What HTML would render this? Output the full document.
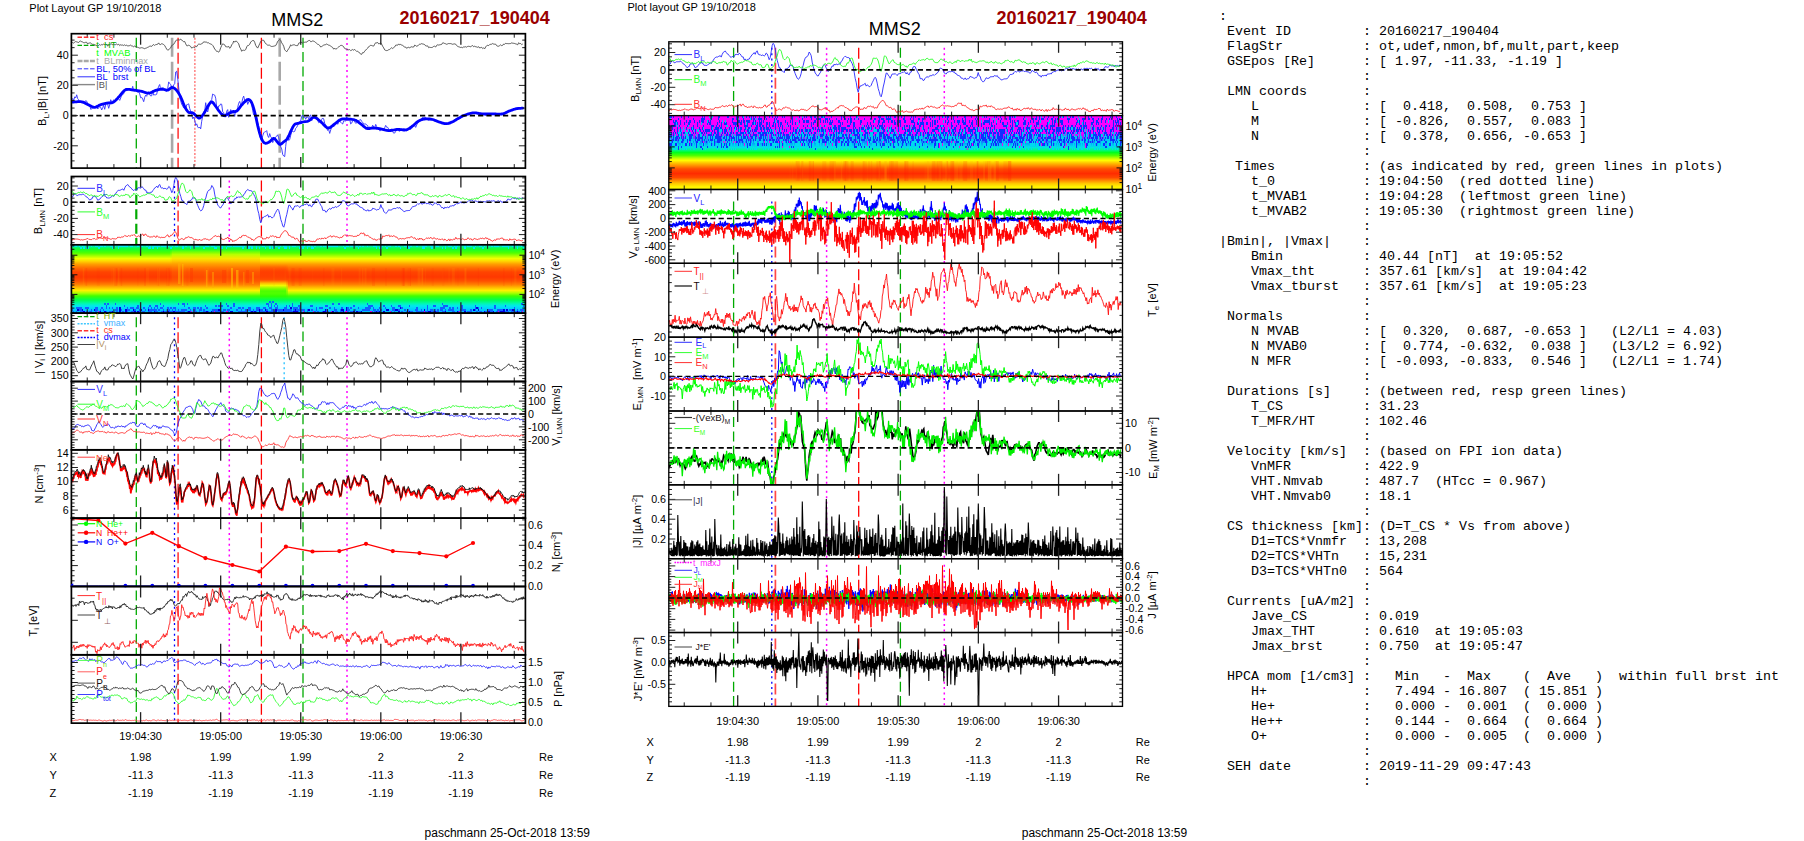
<!DOCTYPE html><html><head><meta charset="utf-8"><title>MMS2 20160217_190404</title><style>html,body{margin:0;padding:0;background:#fff}body{width:1804px;height:841px;overflow:hidden;font-family:"Liberation Sans",sans-serif}svg{display:block;position:absolute;left:0;top:0}text{font-kerning:none}</style></head><body><svg width="1804" height="841" viewBox="0 0 1804 841" font-family='"Liberation Sans", sans-serif'><defs><clipPath id="cl0"><rect x="71.40" y="33.70" width="454.00" height="134.40"/></clipPath><clipPath id="cl1"><rect x="71.40" y="176.50" width="454.00" height="68.33"/></clipPath><clipPath id="cl2"><rect x="71.40" y="244.83" width="454.00" height="68.33"/></clipPath><clipPath id="cl3"><rect x="71.40" y="313.16" width="454.00" height="68.33"/></clipPath><clipPath id="cl4"><rect x="71.40" y="381.49" width="454.00" height="68.33"/></clipPath><clipPath id="cl5"><rect x="71.40" y="449.82" width="454.00" height="68.33"/></clipPath><clipPath id="cl6"><rect x="71.40" y="518.15" width="454.00" height="68.33"/></clipPath><clipPath id="cl7"><rect x="71.40" y="586.48" width="454.00" height="68.33"/></clipPath><clipPath id="cl8"><rect x="71.40" y="654.81" width="454.00" height="68.33"/></clipPath></defs><line x1="136.30" y1="37.70" x2="136.30" y2="168.10" stroke="#00aa00" stroke-width="1.3" stroke-dasharray="10 4.4"/><line x1="303.00" y1="37.70" x2="303.00" y2="168.10" stroke="#00aa00" stroke-width="1.3" stroke-dasharray="10 4.4"/><line x1="172.10" y1="37.70" x2="172.10" y2="168.10" stroke="#a8a8a8" stroke-width="2.6" stroke-dasharray="19 5"/><line x1="279.70" y1="37.70" x2="279.70" y2="168.10" stroke="#a8a8a8" stroke-width="2.6" stroke-dasharray="19 5"/><line x1="178.10" y1="37.70" x2="178.10" y2="168.10" stroke="#ff3030" stroke-width="1.5" stroke-dasharray="11 4"/><line x1="261.40" y1="37.70" x2="261.40" y2="168.10" stroke="#ff0000" stroke-width="1.3" stroke-dasharray="11 4"/><line x1="194.90" y1="37.70" x2="194.90" y2="168.10" stroke="#ff5050" stroke-width="1.1" stroke-dasharray="2 1.6"/><line x1="347.00" y1="37.70" x2="347.00" y2="168.10" stroke="#ff00ff" stroke-width="1.5" stroke-dasharray="2 3.4"/><g clip-path="url(#cl0)"><path d="M71.7 42l1 .7 1 .4 1-.9 1-.7 1 .4 1 .3 1 .3 1-1.2 1-.4 1 1 1 .1 1 .7 1 0 1-.4 1 0 1 1.8 1-.9 1-.2 1 0 1 .9 1 .5 1 0 1 .4 1 .4 1 .4 1 .4 1-.4 1-1.2 1 1 1-1 1 .4 1-.7 1 .5 1-.4 1 .4 1 1.6 1-1.5 1 .2 1-1.1 1 .3 1 .6 1-.3 1 .3 1-.1 1-.6 1 .8 1-.6 1 1.4 1-.9 1 .5 1-.2 1 .5 1-.7 1 .8 1-.4 1 .7 1-.1 1-.2 1-.5 1 .9 1 .1 1 .7 1-.8 1 .6 1 .4 1 .3 1 .4 1 .4 1-.2 1-.2 1 .2 1 .4 1 .4 1-.5 1-.3 1-.6 1-.4 1-.7 1-.1 1 .3 1-1.2 1-.7 1 1 1-1 1 0 1-.3 1-1.3 1 1.6 1 0 1-.8 1 .3 1 .6 1 .9 1 1.9 1 1.7 1 1.1 1-.4 1-1.3 1-.7 1-2.3 1-.5 1-.7 1-1.6 1-2 1-.6 1-.1 1-.3 1 .4 1-1.1 1 .9 1 1.2 1 .6 1-.2 1 2.3 1 1.9 1 0 1-.5 1 .5 1 .8 1 1.6 1-.6 1-.4 1 .5 1-1.2 1 .3 1-1.8 1-.8 1 .1 1 .1 1-.6 1-.5 1-1.4 1 .2 1 .1 1 .1 1 .7 1-.1 1 .9 1 .3 1 .4 1 1 1 1.6 1 2 1 1.1 1 1.4 1-.1 1 .8 1-1.5 1-2.9 1-2.3 1-1.7 1 .5 1 .5 1 1.9 1 .1 1 .1 1-.5 1 1.9 1-1 1-2.5 1-1.1 1-2.7 1 1.2 1-1.2 1 .3 1 1.3 1 1.2 1 3.4 1 1.6 1 2.5 1-1 1-.1 1 .2 1-.8 1-2.7 1-1.5 1 0 1-1.1 1-2.2 1-1 1-.6 1 0 1 1.8 1 3.1 1 1.6 1 1.1 1-2.2 1-2.1 1-2.4 1-.6 1-.6 1 .1 1 1.9 1 1.5 1 .6 1 .9 1 0 1 0 1 .9 1 .4 1-.1 1-.2 1-.3 1-.3 1-1.8 1-2.5 1-.8 1-1.1 1 1 1 2.4 1 1.5 1 1.9 1 3.6 1 1 1 1 1-1.6 1-1.5 1-1.6 1-2.3 1 .9 1-.7 1-.2 1 .1 1 .6 1 .1 1 0 1-2.4 1-.2 1-1.2 1 .8 1 .4 1-.9 1 .2 1-.2 1 .1 1-1.2 1-.4 1-.2 1 1.3 1-.2 1-.6 1 .3 1 .5 1 .9 1 .8 1 .9 1 .3 1 .9 1 1.5 1-.5 1-.7 1-.7 1-.3 1-.2 1-.6 1 .6 1 .6 1 .2 1 .7 1 .7 1 .7 1 1.7 1-1.1 1 1.1 1-.5 1-1 1-.9 1-.5 1-.9 1 0 1 .4 1 1.1 1 1.6 1 .4 1 .3 1 .4 1 .2 1-.2 1 1 1-.5 1-.6 1 .7 1-.8 1 1.1 1 1 1-.2 1 .7 1 1 1 1.2 1 .1 1-1.8 1 .2 1-1.5 1-1.1 1-1.1 1-.8 1-1.6 1-.5 1-.8 1 .2 1 .4 1 .2 1-1.9 1-1.5 1 .2 1-.4 1 1.4 1-.4 1-.6 1 1.4 1 2 1 1.6 1 2 1 .5 1 .2 1-.2 1-.7 1-.3 1-.9 1-.8 1 .8 1-.9 1-.7 1-1.7 1-.1 1 .1 1-1.3 1 1 1-.5 1 .7 1 .3 1 .7 1 1.2 1-.3 1 1.4 1-.9 1-.2 1 .7 1-1.1 1-.1 1 .3 1-.1 1-1.9 1 .5 1 .7 1-.4 1-1.1 1-.6 1 0 1-.6 1 .4 1 .2 1 .4 1 1.3 1 .1 1-.1 1 1.8 1-.5 1 .3 1 0 1-.3 1-.8 1-.2 1 .8 1-1.7 1-.5 1 .3 1-.3 1-.2 1-.2 1-1.6 1 .2 1 .5 1 .3 1 .5 1-.4 1-.4 1 .1 1 0 1 .3 1 .4 1-.3 1-.1 1 .3 1 1.4 1 .8 1 .4 1 .3 1 .4 1-.2 1 .4 1-.8 1 .1 1-.3 1 .5 1-.8 1-.1 1 .2 1 .4 1-1.1 1-.2 1 1.1 1-.7 1 1 1-.1 1 .4 1-.6 1 1.3 1-.4 1-.3 1 1.3 1-.8 1 1 1-1.9 1-1.2 1-.4 1 .3 1-1.1 1-.2 1-.1 1-.7 1 .6 1 .1 1 0 1 1.5 1 .5 1 0 1-.6 1-.8 1 .9 1-.4 1-1.3 1 .3 1-1 1 .3 1 0 1 .1 1-.1 1-.1 1-.6 1 .3 1 .1 1 .2 1 .4 1 .3 1 .6 1-2.1 1 1 1-.2 1 1.1 1-.6" fill="none" stroke="#4a4a4a" stroke-width="0.9" /><path d="M71.7 100l1-1.5 1 2.1 1-3.8 1 1.1 1-3.1 1 3.9 1 1.1 1 3 1-1.2 1 .9 1-.5 1-.9 1 1.1 1-1.6 1 .6 1 2.5 1 .8 1-.2 1 5 1-.3 1-1.3 1 .4 1-1.2 1-.8 1-.8 1 3.7 1-1.3 1-.8 1 .4 1 2.7 1-2.3 1-2.4 1 4 1-4.6 1-1.3 1 1 1 3.9 1-3.3 1-5.3 1 2.1 1-1 1-.8 1 .7 1-.4 1-.5 1-2.1 1 1.4 1 1.3 1-2.4 1-3 1-.3 1-.9 1-3.6 1-1.5 1 2 1-.6 1-.9 1 .6 1 0 1 .2 1-3.7 1 4.6 1 .3 1-1.9 1 2.4 1 .5 1-.2 1 1.9 1 3.9 1-.5 1 1.8 1 2.6 1-4.4 1-2.1 1 1.1 1-4.2 1-.2 1 2.8 1 1.3 1-.2 1-5.3 1 4.6 1-.4 1 .1 1-.5 1-5 1-3 1-1.8 1 5.2 1-1.9 1 0 1 .1 1 1.9 1 1.2 1 .4 1-3 1-6.5 1 1.7 1 .8 1 3.5 1-.4 1-2.6 1-1.1 1-11.8 1-.8 1 7.1 1 9.3 1 10.2 1 3 1 3.5 1 1.6 1 2.1 1 .4 1 .8 1-4.5 1-.3 1-.6 1 4.7 1 2.9 1 3.3 1 4 1-1.7 1 3 1 5.3 1-1.5 1 3.1 1 1.2 1-1.1 1 1.9 1-7.6 1-5.1 1-4.6 1-.3 1-8.6 1 7 1 2.3 1-4.3 1-5.3 1-1.5 1-1.4 1-5.5 1 .7 1 .4 1 3.1 1 9 1 2.5 1-3.8 1-.2 1-1.8 1 .4 1 7.5 1 .8 1 4.4 1-.2 1-5.6 1-1.6 1 7.7 1-3.9 1-3.8 1 3.9 1-.6 1-.4 1 3.9 1-6.3 1 1.1 1-3.8 1-4.2 1-1.8 1 3.4 1-1.2 1-5.3 1-2.2 1 4.6 1 1.9 1-3.8 1 5.6 1-2.4 1-3 1 1 1 4.3 1 6.3 1 4.5 1 .7 1 1.6 1 .1 1 5.4 1 3.6 1 8.9 1 3.9 1 .9 1-4.3 1-3 1-1.1 1-.2 1-1 1 5.1 1 1.8 1-3.9 1 3.2 1 1.1 1 4.7 1-2.2 1-1 1-2.3 1-1 1-1.3 1 3 1 4.3 1 4.6 1 2.2 1 5.6 1 1.5 1 .6 1-10.3 1-8.6 1-2 1 4.8 1-.9 1-4.2 1-3.8 1-.2 1 .4 1-.4 1-3.1 1-1 1-2 1-1.4 1-2.4 1-.5 1-4.7 1-1.3 1 2.8 1-1.1 1 2.6 1-2.4 1 .2 1 1.6 1-2.5 1-1.4 1 6 1-2.9 1-2 1-.8 1 1.1 1 1 1 3.3 1 2.2 1-.8 1-.2 1-2.3 1-1.4 1 1 1 4.3 1 1.9 1 3 1 2.3 1-1 1 3.9 1-3.4 1-2.9 1-2 1 1.8 1-1.6 1-2.8 1 .3 1 1.5 1-1.9 1-1.7 1 1.6 1 1 1 .7 1-3.2 1 .1 1 .2 1-4.4 1 3.3 1 0 1-.9 1 4.9 1-.9 1-2.5 1-.2 1 1.3 1 1.6 1-.4 1-1.8 1-.6 1-.4 1-.5 1 1.9 1 .8 1 1.9 1-.2 1-.1 1 1.2 1 .5 1 3.1 1-1.9 1 .7 1 0 1-2.3 1 2.1 1 .6 1-3.5 1 2.2 1 2.2 1-1.3 1 3.3 1-.2 1-2.1 1 1.3 1-.4 1-1.7 1-2.3 1 1.9 1 0 1 1.9 1 1 1-.7 1-.5 1 2.6 1 1.6 1-.2 1-1.6 1-1.8 1-.6 1 2 1 .2 1-.7 1-1.5 1 .5 1-.7 1 .3 1 1 1 .8 1-.6 1-1.2 1-.5 1 .9 1-1 1-2.7 1 .8 1-1.1 1 1.9 1-2.5 1-1.6 1-1.4 1-.5 1-1.2 1-1.6 1-1.5 1 .3 1 0 1-.1 1 2.1 1 .4 1 .6 1-.7 1 .1 1-.2 1 0 1 .8 1 .6 1 .3 1 .3 1-.6 1 .1 1 .8 1 .2 1 0 1 .7 1-.1 1 0 1 .8 1-.1 1 .7 1-.1 1-.1 1-.1 1-1.9 1-.4 1-1.2 1-.6 1-.4 1 .2 1-.6 1 .2 1-1 1-.7 1-.6 1-.1 1-.7 1-.8 1-.5 1-1 1 .5 1 0 1-.2 1-.2 1-.7 1-.3 1 .3 1-.5 1-.2 1 1 1 .8 1 0 1 .2 1 0 1 .6 1-.5 1-.1 1 .1 1 .5 1-.4 1-.1 1-.4 1-.3 1-.3 1 .1 1 .5 1-.4 1-.1 1 0 1 .3 1 .4 1-.6 1 .3 1-.4 1 .4 1-.5 1-.6 1-.4 1-.3 1-.7 1-.2 1-.3 1-.4 1-.2 1 0 1-.7 1-.3 1-.3 1-1 1 .2 1-.3 1-.3 1 0 1 .2 1 .2 1 .2" fill="none" stroke="#3030ff" stroke-width="0.9" /><path d="M71.7 102.1l1 0 1-.1 1-.1 1 0 1-.1 1-.1 1-.1 1 0 1 .1 1 .1 1 .3 1 .4 1 .4 1 .5 1 .5 1 .5 1 .5 1 .5 1 .5 1 .6 1 .4 1 .3 1 .1 1-.2 1-.4 1-.5 1-.6 1-.5 1-.4 1-.3 1-.3 1-.3 1-.2 1-.2 1-.2 1-.2 1-.1 1 0 1 0 1-.1 1-.3 1-.5 1-.8 1-.9 1-1.1 1-1.1 1-1.2 1-1 1-1.2 1-1.2 1-1.3 1-1.1 1-.9 1-.5 1-.3 1-.1 1 0 1 .1 1 .2 1 .2 1 .2 1 .1 1 .1 1 .2 1 .1 1 .2 1 .2 1 .1 1 .2 1 .2 1 .3 1 .3 1 .3 1 .4 1 .3 1 .2 1 0 1-.2 1-.3 1-.4 1-.5 1-.5 1-.5 1-.4 1-.3 1-.3 1-.2 1-.2 1-.1 1-.1 1 .1 1 .2 1 .2 1 .3 1 .1 1 0 1-.4 1-.8 1-.8 1-.6 1 .1 1 .3 1 .6 1 .9 1 1.1 1 1.3 1 1.5 1 1.8 1 1.9 1 2.3 1 2.5 1 2.6 1 2.3 1 1.9 1 1.6 1 1.3 1 .8 1 .3 1 0 1 0 1 .2 1 .7 1 1 1 1 1 1 1 .8 1 .7 1 0 1-.7 1-1 1-1.2 1-1.4 1-1.5 1-1.9 1-1.9 1-1.9 1-1.6 1-1.4 1-1.2 1-.5 1 .5 1 1.2 1 1.5 1 1.3 1 1.4 1 1.5 1 1.5 1 1.2 1 1.2 1 1.1 1 .8 1 .6 1 0 1-.3 1-.6 1-.6 1-.5 1-.6 1-.6 1-.5 1-.3 1-.1 1 .1 1 0 1-.5 1-.9 1-1.2 1-1.4 1-1.4 1-1.3 1-1 1-1.1 1-1 1-.9 1-.8 1-.5 1-.1 1 .5 1 1 1 1.8 1 2.5 1 3.1 1 3.6 1 4.1 1 4.8 1 4.7 1 4 1 3.7 1 3.2 1 2.7 1 1.8 1 1.3 1 .7 1 .3 1-.1 1-.4 1-.5 1-.6 1-.9 1-1.1 1-.9 1-.4 1 .4 1 1.1 1 1.3 1 1.1 1 1.3 1 .8 1-.2 1-.6 1-.9 1-.9 1-.7 1-.7 1-.9 1-1.3 1-2 1-2.5 1-2.4 1-2 1-2 1-1.7 1-1.2 1-.6 1-.2 1-.2 1-.2 1-.3 1-.3 1-.3 1-.3 1-.2 1-.1 1 0 1-.2 1-.2 1-.5 1-.7 1-.9 1-.8 1-.7 1-.4 1 .1 1 .4 1 .6 1 .8 1 .8 1 .9 1 .8 1 .9 1 1 1 1.1 1 1 1 1 1 .8 1 .5 1 0 1-.3 1-.6 1-.8 1-.8 1-.8 1-.7 1-.8 1-.8 1-.9 1-.8 1-.7 1-.5 1-.4 1-.2 1-.1 1 0 1 .1 1 .1 1 0 1 .1 1 .1 1 0 1 .1 1 .2 1 .2 1 .3 1 .3 1 .6 1 .6 1 .8 1 .8 1 .8 1 .8 1 .8 1 .9 1 .8 1 .7 1 .5 1 .1 1 .1 1-.1 1-.2 1-.1 1-.2 1 0 1 .1 1 .1 1 .1 1 .1 1 .2 1 .1 1 .2 1 .2 1 .2 1 .3 1 .3 1 .2 1 .2 1 .2 1 .1 1 0 1-.1 1-.1 1-.2 1-.2 1-.2 1-.2 1-.1 1-.1 1 0 1 .1 1 .1 1 .1 1 .2 1 .1 1 0 1-.1 1-.3 1-.4 1-.5 1-.6 1-.8 1-.7 1-.8 1-.7 1-.9 1-.9 1-.9 1-.8 1-.6 1-.5 1-.5 1-.3 1-.3 1-.2 1-.2 1-.1 1 0 1 0 1 0 1 .1 1 .1 1 .2 1 .2 1 .3 1 .4 1 .4 1 .4 1 .5 1 .3 1 .4 1 .3 1 .3 1 .3 1 .3 1 .2 1 .1 1 0 1-.2 1-.2 1-.4 1-.3 1-.5 1-.4 1-.5 1-.6 1-.6 1-.7 1-.5 1-.6 1-.5 1-.6 1-.5 1-.5 1-.5 1-.4 1-.4 1-.3 1-.4 1-.3 1-.3 1-.2 1-.2 1-.2 1-.1 1 0 1 .1 1 .1 1 .2 1 .2 1 .2 1 .1 1 .1 1 .1 1 0 1 .1 1 0 1 0 1-.1 1 0 1 0 1 0 1 0 1 0 1 0 1 0 1 .1 1 .1 1 0 1 0 1 0 1 0 1-.1 1-.1 1-.2 1-.4 1-.5 1-.5 1-.5 1-.5 1-.5 1-.3 1-.4 1-.3 1-.4 1-.2 1-.3 1-.2 1-.2 1-.1 1-.1 1 0 1-.1 1 0" fill="none" stroke="#0000ff" stroke-width="2.8" stroke-linejoin="round" stroke-linecap="round"/></g><line x1="71.40" y1="115.60" x2="525.40" y2="115.60" stroke="#000" stroke-width="1.7" stroke-dasharray="5.2 3.1"/><line x1="87.22" y1="33.70" x2="87.22" y2="37.70" stroke="#222" stroke-width="1.0" /><line x1="87.22" y1="168.10" x2="87.22" y2="164.10" stroke="#222" stroke-width="1.0" /><line x1="113.91" y1="33.70" x2="113.91" y2="37.70" stroke="#222" stroke-width="1.0" /><line x1="113.91" y1="168.10" x2="113.91" y2="164.10" stroke="#222" stroke-width="1.0" /><line x1="140.60" y1="33.70" x2="140.60" y2="44.70" stroke="#222" stroke-width="1.3" /><line x1="140.60" y1="168.10" x2="140.60" y2="157.10" stroke="#222" stroke-width="1.3" /><line x1="167.29" y1="33.70" x2="167.29" y2="37.70" stroke="#222" stroke-width="1.0" /><line x1="167.29" y1="168.10" x2="167.29" y2="164.10" stroke="#222" stroke-width="1.0" /><line x1="193.98" y1="33.70" x2="193.98" y2="37.70" stroke="#222" stroke-width="1.0" /><line x1="193.98" y1="168.10" x2="193.98" y2="164.10" stroke="#222" stroke-width="1.0" /><line x1="220.67" y1="33.70" x2="220.67" y2="44.70" stroke="#222" stroke-width="1.3" /><line x1="220.67" y1="168.10" x2="220.67" y2="157.10" stroke="#222" stroke-width="1.3" /><line x1="247.36" y1="33.70" x2="247.36" y2="37.70" stroke="#222" stroke-width="1.0" /><line x1="247.36" y1="168.10" x2="247.36" y2="164.10" stroke="#222" stroke-width="1.0" /><line x1="274.05" y1="33.70" x2="274.05" y2="37.70" stroke="#222" stroke-width="1.0" /><line x1="274.05" y1="168.10" x2="274.05" y2="164.10" stroke="#222" stroke-width="1.0" /><line x1="300.74" y1="33.70" x2="300.74" y2="44.70" stroke="#222" stroke-width="1.3" /><line x1="300.74" y1="168.10" x2="300.74" y2="157.10" stroke="#222" stroke-width="1.3" /><line x1="327.43" y1="33.70" x2="327.43" y2="37.70" stroke="#222" stroke-width="1.0" /><line x1="327.43" y1="168.10" x2="327.43" y2="164.10" stroke="#222" stroke-width="1.0" /><line x1="354.12" y1="33.70" x2="354.12" y2="37.70" stroke="#222" stroke-width="1.0" /><line x1="354.12" y1="168.10" x2="354.12" y2="164.10" stroke="#222" stroke-width="1.0" /><line x1="380.81" y1="33.70" x2="380.81" y2="44.70" stroke="#222" stroke-width="1.3" /><line x1="380.81" y1="168.10" x2="380.81" y2="157.10" stroke="#222" stroke-width="1.3" /><line x1="407.50" y1="33.70" x2="407.50" y2="37.70" stroke="#222" stroke-width="1.0" /><line x1="407.50" y1="168.10" x2="407.50" y2="164.10" stroke="#222" stroke-width="1.0" /><line x1="434.19" y1="33.70" x2="434.19" y2="37.70" stroke="#222" stroke-width="1.0" /><line x1="434.19" y1="168.10" x2="434.19" y2="164.10" stroke="#222" stroke-width="1.0" /><line x1="460.88" y1="33.70" x2="460.88" y2="44.70" stroke="#222" stroke-width="1.3" /><line x1="460.88" y1="168.10" x2="460.88" y2="157.10" stroke="#222" stroke-width="1.3" /><line x1="487.57" y1="33.70" x2="487.57" y2="37.70" stroke="#222" stroke-width="1.0" /><line x1="487.57" y1="168.10" x2="487.57" y2="164.10" stroke="#222" stroke-width="1.0" /><line x1="514.26" y1="33.70" x2="514.26" y2="37.70" stroke="#222" stroke-width="1.0" /><line x1="514.26" y1="168.10" x2="514.26" y2="164.10" stroke="#222" stroke-width="1.0" /><line x1="71.40" y1="160.90" x2="74.60" y2="160.90" stroke="#222" stroke-width="1" /><line x1="525.40" y1="160.90" x2="522.20" y2="160.90" stroke="#222" stroke-width="1" /><line x1="71.40" y1="153.35" x2="74.60" y2="153.35" stroke="#222" stroke-width="1" /><line x1="525.40" y1="153.35" x2="522.20" y2="153.35" stroke="#222" stroke-width="1" /><line x1="71.40" y1="145.80" x2="77.90" y2="145.80" stroke="#222" stroke-width="1" /><line x1="525.40" y1="145.80" x2="518.90" y2="145.80" stroke="#222" stroke-width="1" /><line x1="71.40" y1="138.25" x2="74.60" y2="138.25" stroke="#222" stroke-width="1" /><line x1="525.40" y1="138.25" x2="522.20" y2="138.25" stroke="#222" stroke-width="1" /><line x1="71.40" y1="130.70" x2="74.60" y2="130.70" stroke="#222" stroke-width="1" /><line x1="525.40" y1="130.70" x2="522.20" y2="130.70" stroke="#222" stroke-width="1" /><line x1="71.40" y1="123.15" x2="74.60" y2="123.15" stroke="#222" stroke-width="1" /><line x1="525.40" y1="123.15" x2="522.20" y2="123.15" stroke="#222" stroke-width="1" /><line x1="71.40" y1="115.60" x2="77.90" y2="115.60" stroke="#222" stroke-width="1" /><line x1="525.40" y1="115.60" x2="518.90" y2="115.60" stroke="#222" stroke-width="1" /><line x1="71.40" y1="108.05" x2="74.60" y2="108.05" stroke="#222" stroke-width="1" /><line x1="525.40" y1="108.05" x2="522.20" y2="108.05" stroke="#222" stroke-width="1" /><line x1="71.40" y1="100.50" x2="74.60" y2="100.50" stroke="#222" stroke-width="1" /><line x1="525.40" y1="100.50" x2="522.20" y2="100.50" stroke="#222" stroke-width="1" /><line x1="71.40" y1="92.95" x2="74.60" y2="92.95" stroke="#222" stroke-width="1" /><line x1="525.40" y1="92.95" x2="522.20" y2="92.95" stroke="#222" stroke-width="1" /><line x1="71.40" y1="85.40" x2="77.90" y2="85.40" stroke="#222" stroke-width="1" /><line x1="525.40" y1="85.40" x2="518.90" y2="85.40" stroke="#222" stroke-width="1" /><line x1="71.40" y1="77.85" x2="74.60" y2="77.85" stroke="#222" stroke-width="1" /><line x1="525.40" y1="77.85" x2="522.20" y2="77.85" stroke="#222" stroke-width="1" /><line x1="71.40" y1="70.30" x2="74.60" y2="70.30" stroke="#222" stroke-width="1" /><line x1="525.40" y1="70.30" x2="522.20" y2="70.30" stroke="#222" stroke-width="1" /><line x1="71.40" y1="62.75" x2="74.60" y2="62.75" stroke="#222" stroke-width="1" /><line x1="525.40" y1="62.75" x2="522.20" y2="62.75" stroke="#222" stroke-width="1" /><line x1="71.40" y1="55.20" x2="77.90" y2="55.20" stroke="#222" stroke-width="1" /><line x1="525.40" y1="55.20" x2="518.90" y2="55.20" stroke="#222" stroke-width="1" /><line x1="71.40" y1="47.65" x2="74.60" y2="47.65" stroke="#222" stroke-width="1" /><line x1="525.40" y1="47.65" x2="522.20" y2="47.65" stroke="#222" stroke-width="1" /><line x1="71.40" y1="40.10" x2="74.60" y2="40.10" stroke="#222" stroke-width="1" /><line x1="525.40" y1="40.10" x2="522.20" y2="40.10" stroke="#222" stroke-width="1" /><text x="68.60" y="58.90" font-size="10.7" text-anchor="end" fill="#000" >40</text><text x="68.60" y="89.10" font-size="10.7" text-anchor="end" fill="#000" >20</text><text x="68.60" y="119.30" font-size="10.7" text-anchor="end" fill="#000" >0</text><text x="68.60" y="149.50" font-size="10.7" text-anchor="end" fill="#000" >-20</text><rect x="71.40" y="33.70" width="454.00" height="134.40" fill="none" stroke="#000" stroke-width="1.7"/><line x1="77.50" y1="37.30" x2="95.00" y2="37.30" stroke="#ff3030" stroke-width="1.5" stroke-dasharray="4.5 1.8"/><text x="96.30" y="40.30" font-size="9.3" text-anchor="start" fill="#ff2020" >t&#160;&#160;cs</text><line x1="77.50" y1="45.30" x2="95.00" y2="45.30" stroke="#00aa00" stroke-width="1.3" stroke-dasharray="4.5 1.8"/><text x="96.30" y="48.30" font-size="9.3" text-anchor="start" fill="#00aa00" >t&#160;&#160;HT</text><text x="96.30" y="56.30" font-size="9.3" text-anchor="start" fill="#00ff00" >t&#160;&#160;MVAB</text><line x1="77.50" y1="61.00" x2="95.00" y2="61.00" stroke="#a8a8a8" stroke-width="2.6" stroke-dasharray="5 1.2"/><text x="96.30" y="64.00" font-size="9.3" text-anchor="start" fill="#a8a8a8" >t&#160;&#160;BLminmax</text><line x1="77.50" y1="68.80" x2="95.00" y2="68.80" stroke="#3030ff" stroke-width="1.0" stroke-dasharray="4.5 1.8"/><text x="96.30" y="71.80" font-size="9.3" text-anchor="start" fill="#0000ff" >BL, 50% of BL</text><line x1="77.50" y1="76.80" x2="95.00" y2="76.80" stroke="#3030ff" stroke-width="1.0"/><text x="96.30" y="79.80" font-size="9.3" text-anchor="start" fill="#0000ff" >BL&#160;&#160;brst</text><line x1="72.00" y1="84.60" x2="95.00" y2="84.60" stroke="#888" stroke-width="1.4"/><text x="96.30" y="87.60" font-size="9.3" text-anchor="start" fill="#555" >|B|</text><text transform="translate(46.20,101.00) rotate(-90)" font-size="11" text-anchor="middle" fill="#000">B<tspan font-size="8" dy="2.5">L</tspan><tspan dy="-2.5" font-size="1">&#8203;</tspan>,|B| [nT]</text><line x1="136.30" y1="180.50" x2="136.30" y2="244.83" stroke="#00aa00" stroke-width="2.2" stroke-dasharray="10 4.4"/><line x1="303.00" y1="180.50" x2="303.00" y2="244.83" stroke="#00aa00" stroke-width="1.3" stroke-dasharray="10 4.4"/><line x1="178.10" y1="180.50" x2="178.10" y2="244.83" stroke="#ff4848" stroke-width="1.7" stroke-dasharray="11 4"/><line x1="261.40" y1="180.50" x2="261.40" y2="244.83" stroke="#ff0000" stroke-width="1.3" stroke-dasharray="11 4"/><line x1="174.50" y1="180.50" x2="174.50" y2="244.83" stroke="#0000ff" stroke-width="1.3" stroke-dasharray="2 3.4"/><line x1="229.30" y1="180.50" x2="229.30" y2="244.83" stroke="#ff00ff" stroke-width="1.5" stroke-dasharray="2 3.4"/><line x1="347.00" y1="180.50" x2="347.00" y2="244.83" stroke="#ff00ff" stroke-width="1.5" stroke-dasharray="2 3.4"/><g clip-path="url(#cl1)"><path d="M71.8 197.1l1-.4 1-2.3 1-.8 1 .7 1 1.3 1-.2 1-.7 1 0 1-.1 1 .1 1-.6 1 .3 1 1 1 1.2 1 .3 1 1.2 1 .8 1 1.3 1-1 1-.2 1-2.4 1 .1 1-.5 1 .6 1 1.7 1 1.8 1-.7 1-.4 1-1.3 1-1.2 1-.3 1-1.5 1 1.4 1 .1 1 1.6 1-.1 1 .2 1-.1 1-1.1 1-.2 1-1.2 1 .9 1-2.2 1-.6 1-1.9 1-.9 1-.6 1 .2 1-.5 1-.5 1-.5 1 1.4 1-2.5 1-1.9 1-.6 1-.8 1 1.4 1 1.3 1 .4 1 1.3 1 1.1 1 .6 1-1.1 1 .7 1-.3 1-2 1-.2 1 .1 1 .4 1-1.6 1 .8 1 1.4 1 1.4 1-.1 1 2.8 1-.9 1 1.5 1-.9 1-.3 1-.1 1-1.6 1-1.3 1-1.5 1-.5 1-1.2 1 1.6 1-2.5 1-.7 1 3 1 .6 1-.3 1 1.1 1-.6 1 .3 1 .7 1-.8 1-2.1 1 .9 1 2.5 1 2.9 1-2.1 1-5.2 1-6 1-2 1 1.4 1 3.9 1 6.3 1 4.4 1 3.1 1 3.9 1-.1 1 2.6 1 .2 1 .6 1 1 1-3.3 1-.2 1 0 1-1.2 1-.4 1-2.2 1 1.1 1-.8 1 1.7 1 3.7 1 2.5 1 2.3 1 2.1 1 .9 1-.6 1-1.8 1-3.1 1-5 1-2.4 1-4 1-2.7 1-1.1 1-.3 1-1.4 1-3 1 1.3 1 2.1 1 6 1 4.2 1 3 1 3 1 1.1 1 1.5 1 .2 1-1.8 1-1.2 1-2 1-2.2 1-2.6 1-.8 1 .9 1 2.2 1 1 1 2.4 1-1.1 1-.9 1-1.4 1-1.9 1 .4 1-2.1 1 .9 1-1.1 1 .8 1-.5 1-.1 1-.3 1-2.2 1-.7 1-2.4 1-.8 1-.9 1 .7 1 .5 1-.1 1 .4 1 1.8 1 1.8 1 1.8 1 2.6 1 5.3 1 5.8 1 3.6 1 5.9 1 3.3 1-3.6 1-2.2 1 .2 1-1 1-.2 1-.7 1-.8 1 2.7 1-1.1 1 .4 1 1.3 1-.3 1-1 1-2.5 1-1.8 1-2 1-1.2 1 1.5 1 3.9 1 5 1 3 1 3.5 1 1.2 1-3.5 1-5.6 1-3.7 1-4.8 1-4.4 1 0 1 1.9 1 1 1 2 1-2.2 1-1.9 1 0 1 .1 1-.6 1 1.1 1 .9 1-1.6 1-.2 1-.2 1-.2 1-1 1 .3 1-.9 1 .7 1 1.7 1-1.5 1 1.7 1 .5 1-2.4 1-.1 1-2.5 1-2.5 1-.2 1 .1 1 2.3 1 1.8 1 2 1 1.4 1 3.7 1 0 1-.1 1 1.9 1-.5 1-1.7 1-1 1-.5 1 .8 1-1.3 1-.6 1 .6 1-1.1 1-.3 1 .9 1-1.1 1-.3 1-1.2 1-.6 1-2.8 1-.8 1 .1 1 .4 1 1.2 1 2.7 1 .6 1 .3 1-1.4 1-.3 1-.6 1 .3 1-.3 1-.5 1 1.1 1-.5 1 1.7 1 .1 1 1.5 1 .2 1 .4 1 .4 1 1.8 1-.1 1 .9 1 .2 1-1.3 1 1.6 1-.7 1 0 1-.5 1-1.9 1 .6 1 .3 1 .5 1 .7 1-.8 1 .1 1-1.2 1-3.7 1 3.2 1 .4 1 3.5 1 .6 1 1.2 1-.9 1-1.4 1-1.7 1 .7 1-.2 1-.1 1-1.3 1 0 1-.2 1 .3 1-1.1 1 .1 1 .5 1-.7 1 1.6 1 .5 1 .7 1 1.3 1-.1 1-.6 1-.3 1 0 1-.1 1-.1 1-1.2 1-1.5 1-1.3 1 .2 1-.5 1-.1 1-1.5 1-1 1 .9 1-.9 1-.8 1 1.5 1-.4 1-.6 1 .1 1-.6 1 1.2 1-.5 1 .3 1 .4 1-.4 1 1.3 1 .2 1-.8 1-1.9 1 1 1 .2 1 1.2 1-.8 1 .7 1 1.7 1 1.3 1-.4 1 1.6 1-1.8 1 .5 1-.1 1-.6 1 .9 1-1.7 1-.2 1 0 1-.5 1 .5 1-1.6 1 0 1-1 1 .6 1-1 1 0 1-1.3 1 1.4 1-.8 1 .8 1-.3 1-.3 1 0 1-.8 1-1.1 1 .2 1-.1 1-.9 1 1.1 1 .6 1-.5 1 0 1 .4 1 .5 1-.9 1 1 1-.8 1 .8 1 .1 1-1 1 1.1 1-.3 1-1.3 1 .5 1-.2 1-.2 1 .7 1-.7 1 .5 1-.6 1 .6 1 1.3 1-.7 1-1.2 1 .4 1 .6 1-.8 1 1.7 1-.5 1 0 1 0 1-.5 1-.6 1-1.8 1 .2 1 .5 1-.2 1-.9 1-1.2 1 .8 1 .3 1-.8 1 1.6 1-1.5 1 .6 1-.6 1 1.2 1-1.3 1 .2" fill="none" stroke="#2828ff" stroke-width="0.9" /><path d="M71.8 191.8l1-.1 1 2.9 1-1.2 1 .1 1 .2 1-.9 1-.5 1 .4 1-.9 1 .9 1-.3 1-.5 1 .9 1 .9 1-.3 1 1.4 1 .1 1 .9 1-1.1 1 .5 1 .6 1 .3 1-.9 1 1.7 1-1.2 1 1.1 1-1 1-.4 1-.9 1 .3 1 1.3 1-2.2 1 1.1 1 0 1-.8 1 1.3 1 .5 1-.8 1-.2 1 .9 1-.6 1 .9 1-1.2 1-1 1 1 1-.4 1 1.6 1 .2 1-.7 1-.5 1 .8 1-1.1 1 .7 1-1.5 1 .6 1 .2 1 .1 1 2.7 1-.5 1-1.9 1 .2 1-2.4 1 1.3 1-.3 1-.5 1 1 1 1.5 1 .8 1-.5 1-.7 1-.1 1-.7 1 .4 1-.7 1-.2 1-1.4 1 .6 1 .1 1 .2 1 .7 1 .4 1-.1 1 2.1 1 .6 1-.6 1 .7 1-1.2 1-.6 1 .5 1 1.2 1-.3 1 .3 1 2.3 1 .3 1-.5 1-.2 1-2.3 1-.5 1 1 1 2.9 1 .5 1-.4 1-.9 1-.5 1-1.5 1-3.6 1-2.7 1-2.3 1-3.8 1-2.1 1 .1 1 1.3 1 3.5 1 3.3 1 1.1 1-.1 1-.9 1-1.8 1 .7 1 1.2 1 3.9 1 2.2 1-.2 1 2.1 1 .3 1 .1 1-.4 1 0 1 .3 1-1.5 1 1.7 1-.4 1-.2 1 .9 1 .5 1-.6 1 0 1-.6 1-.6 1 .5 1-1.7 1 .8 1-.6 1-.5 1 .2 1 .1 1 .5 1 .6 1 .9 1-.3 1 .1 1 1.2 1-1.5 1-1.1 1-.8 1-1.5 1 1.3 1-1 1-.1 1-.6 1 1.1 1-.6 1-.7 1-1.7 1-2.3 1-.8 1 2 1-.3 1 1.6 1 1.3 1 1.5 1 1.4 1 .3 1 .9 1-.8 1 .7 1-1.4 1-2.3 1 .5 1-1.7 1-2.3 1-.9 1 0 1 3 1 3.9 1 2.5 1 2 1-1.3 1 1.5 1 .8 1 .2 1-.3 1-1.4 1-.9 1 .5 1 1.4 1-1.6 1-1 1-1.2 1 .4 1-1.5 1-1.2 1-2.3 1-3.5 1 .1 1 .3 1-.5 1 .6 1 2.3 1 3.3 1 5.3 1 .9 1-3.9 1-4.2 1-5.9 1-.5 1 1.1 1 2.3 1 2.5 1 1.8 1-1.1 1-1.6 1-.8 1-.4 1 2.4 1 .2 1 1.1 1 .5 1 .6 1-.9 1 1 1 .2 1-.4 1-.5 1 1 1 1.1 1-.6 1 1.4 1-1.3 1-1.3 1-.1 1-.1 1-.4 1-.8 1 0 1 1.3 1-1.6 1-.9 1-.8 1-1.2 1 .9 1-.6 1-.1 1-.5 1 .7 1 0 1-1.3 1-.6 1 .9 1 .7 1-.5 1 .2 1-.7 1 1.3 1 1.6 1 .6 1 .1 1 .1 1-.4 1-1.2 1-1.2 1-.8 1 1.1 1 .1 1 .4 1 1.4 1-.6 1 .7 1 .9 1-.7 1-.6 1 1.1 1 .9 1-1 1-.1 1-1.4 1 1.3 1-2.3 1 .2 1 0 1 1.4 1-.9 1-.2 1-.1 1 1 1-.6 1-.1 1-.1 1 .3 1-1.8 1 1.4 1-1.6 1 3 1-.8 1 .7 1 .2 1 .4 1-.4 1-.5 1-.5 1-.2 1 .2 1-.3 1 0 1-.2 1 1.2 1 .6 1-.8 1 1.4 1-.7 1 0 1-1.3 1 1.2 1 .4 1 .4 1-1.5 1 .5 1 .8 1 .2 1-.5 1 .5 1 .6 1-.5 1-.8 1 .1 1-2.1 1 .7 1-.9 1 .1 1 .8 1 .9 1-.4 1 0 1 1.2 1-.5 1-2 1 .5 1-.3 1-.3 1-.6 1 1.4 1 .1 1 1.3 1-.8 1 .5 1-.2 1 1.3 1 .3 1 .4 1-.3 1-.9 1 1.1 1-1.2 1 .2 1 .3 1 1.4 1-1.6 1-.3 1 .7 1 .5 1-.5 1-.3 1-1.1 1 0 1 .9 1-.8 1-.6 1 .3 1 1.3 1 .6 1-.5 1-.4 1 1.9 1-1.1 1 .7 1 .5 1 0 1 .1 1 1.4 1-.5 1-.9 1 .6 1 1.4 1-.7 1-.5 1 1.3 1-.2 1-.3 1 .3 1-.7 1 .2 1 .1 1-.9 1 .9 1-1.6 1 1.6 1-1.5 1-.3 1-1.4 1 .7 1-1.3 1 .4 1-.6 1-.9 1 1.2 1-1.1 1-.6 1 .1 1 .7 1 .2 1 .9 1-.5 1 .8 1-.2 1-.1 1 1 1-1 1-.6 1 1.3 1-.7 1 .7 1 0 1 .1 1-.2 1 1 1-1.5 1 1.4 1-.6 1 .4 1-.2 1 1 1 0 1-.4 1 .5 1 .4 1-.2 1 1.7 1-1 1-.5 1 .9 1-.4" fill="none" stroke="#28ff28" stroke-width="0.9" /><path d="M71.8 240.8l1-2 1 .8 1-.3 1-.4 1 .2 1 0 1 .3 1 .3 1 .4 1-.5 1 .5 1-.4 1-.2 1-.2 1-.5 1-.4 1 1 1 0 1 .2 1 0 1-1 1 .2 1-.3 1 1.1 1-.7 1 0 1-.7 1-.4 1 .3 1 .2 1 .2 1-1.3 1 1.1 1-.7 1 .3 1 .3 1 .1 1 .6 1 .4 1-.3 1-.6 1 .5 1-.1 1 .2 1-.5 1-1.4 1 .3 1-.1 1 .4 1-.9 1 .3 1-.6 1-1.1 1 .6 1 .4 1 0 1-1.1 1 1.1 1-.6 1-1 1 .8 1-1 1 .3 1 1.6 1 .6 1-.9 1-.5 1 .9 1-.9 1-.9 1-.9 1 2.1 1-1.7 1-.2 1 1.6 1 .7 1-.3 1 1.3 1-.6 1 .1 1 0 1-.9 1 .3 1 1.3 1-1.9 1 .8 1 .8 1-.1 1 .7 1-.8 1 .5 1-.2 1 0 1-.7 1-1.4 1-.5 1 2.1 1-.1 1-1.7 1 .3 1-1.5 1-1.1 1-1.5 1 .9 1 2.6 1 3.2 1 1.9 1 0 1-.9 1-.5 1 .5 1 .7 1-.7 1-1.6 1 .4 1-.7 1-.5 1 .9 1 .2 1-.1 1 .8 1 .7 1 1 1-1.1 1 .9 1 .1 1 0 1-.7 1 1.2 1-.4 1-.3 1-1.2 1 .5 1-.4 1 .8 1-.2 1 .8 1-.2 1-.8 1-.4 1-1.3 1-1 1-.3 1-.6 1 1.2 1-.3 1-.2 1 .6 1 .4 1 2.1 1-.1 1 .4 1-.5 1-.7 1 0 1-1.4 1 2.2 1-.9 1 1.8 1-.5 1 2.2 1-1.2 1 .4 1-.8 1-.3 1-.9 1-.8 1-1 1 .7 1-2 1-.2 1-.5 1 .5 1-.3 1 .8 1 1.1 1-.2 1 1.1 1-.1 1 1.8 1-.6 1 1.3 1-1.1 1-1.3 1-.4 1-.8 1-.4 1 0 1 .6 1-.1 1 2.1 1-.4 1 0 1 .1 1-1.8 1 .7 1 .4 1-1.5 1-.9 1 .7 1-.8 1 .6 1 .7 1-.9 1 1.8 1-.6 1 .3 1 0 1-2.4 1-1.4 1-1.4 1-.9 1-.8 1 .1 1 .7 1 1.7 1 2.3 1 .1 1 .5 1 1.4 1-.5 1 .3 1 1.8 1-.1 1-.9 1 1.2 1 2 1 .8 1-1.7 1 .7 1 .2 1-.2 1-1.2 1 1.8 1-.3 1-.2 1-.8 1 .6 1 .4 1 0 1 .3 1-.5 1 .6 1-.7 1-1.8 1-.3 1 .2 1-.9 1 1 1-1.2 1 .4 1 .2 1-1.1 1 1.3 1-1.1 1-.6 1-.3 1-1 1-.1 1 1.5 1-1.1 1-.2 1 .4 1 .6 1-.4 1 .6 1 .4 1 .4 1-.8 1 .5 1-1.6 1-.4 1-1 1 .7 1 .6 1-.4 1 .3 1-.4 1 .3 1 .1 1 .1 1 .7 1-.4 1 0 1 0 1-1.3 1 .6 1-1.3 1-1.3 1 .2 1 .4 1-.7 1 2.8 1-.9 1 1 1-.7 1 1.4 1 .8 1 .1 1 1.2 1 .3 1 .6 1-.6 1 1.4 1-.3 1-.3 1-1 1 .7 1-.9 1 .5 1-3.2 1 .8 1-.4 1-.6 1-.1 1 .3 1-1 1 2 1-.8 1 0 1 .7 1-1.3 1 1.2 1 .4 1 0 1 1.6 1 .8 1-.8 1-.1 1 .5 1-.5 1 .3 1 .1 1-.7 1-.4 1 0 1-.2 1 .3 1-1.3 1 .3 1 .6 1 .9 1-.8 1 1.7 1 .4 1-1.2 1 1.3 1-1.8 1 1.2 1-.8 1 1.6 1-.1 1-.4 1-1 1-.6 1 .6 1-.7 1 .7 1-1.3 1 1.4 1 .4 1-1.5 1 .8 1 .6 1 .2 1-.6 1 1.2 1-.6 1 .7 1-1 1 .4 1 1.2 1-1.4 1 .9 1 .9 1-.5 1-1.4 1 2 1-1.7 1 .7 1 0 1-.9 1 .5 1-2.2 1 1.6 1 0 1-.3 1 .2 1 .6 1 0 1-.9 1 .9 1 .4 1-.5 1 .2 1-1.7 1 .5 1 1.3 1-1.1 1 1.4 1 .2 1-1.4 1-.2 1 .6 1 .2 1 .3 1-.7 1 0 1-.8 1 .6 1-.7 1 .9 1-.1 1-1.4 1 1.4 1-.6 1 1.6 1-.8 1 1.6 1 .1 1 .6 1-1.1 1-.4 1 .6 1-1.7 1 .5 1-.3 1 .2 1-.9 1-.1 1 .1 1 2.1 1-.9 1 .7 1-.3 1 0 1 1 1-2.1 1 1.2 1-.2 1-.1 1-.4 1 0 1 .3 1 1.4 1-1 1 .1 1 .2 1 .5 1 .2 1-.5" fill="none" stroke="#ff2828" stroke-width="0.9" /></g><line x1="71.40" y1="202.20" x2="525.40" y2="202.20" stroke="#000" stroke-width="1.4" stroke-dasharray="5.2 3.1"/><line x1="87.22" y1="176.50" x2="87.22" y2="180.50" stroke="#222" stroke-width="1.0" /><line x1="87.22" y1="244.83" x2="87.22" y2="240.83" stroke="#222" stroke-width="1.0" /><line x1="113.91" y1="176.50" x2="113.91" y2="180.50" stroke="#222" stroke-width="1.0" /><line x1="113.91" y1="244.83" x2="113.91" y2="240.83" stroke="#222" stroke-width="1.0" /><line x1="140.60" y1="176.50" x2="140.60" y2="187.50" stroke="#222" stroke-width="1.3" /><line x1="140.60" y1="244.83" x2="140.60" y2="233.83" stroke="#222" stroke-width="1.3" /><line x1="167.29" y1="176.50" x2="167.29" y2="180.50" stroke="#222" stroke-width="1.0" /><line x1="167.29" y1="244.83" x2="167.29" y2="240.83" stroke="#222" stroke-width="1.0" /><line x1="193.98" y1="176.50" x2="193.98" y2="180.50" stroke="#222" stroke-width="1.0" /><line x1="193.98" y1="244.83" x2="193.98" y2="240.83" stroke="#222" stroke-width="1.0" /><line x1="220.67" y1="176.50" x2="220.67" y2="187.50" stroke="#222" stroke-width="1.3" /><line x1="220.67" y1="244.83" x2="220.67" y2="233.83" stroke="#222" stroke-width="1.3" /><line x1="247.36" y1="176.50" x2="247.36" y2="180.50" stroke="#222" stroke-width="1.0" /><line x1="247.36" y1="244.83" x2="247.36" y2="240.83" stroke="#222" stroke-width="1.0" /><line x1="274.05" y1="176.50" x2="274.05" y2="180.50" stroke="#222" stroke-width="1.0" /><line x1="274.05" y1="244.83" x2="274.05" y2="240.83" stroke="#222" stroke-width="1.0" /><line x1="300.74" y1="176.50" x2="300.74" y2="187.50" stroke="#222" stroke-width="1.3" /><line x1="300.74" y1="244.83" x2="300.74" y2="233.83" stroke="#222" stroke-width="1.3" /><line x1="327.43" y1="176.50" x2="327.43" y2="180.50" stroke="#222" stroke-width="1.0" /><line x1="327.43" y1="244.83" x2="327.43" y2="240.83" stroke="#222" stroke-width="1.0" /><line x1="354.12" y1="176.50" x2="354.12" y2="180.50" stroke="#222" stroke-width="1.0" /><line x1="354.12" y1="244.83" x2="354.12" y2="240.83" stroke="#222" stroke-width="1.0" /><line x1="380.81" y1="176.50" x2="380.81" y2="187.50" stroke="#222" stroke-width="1.3" /><line x1="380.81" y1="244.83" x2="380.81" y2="233.83" stroke="#222" stroke-width="1.3" /><line x1="407.50" y1="176.50" x2="407.50" y2="180.50" stroke="#222" stroke-width="1.0" /><line x1="407.50" y1="244.83" x2="407.50" y2="240.83" stroke="#222" stroke-width="1.0" /><line x1="434.19" y1="176.50" x2="434.19" y2="180.50" stroke="#222" stroke-width="1.0" /><line x1="434.19" y1="244.83" x2="434.19" y2="240.83" stroke="#222" stroke-width="1.0" /><line x1="460.88" y1="176.50" x2="460.88" y2="187.50" stroke="#222" stroke-width="1.3" /><line x1="460.88" y1="244.83" x2="460.88" y2="233.83" stroke="#222" stroke-width="1.3" /><line x1="487.57" y1="176.50" x2="487.57" y2="180.50" stroke="#222" stroke-width="1.0" /><line x1="487.57" y1="244.83" x2="487.57" y2="240.83" stroke="#222" stroke-width="1.0" /><line x1="514.26" y1="176.50" x2="514.26" y2="180.50" stroke="#222" stroke-width="1.0" /><line x1="514.26" y1="244.83" x2="514.26" y2="240.83" stroke="#222" stroke-width="1.0" /><line x1="71.40" y1="242.70" x2="74.60" y2="242.70" stroke="#222" stroke-width="1" /><line x1="525.40" y1="242.70" x2="522.20" y2="242.70" stroke="#222" stroke-width="1" /><line x1="71.40" y1="238.65" x2="74.60" y2="238.65" stroke="#222" stroke-width="1" /><line x1="525.40" y1="238.65" x2="522.20" y2="238.65" stroke="#222" stroke-width="1" /><line x1="71.40" y1="234.60" x2="77.90" y2="234.60" stroke="#222" stroke-width="1" /><line x1="525.40" y1="234.60" x2="518.90" y2="234.60" stroke="#222" stroke-width="1" /><line x1="71.40" y1="230.55" x2="74.60" y2="230.55" stroke="#222" stroke-width="1" /><line x1="525.40" y1="230.55" x2="522.20" y2="230.55" stroke="#222" stroke-width="1" /><line x1="71.40" y1="226.50" x2="74.60" y2="226.50" stroke="#222" stroke-width="1" /><line x1="525.40" y1="226.50" x2="522.20" y2="226.50" stroke="#222" stroke-width="1" /><line x1="71.40" y1="222.45" x2="74.60" y2="222.45" stroke="#222" stroke-width="1" /><line x1="525.40" y1="222.45" x2="522.20" y2="222.45" stroke="#222" stroke-width="1" /><line x1="71.40" y1="218.40" x2="77.90" y2="218.40" stroke="#222" stroke-width="1" /><line x1="525.40" y1="218.40" x2="518.90" y2="218.40" stroke="#222" stroke-width="1" /><line x1="71.40" y1="214.35" x2="74.60" y2="214.35" stroke="#222" stroke-width="1" /><line x1="525.40" y1="214.35" x2="522.20" y2="214.35" stroke="#222" stroke-width="1" /><line x1="71.40" y1="210.30" x2="74.60" y2="210.30" stroke="#222" stroke-width="1" /><line x1="525.40" y1="210.30" x2="522.20" y2="210.30" stroke="#222" stroke-width="1" /><line x1="71.40" y1="206.25" x2="74.60" y2="206.25" stroke="#222" stroke-width="1" /><line x1="525.40" y1="206.25" x2="522.20" y2="206.25" stroke="#222" stroke-width="1" /><line x1="71.40" y1="202.20" x2="77.90" y2="202.20" stroke="#222" stroke-width="1" /><line x1="525.40" y1="202.20" x2="518.90" y2="202.20" stroke="#222" stroke-width="1" /><line x1="71.40" y1="198.15" x2="74.60" y2="198.15" stroke="#222" stroke-width="1" /><line x1="525.40" y1="198.15" x2="522.20" y2="198.15" stroke="#222" stroke-width="1" /><line x1="71.40" y1="194.10" x2="74.60" y2="194.10" stroke="#222" stroke-width="1" /><line x1="525.40" y1="194.10" x2="522.20" y2="194.10" stroke="#222" stroke-width="1" /><line x1="71.40" y1="190.05" x2="74.60" y2="190.05" stroke="#222" stroke-width="1" /><line x1="525.40" y1="190.05" x2="522.20" y2="190.05" stroke="#222" stroke-width="1" /><line x1="71.40" y1="186.00" x2="77.90" y2="186.00" stroke="#222" stroke-width="1" /><line x1="525.40" y1="186.00" x2="518.90" y2="186.00" stroke="#222" stroke-width="1" /><line x1="71.40" y1="181.95" x2="74.60" y2="181.95" stroke="#222" stroke-width="1" /><line x1="525.40" y1="181.95" x2="522.20" y2="181.95" stroke="#222" stroke-width="1" /><line x1="71.40" y1="177.90" x2="74.60" y2="177.90" stroke="#222" stroke-width="1" /><line x1="525.40" y1="177.90" x2="522.20" y2="177.90" stroke="#222" stroke-width="1" /><text x="68.60" y="189.70" font-size="10.7" text-anchor="end" fill="#000" >20</text><text x="68.60" y="205.90" font-size="10.7" text-anchor="end" fill="#000" >0</text><text x="68.60" y="222.10" font-size="10.7" text-anchor="end" fill="#000" >-20</text><text x="68.60" y="238.30" font-size="10.7" text-anchor="end" fill="#000" >-40</text><rect x="71.40" y="176.50" width="454.00" height="68.33" fill="none" stroke="#000" stroke-width="1.7"/><line x1="77.50" y1="188.30" x2="95.00" y2="188.30" stroke="#3030ff" stroke-width="1.0"/><text x="96.3" y="191.9" font-size="10" fill="#3030ff">B<tspan font-size="7.5" dy="3">L</tspan></text><line x1="77.50" y1="211.90" x2="95.00" y2="211.90" stroke="#30ff30" stroke-width="1.0"/><text x="96.3" y="215.5" font-size="10" fill="#30ff30">B<tspan font-size="7.5" dy="3">M</tspan></text><line x1="77.50" y1="234.60" x2="95.00" y2="234.60" stroke="#ff3030" stroke-width="1.0"/><text x="96.3" y="238.2" font-size="10" fill="#ff3030">B<tspan font-size="7.5" dy="3">N</tspan></text><text transform="translate(42.00,211.00) rotate(-90)" font-size="11" text-anchor="middle" fill="#000">B<tspan font-size="8" dy="2.5">LMN</tspan><tspan dy="-2.5" font-size="1">&#8203;</tspan> [nT]</text><defs><linearGradient id="gion" gradientUnits="userSpaceOnUse" x1="0" y1="244.83" x2="0" y2="313.16"><stop offset="0.000" stop-color="#00e0e8"/><stop offset="0.024" stop-color="#00f0a0"/><stop offset="0.061" stop-color="#10ff30"/><stop offset="0.120" stop-color="#50ff00"/><stop offset="0.163" stop-color="#a8ff00"/><stop offset="0.200" stop-color="#f0ff00"/><stop offset="0.237" stop-color="#ffd800"/><stop offset="0.281" stop-color="#ffa000"/><stop offset="0.339" stop-color="#ff6c00"/><stop offset="0.398" stop-color="#ff4400"/><stop offset="0.471" stop-color="#ff3800"/><stop offset="0.529" stop-color="#ff5000"/><stop offset="0.581" stop-color="#ff8000"/><stop offset="0.624" stop-color="#ffb800"/><stop offset="0.668" stop-color="#fff000"/><stop offset="0.705" stop-color="#b0ff00"/><stop offset="0.749" stop-color="#40ff00"/><stop offset="0.807" stop-color="#00ff50"/><stop offset="0.859" stop-color="#00f8b0"/><stop offset="0.895" stop-color="#00e8f0"/><stop offset="0.954" stop-color="#00c8ff"/><stop offset="1.000" stop-color="#00b0ff"/></linearGradient><linearGradient id="gionA" gradientUnits="userSpaceOnUse" x1="0" y1="244.83" x2="0" y2="313.16"><stop offset="0.061" stop-color="#ffff00" stop-opacity="0"/><stop offset="0.142" stop-color="#f8ff00" stop-opacity="0.48"/><stop offset="0.193" stop-color="#ffd000" stop-opacity="0.48"/><stop offset="0.266" stop-color="#ffa000" stop-opacity="0.4"/><stop offset="0.368" stop-color="#ff8000" stop-opacity="0.3"/><stop offset="0.515" stop-color="#ff7800" stop-opacity="0.24"/><stop offset="0.617" stop-color="#ff8000" stop-opacity="0"/></linearGradient><linearGradient id="gionB" gradientUnits="userSpaceOnUse" x1="0" y1="244.83" x2="0" y2="313.16"><stop offset="0.281" stop-color="#ff3000" stop-opacity="0"/><stop offset="0.368" stop-color="#ff3000" stop-opacity="0.4"/><stop offset="0.507" stop-color="#ff5000" stop-opacity="0.5"/><stop offset="0.559" stop-color="#ffc000" stop-opacity="0.9"/><stop offset="0.595" stop-color="#f0ff00" stop-opacity="0.95"/><stop offset="0.632" stop-color="#90ff00" stop-opacity="0.95"/><stop offset="0.676" stop-color="#30ff00" stop-opacity="0.85"/><stop offset="0.756" stop-color="#20ff00" stop-opacity="0.5"/><stop offset="0.822" stop-color="#00ff60" stop-opacity="0.0"/></linearGradient></defs><rect x="71.4" y="244.83" width="454.00" height="68.33" fill="url(#gion)"/><rect x="172" y="244.83" width="88" height="68.33" fill="url(#gionA)"/><rect x="170.5" y="244.83" width="1.5" height="68.33" fill="url(#gionA)" opacity="0.5"/><rect x="260" y="244.83" width="26.5" height="68.33" fill="url(#gionB)"/><rect x="286.5" y="244.83" width="1.5" height="68.33" fill="url(#gionB)" opacity="0.5"/><rect x="178" y="262" width="2.5" height="22" fill="#ffb000" opacity="0.55"/><rect x="182" y="264" width="1.5" height="22" fill="#ffd000" opacity="0.4"/><rect x="206" y="270" width="1.5" height="17" fill="#ffc000" opacity="0.5"/><rect x="212" y="272" width="2.0" height="16" fill="#ffb000" opacity="0.45"/><rect x="231" y="268" width="2.0" height="20" fill="#ffd000" opacity="0.55"/><rect x="236" y="270" width="2.5" height="19" fill="#ffc800" opacity="0.55"/><rect x="243" y="272" width="1.5" height="14" fill="#ffb000" opacity="0.35"/><rect x="252" y="272" width="2.0" height="12" fill="#ffc000" opacity="0.4"/><rect x="190" y="268" width="3" height="14" fill="#ff3000" opacity="0.35"/><rect x="222" y="270" width="4" height="13" fill="#ff3000" opacity="0.3"/><rect x="246" y="270" width="3" height="13" fill="#ff3000" opacity="0.3"/><rect x="431.8" y="268" width="2" height="18" fill="#ff2000" opacity="0.08"/><rect x="442.4" y="268" width="1" height="18" fill="#ffa000" opacity="0.10"/><rect x="323.0" y="268" width="1.5" height="18" fill="#ff2000" opacity="0.11"/><rect x="369.6" y="268" width="1" height="18" fill="#ffa000" opacity="0.05"/><rect x="503.1" y="268" width="1.5" height="18" fill="#ff2000" opacity="0.11"/><rect x="448.3" y="268" width="1.5" height="18" fill="#ffa000" opacity="0.09"/><rect x="110.7" y="268" width="2" height="18" fill="#ffa000" opacity="0.07"/><rect x="157.9" y="268" width="1" height="18" fill="#ff2000" opacity="0.13"/><rect x="477.8" y="268" width="1" height="18" fill="#ff2000" opacity="0.14"/><rect x="514.3" y="268" width="1.5" height="18" fill="#ffa000" opacity="0.14"/><rect x="114.2" y="268" width="3" height="18" fill="#ff2000" opacity="0.15"/><rect x="425.1" y="268" width="1" height="18" fill="#ffa000" opacity="0.10"/><rect x="421.8" y="268" width="1" height="18" fill="#ffa000" opacity="0.15"/><rect x="96.8" y="268" width="3" height="18" fill="#ff2000" opacity="0.07"/><rect x="284.4" y="268" width="1.5" height="18" fill="#ffa000" opacity="0.05"/><rect x="515.6" y="268" width="1" height="18" fill="#ffa000" opacity="0.12"/><rect x="407.8" y="268" width="3" height="18" fill="#ff2000" opacity="0.08"/><rect x="298.7" y="268" width="3" height="18" fill="#ff2000" opacity="0.12"/><rect x="442.4" y="268" width="1" height="18" fill="#ff2000" opacity="0.08"/><rect x="112.8" y="268" width="3" height="18" fill="#ffa000" opacity="0.15"/><rect x="410.0" y="268" width="1" height="18" fill="#ff2000" opacity="0.14"/><rect x="137.4" y="268" width="1" height="18" fill="#ff2000" opacity="0.08"/><rect x="372.0" y="268" width="3" height="18" fill="#ff2000" opacity="0.15"/><rect x="510.9" y="268" width="1" height="18" fill="#ff2000" opacity="0.08"/><rect x="166.1" y="268" width="1" height="18" fill="#ff2000" opacity="0.07"/><rect x="82.7" y="268" width="1.5" height="18" fill="#ffa000" opacity="0.16"/><rect x="331.4" y="268" width="3" height="18" fill="#ffa000" opacity="0.11"/><rect x="341.2" y="268" width="1" height="18" fill="#ffa000" opacity="0.12"/><rect x="204.5" y="268" width="2" height="18" fill="#ffa000" opacity="0.10"/><rect x="156.7" y="268" width="3" height="18" fill="#ff2000" opacity="0.05"/><rect x="402.9" y="268" width="1" height="18" fill="#ff2000" opacity="0.12"/><rect x="120.7" y="268" width="1.5" height="18" fill="#ff2000" opacity="0.14"/><rect x="146.0" y="268" width="3" height="18" fill="#ffa000" opacity="0.10"/><rect x="291.6" y="268" width="3" height="18" fill="#ff2000" opacity="0.15"/><rect x="364.5" y="268" width="2" height="18" fill="#ffa000" opacity="0.15"/><rect x="464.7" y="268" width="2" height="18" fill="#ffa000" opacity="0.15"/><rect x="421.3" y="268" width="2" height="18" fill="#ffa000" opacity="0.16"/><rect x="417.6" y="268" width="3" height="18" fill="#ffa000" opacity="0.16"/><rect x="186.4" y="268" width="2" height="18" fill="#ff2000" opacity="0.08"/><rect x="117.9" y="268" width="1.5" height="18" fill="#ffa000" opacity="0.15"/><rect x="385.3" y="268" width="1.5" height="18" fill="#ff2000" opacity="0.11"/><rect x="457.5" y="268" width="1" height="18" fill="#ff2000" opacity="0.08"/><rect x="144.0" y="268" width="2" height="18" fill="#ff2000" opacity="0.12"/><rect x="401.7" y="268" width="3" height="18" fill="#ff2000" opacity="0.15"/><rect x="206.9" y="268" width="2" height="18" fill="#ffa000" opacity="0.12"/><rect x="403.7" y="268" width="1" height="18" fill="#ff2000" opacity="0.10"/><rect x="451.8" y="268" width="3" height="18" fill="#ffa000" opacity="0.14"/><rect x="311.8" y="268" width="1" height="18" fill="#ffa000" opacity="0.05"/><rect x="85.6" y="268" width="1.5" height="18" fill="#ff2000" opacity="0.15"/><rect x="358.6" y="268" width="2" height="18" fill="#ffa000" opacity="0.12"/><rect x="443.5" y="268" width="1" height="18" fill="#ff2000" opacity="0.05"/><rect x="521.9" y="268" width="3" height="18" fill="#ff2000" opacity="0.07"/><rect x="288.6" y="268" width="2" height="18" fill="#ffa000" opacity="0.10"/><rect x="157.0" y="268" width="3" height="18" fill="#ffa000" opacity="0.13"/><rect x="464.3" y="268" width="1.5" height="18" fill="#ffa000" opacity="0.13"/><rect x="166.9" y="268" width="2" height="18" fill="#ffa000" opacity="0.09"/><rect x="362.0" y="268" width="1.5" height="18" fill="#ffa000" opacity="0.14"/><rect x="167.5" y="268" width="2" height="18" fill="#ff2000" opacity="0.15"/><rect x="226.9" y="268" width="1.5" height="18" fill="#ffa000" opacity="0.11"/><rect x="273.0" y="268" width="2" height="18" fill="#ffa000" opacity="0.08"/><path d="M71.4 246.1h1.5M74.4 246.1h1.5M75.9 246.1h1.5M78.9 246.1h1.5M80.4 248.2h1.5M81.9 246.1h1.5M83.4 246.1h1.5M83.4 248.2h1.5M86.4 248.2h1.5M87.9 248.2h1.5M90.9 246.1h1.5M95.4 246.1h1.5M96.9 246.1h1.5M98.4 248.2h1.5M99.9 246.1h1.5M101.4 246.1h1.5M104.4 246.1h1.5M110.4 246.1h1.5M111.9 246.1h1.5M111.9 248.2h1.5M114.9 246.1h1.5M117.9 246.1h1.5M117.9 248.2h1.5M119.4 246.1h1.5M120.9 246.1h1.5M122.4 246.1h1.5M123.9 246.1h1.5M125.4 246.1h1.5M126.9 246.1h1.5M129.9 246.1h1.5M131.4 246.1h1.5M137.4 246.1h1.5M140.4 246.1h1.5M141.9 246.1h1.5M146.4 246.1h1.5M147.9 248.2h1.5M149.4 246.1h1.5M149.4 248.2h1.5M152.4 246.1h1.5M152.4 248.2h1.5M153.9 246.1h1.5M155.4 246.1h1.5M156.9 246.1h1.5M156.9 248.2h1.5M158.4 246.1h1.5M161.4 246.1h1.5M162.9 246.1h1.5M164.4 246.1h1.5M165.9 246.1h1.5M167.4 246.1h1.5M170.4 248.2h1.5M171.9 246.1h1.5M174.9 246.1h1.5M176.4 246.1h1.5M182.4 246.1h1.5M182.4 248.2h1.5M185.4 246.1h1.5M189.9 246.1h1.5M189.9 248.2h1.5M192.9 246.1h1.5M192.9 248.2h1.5M194.4 246.1h1.5M195.9 246.1h1.5M197.4 246.1h1.5M203.4 248.2h1.5M204.9 246.1h1.5M206.4 246.1h1.5M207.9 246.1h1.5M210.9 246.1h1.5M212.4 246.1h1.5M213.9 246.1h1.5M213.9 248.2h1.5M215.4 248.2h1.5M221.4 246.1h1.5M221.4 248.2h1.5M225.9 248.2h1.5M227.4 246.1h1.5M228.9 246.1h1.5M230.4 246.1h1.5M233.4 246.1h1.5M234.9 246.1h1.5M236.4 246.1h1.5M237.9 246.1h1.5M239.4 246.1h1.5M240.9 246.1h1.5M242.4 246.1h1.5M242.4 248.2h1.5M243.9 246.1h1.5M246.9 246.1h1.5M246.9 248.2h1.5M248.4 246.1h1.5M248.4 248.2h1.5M249.9 246.1h1.5M251.4 246.1h1.5M251.4 248.2h1.5M255.9 246.1h1.5M255.9 248.2h1.5M258.9 248.2h1.5M261.9 246.1h1.5M263.4 246.1h1.5M264.9 248.2h1.5M269.4 246.1h1.5M269.4 248.2h1.5M272.4 246.1h1.5M272.4 248.2h1.5M275.4 246.1h1.5M278.4 248.2h1.5M279.9 246.1h1.5M282.9 246.1h1.5M284.4 246.1h1.5M284.4 248.2h1.5M285.9 246.1h1.5M285.9 248.2h1.5M288.9 246.1h1.5M288.9 248.2h1.5M291.9 246.1h1.5M293.4 246.1h1.5M294.9 246.1h1.5M299.4 248.2h1.5M300.9 246.1h1.5M302.4 246.1h1.5M302.4 248.2h1.5M303.9 246.1h1.5M306.9 246.1h1.5M306.9 248.2h1.5M308.4 246.1h1.5M311.4 246.1h1.5M311.4 248.2h1.5M312.9 248.2h1.5M314.4 246.1h1.5M320.4 246.1h1.5M323.4 246.1h1.5M324.9 246.1h1.5M327.9 246.1h1.5M329.4 246.1h1.5M330.9 246.1h1.5M332.4 246.1h1.5M333.9 246.1h1.5M335.4 246.1h1.5M336.9 246.1h1.5M342.9 246.1h1.5M344.4 248.2h1.5M345.9 246.1h1.5M347.4 246.1h1.5M350.4 246.1h1.5M351.9 246.1h1.5M353.4 246.1h1.5M356.4 246.1h1.5M357.9 248.2h1.5M359.4 246.1h1.5M362.4 246.1h1.5M366.9 246.1h1.5M372.9 246.1h1.5M374.4 246.1h1.5M375.9 246.1h1.5M375.9 248.2h1.5M378.9 248.2h1.5M380.4 246.1h1.5M380.4 248.2h1.5M381.9 246.1h1.5M384.9 246.1h1.5M386.4 248.2h1.5M387.9 246.1h1.5M389.4 246.1h1.5M395.4 246.1h1.5M398.4 246.1h1.5M399.9 248.2h1.5M404.4 246.1h1.5M405.9 246.1h1.5M407.4 246.1h1.5M407.4 248.2h1.5M408.9 248.2h1.5M410.4 246.1h1.5M416.4 246.1h1.5M422.4 246.1h1.5M422.4 248.2h1.5M423.9 246.1h1.5M423.9 248.2h1.5M425.4 246.1h1.5M429.9 246.1h1.5M431.4 246.1h1.5M431.4 248.2h1.5M435.9 246.1h1.5M437.4 246.1h1.5M441.9 248.2h1.5M444.9 246.1h1.5M444.9 248.2h1.5M447.9 246.1h1.5M449.4 246.1h1.5M450.9 246.1h1.5M452.4 248.2h1.5M453.9 246.1h1.5M455.4 246.1h1.5M455.4 248.2h1.5M456.9 246.1h1.5M459.9 246.1h1.5M464.4 246.1h1.5M464.4 248.2h1.5M467.4 246.1h1.5M468.9 246.1h1.5M470.4 246.1h1.5M473.4 248.2h1.5M474.9 246.1h1.5M479.4 246.1h1.5M480.9 246.1h1.5M482.4 248.2h1.5M483.9 246.1h1.5M491.4 246.1h1.5M494.4 246.1h1.5M495.9 246.1h1.5M497.4 246.1h1.5M501.9 246.1h1.5M503.4 246.1h1.5M504.9 246.1h1.5M506.4 246.1h1.5M507.9 246.1h1.5M507.9 248.2h1.5M512.4 246.1h1.5M513.9 246.1h1.5M513.9 248.2h1.5M516.9 246.1h1.5M516.9 248.2h1.5M521.4 246.1h1.5M522.9 246.1h1.5M522.9 248.2h1.5" stroke="#00e8f0" stroke-width="2.2" fill="none" shape-rendering="crispEdges"/><path d="M71.4 310.0h1.5M72.9 312.0h1.5M75.9 312.0h1.5M75.9 308.0h1.5M77.4 308.0h1.5M78.9 310.0h1.5M78.9 308.0h1.5M80.4 312.0h1.5M80.4 310.0h1.5M80.4 308.0h1.5M81.9 312.0h1.5M84.9 308.0h1.5M86.4 312.0h1.5M86.4 308.0h1.5M87.9 308.0h1.5M89.4 312.0h1.5M90.9 312.0h1.5M90.9 310.0h1.5M95.4 312.0h1.5M95.4 310.0h1.5M95.4 308.0h1.5M96.9 310.0h1.5M96.9 308.0h1.5M98.4 312.0h1.5M99.9 310.0h1.5M101.4 308.0h1.5M102.9 310.0h1.5M104.4 304.0h1.5M105.9 312.0h1.5M105.9 308.0h1.5M105.9 306.0h1.5M107.4 304.0h1.5M108.9 312.0h1.5M108.9 308.0h1.5M110.4 312.0h1.5M111.9 308.0h1.5M114.9 310.0h1.5M114.9 304.0h1.5M116.4 312.0h1.5M116.4 310.0h1.5M116.4 308.0h1.5M120.9 310.0h1.5M122.4 312.0h1.5M123.9 306.0h1.5M126.9 312.0h1.5M126.9 310.0h1.5M126.9 308.0h1.5M128.4 310.0h1.5M129.9 308.0h1.5M131.4 312.0h1.5M131.4 308.0h1.5M132.9 312.0h1.5M132.9 308.0h1.5M134.4 310.0h1.5M135.9 308.0h1.5M137.4 308.0h1.5M137.4 306.0h1.5M138.9 312.0h1.5M138.9 310.0h1.5M141.9 312.0h1.5M143.4 312.0h1.5M143.4 308.0h1.5M144.9 310.0h1.5M147.9 312.0h1.5M147.9 308.0h1.5M149.4 312.0h1.5M149.4 310.0h1.5M149.4 306.0h1.5M150.9 312.0h1.5M150.9 310.0h1.5M150.9 308.0h1.5M152.4 310.0h1.5M153.9 310.0h1.5M153.9 308.0h1.5M155.4 312.0h1.5M155.4 310.0h1.5M155.4 306.0h1.5M156.9 312.0h1.5M156.9 308.0h1.5M156.9 306.0h1.5M158.4 310.0h1.5M159.9 308.0h1.5M159.9 304.0h1.5M161.4 312.0h1.5M161.4 308.0h1.5M162.9 310.0h1.5M162.9 306.0h1.5M164.4 312.0h1.5M165.9 312.0h1.5M167.4 310.0h1.5M167.4 308.0h1.5M168.9 312.0h1.5M168.9 310.0h1.5M170.4 312.0h1.5M170.4 308.0h1.5M171.9 312.0h1.5M171.9 310.0h1.5M173.4 308.0h1.5M174.9 312.0h1.5M174.9 310.0h1.5M174.9 308.0h1.5M176.4 312.0h1.5M177.9 312.0h1.5M177.9 310.0h1.5M177.9 304.0h1.5M179.4 312.0h1.5M180.9 312.0h1.5M180.9 310.0h1.5M182.4 312.0h1.5M182.4 310.0h1.5M182.4 304.0h1.5M183.9 312.0h1.5M183.9 310.0h1.5M183.9 306.0h1.5M183.9 304.0h1.5M185.4 310.0h1.5M186.9 312.0h1.5M186.9 304.0h1.5M188.4 308.0h1.5M189.9 312.0h1.5M189.9 310.0h1.5M192.9 312.0h1.5M192.9 310.0h1.5M192.9 308.0h1.5M194.4 312.0h1.5M194.4 310.0h1.5M194.4 308.0h1.5M195.9 312.0h1.5M197.4 308.0h1.5M198.9 312.0h1.5M198.9 310.0h1.5M200.4 310.0h1.5M200.4 308.0h1.5M203.4 312.0h1.5M203.4 310.0h1.5M204.9 312.0h1.5M204.9 306.0h1.5M206.4 308.0h1.5M207.9 312.0h1.5M212.4 312.0h1.5M212.4 310.0h1.5M213.9 310.0h1.5M215.4 312.0h1.5M215.4 310.0h1.5M215.4 306.0h1.5M216.9 312.0h1.5M216.9 310.0h1.5M218.4 312.0h1.5M218.4 306.0h1.5M219.9 312.0h1.5M221.4 312.0h1.5M221.4 306.0h1.5M222.9 312.0h1.5M222.9 310.0h1.5M224.4 310.0h1.5M225.9 304.0h1.5M227.4 312.0h1.5M227.4 310.0h1.5M227.4 306.0h1.5M228.9 310.0h1.5M230.4 308.0h1.5M233.4 306.0h1.5M233.4 304.0h1.5M236.4 310.0h1.5M237.9 312.0h1.5M237.9 308.0h1.5M239.4 312.0h1.5M239.4 308.0h1.5M240.9 312.0h1.5M240.9 310.0h1.5M242.4 312.0h1.5M242.4 308.0h1.5M243.9 312.0h1.5M245.4 312.0h1.5M245.4 310.0h1.5M246.9 312.0h1.5M246.9 310.0h1.5M248.4 310.0h1.5M248.4 308.0h1.5M249.9 312.0h1.5M249.9 310.0h1.5M249.9 308.0h1.5M252.9 312.0h1.5M252.9 310.0h1.5M255.9 312.0h1.5M255.9 310.0h1.5M255.9 308.0h1.5M257.4 310.0h1.5M257.4 308.0h1.5M258.9 308.0h1.5M260.4 312.0h1.5M260.4 310.0h1.5M261.9 312.0h1.5M261.9 310.0h1.5M263.4 312.0h1.5M263.4 308.0h1.5M264.9 312.0h1.5M264.9 308.0h1.5M266.4 310.0h1.5M266.4 304.0h1.5M267.9 312.0h1.5M267.9 306.0h1.5M267.9 304.0h1.5M269.4 312.0h1.5M269.4 308.0h1.5M269.4 302.0h1.5M270.9 312.0h1.5M270.9 310.0h1.5M270.9 308.0h1.5M270.9 306.0h1.5M270.9 304.0h1.5M272.4 312.0h1.5M272.4 310.0h1.5M272.4 302.0h1.5M273.9 312.0h1.5M273.9 306.0h1.5M275.4 308.0h1.5M275.4 304.0h1.5M276.9 310.0h1.5M276.9 308.0h1.5M276.9 306.0h1.5M278.4 312.0h1.5M278.4 310.0h1.5M279.9 312.0h1.5M279.9 310.0h1.5M281.4 312.0h1.5M281.4 310.0h1.5M282.9 312.0h1.5M284.4 312.0h1.5M284.4 310.0h1.5M284.4 308.0h1.5M285.9 312.0h1.5M285.9 310.0h1.5M285.9 308.0h1.5M285.9 306.0h1.5M287.4 312.0h1.5M287.4 310.0h1.5M288.9 312.0h1.5M288.9 310.0h1.5M288.9 306.0h1.5M290.4 312.0h1.5M290.4 310.0h1.5M291.9 312.0h1.5M291.9 306.0h1.5M291.9 304.0h1.5M293.4 310.0h1.5M293.4 308.0h1.5M294.9 308.0h1.5M296.4 310.0h1.5M296.4 308.0h1.5M297.9 312.0h1.5M297.9 310.0h1.5M297.9 306.0h1.5M299.4 310.0h1.5M299.4 308.0h1.5M299.4 306.0h1.5M300.9 312.0h1.5M300.9 310.0h1.5M302.4 310.0h1.5M303.9 312.0h1.5M303.9 310.0h1.5M306.9 312.0h1.5M306.9 310.0h1.5M309.9 306.0h1.5M311.4 310.0h1.5M311.4 306.0h1.5M312.9 312.0h1.5M314.4 312.0h1.5M315.9 310.0h1.5M315.9 308.0h1.5M317.4 312.0h1.5M318.9 308.0h1.5M320.4 308.0h1.5M321.9 312.0h1.5M321.9 308.0h1.5M324.9 306.0h1.5M326.4 312.0h1.5M326.4 310.0h1.5M326.4 306.0h1.5M327.9 312.0h1.5M329.4 308.0h1.5M330.9 312.0h1.5M332.4 304.0h1.5M333.9 310.0h1.5M333.9 308.0h1.5M335.4 312.0h1.5M335.4 310.0h1.5M336.9 312.0h1.5M338.4 304.0h1.5M339.9 312.0h1.5M339.9 310.0h1.5M341.4 312.0h1.5M341.4 308.0h1.5M347.4 312.0h1.5M347.4 310.0h1.5M347.4 308.0h1.5M348.9 310.0h1.5M350.4 312.0h1.5M350.4 308.0h1.5M351.9 312.0h1.5M353.4 306.0h1.5M354.9 310.0h1.5M357.9 312.0h1.5M357.9 308.0h1.5M359.4 312.0h1.5M362.4 310.0h1.5M363.9 310.0h1.5M365.4 310.0h1.5M365.4 308.0h1.5M366.9 310.0h1.5M366.9 308.0h1.5M366.9 304.0h1.5M368.4 310.0h1.5M368.4 308.0h1.5M368.4 306.0h1.5M369.9 312.0h1.5M369.9 308.0h1.5M369.9 306.0h1.5M371.4 312.0h1.5M371.4 306.0h1.5M372.9 310.0h1.5M372.9 308.0h1.5M374.4 312.0h1.5M374.4 310.0h1.5M377.4 312.0h1.5M377.4 310.0h1.5M378.9 308.0h1.5M380.4 310.0h1.5M383.4 306.0h1.5M384.9 308.0h1.5M390.9 312.0h1.5M390.9 306.0h1.5M392.4 310.0h1.5M392.4 308.0h1.5M393.9 312.0h1.5M393.9 310.0h1.5M393.9 308.0h1.5M398.4 310.0h1.5M398.4 306.0h1.5M399.9 306.0h1.5M401.4 312.0h1.5M401.4 308.0h1.5M404.4 310.0h1.5M405.9 312.0h1.5M407.4 312.0h1.5M407.4 310.0h1.5M408.9 306.0h1.5M410.4 312.0h1.5M411.9 312.0h1.5M414.9 310.0h1.5M416.4 312.0h1.5M416.4 310.0h1.5M416.4 308.0h1.5M417.9 312.0h1.5M419.4 312.0h1.5M420.9 312.0h1.5M420.9 310.0h1.5M422.4 312.0h1.5M425.4 312.0h1.5M426.9 312.0h1.5M426.9 310.0h1.5M426.9 308.0h1.5M426.9 306.0h1.5M429.9 310.0h1.5M431.4 312.0h1.5M431.4 310.0h1.5M432.9 312.0h1.5M432.9 306.0h1.5M434.4 310.0h1.5M434.4 306.0h1.5M435.9 312.0h1.5M437.4 312.0h1.5M437.4 310.0h1.5M440.4 310.0h1.5M440.4 308.0h1.5M441.9 312.0h1.5M441.9 310.0h1.5M441.9 308.0h1.5M441.9 304.0h1.5M443.4 312.0h1.5M443.4 308.0h1.5M443.4 306.0h1.5M444.9 310.0h1.5M444.9 306.0h1.5M446.4 306.0h1.5M447.9 310.0h1.5M449.4 310.0h1.5M449.4 308.0h1.5M450.9 310.0h1.5M452.4 312.0h1.5M452.4 310.0h1.5M452.4 308.0h1.5M453.9 312.0h1.5M456.9 308.0h1.5M458.4 312.0h1.5M459.9 310.0h1.5M461.4 310.0h1.5M461.4 308.0h1.5M461.4 306.0h1.5M462.9 310.0h1.5M464.4 310.0h1.5M467.4 312.0h1.5M468.9 312.0h1.5M470.4 312.0h1.5M470.4 310.0h1.5M474.9 310.0h1.5M474.9 308.0h1.5M474.9 306.0h1.5M476.4 312.0h1.5M477.9 308.0h1.5M479.4 312.0h1.5M480.9 312.0h1.5M480.9 308.0h1.5M485.4 312.0h1.5M486.9 310.0h1.5M488.4 310.0h1.5M489.9 312.0h1.5M489.9 310.0h1.5M491.4 312.0h1.5M491.4 310.0h1.5M494.4 308.0h1.5M494.4 306.0h1.5M495.9 312.0h1.5M497.4 312.0h1.5M497.4 310.0h1.5M498.9 312.0h1.5M498.9 310.0h1.5M500.4 310.0h1.5M501.9 310.0h1.5M504.9 312.0h1.5M504.9 306.0h1.5M506.4 312.0h1.5M507.9 312.0h1.5M509.4 310.0h1.5M510.9 312.0h1.5M510.9 310.0h1.5M512.4 312.0h1.5M513.9 312.0h1.5M513.9 310.0h1.5M513.9 308.0h1.5M515.4 312.0h1.5M516.9 310.0h1.5M518.4 312.0h1.5M519.9 310.0h1.5M521.4 312.0h1.5M521.4 310.0h1.5M521.4 304.0h1.5M522.9 310.0h1.5M522.9 306.0h1.5" stroke="#1060ff" stroke-width="2.0" fill="none" shape-rendering="crispEdges"/><path d="M77.4 310.0h1.5M81.9 310.0h1.5M83.4 312.0h1.5M93.9 310.0h1.5M99.9 312.0h1.5M104.4 312.0h1.5M111.9 312.0h1.5M119.4 312.0h1.5M119.4 310.0h1.5M119.4 308.0h1.5M125.4 312.0h1.5M125.4 310.0h1.5M132.9 310.0h1.5M134.4 312.0h1.5M137.4 312.0h1.5M140.4 310.0h1.5M147.9 310.0h1.5M153.9 312.0h1.5M162.9 312.0h1.5M167.4 312.0h1.5M173.4 312.0h1.5M188.4 312.0h1.5M206.4 312.0h1.5M210.9 312.0h1.5M218.4 310.0h1.5M225.9 312.0h1.5M230.4 312.0h1.5M231.9 312.0h1.5M251.4 312.0h1.5M254.4 312.0h1.5M258.9 312.0h1.5M258.9 310.0h1.5M264.9 310.0h1.5M266.4 312.0h1.5M275.4 312.0h1.5M275.4 310.0h1.5M282.9 310.0h1.5M290.4 308.0h1.5M293.4 312.0h1.5M294.9 312.0h1.5M294.9 310.0h1.5M296.4 312.0h1.5M308.4 310.0h1.5M323.4 312.0h1.5M324.9 312.0h1.5M324.9 310.0h1.5M332.4 312.0h1.5M341.4 310.0h1.5M342.9 312.0h1.5M342.9 310.0h1.5M345.9 312.0h1.5M345.9 310.0h1.5M345.9 308.0h1.5M353.4 312.0h1.5M356.4 312.0h1.5M360.9 312.0h1.5M375.9 312.0h1.5M378.9 312.0h1.5M383.4 312.0h1.5M386.4 310.0h1.5M387.9 310.0h1.5M395.4 310.0h1.5M396.9 310.0h1.5M398.4 312.0h1.5M399.9 308.0h1.5M408.9 312.0h1.5M423.9 312.0h1.5M423.9 310.0h1.5M428.4 312.0h1.5M429.9 312.0h1.5M434.4 312.0h1.5M444.9 312.0h1.5M456.9 312.0h1.5M464.4 312.0h1.5M473.4 310.0h1.5M476.4 308.0h1.5M477.9 310.0h1.5M483.9 312.0h1.5M488.4 312.0h1.5M492.9 312.0h1.5M500.4 312.0h1.5M501.9 312.0h1.5M503.4 312.0h1.5M503.4 310.0h1.5M506.4 310.0h1.5M512.4 310.0h1.5M516.9 312.0h1.5" stroke="#0000e0" stroke-width="2.0" fill="none" shape-rendering="crispEdges"/><path d="M459.1 312.2h1.3M330.9 312.2h1.3M213.8 312.2h1.3M226.2 312.2h1.3M191.0 312.2h1.3M389.6 312.2h1.3M313.1 312.2h1.3M302.7 312.2h1.3M498.0 312.2h1.3M345.3 312.2h1.3M370.4 312.2h1.3M97.9 312.2h1.3M521.8 312.2h1.3M424.1 312.2h1.3" stroke="#e000e0" stroke-width="1.6" fill="none" shape-rendering="crispEdges"/><line x1="87.22" y1="244.83" x2="87.22" y2="248.83" stroke="#222" stroke-width="1.0" /><line x1="87.22" y1="313.16" x2="87.22" y2="309.16" stroke="#222" stroke-width="1.0" /><line x1="113.91" y1="244.83" x2="113.91" y2="248.83" stroke="#222" stroke-width="1.0" /><line x1="113.91" y1="313.16" x2="113.91" y2="309.16" stroke="#222" stroke-width="1.0" /><line x1="140.60" y1="244.83" x2="140.60" y2="255.83" stroke="#222" stroke-width="1.3" /><line x1="140.60" y1="313.16" x2="140.60" y2="302.16" stroke="#222" stroke-width="1.3" /><line x1="167.29" y1="244.83" x2="167.29" y2="248.83" stroke="#222" stroke-width="1.0" /><line x1="167.29" y1="313.16" x2="167.29" y2="309.16" stroke="#222" stroke-width="1.0" /><line x1="193.98" y1="244.83" x2="193.98" y2="248.83" stroke="#222" stroke-width="1.0" /><line x1="193.98" y1="313.16" x2="193.98" y2="309.16" stroke="#222" stroke-width="1.0" /><line x1="220.67" y1="244.83" x2="220.67" y2="255.83" stroke="#222" stroke-width="1.3" /><line x1="220.67" y1="313.16" x2="220.67" y2="302.16" stroke="#222" stroke-width="1.3" /><line x1="247.36" y1="244.83" x2="247.36" y2="248.83" stroke="#222" stroke-width="1.0" /><line x1="247.36" y1="313.16" x2="247.36" y2="309.16" stroke="#222" stroke-width="1.0" /><line x1="274.05" y1="244.83" x2="274.05" y2="248.83" stroke="#222" stroke-width="1.0" /><line x1="274.05" y1="313.16" x2="274.05" y2="309.16" stroke="#222" stroke-width="1.0" /><line x1="300.74" y1="244.83" x2="300.74" y2="255.83" stroke="#222" stroke-width="1.3" /><line x1="300.74" y1="313.16" x2="300.74" y2="302.16" stroke="#222" stroke-width="1.3" /><line x1="327.43" y1="244.83" x2="327.43" y2="248.83" stroke="#222" stroke-width="1.0" /><line x1="327.43" y1="313.16" x2="327.43" y2="309.16" stroke="#222" stroke-width="1.0" /><line x1="354.12" y1="244.83" x2="354.12" y2="248.83" stroke="#222" stroke-width="1.0" /><line x1="354.12" y1="313.16" x2="354.12" y2="309.16" stroke="#222" stroke-width="1.0" /><line x1="380.81" y1="244.83" x2="380.81" y2="255.83" stroke="#222" stroke-width="1.3" /><line x1="380.81" y1="313.16" x2="380.81" y2="302.16" stroke="#222" stroke-width="1.3" /><line x1="407.50" y1="244.83" x2="407.50" y2="248.83" stroke="#222" stroke-width="1.0" /><line x1="407.50" y1="313.16" x2="407.50" y2="309.16" stroke="#222" stroke-width="1.0" /><line x1="434.19" y1="244.83" x2="434.19" y2="248.83" stroke="#222" stroke-width="1.0" /><line x1="434.19" y1="313.16" x2="434.19" y2="309.16" stroke="#222" stroke-width="1.0" /><line x1="460.88" y1="244.83" x2="460.88" y2="255.83" stroke="#222" stroke-width="1.3" /><line x1="460.88" y1="313.16" x2="460.88" y2="302.16" stroke="#222" stroke-width="1.3" /><line x1="487.57" y1="244.83" x2="487.57" y2="248.83" stroke="#222" stroke-width="1.0" /><line x1="487.57" y1="313.16" x2="487.57" y2="309.16" stroke="#222" stroke-width="1.0" /><line x1="514.26" y1="244.83" x2="514.26" y2="248.83" stroke="#222" stroke-width="1.0" /><line x1="514.26" y1="313.16" x2="514.26" y2="309.16" stroke="#222" stroke-width="1.0" /><line x1="71.40" y1="308.10" x2="74.40" y2="308.10" stroke="#111" stroke-width="1" /><line x1="525.40" y1="308.10" x2="522.40" y2="308.10" stroke="#111" stroke-width="1" /><line x1="71.40" y1="304.65" x2="74.40" y2="304.65" stroke="#111" stroke-width="1" /><line x1="525.40" y1="304.65" x2="522.40" y2="304.65" stroke="#111" stroke-width="1" /><line x1="71.40" y1="302.20" x2="74.40" y2="302.20" stroke="#111" stroke-width="1" /><line x1="525.40" y1="302.20" x2="522.40" y2="302.20" stroke="#111" stroke-width="1" /><line x1="71.40" y1="300.30" x2="74.40" y2="300.30" stroke="#111" stroke-width="1" /><line x1="525.40" y1="300.30" x2="522.40" y2="300.30" stroke="#111" stroke-width="1" /><line x1="71.40" y1="298.75" x2="74.40" y2="298.75" stroke="#111" stroke-width="1" /><line x1="525.40" y1="298.75" x2="522.40" y2="298.75" stroke="#111" stroke-width="1" /><line x1="71.40" y1="297.44" x2="74.40" y2="297.44" stroke="#111" stroke-width="1" /><line x1="525.40" y1="297.44" x2="522.40" y2="297.44" stroke="#111" stroke-width="1" /><line x1="71.40" y1="296.30" x2="74.40" y2="296.30" stroke="#111" stroke-width="1" /><line x1="525.40" y1="296.30" x2="522.40" y2="296.30" stroke="#111" stroke-width="1" /><line x1="71.40" y1="295.30" x2="74.40" y2="295.30" stroke="#111" stroke-width="1" /><line x1="525.40" y1="295.30" x2="522.40" y2="295.30" stroke="#111" stroke-width="1" /><line x1="71.40" y1="294.40" x2="77.40" y2="294.40" stroke="#111" stroke-width="1" /><line x1="525.40" y1="294.40" x2="519.40" y2="294.40" stroke="#111" stroke-width="1" /><line x1="71.40" y1="288.50" x2="74.40" y2="288.50" stroke="#111" stroke-width="1" /><line x1="525.40" y1="288.50" x2="522.40" y2="288.50" stroke="#111" stroke-width="1" /><line x1="71.40" y1="285.05" x2="74.40" y2="285.05" stroke="#111" stroke-width="1" /><line x1="525.40" y1="285.05" x2="522.40" y2="285.05" stroke="#111" stroke-width="1" /><line x1="71.40" y1="282.60" x2="74.40" y2="282.60" stroke="#111" stroke-width="1" /><line x1="525.40" y1="282.60" x2="522.40" y2="282.60" stroke="#111" stroke-width="1" /><line x1="71.40" y1="280.70" x2="74.40" y2="280.70" stroke="#111" stroke-width="1" /><line x1="525.40" y1="280.70" x2="522.40" y2="280.70" stroke="#111" stroke-width="1" /><line x1="71.40" y1="279.15" x2="74.40" y2="279.15" stroke="#111" stroke-width="1" /><line x1="525.40" y1="279.15" x2="522.40" y2="279.15" stroke="#111" stroke-width="1" /><line x1="71.40" y1="277.84" x2="74.40" y2="277.84" stroke="#111" stroke-width="1" /><line x1="525.40" y1="277.84" x2="522.40" y2="277.84" stroke="#111" stroke-width="1" /><line x1="71.40" y1="276.70" x2="74.40" y2="276.70" stroke="#111" stroke-width="1" /><line x1="525.40" y1="276.70" x2="522.40" y2="276.70" stroke="#111" stroke-width="1" /><line x1="71.40" y1="275.70" x2="74.40" y2="275.70" stroke="#111" stroke-width="1" /><line x1="525.40" y1="275.70" x2="522.40" y2="275.70" stroke="#111" stroke-width="1" /><line x1="71.40" y1="274.80" x2="77.40" y2="274.80" stroke="#111" stroke-width="1" /><line x1="525.40" y1="274.80" x2="519.40" y2="274.80" stroke="#111" stroke-width="1" /><line x1="71.40" y1="268.90" x2="74.40" y2="268.90" stroke="#111" stroke-width="1" /><line x1="525.40" y1="268.90" x2="522.40" y2="268.90" stroke="#111" stroke-width="1" /><line x1="71.40" y1="265.45" x2="74.40" y2="265.45" stroke="#111" stroke-width="1" /><line x1="525.40" y1="265.45" x2="522.40" y2="265.45" stroke="#111" stroke-width="1" /><line x1="71.40" y1="263.00" x2="74.40" y2="263.00" stroke="#111" stroke-width="1" /><line x1="525.40" y1="263.00" x2="522.40" y2="263.00" stroke="#111" stroke-width="1" /><line x1="71.40" y1="261.10" x2="74.40" y2="261.10" stroke="#111" stroke-width="1" /><line x1="525.40" y1="261.10" x2="522.40" y2="261.10" stroke="#111" stroke-width="1" /><line x1="71.40" y1="259.55" x2="74.40" y2="259.55" stroke="#111" stroke-width="1" /><line x1="525.40" y1="259.55" x2="522.40" y2="259.55" stroke="#111" stroke-width="1" /><line x1="71.40" y1="258.24" x2="74.40" y2="258.24" stroke="#111" stroke-width="1" /><line x1="525.40" y1="258.24" x2="522.40" y2="258.24" stroke="#111" stroke-width="1" /><line x1="71.40" y1="257.10" x2="74.40" y2="257.10" stroke="#111" stroke-width="1" /><line x1="525.40" y1="257.10" x2="522.40" y2="257.10" stroke="#111" stroke-width="1" /><line x1="71.40" y1="256.10" x2="74.40" y2="256.10" stroke="#111" stroke-width="1" /><line x1="525.40" y1="256.10" x2="522.40" y2="256.10" stroke="#111" stroke-width="1" /><line x1="71.40" y1="255.20" x2="77.40" y2="255.20" stroke="#111" stroke-width="1" /><line x1="525.40" y1="255.20" x2="519.40" y2="255.20" stroke="#111" stroke-width="1" /><line x1="71.40" y1="249.30" x2="74.40" y2="249.30" stroke="#111" stroke-width="1" /><line x1="525.40" y1="249.30" x2="522.40" y2="249.30" stroke="#111" stroke-width="1" /><line x1="71.40" y1="245.85" x2="74.40" y2="245.85" stroke="#111" stroke-width="1" /><line x1="525.40" y1="245.85" x2="522.40" y2="245.85" stroke="#111" stroke-width="1" /><text x="528.40" y="259.10" font-size="10.7">10<tspan font-size="8.3" dy="-4.3">4</tspan></text><text x="528.40" y="278.70" font-size="10.7">10<tspan font-size="8.3" dy="-4.3">3</tspan></text><text x="528.40" y="298.30" font-size="10.7">10<tspan font-size="8.3" dy="-4.3">2</tspan></text><rect x="71.40" y="244.83" width="454.00" height="68.33" fill="none" stroke="#000" stroke-width="1.7"/><text transform="translate(558.50,279.00) rotate(-90)" font-size="11" text-anchor="middle" fill="#000">Energy (eV)</text><line x1="136.30" y1="317.16" x2="136.30" y2="381.49" stroke="#00aa00" stroke-width="1.3" stroke-dasharray="10 4.4"/><line x1="303.00" y1="317.16" x2="303.00" y2="381.49" stroke="#00aa00" stroke-width="1.3" stroke-dasharray="10 4.4"/><line x1="178.10" y1="317.16" x2="178.10" y2="381.49" stroke="#ff4848" stroke-width="1.7" stroke-dasharray="11 4"/><line x1="261.40" y1="317.16" x2="261.40" y2="381.49" stroke="#ff0000" stroke-width="1.3" stroke-dasharray="11 4"/><line x1="174.50" y1="317.16" x2="174.50" y2="381.49" stroke="#0000ff" stroke-width="1.3" stroke-dasharray="2 3.4"/><line x1="229.30" y1="317.16" x2="229.30" y2="381.49" stroke="#ff00ff" stroke-width="1.5" stroke-dasharray="2 3.4"/><line x1="347.00" y1="317.16" x2="347.00" y2="381.49" stroke="#ff00ff" stroke-width="1.5" stroke-dasharray="2 3.4"/><line x1="284.20" y1="317.16" x2="284.20" y2="381.49" stroke="#40c8ff" stroke-width="1.5" stroke-dasharray="2 3.0"/><g clip-path="url(#cl3)"><path d="M71.8 362.1l1 .2 1-.1 1 2.9 1 2.5 1 2.8 1 1.4 1 1.2 1-.9 1-.5 1-1.6 1-.9 1-1.3 1-.1 1-1.8 1 3.5 1 .1 1 .4 1-.2 1-2.7 1-2.1 1-1.7 1-2.4 1 4.3 1 3.3 1 3 1 .4 1 1.2 1 1.6 1-2.4 1-1.8 1-1 1-.2 1-2.3 1 3.1 1-.1 1 .1 1-2.4 1-.7 1-.3 1-1.6 1-.1 1 .7 1 .4 1 .7 1-1.2 1-1.5 1 .3 1-.8 1 1.2 1 4.2 1-1 1 1.1 1-2.5 1-1.8 1-.6 1-.4 1 5.7 1 4.6 1 1.8 1 2 1 1.2 1-3 1-4.1 1-3.2 1-1.8 1 0 1-.8 1 1.9 1 1.3 1 .4 1 2.1 1-1.8 1-.6 1-3.2 1-2.4 1-1.7 1-3.4 1-1.5 1 4.6 1 3.3 1 3.1 1 .9 1-.5 1-1.2 1-1.7 1-3.5 1-1.1 1-.4 1 2.1 1 2.4 1 .3 1 .9 1 .1 1-2.2 1-2.9 1-2.7 1-5.7 1-3.6 1-4.9 1-1.2 1-2 1-2 1 .4 1 2.9 1 4.9 1 6.8 1 6.4 1 7.7 1-.9 1-3.6 1-3.6 1-2.6 1-.2 1 3.4 1 3.5 1 1 1-1 1-1.1 1-2.5 1 .1 1 3.1 1 1.3 1 .8 1-2.9 1-2.8 1-2.3 1-1.9 1-.7 1-.1 1 3 1 .7 1 .7 1-.8 1-.1 1 2.1 1 2.5 1 1.9 1-.9 1-1.4 1-3.7 1-3 1 0 1 1.5 1-.3 1-.7 1 1.2 1-2 1-1.4 1-1.9 1 .4 1 3.7 1 2 1 3.8 1 2.7 1 1.1 1 1.5 1 .5 1-.9 1 1.3 1-1 1 2 1 .4 1 .3 1-.3 1 .3 1-.6 1 1.5 1-.1 1 .2 1-.2 1-1.4 1-1.8 1-1.2 1-2.6 1-1.1 1-1.4 1 1.2 1-1.1 1 2.1 1-.8 1 1.3 1 1.1 1-.1 1-.7 1-2.7 1-7.7 1-10.2 1-13.3 1-7.7 1 1.2 1 4.1 1-.2 1 2.4 1 1.4 1 .8 1 2.1 1 .3 1 .5 1 1.8 1-1.3 1-.7 1-.5 1 3.5 1 1.9 1 2.6 1 .3 1-3.4 1-4.4 1-4.2 1-4.1 1-7 1-2.3 1 3.5 1 5.9 1 10.3 1 9.3 1 8.6 1 4.3 1-.1 1-3.7 1-2.7 1-3.6 1-.2 1 3.1 1 1.4 1-.3 1 1.8 1 0 1 2.4 1 2.4 1-.3 1 1.4 1 .2 1 1.1 1 .6 1 .5 1 .5 1-.2 1 1.6 1 1.1 1 1.5 1-1.5 1 1.8 1-2 1-1.9 1 .8 1-1.8 1-1.9 1-.5 1-.9 1-2 1 1.4 1 0 1 3.6 1 1 1-.9 1-.7 1-1.7 1-.9 1-1.5 1 1.3 1 2.5 1 1.5 1 1.4 1 1.6 1-.5 1 2.6 1-1.4 1 .7 1-.5 1 .3 1-1.6 1-1.3 1-.8 1-5 1 .7 1 3.8 1 1.4 1 1.1 1-.7 1-1.4 1-2 1 .3 1-1.2 1 .7 1 1.5 1 .5 1-.8 1 .6 1-.7 1 .6 1-1.7 1-.6 1-1 1 .1 1 2.7 1 1.5 1 1.6 1 0 1-.1 1-1.3 1-.4 1-5.2 1-2 1 1.2 1 2.2 1 .8 1-.8 1-.3 1-1 1 .9 1 3.6 1-.1 1 2.3 1 .8 1-.3 1 .1 1 .9 1-.7 1-.8 1 1.2 1 1.1 1 .2 1 .5 1 1 1 0 1 .5 1-.1 1-1.5 1-1.5 1 1.3 1-.6 1-.2 1 .5 1 1.9 1 1.1 1 .6 1-.1 1-.9 1-.5 1-1.3 1-.1 1-.2 1 .8 1-1.4 1 2.2 1-.3 1-.8 1-.1 1 .4 1-.2 1-.1 1-1.9 1 .7 1 .5 1 .3 1-.2 1-.3 1 .3 1-.6 1 1.2 1-.8 1-.7 1-1 1-.1 1 0 1-.2 1 1.1 1 .6 1-.4 1-1 1 1.6 1-.4 1 .5 1 1.5 1-2.1 1 .3 1 .7 1 1.1 1-.5 1-.8 1 1.8 1 .5 1 .7 1-.6 1 .6 1-1.3 1 .3 1-.5 1-1.8 1-.7 1 .6 1-1.4 1-.3 1 .6 1 .3 1 .2 1-.9 1 .5 1-.9 1-.3 1 2.2 1-1.8 1-.5 1 1.5 1 .1 1 1.9 1-1.5 1 .8 1 1 1-.9 1-1.5 1 .9 1-.8 1-1.5 1 .3 1-.9 1-1.6 1 .2 1 .8 1-.2 1 .2 1 1.3 1 1.4 1 .4 1 0 1-.3 1 2.4 1-.6 1 .2 1-1.2 1-1 1-.2 1-1.2 1-.6 1-.9 1-1.3 1 1.8 1 .3 1-.6 1 .7 1 2.4 1-.5 1-.3 1-.2 1 2.2 1 .1 1-1.2 1 .9 1-1.4 1-.5 1 0" fill="none" stroke="#383838" stroke-width="0.95" /></g><line x1="87.22" y1="313.16" x2="87.22" y2="317.16" stroke="#222" stroke-width="1.0" /><line x1="87.22" y1="381.49" x2="87.22" y2="377.49" stroke="#222" stroke-width="1.0" /><line x1="113.91" y1="313.16" x2="113.91" y2="317.16" stroke="#222" stroke-width="1.0" /><line x1="113.91" y1="381.49" x2="113.91" y2="377.49" stroke="#222" stroke-width="1.0" /><line x1="140.60" y1="313.16" x2="140.60" y2="324.16" stroke="#222" stroke-width="1.3" /><line x1="140.60" y1="381.49" x2="140.60" y2="370.49" stroke="#222" stroke-width="1.3" /><line x1="167.29" y1="313.16" x2="167.29" y2="317.16" stroke="#222" stroke-width="1.0" /><line x1="167.29" y1="381.49" x2="167.29" y2="377.49" stroke="#222" stroke-width="1.0" /><line x1="193.98" y1="313.16" x2="193.98" y2="317.16" stroke="#222" stroke-width="1.0" /><line x1="193.98" y1="381.49" x2="193.98" y2="377.49" stroke="#222" stroke-width="1.0" /><line x1="220.67" y1="313.16" x2="220.67" y2="324.16" stroke="#222" stroke-width="1.3" /><line x1="220.67" y1="381.49" x2="220.67" y2="370.49" stroke="#222" stroke-width="1.3" /><line x1="247.36" y1="313.16" x2="247.36" y2="317.16" stroke="#222" stroke-width="1.0" /><line x1="247.36" y1="381.49" x2="247.36" y2="377.49" stroke="#222" stroke-width="1.0" /><line x1="274.05" y1="313.16" x2="274.05" y2="317.16" stroke="#222" stroke-width="1.0" /><line x1="274.05" y1="381.49" x2="274.05" y2="377.49" stroke="#222" stroke-width="1.0" /><line x1="300.74" y1="313.16" x2="300.74" y2="324.16" stroke="#222" stroke-width="1.3" /><line x1="300.74" y1="381.49" x2="300.74" y2="370.49" stroke="#222" stroke-width="1.3" /><line x1="327.43" y1="313.16" x2="327.43" y2="317.16" stroke="#222" stroke-width="1.0" /><line x1="327.43" y1="381.49" x2="327.43" y2="377.49" stroke="#222" stroke-width="1.0" /><line x1="354.12" y1="313.16" x2="354.12" y2="317.16" stroke="#222" stroke-width="1.0" /><line x1="354.12" y1="381.49" x2="354.12" y2="377.49" stroke="#222" stroke-width="1.0" /><line x1="380.81" y1="313.16" x2="380.81" y2="324.16" stroke="#222" stroke-width="1.3" /><line x1="380.81" y1="381.49" x2="380.81" y2="370.49" stroke="#222" stroke-width="1.3" /><line x1="407.50" y1="313.16" x2="407.50" y2="317.16" stroke="#222" stroke-width="1.0" /><line x1="407.50" y1="381.49" x2="407.50" y2="377.49" stroke="#222" stroke-width="1.0" /><line x1="434.19" y1="313.16" x2="434.19" y2="317.16" stroke="#222" stroke-width="1.0" /><line x1="434.19" y1="381.49" x2="434.19" y2="377.49" stroke="#222" stroke-width="1.0" /><line x1="460.88" y1="313.16" x2="460.88" y2="324.16" stroke="#222" stroke-width="1.3" /><line x1="460.88" y1="381.49" x2="460.88" y2="370.49" stroke="#222" stroke-width="1.3" /><line x1="487.57" y1="313.16" x2="487.57" y2="317.16" stroke="#222" stroke-width="1.0" /><line x1="487.57" y1="381.49" x2="487.57" y2="377.49" stroke="#222" stroke-width="1.0" /><line x1="514.26" y1="313.16" x2="514.26" y2="317.16" stroke="#222" stroke-width="1.0" /><line x1="514.26" y1="381.49" x2="514.26" y2="377.49" stroke="#222" stroke-width="1.0" /><line x1="71.40" y1="378.56" x2="74.60" y2="378.56" stroke="#222" stroke-width="1" /><line x1="525.40" y1="378.56" x2="522.20" y2="378.56" stroke="#222" stroke-width="1" /><line x1="71.40" y1="375.70" x2="77.90" y2="375.70" stroke="#222" stroke-width="1" /><line x1="525.40" y1="375.70" x2="518.90" y2="375.70" stroke="#222" stroke-width="1" /><line x1="71.40" y1="372.84" x2="74.60" y2="372.84" stroke="#222" stroke-width="1" /><line x1="525.40" y1="372.84" x2="522.20" y2="372.84" stroke="#222" stroke-width="1" /><line x1="71.40" y1="369.98" x2="74.60" y2="369.98" stroke="#222" stroke-width="1" /><line x1="525.40" y1="369.98" x2="522.20" y2="369.98" stroke="#222" stroke-width="1" /><line x1="71.40" y1="367.12" x2="74.60" y2="367.12" stroke="#222" stroke-width="1" /><line x1="525.40" y1="367.12" x2="522.20" y2="367.12" stroke="#222" stroke-width="1" /><line x1="71.40" y1="364.26" x2="74.60" y2="364.26" stroke="#222" stroke-width="1" /><line x1="525.40" y1="364.26" x2="522.20" y2="364.26" stroke="#222" stroke-width="1" /><line x1="71.40" y1="361.40" x2="77.90" y2="361.40" stroke="#222" stroke-width="1" /><line x1="525.40" y1="361.40" x2="518.90" y2="361.40" stroke="#222" stroke-width="1" /><line x1="71.40" y1="358.54" x2="74.60" y2="358.54" stroke="#222" stroke-width="1" /><line x1="525.40" y1="358.54" x2="522.20" y2="358.54" stroke="#222" stroke-width="1" /><line x1="71.40" y1="355.68" x2="74.60" y2="355.68" stroke="#222" stroke-width="1" /><line x1="525.40" y1="355.68" x2="522.20" y2="355.68" stroke="#222" stroke-width="1" /><line x1="71.40" y1="352.82" x2="74.60" y2="352.82" stroke="#222" stroke-width="1" /><line x1="525.40" y1="352.82" x2="522.20" y2="352.82" stroke="#222" stroke-width="1" /><line x1="71.40" y1="349.96" x2="74.60" y2="349.96" stroke="#222" stroke-width="1" /><line x1="525.40" y1="349.96" x2="522.20" y2="349.96" stroke="#222" stroke-width="1" /><line x1="71.40" y1="347.10" x2="77.90" y2="347.10" stroke="#222" stroke-width="1" /><line x1="525.40" y1="347.10" x2="518.90" y2="347.10" stroke="#222" stroke-width="1" /><line x1="71.40" y1="344.24" x2="74.60" y2="344.24" stroke="#222" stroke-width="1" /><line x1="525.40" y1="344.24" x2="522.20" y2="344.24" stroke="#222" stroke-width="1" /><line x1="71.40" y1="341.38" x2="74.60" y2="341.38" stroke="#222" stroke-width="1" /><line x1="525.40" y1="341.38" x2="522.20" y2="341.38" stroke="#222" stroke-width="1" /><line x1="71.40" y1="338.52" x2="74.60" y2="338.52" stroke="#222" stroke-width="1" /><line x1="525.40" y1="338.52" x2="522.20" y2="338.52" stroke="#222" stroke-width="1" /><line x1="71.40" y1="335.66" x2="74.60" y2="335.66" stroke="#222" stroke-width="1" /><line x1="525.40" y1="335.66" x2="522.20" y2="335.66" stroke="#222" stroke-width="1" /><line x1="71.40" y1="332.80" x2="77.90" y2="332.80" stroke="#222" stroke-width="1" /><line x1="525.40" y1="332.80" x2="518.90" y2="332.80" stroke="#222" stroke-width="1" /><line x1="71.40" y1="329.94" x2="74.60" y2="329.94" stroke="#222" stroke-width="1" /><line x1="525.40" y1="329.94" x2="522.20" y2="329.94" stroke="#222" stroke-width="1" /><line x1="71.40" y1="327.08" x2="74.60" y2="327.08" stroke="#222" stroke-width="1" /><line x1="525.40" y1="327.08" x2="522.20" y2="327.08" stroke="#222" stroke-width="1" /><line x1="71.40" y1="324.22" x2="74.60" y2="324.22" stroke="#222" stroke-width="1" /><line x1="525.40" y1="324.22" x2="522.20" y2="324.22" stroke="#222" stroke-width="1" /><line x1="71.40" y1="321.36" x2="74.60" y2="321.36" stroke="#222" stroke-width="1" /><line x1="525.40" y1="321.36" x2="522.20" y2="321.36" stroke="#222" stroke-width="1" /><line x1="71.40" y1="318.50" x2="77.90" y2="318.50" stroke="#222" stroke-width="1" /><line x1="525.40" y1="318.50" x2="518.90" y2="318.50" stroke="#222" stroke-width="1" /><line x1="71.40" y1="315.64" x2="74.60" y2="315.64" stroke="#222" stroke-width="1" /><line x1="525.40" y1="315.64" x2="522.20" y2="315.64" stroke="#222" stroke-width="1" /><text x="68.60" y="322.20" font-size="10.7" text-anchor="end" fill="#000" >350</text><text x="68.60" y="336.50" font-size="10.7" text-anchor="end" fill="#000" >300</text><text x="68.60" y="350.80" font-size="10.7" text-anchor="end" fill="#000" >250</text><text x="68.60" y="365.10" font-size="10.7" text-anchor="end" fill="#000" >200</text><text x="68.60" y="379.40" font-size="10.7" text-anchor="end" fill="#000" >150</text><rect x="71.40" y="313.16" width="454.00" height="68.33" fill="none" stroke="#000" stroke-width="1.7"/><line x1="77.50" y1="316.70" x2="95.00" y2="316.70" stroke="#00aa00" stroke-width="1.3" stroke-dasharray="4.5 1.8"/><text x="96.30" y="319.20" font-size="9" text-anchor="start" fill="#80b000" >t&#160;&#160;HT</text><line x1="77.50" y1="323.80" x2="95.00" y2="323.80" stroke="#40c8ff" stroke-width="1.5" stroke-dasharray="2 1.2"/><text x="96.30" y="326.30" font-size="9" text-anchor="start" fill="#40b0ff" >t&#160;&#160;vmax</text><line x1="77.50" y1="330.70" x2="95.00" y2="330.70" stroke="#ff3030" stroke-width="1.5" stroke-dasharray="4.5 1.8"/><text x="96.30" y="333.20" font-size="9" text-anchor="start" fill="#ff3010" >t&#160;&#160;cs</text><line x1="77.50" y1="337.50" x2="95.00" y2="337.50" stroke="#0000ff" stroke-width="1.3" stroke-dasharray="2 1.2"/><text x="96.30" y="340.00" font-size="9" text-anchor="start" fill="#0000ff" >t&#160;&#160;dvmax</text><line x1="77.50" y1="344.50" x2="95.00" y2="344.50" stroke="#444" stroke-width="1.0"/><text x="96.3" y="347.0" font-size="9" fill="#b09060">|V<tspan font-size="7" dy="2.5">i</tspan></text><text transform="translate(42.50,347.30) rotate(-90)" font-size="11" text-anchor="middle" fill="#000">| V<tspan font-size="8" dy="2.5">i</tspan><tspan dy="-2.5" font-size="1">&#8203;</tspan> | [km/s]</text><line x1="136.30" y1="385.49" x2="136.30" y2="449.82" stroke="#00aa00" stroke-width="1.3" stroke-dasharray="10 4.4"/><line x1="303.00" y1="385.49" x2="303.00" y2="449.82" stroke="#00aa00" stroke-width="1.3" stroke-dasharray="10 4.4"/><line x1="178.10" y1="385.49" x2="178.10" y2="449.82" stroke="#ff4848" stroke-width="1.7" stroke-dasharray="11 4"/><line x1="261.40" y1="385.49" x2="261.40" y2="449.82" stroke="#ff0000" stroke-width="1.3" stroke-dasharray="11 4"/><line x1="174.50" y1="385.49" x2="174.50" y2="449.82" stroke="#0000ff" stroke-width="1.3" stroke-dasharray="2 3.4"/><line x1="229.30" y1="385.49" x2="229.30" y2="449.82" stroke="#ff00ff" stroke-width="1.5" stroke-dasharray="2 3.4"/><line x1="347.00" y1="385.49" x2="347.00" y2="449.82" stroke="#ff00ff" stroke-width="1.5" stroke-dasharray="2 3.4"/><g clip-path="url(#cl4)"><path d="M71.8 428.6l1 .1 1-.4 1-.3 1-2.8 1-.4 1-.4 1 .5 1 .6 1-.1 1 1.4 1-.7 1 .9 1-1.4 1 .1 1-.4 1-.4 1 .2 1 1.1 1 1.3 1 3 1 .1 1 .5 1-2.1 1-1.8 1-2.5 1-1.4 1-1.8 1 1.7 1 1.1 1 1.8 1 1.3 1-1 1-1.6 1 1.1 1-1.2 1-.9 1 .5 1 1.9 1 1.5 1-.1 1-.4 1 1 1 0 1-1.8 1 .9 1-1.4 1 .4 1 .3 1-.1 1-.8 1 1.4 1-1 1 1.4 1-1.8 1 .2 1-.9 1-1.2 1-.2 1-.7 1 .4 1-1.2 1 .6 1-.1 1 3 1 .7 1 .2 1-.3 1-2.1 1-.9 1 0 1 .1 1 1.7 1-1.5 1 1.9 1 1.5 1 .1 1 .4 1 .8 1 .2 1-.9 1-1.7 1-.5 1 .7 1-.7 1 2.1 1-1.1 1 2.4 1-2 1 1.6 1-1.2 1-1.5 1 .8 1 .3 1 .2 1 0 1 .2 1 .4 1 .8 1 1.4 1 .3 1 1.1 1 1.7 1 2.3 1-1.4 1-3.6 1-6 1-2.8 1-2.6 1-1.9 1-.6 1-3.6 1-1.5 1-1.5 1-2 1-.3 1-.3 1-.7 1-.1 1 .1 1 1.5 1 1.9 1 3.9 1-.6 1-4.6 1-4 1-2.7 1-2.3 1 1.4 1 .5 1 2.8 1 2.2 1-.6 1 .9 1 1.8 1 .1 1 1 1 1.8 1 2.1 1 .1 1 2.1 1 1.2 1-2.1 1-2.5 1-2.4 1-1.7 1-1.7 1-1.9 1-.2 1-1.7 1 2.2 1 .8 1 .7 1 1 1 3.9 1 .6 1 .6 1-.3 1-2.9 1-.8 1-.4 1 .8 1-.2 1 1.5 1-.9 1 .9 1 .3 1 .6 1 2.6 1 0 1 .6 1 .9 1 .8 1-.4 1 1.2 1 .9 1-1 1 .5 1-.5 1-1.4 1-1.7 1-1.2 1-1.1 1-.9 1-2.4 1-1.7 1-6.7 1-7.8 1-3.5 1 .2 1 1.2 1 1.8 1 2.3 1 .7 1 1.6 1 0 1 .5 1-.9 1-.2 1-1.1 1-.8 1 .1 1-.3 1 .4 1 2.4 1 2.1 1 1.2 1-1.7 1-1.7 1-3.7 1-2.3 1-3.9 1-.9 1-2.2 1 6 1 4.3 1 4.9 1 .1 1 1.8 1-1.8 1-1.5 1-3 1 .8 1 2 1 1.7 1-.4 1-.1 1 2 1 1 1 1.6 1 .7 1 .2 1 .9 1 1.3 1-.5 1-.7 1 .6 1-1.2 1 .8 1 .9 1 .5 1 .6 1 1.1 1 1.7 1-1 1-.1 1 .2 1-3.7 1 .1 1-.3 1-2.6 1-.3 1 .7 1-.6 1 .8 1 2.3 1-2.1 1 1.8 1-2.1 1 .4 1-.1 1-.1 1 .5 1 1.6 1 .8 1 1.2 1 .9 1 .6 1 1.5 1-1 1-1 1-.6 1 .3 1-1.7 1-.1 1 .1 1 1 1-1.5 1 1.4 1-.8 1 1.8 1-1.7 1 2.4 1-1.1 1 1.6 1-1.4 1-1 1 .1 1-.4 1 .3 1 .4 1-1.1 1-.8 1-.4 1 .9 1-2 1 .7 1-1.4 1-.3 1 .6 1-1.7 1 1.9 1 .1 1-1.7 1 .2 1 1.6 1 1.1 1 1 1 2.2 1 1.6 1-1.2 1 .8 1-.4 1 .4 1-.3 1 .3 1 .2 1-.6 1 0 1-1 1 .3 1-1.5 1 1.4 1-.3 1 .7 1 .1 1 .4 1 .6 1 .1 1 .7 1-1 1 1.2 1 1.1 1-.6 1 2.9 1 .1 1-1.2 1 2.8 1 .1 1 .8 1 1.2 1-.9 1 .9 1 .6 1-.9 1 .3 1 .2 1 .1 1-1 1 .2 1-.7 1 .5 1-1.3 1 .3 1-.8 1-.7 1 .6 1-.4 1-.8 1 .6 1 .1 1-2.2 1 1.4 1-2 1 1.1 1 .4 1-.3 1 0 1-.2 1 .8 1-.8 1 2.4 1-2 1 1.5 1-.5 1 1 1-.1 1-.2 1 1.6 1-1 1-.1 1 .5 1 .7 1-.1 1-.6 1 .4 1 0 1-.1 1-.4 1 .6 1-1.1 1 1.7 1 .1 1-.6 1-.1 1-.9 1 1.2 1 .9 1-1.5 1 1.7 1-.7 1 1.8 1-.5 1 .6 1-.7 1 .2 1-.2 1 1.8 1-1 1 .4 1-.8 1 .9 1-.7 1 .6 1 .7 1-1.2 1-.4 1 .7 1-.1 1-.6 1-.7 1 1 1 .1 1-.2 1 .7 1-.6 1 0 1-1.1 1 .9 1 .2 1 0 1 1.2 1-.4 1 .8 1-.6 1 .7 1 .3 1-.5 1 0 1-.9 1-1.3 1 1.3 1-1 1-.6 1 1.7 1-.7 1 0 1-.5 1 1.9 1-.4 1-.3 1 1.3 1 .5" fill="none" stroke="#2828ff" stroke-width="0.9" /><path d="M71.8 408.7l1-.5 1-.8 1-.2 1-1 1-.8 1 1.6 1 .5 1 .9 1 .9 1 .3 1 .4 1-.6 1-.8 1-1.1 1-.8 1 .3 1 .3 1-1.2 1-.6 1 0 1-1.5 1 .6 1 .9 1 .8 1 .1 1 1.1 1 .5 1 .6 1-1.1 1 .9 1-1.5 1-1 1 .9 1-.4 1 .7 1-.5 1-1.7 1 .8 1-1.4 1 .6 1 .3 1 .9 1 1.1 1 .5 1 0 1 .2 1-.2 1-.9 1-.4 1-.2 1 .3 1-.8 1 1.1 1-2.5 1-.7 1 1 1 .9 1 .6 1 1.7 1 1.7 1-.1 1-1.2 1-1.7 1-2 1-3.9 1 .3 1 .5 1 .5 1 1.7 1 1.1 1 1.9 1-.6 1-1 1-.7 1-1 1 .2 1-1.7 1-.2 1 .6 1-.1 1 1.4 1 .2 1 1.4 1 .7 1 .2 1-.3 1-1.4 1 .3 1 .9 1 1.8 1 .7 1-.5 1-1.4 1 .3 1-1.4 1-.6 1-1.9 1-.4 1-3 1 .2 1-1 1-.1 1 .6 1 2.3 1 3.5 1 2.4 1 3 1 1.8 1 4.6 1 1.5 1 .1 1 .1 1-.1 1-.2 1-3.1 1-.4 1 1.9 1 .8 1 1.2 1-.1 1-2.4 1-1.4 1-3.9 1-3.6 1-4.2 1 1.2 1 .4 1 2.5 1-.6 1-.2 1-1.4 1-.9 1-2.9 1 2.1 1 1.2 1 1.9 1 .1 1-.6 1-1.1 1-1.2 1 .2 1-.5 1 1.7 1-.9 1 1.4 1-.4 1 1.2 1 .5 1-.1 1-.2 1-1.2 1-.5 1 2.1 1 1.7 1 1.7 1 .3 1 1.3 1-1.4 1-.8 1-.2 1-.2 1 .4 1 2 1-.3 1 .4 1 1.1 1 1.6 1-.4 1-.2 1-1 1-2.9 1-2.7 1-.3 1-.8 1-.9 1 .9 1 .2 1-.1 1 2.4 1 1 1 0 1 1.3 1-.5 1-1.2 1-.7 1-3.5 1-4.4 1-.5 1 .8 1 .1 1 1.7 1 .4 1 1.9 1-2 1 2.1 1 .1 1 .8 1 2 1-.1 1 2.6 1 .6 1 3.8 1 2.8 1 1.9 1 1.4 1 0 1-.1 1-2.3 1 1.1 1-3.1 1-2.4 1-5.8 1 .1 1 6.6 1 2.7 1 .3 1-.8 1-1.2 1-1.2 1 .7 1 .6 1 .3 1 .2 1-1.1 1-2.5 1-2.6 1 0 1 0 1-.4 1-1.6 1-.6 1-1.1 1 .2 1 .7 1 .6 1 .3 1-.4 1-.3 1 .3 1-.1 1 1.2 1-1.7 1 1.3 1 .7 1 1 1-.5 1 1 1-.4 1 .2 1 .4 1 1.6 1-.3 1-.5 1 1.5 1-2.3 1 0 1-.5 1-.6 1 1.5 1-.4 1-1.5 1 .9 1 1.1 1 .7 1-.8 1-.4 1 .3 1 1.1 1 0 1 .2 1-.9 1-.4 1-.7 1 1.3 1 0 1 .2 1-.2 1-.8 1 .8 1-.9 1-.5 1 0 1-.1 1-.9 1 1.4 1 .3 1-.2 1-.1 1 .8 1 .9 1-.9 1-.4 1-.1 1 .3 1-.8 1 .6 1 .1 1 .9 1-.7 1-.1 1-1.4 1 .3 1-1.7 1 .3 1-.3 1-.9 1 1.8 1-.3 1-.7 1 2.5 1 .6 1 1 1 .9 1-.1 1-2 1-.4 1 .2 1-.7 1-.5 1-.6 1-2.5 1 1.8 1-1.3 1 2.6 1-.3 1-.6 1 2 1-1.1 1-2.2 1 .5 1-1.2 1 .3 1-.3 1 1.3 1-1.4 1 1.3 1 1.4 1-1.2 1 .9 1 .4 1-.1 1 1.2 1 .2 1-.2 1 2.1 1 0 1-.3 1 0 1 0 1 1.3 1-.9 1 .2 1-.7 1 .2 1-.7 1 .2 1-.8 1 .4 1-.3 1-.6 1-.7 1-.3 1-.1 1-.3 1 .9 1-.7 1 .8 1 .3 1-1.6 1-1.2 1 .5 1 0 1-1.1 1 .5 1 .1 1-.7 1-.5 1-.3 1 1.2 1-1.4 1-.7 1 .1 1 .7 1-1 1 .7 1 .2 1 .1 1 .5 1-1.1 1 1.1 1-1 1 .4 1 1.2 1 .1 1-.3 1-.5 1 1.3 1-.5 1-.1 1 .2 1 .5 1-1.5 1 1.4 1-.2 1-.6 1 .9 1-.3 1-.9 1-.2 1 .8 1-1.3 1 .6 1-.1 1 .4 1 .1 1-.1 1 .7 1-.5 1-.3 1-.6 1 1.2 1 0 1 .6 1-1.4 1 .4 1-.1 1-.1 1-.1 1-1.3 1 1.3 1-.2 1 0 1 .5 1-1.7 1 0 1-.1 1 1.3 1-2.1 1 1.5 1-.8 1-.4 1 .7 1 .8 1 1.9 1-.8 1 .6 1-.2 1 1.4 1-.7 1 1.8 1-1.1 1 .3" fill="none" stroke="#28ff28" stroke-width="0.9" /><path d="M71.8 433.5l1-.8 1-.2 1-.4 1-1.3 1-.7 1 .1 1 1 1 .9 1 .1 1-.3 1 1.5 1-1.5 1 .2 1-.4 1 0 1 .3 1-1.1 1 1 1 .9 1-.2 1 .7 1 .1 1-1.2 1-.7 1-.1 1-.5 1 0 1 1.1 1-.5 1 .1 1-.3 1 1.1 1-.7 1 1.3 1 0 1-1.5 1 .5 1 .6 1-.1 1-.3 1 0 1 1 1-.6 1-.6 1 .6 1 .7 1 .4 1-.7 1-.2 1-.2 1 .1 1 .5 1 0 1-.6 1-1.5 1-.3 1-.6 1-.4 1-1.3 1 1.5 1 .5 1 1.3 1-.4 1 .4 1-.1 1 .4 1-.2 1 .1 1 .4 1-.1 1 .1 1-.3 1 .4 1 1.2 1-.8 1 .5 1 .1 1 .2 1-1.2 1 2.3 1-1.5 1-.2 1 .7 1-2 1 .9 1-.1 1-.4 1 1.6 1-.3 1 .5 1-.1 1 .4 1 .7 1-1.7 1 1.1 1-.3 1 .9 1 .2 1 1.3 1 1.3 1 1.8 1 .6 1 .6 1-.3 1-2.2 1 .2 1-1.3 1 1 1 .7 1 1.4 1 1.1 1-1.4 1 1.3 1-2 1-.7 1-1.1 1-.2 1-.4 1 .8 1-.5 1 1.3 1 .8 1-1.9 1 .1 1-.1 1 .5 1 .1 1-.3 1 .3 1 .2 1 .1 1 0 1-.2 1-.3 1-.3 1-.6 1 .8 1 .4 1 1.4 1 .2 1 1 1 .5 1-.4 1-1.1 1 .1 1-1.3 1 1 1 .6 1 .1 1-.1 1-.4 1-1 1-1.3 1-.4 1-.7 1-.3 1-.6 1-.5 1 .3 1 .4 1-1.2 1-.6 1 .7 1-.2 1 .4 1 .1 1 .9 1 .6 1 1.1 1-1.4 1 .1 1 .8 1 .3 1 1.1 1 .1 1-.9 1-.6 1 1.3 1-.5 1 .5 1-1.1 1-.4 1-.8 1 .5 1 .9 1 .8 1 2.9 1 1.7 1 2.9 1 .8 1 .4 1-.2 1-1 1-.7 1 .9 1-1 1-.7 1-.1 1 1 1-1 1 .4 1-1.7 1 2.3 1-.7 1 .8 1-.4 1 .4 1 1 1 1.1 1-.2 1-.2 1 .8 1-.8 1-4.1 1-1.9 1-1.2 1-2.2 1-1.9 1 .8 1 .4 1 .5 1 .7 1-1.1 1 .5 1 .3 1 .1 1-.8 1 .1 1-.6 1 .5 1 0 1-1.2 1 .5 1-.8 1 .6 1-.9 1 .8 1 .5 1-.1 1-1.3 1 1 1-.1 1 1.1 1-.3 1 .7 1-.7 1-.2 1-.5 1 1.4 1-.2 1 .2 1-.3 1 0 1 .5 1-1.5 1 .6 1 .3 1-.4 1 .7 1-1.1 1 .2 1-.1 1 0 1 1.2 1-1.5 1 .5 1 .2 1 .4 1 .1 1 .7 1 .3 1 .8 1-.2 1-.8 1-.3 1 .6 1-.1 1 0 1 .7 1-.6 1-1 1 .1 1 1.1 1-1.5 1 .8 1 .1 1-1.2 1-.2 1 .8 1-.1 1 .2 1-.3 1-1 1 1.1 1-1 1-.3 1-.1 1-.9 1 .4 1 1.1 1 .3 1-.3 1 .7 1 .1 1 .3 1 .4 1-.1 1 .3 1 .3 1 0 1-.3 1-.4 1 0 1-.5 1-.5 1-.6 1-.1 1 .1 1-.2 1-.6 1-.3 1-.1 1-.2 1 1.3 1-1.2 1 .8 1-.4 1 .3 1-.6 1 .1 1 .6 1 .3 1-.7 1 .4 1-.2 1 .1 1-.2 1-.2 1 1.3 1-1.2 1 .6 1-.4 1 .5 1-.4 1 .1 1 .4 1 .6 1-.8 1 1.2 1-.6 1 .2 1-.6 1 .8 1-.6 1 .2 1-1.1 1 1.7 1-.5 1-.8 1 0 1 .4 1-.4 1-.3 1 .7 1 .9 1-.3 1-.1 1-.4 1 1 1-1.3 1-.2 1-.3 1 .7 1-.8 1 .2 1 .3 1-1.4 1 .2 1 .5 1-.3 1-.3 1-.2 1-.5 1 .4 1 .2 1-.7 1 0 1-.1 1 .8 1 .9 1-.6 1 .4 1 1.1 1-.9 1 .4 1 .3 1 0 1 1.1 1-1.1 1 .7 1-.5 1 .7 1 0 1-1.9 1 .9 1-.3 1 .8 1 .2 1-.6 1-.1 1 .4 1-.7 1 .8 1 .2 1-.2 1-.5 1 .8 1-.6 1-.3 1 .3 1-.7 1 .7 1-.6 1-.6 1 .5 1 .8 1-.5 1-1.3 1 .3 1 .8 1 .2 1-.4 1 .5 1-.8 1 1 1-1.1 1 .9 1 .6 1-.6 1 .4 1-1.4 1 1.6 1-.5 1 .5 1-1.1 1 1.5 1-.8 1 .5 1-1.6 1 0 1 1 1-.4" fill="none" stroke="#ff3838" stroke-width="0.9" /></g><line x1="71.40" y1="414.00" x2="525.40" y2="414.00" stroke="#000" stroke-width="1.7" stroke-dasharray="5.2 3.1"/><line x1="87.22" y1="381.49" x2="87.22" y2="385.49" stroke="#222" stroke-width="1.0" /><line x1="87.22" y1="449.82" x2="87.22" y2="445.82" stroke="#222" stroke-width="1.0" /><line x1="113.91" y1="381.49" x2="113.91" y2="385.49" stroke="#222" stroke-width="1.0" /><line x1="113.91" y1="449.82" x2="113.91" y2="445.82" stroke="#222" stroke-width="1.0" /><line x1="140.60" y1="381.49" x2="140.60" y2="392.49" stroke="#222" stroke-width="1.3" /><line x1="140.60" y1="449.82" x2="140.60" y2="438.82" stroke="#222" stroke-width="1.3" /><line x1="167.29" y1="381.49" x2="167.29" y2="385.49" stroke="#222" stroke-width="1.0" /><line x1="167.29" y1="449.82" x2="167.29" y2="445.82" stroke="#222" stroke-width="1.0" /><line x1="193.98" y1="381.49" x2="193.98" y2="385.49" stroke="#222" stroke-width="1.0" /><line x1="193.98" y1="449.82" x2="193.98" y2="445.82" stroke="#222" stroke-width="1.0" /><line x1="220.67" y1="381.49" x2="220.67" y2="392.49" stroke="#222" stroke-width="1.3" /><line x1="220.67" y1="449.82" x2="220.67" y2="438.82" stroke="#222" stroke-width="1.3" /><line x1="247.36" y1="381.49" x2="247.36" y2="385.49" stroke="#222" stroke-width="1.0" /><line x1="247.36" y1="449.82" x2="247.36" y2="445.82" stroke="#222" stroke-width="1.0" /><line x1="274.05" y1="381.49" x2="274.05" y2="385.49" stroke="#222" stroke-width="1.0" /><line x1="274.05" y1="449.82" x2="274.05" y2="445.82" stroke="#222" stroke-width="1.0" /><line x1="300.74" y1="381.49" x2="300.74" y2="392.49" stroke="#222" stroke-width="1.3" /><line x1="300.74" y1="449.82" x2="300.74" y2="438.82" stroke="#222" stroke-width="1.3" /><line x1="327.43" y1="381.49" x2="327.43" y2="385.49" stroke="#222" stroke-width="1.0" /><line x1="327.43" y1="449.82" x2="327.43" y2="445.82" stroke="#222" stroke-width="1.0" /><line x1="354.12" y1="381.49" x2="354.12" y2="385.49" stroke="#222" stroke-width="1.0" /><line x1="354.12" y1="449.82" x2="354.12" y2="445.82" stroke="#222" stroke-width="1.0" /><line x1="380.81" y1="381.49" x2="380.81" y2="392.49" stroke="#222" stroke-width="1.3" /><line x1="380.81" y1="449.82" x2="380.81" y2="438.82" stroke="#222" stroke-width="1.3" /><line x1="407.50" y1="381.49" x2="407.50" y2="385.49" stroke="#222" stroke-width="1.0" /><line x1="407.50" y1="449.82" x2="407.50" y2="445.82" stroke="#222" stroke-width="1.0" /><line x1="434.19" y1="381.49" x2="434.19" y2="385.49" stroke="#222" stroke-width="1.0" /><line x1="434.19" y1="449.82" x2="434.19" y2="445.82" stroke="#222" stroke-width="1.0" /><line x1="460.88" y1="381.49" x2="460.88" y2="392.49" stroke="#222" stroke-width="1.3" /><line x1="460.88" y1="449.82" x2="460.88" y2="438.82" stroke="#222" stroke-width="1.3" /><line x1="487.57" y1="381.49" x2="487.57" y2="385.49" stroke="#222" stroke-width="1.0" /><line x1="487.57" y1="449.82" x2="487.57" y2="445.82" stroke="#222" stroke-width="1.0" /><line x1="514.26" y1="381.49" x2="514.26" y2="385.49" stroke="#222" stroke-width="1.0" /><line x1="514.26" y1="449.82" x2="514.26" y2="445.82" stroke="#222" stroke-width="1.0" /><line x1="71.40" y1="447.54" x2="74.60" y2="447.54" stroke="#222" stroke-width="1" /><line x1="525.40" y1="447.54" x2="522.20" y2="447.54" stroke="#222" stroke-width="1" /><line x1="71.40" y1="444.96" x2="74.60" y2="444.96" stroke="#222" stroke-width="1" /><line x1="525.40" y1="444.96" x2="522.20" y2="444.96" stroke="#222" stroke-width="1" /><line x1="71.40" y1="442.38" x2="74.60" y2="442.38" stroke="#222" stroke-width="1" /><line x1="525.40" y1="442.38" x2="522.20" y2="442.38" stroke="#222" stroke-width="1" /><line x1="71.40" y1="439.80" x2="77.90" y2="439.80" stroke="#222" stroke-width="1" /><line x1="525.40" y1="439.80" x2="518.90" y2="439.80" stroke="#222" stroke-width="1" /><line x1="71.40" y1="437.22" x2="74.60" y2="437.22" stroke="#222" stroke-width="1" /><line x1="525.40" y1="437.22" x2="522.20" y2="437.22" stroke="#222" stroke-width="1" /><line x1="71.40" y1="434.64" x2="74.60" y2="434.64" stroke="#222" stroke-width="1" /><line x1="525.40" y1="434.64" x2="522.20" y2="434.64" stroke="#222" stroke-width="1" /><line x1="71.40" y1="432.06" x2="74.60" y2="432.06" stroke="#222" stroke-width="1" /><line x1="525.40" y1="432.06" x2="522.20" y2="432.06" stroke="#222" stroke-width="1" /><line x1="71.40" y1="429.48" x2="74.60" y2="429.48" stroke="#222" stroke-width="1" /><line x1="525.40" y1="429.48" x2="522.20" y2="429.48" stroke="#222" stroke-width="1" /><line x1="71.40" y1="426.90" x2="77.90" y2="426.90" stroke="#222" stroke-width="1" /><line x1="525.40" y1="426.90" x2="518.90" y2="426.90" stroke="#222" stroke-width="1" /><line x1="71.40" y1="424.32" x2="74.60" y2="424.32" stroke="#222" stroke-width="1" /><line x1="525.40" y1="424.32" x2="522.20" y2="424.32" stroke="#222" stroke-width="1" /><line x1="71.40" y1="421.74" x2="74.60" y2="421.74" stroke="#222" stroke-width="1" /><line x1="525.40" y1="421.74" x2="522.20" y2="421.74" stroke="#222" stroke-width="1" /><line x1="71.40" y1="419.16" x2="74.60" y2="419.16" stroke="#222" stroke-width="1" /><line x1="525.40" y1="419.16" x2="522.20" y2="419.16" stroke="#222" stroke-width="1" /><line x1="71.40" y1="416.58" x2="74.60" y2="416.58" stroke="#222" stroke-width="1" /><line x1="525.40" y1="416.58" x2="522.20" y2="416.58" stroke="#222" stroke-width="1" /><line x1="71.40" y1="414.00" x2="77.90" y2="414.00" stroke="#222" stroke-width="1" /><line x1="525.40" y1="414.00" x2="518.90" y2="414.00" stroke="#222" stroke-width="1" /><line x1="71.40" y1="411.42" x2="74.60" y2="411.42" stroke="#222" stroke-width="1" /><line x1="525.40" y1="411.42" x2="522.20" y2="411.42" stroke="#222" stroke-width="1" /><line x1="71.40" y1="408.84" x2="74.60" y2="408.84" stroke="#222" stroke-width="1" /><line x1="525.40" y1="408.84" x2="522.20" y2="408.84" stroke="#222" stroke-width="1" /><line x1="71.40" y1="406.26" x2="74.60" y2="406.26" stroke="#222" stroke-width="1" /><line x1="525.40" y1="406.26" x2="522.20" y2="406.26" stroke="#222" stroke-width="1" /><line x1="71.40" y1="403.68" x2="74.60" y2="403.68" stroke="#222" stroke-width="1" /><line x1="525.40" y1="403.68" x2="522.20" y2="403.68" stroke="#222" stroke-width="1" /><line x1="71.40" y1="401.10" x2="77.90" y2="401.10" stroke="#222" stroke-width="1" /><line x1="525.40" y1="401.10" x2="518.90" y2="401.10" stroke="#222" stroke-width="1" /><line x1="71.40" y1="398.52" x2="74.60" y2="398.52" stroke="#222" stroke-width="1" /><line x1="525.40" y1="398.52" x2="522.20" y2="398.52" stroke="#222" stroke-width="1" /><line x1="71.40" y1="395.94" x2="74.60" y2="395.94" stroke="#222" stroke-width="1" /><line x1="525.40" y1="395.94" x2="522.20" y2="395.94" stroke="#222" stroke-width="1" /><line x1="71.40" y1="393.36" x2="74.60" y2="393.36" stroke="#222" stroke-width="1" /><line x1="525.40" y1="393.36" x2="522.20" y2="393.36" stroke="#222" stroke-width="1" /><line x1="71.40" y1="390.78" x2="74.60" y2="390.78" stroke="#222" stroke-width="1" /><line x1="525.40" y1="390.78" x2="522.20" y2="390.78" stroke="#222" stroke-width="1" /><line x1="71.40" y1="388.20" x2="77.90" y2="388.20" stroke="#222" stroke-width="1" /><line x1="525.40" y1="388.20" x2="518.90" y2="388.20" stroke="#222" stroke-width="1" /><line x1="71.40" y1="385.62" x2="74.60" y2="385.62" stroke="#222" stroke-width="1" /><line x1="525.40" y1="385.62" x2="522.20" y2="385.62" stroke="#222" stroke-width="1" /><line x1="71.40" y1="383.04" x2="74.60" y2="383.04" stroke="#222" stroke-width="1" /><line x1="525.40" y1="383.04" x2="522.20" y2="383.04" stroke="#222" stroke-width="1" /><text x="527.90" y="391.90" font-size="10.7" text-anchor="start" fill="#000" >200</text><text x="527.90" y="404.80" font-size="10.7" text-anchor="start" fill="#000" >100</text><text x="527.90" y="417.70" font-size="10.7" text-anchor="start" fill="#000" >0</text><text x="527.90" y="430.60" font-size="10.7" text-anchor="start" fill="#000" >-100</text><text x="527.90" y="443.50" font-size="10.7" text-anchor="start" fill="#000" >-200</text><rect x="71.40" y="381.49" width="454.00" height="68.33" fill="none" stroke="#000" stroke-width="1.7"/><line x1="77.50" y1="389.40" x2="95.00" y2="389.40" stroke="#3030ff" stroke-width="1.0"/><text x="96.3" y="393.2" font-size="10" fill="#3030ff">V<tspan font-size="7.5" dy="3">L</tspan></text><line x1="77.50" y1="404.20" x2="95.00" y2="404.20" stroke="#30ff30" stroke-width="1.0"/><text x="96.3" y="408.0" font-size="10" fill="#30ff30">V<tspan font-size="7.5" dy="3">M</tspan></text><line x1="77.50" y1="419.00" x2="95.00" y2="419.00" stroke="#ff3030" stroke-width="1.0"/><text x="96.3" y="422.8" font-size="10" fill="#ff3030">V<tspan font-size="7.5" dy="3">N</tspan></text><text transform="translate(559.50,415.50) rotate(-90)" font-size="11" text-anchor="middle" fill="#000">V<tspan font-size="8" dy="2.5">i LMN</tspan><tspan dy="-2.5" font-size="1">&#8203;</tspan> [km/s]</text><line x1="136.30" y1="453.82" x2="136.30" y2="518.15" stroke="#00aa00" stroke-width="1.3" stroke-dasharray="10 4.4"/><line x1="303.00" y1="453.82" x2="303.00" y2="518.15" stroke="#00aa00" stroke-width="1.3" stroke-dasharray="10 4.4"/><line x1="178.10" y1="453.82" x2="178.10" y2="518.15" stroke="#ff4848" stroke-width="1.7" stroke-dasharray="11 4"/><line x1="261.40" y1="453.82" x2="261.40" y2="518.15" stroke="#ff0000" stroke-width="1.3" stroke-dasharray="11 4"/><line x1="174.50" y1="453.82" x2="174.50" y2="518.15" stroke="#0000ff" stroke-width="1.3" stroke-dasharray="2 3.4"/><line x1="229.30" y1="453.82" x2="229.30" y2="518.15" stroke="#ff00ff" stroke-width="1.5" stroke-dasharray="2 3.4"/><line x1="347.00" y1="453.82" x2="347.00" y2="518.15" stroke="#ff00ff" stroke-width="1.5" stroke-dasharray="2 3.4"/><g clip-path="url(#cl5)"><path d="M71.8 482.4l.5-3 .5 .9 .5-2.6 .5-.4 .5-2.3 .5-.1 .5-1.3 .5 .2 .5-1.9 .5 2.1 .5-2.6 .5 5.4 .5-3.8 .5 3.5 .5-1.3 .5 1.1 .5-.1 .5 1.7 .5-4.6 .5 .5 .5-2.8 .5 .6 .5-.5 .5 2.9 .5-2.6 .5 2.7 .5-1.2 .5 7.7 .5-3 .5 1.6 .5-.8 .5 2.4 .5-5.8 .5 .8 .5-1.5 .5 1.3 .5-3.9 .5-.5 .5-1.5 .5 2.2 .5-1.6 .5 3.7 .5 .8 .5 2.2 .5-5.1 .5 4.4 .5-4.4 .5 3 .5-5.9 .5 2.5 .5-5.5 .5 1.5 .5-4.6 .5-.4 .5-2.9 .5 2.1 .5-.3 .5 3.7 .5-1.7 .5 3.8 .5 1 .5 4.6 .5 .7 .5 .1 .5-1 .5 .7 .5-3.5 .5-.8 .5-4.5 .5-.4 .5-3.3 .5 .8 .5-3 .5 2.4 .5-3.9 .5 3.5 .5 1.4 .5 1.1 .5 1.3 .5 .7 .5-2.2 .5 2.8 .5-1.3 .5 .3 .5-1.2 .5 .1 .5-4.2 .5 .7 .5-3.6 .5-1.6 .5-1 .5 1 .5 .6 .5 3.7 .5 .9 .5 4.4 .5 1.6 .5 5 .5-2.5 .5 2.6 .5-3.3 .5 1.8 .5-2.5 .5 1 .5-.9 .5 .9 .5 .1 .5 2.8 .5 .1 .5 3.6 .5-.9 .5 6.2 .5-.4 .5 3.9 .5 .2 .5 5.2 .5-3 .5 7.5 .5-3.6 .5-.4 .5-5.6 .5 2.2 .5-1.5 .5-.4 .5-3.6 .5-.1 .5-5 .5 1.3 .5-2.9 .5 3.4 .5 3.1 .5 1.2 .5-1.3 .5 .3 .5-3.6 .5 .2 .5-3.1 .5 .4 .5-2.8 .5 .5 .5-3.2 .5 .8 .5-.4 .5 .2 .5-.5 .5 4.4 .5-1.5 .5 2.8 .5 1.8 .5 .1 .5-4.9 .5-2.2 .5-.7 .5 4 .5 .4 .5 6.9 .5 1.6 .5 1.6 .5-2.8 .5 .1 .5-10.3 .5-4.1 .5-5.1 .5 2 .5-3.6 .5 1.4 .5-.6 .5 2.2 .5-1.6 .5 6.2 .5 .3 .5 6.6 .5-2.1 .5 3.1 .5-.1 .5 4.1 .5-.8 .5 .5 .5 .1 .5-1 .5-3.5 .5 .5 .5-1.8 .5-1.9 .5-5.9 .5 4 .5 1.6 .5 6.5 .5 .2 .5-1.5 .5-14.2 .5 1.5 .5 1.3 .5 10.3 .5 5.9 .5 3.1 .5-1 .5-2.2 .5-7.4 .5-.7 .5-4.6 .5 1.2 .5-3.8 .5 9.2 .5 .3 .5 5.9 .5 3.8 .5 9.6 .5 4.8 .5 5.5 .5-4 .5 1 .5-4.5 .5-2.7 .5-6 .5 .2 .5-1.9 .5 6.1 .5 3.8 .5 5.9 .5-2.4 .5 .7 .5-3.4 .5-1.2 .5-4.3 .5-.4 .5-1.4 .5-.7 .5-1 .5 0 .5-1.8 .5-.2 .5-2.6 .5 1.2 .5-1.3 .5 1.8 .5 0 .5 3.4 .5-.5 .5 2.3 .5-.2 .5 1.5 .5-.4 .5 .7 .5-2.3 .5 1 .5-1.5 .5 .9 .5-2.3 .5-1.3 .5-.2 .5 3.3 .5 1.6 .5 3.1 .5 .4 .5 .5 .5-2.6 .5-.6 .5-4.3 .5-1.1 .5-4.3 .5 1 .5 1 .5 4.8 .5 2.9 .5 5.8 .5 2.9 .5 3.5 .5-1 .5-1.2 .5-2.5 .5-2.6 .5-4.7 .5-2.3 .5-4.3 .5 .8 .5-.2 .5 5.7 .5 3.6 .5 6.7 .5 2.1 .5 .9 .5-2.4 .5-2.5 .5-4.5 .5-3.4 .5-4.3 .5-3.3 .5-6 .5-1.8 .5-3.6 .5 1.8 .5 .9 .5 4.5 .5 4.5 .5 6.3 .5 3.9 .5 3.3 .5 .7 .5 .7 .5-2.6 .5-.1 .5-3.2 .5 .3 .5-2.1 .5 2.4 .5-1.7 .5 .5 .5-1.3 .5-.9 .5-2 .5-1.8 .5-2.9 .5-1.7 .5-1.5 .5 3.7 .5 2.7 .5 6.6 .5 4.1 .5 5.4 .5 .5 .5 2.2 .5-3 .5 .5 .5 .7 .5 3.4 .5 1.8 .5 3.6 .5 .2 .5 1.6 .5-5.6 .5-1.3 .5-5.8 .5-3.6 .5-4.5 .5-1.2 .5-5.9 .5-1.7 .5-4.8 .5 1.3 .5-2.9 .5 1.1 .5-2.3 .5 2.9 .5-1.1 .5 4.2 .5-.2 .5 2.6 .5-.7 .5 2.8 .5 1.3 .5 2.6 .5 .1 .5 1.7 .5 1.6 .5 3.8 .5 1.6 .5 3.9 .5 .5 .5 1.8 .5-1 .5 1.5 .5-4.5 .5 1.1 .5-3.9 .5-3.7 .5-7.2 .5-6 .5-6.2 .5-.7 .5-2 .5 3.1 .5 .6 .5 3 .5-1.1 .5 4.7 .5 2.6 .5 4.9 .5 3 .5 6.4 .5 .8 .5 2.1 .5-.2 .5 1 .5-2.9 .5 .9 .5-3.1 .5-.3 .5-1.4 .5-.4 .5-1.7 .5-.1 .5-1.3 .5-1.1 .5-.4 .5-.8 .5-1.5 .5-.3 .5-2 .5-.1 .5-1.8 .5 2.2 .5 .5 .5 2.1 .5 1.6 .5 4.1 .5 1.3 .5 2.2 .5 1.1 .5 2 .5-.1 .5 1.5 .5 .1 .5 1.8 .5 0 .5 1.1 .5 0 .5 .2 .5 .1 .5 .4 .5-1.3 .5 .4 .5-2.9 .5-1.5 .5-4.5 .5-1 .5-3.1 .5-2.6 .5-4.8 .5-1.9 .5-2.4 .5-1.1 .5-2.9 .5-.1 .5-.5 .5 1.6 .5 1.9 .5 4.3 .5 3.5 .5 4.4 .5 1.5 .5 1.3 .5 1.1 .5 1.3 .5 0 .5 1.7 .5-2.7 .5-.4 .5-1.9 .5 1 .5-.3 .5 2.4 .5 .4 .5 2.1 .5 .4 .5 .9 .5-1.3 .5 2.4 .5-2.3 .5 1.5 .5-2.9 .5-.6 .5-1.7 .5-.7 .5-1.5 .5-.6 .5-1.2 .5-1.3 .5-2.9 .5 2.5 .5 .2 .5 4.6 .5 .5 .5 4 .5-.8 .5-1.7 .5-4.2 .5-3.2 .5-2.6 .5 .8 .5 1.6 .5 4.1 .5 1.5 .5 2.5 .5-.7 .5-.7 .5-3.8 .5-2.3 .5-3.9 .5-.4 .5-3.8 .5 1.3 .5-1.2 .5 1.4 .5-3.1 .5 2.1 .5-1 .5 .4 .5-1.8 .5 .8 .5-.6 .5 .8 .5 1.4 .5 1.7 .5 .7 .5 2.8 .5 .8 .5 1.6 .5 .2 .5 .6 .5-1.6 .5 1 .5-2.1 .5 .5 .5-.8 .5 1.3 .5-.4 .5 2.5 .5 .3 .5-.3 .5-2.1 .5-2.3 .5-3.4 .5-3 .5-2.8 .5-.7 .5-.4 .5 1.3 .5 .6 .5 2.5 .5 .1 .5 2.1 .5 1.1 .5 3.7 .5 1.8 .5 2.7 .5-.7 .5 .4 .5-1.9 .5-3.7 .5-5.1 .5-1.5 .5-3.3 .5 1.7 .5 .3 .5 1.9 .5 1.4 .5 .5 .5-1.9 .5-1.6 .5-3.1 .5-1.4 .5-1.7 .5 2.6 .5 2.9 .5 5.5 .5 .8 .5 1 .5-1.5 .5-1.1 .5-3 .5 .2 .5-2.7 .5-1.6 .5-2.1 .5 1.4 .5 0 .5 3.2 .5 .2 .5 2.2 .5-1 .5 1.1 .5-.6 .5 1.5 .5-.9 .5 .6 .5-2.9 .5 .7 .5-3.9 .5-1.2 .5-2.8 .5 1.6 .5 .2 .5 .4 .5 .1 .5 1.1 .5 0 .5 3.3 .5-1.8 .5 1 .5-.6 .5 1.3 .5 1.8 .5 4.1 .5 4.4 .5 3 .5-.2 .5 .7 .5-1.5 .5-.1 .5-1.8 .5 0 .5-.3 .5 3.1 .5-.1 .5 4.8 .5 1.1 .5 1.5 .5-1.5 .5-2.3 .5-2.4 .5 .4 .5 .2 .5 4.2 .5 .8 .5 1.6 .5-1.4 .5 0 .5-3.1 .5-.2 .5-3 .5-2.9 .5-4.3 .5-4 .5-4.2 .5-2.2 .5-1.1 .5 .9 .5-.3 .5 2.9 .5 1.2 .5 1.7 .5-1.1 .5 1.4 .5-1.2 .5 .4 .5-1.5 .5 .5 .5-2 .5 1.3 .5 .2 .5 .6 .5 1.2 .5 2.4 .5 1.2 .5 2.7 .5 1.3 .5 1.5 .5-1.3 .5 1 .5-4.6 .5 .8 .5-.9 .5 2.8 .5-.1 .5 4.4 .5 1.7 .5 2.9 .5-1.2 .5-.6 .5-3.7 .5-3.1 .5-2.1 .5 .5 .5 .2 .5 2.4 .5 2.3 .5 1.5 .5-2.1 .5-.2 .5-2.4 .5 .1 .5-.9 .5 1.1 .5 .1 .5 2 .5-.1 .5 2 .5-.6 .5 1.8 .5-2.1 .5 .3 .5-1.6 .5 .2 .5-.2 .5 1.5 .5 .6 .5 1.6 .5 .1 .5 .8 .5-2 .5-1.9 .5-2.7 .5 1.8 .5 .2 .5 2.6 .5 .9 .5 2.7 .5-.1 .5-.3 .5-1.6 .5-1.2 .5-1.9 .5-.2 .5-1.6 .5-.4 .5-1.8 .5 .8 .5-1.3 .5 .1 .5-1.6 .5 .1 .5-1 .5 2.4 .5-2 .5 1.4 .5-.4 .5 .8 .5-.5 .5 1 .5-.7 .5 1.5 .5-.4 .5 1.8 .5-.6 .5 1.9 .5 1 .5 3.4 .5-.4 .5 2.2 .5-.4 .5 .8 .5-1.2 .5 0 .5-1 .5-1.1 .5-1.9 .5 .7 .5-2.8 .5 2.5 .5 .6 .5 .9 .5 1 .5 2.8 .5-2 .5 .6 .5-1 .5 .2 .5-1.4 .5 .9 .5-1.7 .5 .9 .5-.6 .5 1.5 .5-1 .5 .3 .5-.7 .5 1.7 .5 0 .5 1.3 .5-1.3 .5 1.4 .5 .4 .5-.1 .5-1.3 .5-.9 .5-2 .5-.6 .5-2.7 .5 .9 .5-.8 .5 1.1 .5-2.4 .5 .4 .5-1.2 .5 .4 .5-.9 .5 .3 .5-.9 .5 1.1 .5-1.3 .5 1.3 .5-.2 .5 .5 .5-.4 .5 2.5 .5-.5 .5 .7 .5-.1 .5-.1 .5-.1 .5 1.7 .5-1.9 .5 .3 .5-.6 .5-.4 .5-.4 .5 .2 .5 .2 .5 .8 .5-1.1 .5 .2 .5-.8 .5 1 .5-.7 .5 .5 .5-1.8 .5 1.5 .5-.7 .5 1.1 .5-1.4 .5 .2 .5-1.6 .5 1.8 .5-.9 .5 .7 .5-.8 .5 .4 .5-.3 .5 .8 .5-.1 .5 1.2 .5 0 .5 1.6 .5-.9 .5 2.3 .5-.9 .5 .9 .5 .5 .5 1.5 .5-.9 .5 1.8 .5-.6 .5 2.3 .5-.9 .5 1 .5-.2 .5 1.4 .5-2.3 .5 1.3 .5-1.3 .5 .8 .5-2 .5-.1 .5-.6 .5 .2 .5-1.2 .5-.5 .5-1.1 .5 .1 .5-1.2 .5 .1 .5-1.1 .5 2.1 .5 .1 .5 .8 .5-.1 .5 1.4 .5 .7 .5 1.4 .5-.9 .5 1.2 .5 1.1 .5 1 .5-.5 .5 2.3 .5-1.5 .5 2.1 .5-.1 .5 .5 .5-.4 .5 .9 .5-.5 .5-.2 .5-.6 .5-.2 .5-1.6 .5 .5 .5-1.8 .5 1.4 .5-.8 .5 .2 .5-.3 .5 1.4 .5-.7 .5 1.7 .5-.8 .5 1.6 .5-2.3 .5 .4 .5-1.2 .5 .7 .5-2.2 .5 .4 .5-1.3 .5 .1 .5-1.2 .5-.5 .5-.7 .5 1 .5 0 .5-.1 .5-.8 .5 1.7 .5-.9" fill="none" stroke="#ff0000" stroke-width="1.7" /><path d="M71.8 480.8l.5-3.2 .5 .6 .5-3 .5-.1 .5-2.7 .5-.4 .5-.5 .5 .4 .5-.9 .5-1.2 .5-.7 .5 2.2 .5-.1 .5 3.1 .5-2.4 .5 .9 .5 1.2 .5 1.5 .5-3.2 .5-.2 .5-1 .5-1 .5-.6 .5 1.4 .5-.6 .5 1.6 .5 .1 .5 3.8 .5-2.1 .5 4.7 .5-1.6 .5 2.2 .5-4.2 .5 .3 .5-2.4 .5-1.5 .5-2.4 .5 .3 .5-3.9 .5 3.6 .5-.4 .5 2.7 .5 1 .5 1.3 .5-.5 .5 .9 .5-3.3 .5 .1 .5-3.9 .5-.8 .5-1.8 .5-.3 .5-3.6 .5 .8 .5-3.3 .5 2 .5-2.1 .5 2.6 .5 .7 .5 4.5 .5 .4 .5 4.5 .5 1.1 .5 1.2 .5-1.9 .5-.9 .5-3.1 .5-.9 .5-1.7 .5-1.6 .5-4.1 .5 .7 .5-4.4 .5 2.2 .5 .2 .5 .2 .5 .3 .5 1.7 .5 1.1 .5 2 .5-1.1 .5 1.7 .5-1.3 .5 .2 .5-1.1 .5-1 .5-1.2 .5-1.8 .5-1.6 .5-.4 .5-1.4 .5-.1 .5-.6 .5 3.1 .5 3.9 .5 4.7 .5 1.6 .5 1.9 .5-1.4 .5 .4 .5 .4 .5-.5 .5-2.2 .5 .7 .5-.9 .5 2.1 .5-.8 .5 2.5 .5 1.6 .5 1.8 .5 1.2 .5 2.6 .5 2 .5 2.4 .5 .6 .5 4 .5 .4 .5 1.4 .5-.1 .5 1.4 .5-2 .5-2.2 .5-2.7 .5 1.1 .5-3.8 .5-.5 .5-3.2 .5 .7 .5-2.3 .5 3.7 .5 1.5 .5 3.7 .5-3 .5-.2 .5-5.5 .5 2.2 .5-3 .5-.3 .5-3.6 .5 1 .5-1.4 .5 .4 .5-2.8 .5 3.2 .5 .3 .5 3 .5-.8 .5 3.6 .5-1.9 .5 2 .5-5.5 .5 0 .5-4.5 .5 3.5 .5 3.1 .5 5.9 .5 1.6 .5 3.2 .5-2.1 .5-4.7 .5-8.4 .5-3 .5-3.5 .5-1.1 .5-3.2 .5 2.4 .5 .3 .5 .5 .5-1.2 .5 5 .5 .5 .5 6.5 .5 .2 .5 2.3 .5 .1 .5 3 .5-.1 .5 2.4 .5-2.1 .5 1.1 .5-3.9 .5-.6 .5-5.2 .5-.6 .5-3 .5 3.2 .5 2.1 .5 6.2 .5 1.8 .5-2.9 .5-13.6 .5 1.3 .5 2.6 .5 8 .5 5.6 .5 4.8 .5-1.9 .5-3.1 .5-6.6 .5-1.9 .5-4 .5 3.1 .5-.4 .5 2.8 .5 1.9 .5 5.7 .5 4.9 .5 8 .5 5.9 .5 4.1 .5 .4 .5-3.3 .5-3.8 .5-3.9 .5-4.7 .5-.9 .5-1.2 .5 5.5 .5 3.3 .5 7.4 .5-2.2 .5 1.3 .5-2.4 .5-.7 .5-3.7 .5-1.1 .5-2.4 .5-.8 .5-1.3 .5-.4 .5-1.8 .5 .5 .5-.9 .5 0 .5-.5 .5 1.4 .5-1.1 .5 2.5 .5 .7 .5 2.3 .5-.6 .5 1.2 .5-.8 .5 1 .5-.6 .5 .8 .5-2.4 .5 .8 .5-2.4 .5-1.2 .5 .2 .5 3.7 .5 .9 .5 3.2 .5 1 .5 .3 .5-2.2 .5-2.2 .5-4.4 .5-.7 .5-1.9 .5 .8 .5 .8 .5 3.3 .5 4.3 .5 4.6 .5 2.5 .5 3.5 .5-.9 .5 .1 .5-3.4 .5-2.8 .5-4.6 .5-2.5 .5-3.3 .5-.2 .5 .7 .5 4 .5 4.2 .5 6.3 .5 2.2 .5 2.4 .5-2.4 .5-2.7 .5-5.5 .5-2.8 .5-3.8 .5-3.8 .5-4.9 .5-3.2 .5-3.6 .5 .4 .5 2.3 .5 4.4 .5 3.8 .5 6.1 .5 3.7 .5 3.9 .5 .6 .5 1 .5-1.2 .5-1.2 .5-2.4 .5-.1 .5-1.1 .5 .1 .5-.4 .5-.3 .5-1.2 .5-.6 .5-2.6 .5-.8 .5-3.5 .5-1.1 .5-1.5 .5 2.9 .5 1.9 .5 7.6 .5 4.1 .5 5.2 .5 1.2 .5 .9 .5-2.4 .5 1.3 .5-.3 .5 3.8 .5 2.1 .5 3.9 .5 .1 .5-.4 .5-2.7 .5-3.4 .5-5.5 .5-3.3 .5-4.9 .5-2.8 .5-3 .5-2.1 .5-3.7 .5-1.1 .5-1.9 .5 .3 .5-1.8 .5 1.7 .5 .8 .5 1.4 .5 1.1 .5 2.1 .5 1.6 .5 2.2 .5 .3 .5 2.3 .5 .2 .5 4 .5 0 .5 3.9 .5 2.4 .5 2.6 .5 .7 .5 1.4 .5 0 .5 .6 .5-1.9 .5-.9 .5-3.4 .5-4.4 .5-6.9 .5-6.5 .5-4.7 .5-1.3 .5-1.2 .5 1 .5 1.8 .5 2.3 .5 2.4 .5 3.1 .5 1.5 .5 4.6 .5 4.4 .5 4.9 .5 1.8 .5 1.2 .5-1.4 .5 2.1 .5-2 .5-1 .5-1 .5-.8 .5-1.7 .5 .5 .5-1.7 .5-.9 .5-1.2 .5 .5 .5-2.4 .5-.1 .5-1.8 .5-.3 .5-1.9 .5-.3 .5-1.2 .5 1.4 .5 .1 .5 2.8 .5 2.1 .5 3.4 .5 1 .5 2.7 .5 1.2 .5 2 .5 .2 .5 3.1 .5-.1 .5 .2 .5 0 .5 1.4 .5-.4 .5 .2 .5-.6 .5 1.3 .5-2.9 .5 0 .5-3.2 .5-.2 .5-3.5 .5-1.8 .5-4.5 .5-.6 .5-4 .5-2.7 .5-3.3 .5-1.4 .5-2 .5-.7 .5-.1 .5 2.6 .5 1.4 .5 4 .5 3.5 .5 4.1 .5 2.5 .5 2.9 .5-.8 .5 1.1 .5-.9 .5 .7 .5-1 .5-.3 .5-1.5 .5 .2 .5 0 .5 2.4 .5-.6 .5 1.7 .5 .6 .5 2.2 .5-.4 .5 .7 .5-.9 .5-.9 .5-2 .5 .5 .5-2 .5 1.5 .5-2.9 .5-1 .5-2.3 .5 .2 .5-2.1 .5 .7 .5-.5 .5 5.3 .5 3.2 .5 2.6 .5-.8 .5-2.3 .5-4.4 .5-3.1 .5-2.7 .5 1.2 .5 .6 .5 2.9 .5 3.2 .5 2.4 .5-.1 .5-.2 .5-3.7 .5-3.1 .5-4.6 .5-.5 .5-1.9 .5-.3 .5-.9 .5-.2 .5-1.1 .5 1.5 .5-1.6 .5 .1 .5-.5 .5 1.6 .5-1.8 .5 2 .5 .4 .5 1.2 .5 .8 .5 2.9 .5 1.7 .5 1.3 .5-.7 .5 .7 .5-1.1 .5-.3 .5-.8 .5 .4 .5-1.7 .5 1.2 .5 .6 .5 2.3 .5 .2 .5 .4 .5-3.4 .5-2.2 .5-3.9 .5-1.8 .5-2.7 .5-.6 .5-.8 .5 1.9 .5-.1 .5 2.3 .5 1 .5 2.2 .5 2.2 .5 2.4 .5 1.6 .5 2.2 .5 1.2 .5 0 .5-2.9 .5-2.4 .5-5.3 .5-2.2 .5-3 .5 .5 .5-.2 .5 2.9 .5 0 .5 1.3 .5-2.5 .5-.6 .5-3.2 .5-.9 .5-1.5 .5 2.8 .5 2.3 .5 4.9 .5 1.7 .5 .8 .5-1.7 .5-.4 .5-2.8 .5-1.1 .5-2.3 .5-.6 .5-1.6 .5 .7 .5-.4 .5 2.6 .5 .4 .5 1.7 .5 .3 .5 1.3 .5-.3 .5 .5 .5-.6 .5 .4 .5-1.8 .5-.5 .5-3.7 .5-2.1 .5-1.4 .5 .5 .5-.4 .5 1.1 .5-.4 .5 2.4 .5-1.8 .5 2.5 .5-.5 .5 2 .5-1.3 .5 1.7 .5 2.5 .5 4.2 .5 2.7 .5 3.6 .5 .3 .5 .4 .5-1.7 .5 .4 .5-1.6 .5-.4 .5-.1 .5 2.9 .5 1.7 .5 3 .5 .5 .5 2 .5-2.4 .5-1.3 .5-2.8 .5 .9 .5 0 .5 3.6 .5 3 .5 1 .5-2.1 .5-.1 .5-2.3 .5-.3 .5-3.1 .5-3.3 .5-5.3 .5-3.5 .5-4.2 .5-1.8 .5-1.9 .5 2.7 .5 0 .5 1.9 .5 .7 .5 1.4 .5 0 .5 .1 .5-.7 .5 .6 .5-2 .5 .6 .5-1.6 .5 1.2 .5-.6 .5 2.9 .5-.3 .5 2.7 .5 1.1 .5 3.2 .5 .8 .5 1.8 .5-.5 .5-1.2 .5-2.1 .5-.7 .5-.9 .5 1.6 .5 1.8 .5 3.6 .5 2.5 .5 2.3 .5-1 .5-1 .5-3.6 .5-1.6 .5-3.1 .5-.9 .5-.3 .5 4.4 .5 .3 .5 1.9 .5-2.8 .5-.2 .5-1.6 .5 0 .5-1.8 .5 1.6 .5 .2 .5 2.4 .5 .8 .5 1.3 .5-.9 .5 .1 .5-.2 .5 .1 .5-1.1 .5 .1 .5-.4 .5 1.5 .5 .4 .5 1.8 .5 .6 .5-.1 .5-2.6 .5-1.4 .5-1.9 .5 .1 .5 1.1 .5 2.4 .5 2 .5 1.7 .5-.2 .5-.4 .5-2.2 .5 .5 .5-2.9 .5 .5 .5-2.5 .5 .5 .5-1.7 .5 .1 .5-1.7 .5 0 .5-1 .5 .8 .5-.1 .5 .2 .5-1.2 .5 1.2 .5-.5 .5 .4 .5 .3 .5 1.6 .5-1.5 .5 1 .5-.1 .5 .7 .5 .5 .5 2.2 .5 .8 .5 2.2 .5 0 .5 2.2 .5-.8 .5 1.2 .5-.7 .5 1 .5-2.5 .5-.3 .5-2.3 .5-.3 .5-1.7 .5 2 .5 .2 .5 2.4 .5 0 .5 2 .5-1 .5 .2 .5-.9 .5 .5 .5-1.9 .5 .9 .5-1.2 .5 .9 .5-.9 .5 .8 .5-.2 .5 1.5 .5-.5 .5 1 .5-.1 .5 1.4 .5-.8 .5 1 .5-1 .5 .7 .5-1.8 .5-.2 .5-2.1 .5-.2 .5-2.1 .5-.1 .5-1.2 .5-.2 .5-.7 .5 .1 .5-.6 .5 .2 .5-1.8 .5 1 .5-.7 .5 0 .5-.7 .5 1.3 .5-.5 .5 1.1 .5-.1 .5 1.5 .5 .2 .5 1.3 .5-.7 .5 0 .5 0 .5 .3 .5-.6 .5 .6 .5-1.9 .5 1.8 .5-1 .5 .2 .5-.3 .5-.4 .5-.7 .5 .9 .5-.2 .5 .9 .5-.3 .5 1 .5-1.1 .5 .8 .5-1 .5 .1 .5-.5 .5 .5 .5-.4 .5 .2 .5-.3 .5 .5 .5-1.2 .5 1.4 .5-.7 .5 2 .5-.7 .5 .6 .5 .1 .5 1 .5 .2 .5 1.2 .5 .1 .5 .6 .5 .6 .5 1.4 .5 .2 .5 1 .5 .1 .5 1.7 .5-1.3 .5 2 .5-.7 .5 .4 .5-1.1 .5 1 .5-.8 .5 .1 .5-1.1 .5-.8 .5-1.1 .5 1.1 .5-3 .5 .3 .5-1.5 .5 0 .5-.3 .5-.6 .5 0 .5 .8 .5-.8 .5 .6 .5-.1 .5 1.8 .5-.3 .5 1 .5 .4 .5 1.2 .5 .5 .5 .9 .5 .4 .5 .8 .5-.7 .5 1.7 .5-.4 .5 .7 .5-.6 .5 1.7 .5-1 .5 0 .5-1.1 .5-.2 .5-.9 .5-.4 .5-1.2 .5 .3 .5-.4 .5 .9 .5-1.1 .5 1.1 .5-.3 .5 1.4 .5-.9 .5 .5 .5-.8 .5 .8 .5-1 .5-.3 .5-.9 .5-.9 .5-1.3 .5-.6 .5-.5 .5 0 .5-.1 .5 1 .5-1 .5 1.7 .5-1.1 .5 .6 .5-.4" fill="none" stroke="#101010" stroke-width="0.9" /></g><line x1="87.22" y1="449.82" x2="87.22" y2="453.82" stroke="#222" stroke-width="1.0" /><line x1="87.22" y1="518.15" x2="87.22" y2="514.15" stroke="#222" stroke-width="1.0" /><line x1="113.91" y1="449.82" x2="113.91" y2="453.82" stroke="#222" stroke-width="1.0" /><line x1="113.91" y1="518.15" x2="113.91" y2="514.15" stroke="#222" stroke-width="1.0" /><line x1="140.60" y1="449.82" x2="140.60" y2="460.82" stroke="#222" stroke-width="1.3" /><line x1="140.60" y1="518.15" x2="140.60" y2="507.15" stroke="#222" stroke-width="1.3" /><line x1="167.29" y1="449.82" x2="167.29" y2="453.82" stroke="#222" stroke-width="1.0" /><line x1="167.29" y1="518.15" x2="167.29" y2="514.15" stroke="#222" stroke-width="1.0" /><line x1="193.98" y1="449.82" x2="193.98" y2="453.82" stroke="#222" stroke-width="1.0" /><line x1="193.98" y1="518.15" x2="193.98" y2="514.15" stroke="#222" stroke-width="1.0" /><line x1="220.67" y1="449.82" x2="220.67" y2="460.82" stroke="#222" stroke-width="1.3" /><line x1="220.67" y1="518.15" x2="220.67" y2="507.15" stroke="#222" stroke-width="1.3" /><line x1="247.36" y1="449.82" x2="247.36" y2="453.82" stroke="#222" stroke-width="1.0" /><line x1="247.36" y1="518.15" x2="247.36" y2="514.15" stroke="#222" stroke-width="1.0" /><line x1="274.05" y1="449.82" x2="274.05" y2="453.82" stroke="#222" stroke-width="1.0" /><line x1="274.05" y1="518.15" x2="274.05" y2="514.15" stroke="#222" stroke-width="1.0" /><line x1="300.74" y1="449.82" x2="300.74" y2="460.82" stroke="#222" stroke-width="1.3" /><line x1="300.74" y1="518.15" x2="300.74" y2="507.15" stroke="#222" stroke-width="1.3" /><line x1="327.43" y1="449.82" x2="327.43" y2="453.82" stroke="#222" stroke-width="1.0" /><line x1="327.43" y1="518.15" x2="327.43" y2="514.15" stroke="#222" stroke-width="1.0" /><line x1="354.12" y1="449.82" x2="354.12" y2="453.82" stroke="#222" stroke-width="1.0" /><line x1="354.12" y1="518.15" x2="354.12" y2="514.15" stroke="#222" stroke-width="1.0" /><line x1="380.81" y1="449.82" x2="380.81" y2="460.82" stroke="#222" stroke-width="1.3" /><line x1="380.81" y1="518.15" x2="380.81" y2="507.15" stroke="#222" stroke-width="1.3" /><line x1="407.50" y1="449.82" x2="407.50" y2="453.82" stroke="#222" stroke-width="1.0" /><line x1="407.50" y1="518.15" x2="407.50" y2="514.15" stroke="#222" stroke-width="1.0" /><line x1="434.19" y1="449.82" x2="434.19" y2="453.82" stroke="#222" stroke-width="1.0" /><line x1="434.19" y1="518.15" x2="434.19" y2="514.15" stroke="#222" stroke-width="1.0" /><line x1="460.88" y1="449.82" x2="460.88" y2="460.82" stroke="#222" stroke-width="1.3" /><line x1="460.88" y1="518.15" x2="460.88" y2="507.15" stroke="#222" stroke-width="1.3" /><line x1="487.57" y1="449.82" x2="487.57" y2="453.82" stroke="#222" stroke-width="1.0" /><line x1="487.57" y1="518.15" x2="487.57" y2="514.15" stroke="#222" stroke-width="1.0" /><line x1="514.26" y1="449.82" x2="514.26" y2="453.82" stroke="#222" stroke-width="1.0" /><line x1="514.26" y1="518.15" x2="514.26" y2="514.15" stroke="#222" stroke-width="1.0" /><line x1="71.40" y1="517.20" x2="74.60" y2="517.20" stroke="#222" stroke-width="1" /><line x1="525.40" y1="517.20" x2="522.20" y2="517.20" stroke="#222" stroke-width="1" /><line x1="71.40" y1="513.65" x2="74.60" y2="513.65" stroke="#222" stroke-width="1" /><line x1="525.40" y1="513.65" x2="522.20" y2="513.65" stroke="#222" stroke-width="1" /><line x1="71.40" y1="510.10" x2="77.90" y2="510.10" stroke="#222" stroke-width="1" /><line x1="525.40" y1="510.10" x2="518.90" y2="510.10" stroke="#222" stroke-width="1" /><line x1="71.40" y1="506.55" x2="74.60" y2="506.55" stroke="#222" stroke-width="1" /><line x1="525.40" y1="506.55" x2="522.20" y2="506.55" stroke="#222" stroke-width="1" /><line x1="71.40" y1="503.00" x2="74.60" y2="503.00" stroke="#222" stroke-width="1" /><line x1="525.40" y1="503.00" x2="522.20" y2="503.00" stroke="#222" stroke-width="1" /><line x1="71.40" y1="499.45" x2="74.60" y2="499.45" stroke="#222" stroke-width="1" /><line x1="525.40" y1="499.45" x2="522.20" y2="499.45" stroke="#222" stroke-width="1" /><line x1="71.40" y1="495.90" x2="77.90" y2="495.90" stroke="#222" stroke-width="1" /><line x1="525.40" y1="495.90" x2="518.90" y2="495.90" stroke="#222" stroke-width="1" /><line x1="71.40" y1="492.35" x2="74.60" y2="492.35" stroke="#222" stroke-width="1" /><line x1="525.40" y1="492.35" x2="522.20" y2="492.35" stroke="#222" stroke-width="1" /><line x1="71.40" y1="488.80" x2="74.60" y2="488.80" stroke="#222" stroke-width="1" /><line x1="525.40" y1="488.80" x2="522.20" y2="488.80" stroke="#222" stroke-width="1" /><line x1="71.40" y1="485.25" x2="74.60" y2="485.25" stroke="#222" stroke-width="1" /><line x1="525.40" y1="485.25" x2="522.20" y2="485.25" stroke="#222" stroke-width="1" /><line x1="71.40" y1="481.70" x2="77.90" y2="481.70" stroke="#222" stroke-width="1" /><line x1="525.40" y1="481.70" x2="518.90" y2="481.70" stroke="#222" stroke-width="1" /><line x1="71.40" y1="478.15" x2="74.60" y2="478.15" stroke="#222" stroke-width="1" /><line x1="525.40" y1="478.15" x2="522.20" y2="478.15" stroke="#222" stroke-width="1" /><line x1="71.40" y1="474.60" x2="74.60" y2="474.60" stroke="#222" stroke-width="1" /><line x1="525.40" y1="474.60" x2="522.20" y2="474.60" stroke="#222" stroke-width="1" /><line x1="71.40" y1="471.05" x2="74.60" y2="471.05" stroke="#222" stroke-width="1" /><line x1="525.40" y1="471.05" x2="522.20" y2="471.05" stroke="#222" stroke-width="1" /><line x1="71.40" y1="467.50" x2="77.90" y2="467.50" stroke="#222" stroke-width="1" /><line x1="525.40" y1="467.50" x2="518.90" y2="467.50" stroke="#222" stroke-width="1" /><line x1="71.40" y1="463.95" x2="74.60" y2="463.95" stroke="#222" stroke-width="1" /><line x1="525.40" y1="463.95" x2="522.20" y2="463.95" stroke="#222" stroke-width="1" /><line x1="71.40" y1="460.40" x2="74.60" y2="460.40" stroke="#222" stroke-width="1" /><line x1="525.40" y1="460.40" x2="522.20" y2="460.40" stroke="#222" stroke-width="1" /><line x1="71.40" y1="456.85" x2="74.60" y2="456.85" stroke="#222" stroke-width="1" /><line x1="525.40" y1="456.85" x2="522.20" y2="456.85" stroke="#222" stroke-width="1" /><line x1="71.40" y1="453.30" x2="77.90" y2="453.30" stroke="#222" stroke-width="1" /><line x1="525.40" y1="453.30" x2="518.90" y2="453.30" stroke="#222" stroke-width="1" /><text x="68.60" y="457.00" font-size="10.7" text-anchor="end" fill="#000" >14</text><text x="68.60" y="471.20" font-size="10.7" text-anchor="end" fill="#000" >12</text><text x="68.60" y="485.40" font-size="10.7" text-anchor="end" fill="#000" >10</text><text x="68.60" y="499.60" font-size="10.7" text-anchor="end" fill="#000" >8</text><text x="68.60" y="513.80" font-size="10.7" text-anchor="end" fill="#000" >6</text><rect x="71.40" y="449.82" width="454.00" height="68.33" fill="none" stroke="#000" stroke-width="1.7"/><line x1="77.50" y1="457.20" x2="95.00" y2="457.20" stroke="#ff4040" stroke-width="1.0"/><text x="96.00" y="460.60" font-size="9.5" text-anchor="start" fill="#ff5030" >Ne</text><text transform="translate(42.50,484.00) rotate(-90)" font-size="11" text-anchor="middle" fill="#000">N [cm<tspan font-size="8" dy="-4">-3</tspan><tspan dy="4" font-size="1">&#8203;</tspan>]</text><line x1="136.30" y1="522.15" x2="136.30" y2="586.48" stroke="#00aa00" stroke-width="1.3" stroke-dasharray="10 4.4"/><line x1="303.00" y1="522.15" x2="303.00" y2="586.48" stroke="#00aa00" stroke-width="1.3" stroke-dasharray="10 4.4"/><line x1="178.10" y1="522.15" x2="178.10" y2="586.48" stroke="#ff4848" stroke-width="1.7" stroke-dasharray="11 4"/><line x1="261.40" y1="522.15" x2="261.40" y2="586.48" stroke="#ff0000" stroke-width="1.3" stroke-dasharray="11 4"/><line x1="174.50" y1="522.15" x2="174.50" y2="586.48" stroke="#0000ff" stroke-width="1.3" stroke-dasharray="2 3.4"/><line x1="229.30" y1="522.15" x2="229.30" y2="586.48" stroke="#ff00ff" stroke-width="1.5" stroke-dasharray="2 3.4"/><line x1="347.00" y1="522.15" x2="347.00" y2="586.48" stroke="#ff00ff" stroke-width="1.5" stroke-dasharray="2 3.4"/><g clip-path="url(#cl6)"><path d="M71.8 585.7l26.6 0 27 0 26.9 0 26.6 0 26.5 0 27 0 26.9 0 26.6 0 26.6 0 26.8 0 26.7 0 26.8 0 26.7 0 26.8 0 26.7 0" fill="none" stroke="#0000ff" stroke-width="0.7" /><path d="M71.8 518.5l26.6 2 27 23.1 26.9-10.8 26.6 13.4 26.5 11.9 27 6.9 26.9 6.5 26.6-24.8 26.6 4.8 26.8-.4 26.7-7.3 26.8 7.3 26.7 2 26.8 3.2 26.7-13.3" fill="none" stroke="#ff0000" stroke-width="1.3" /><circle cx="71.8" cy="518.5" r="2.1" fill="#ff0000"/><circle cx="98.4" cy="520.5" r="2.1" fill="#ff0000"/><circle cx="125.4" cy="543.6" r="2.1" fill="#ff0000"/><circle cx="152.3" cy="532.8" r="2.1" fill="#ff0000"/><circle cx="178.9" cy="546.2" r="2.1" fill="#ff0000"/><circle cx="205.4" cy="558.1" r="2.1" fill="#ff0000"/><circle cx="232.4" cy="565.0" r="2.1" fill="#ff0000"/><circle cx="259.3" cy="571.5" r="2.1" fill="#ff0000"/><circle cx="285.9" cy="546.7" r="2.1" fill="#ff0000"/><circle cx="312.5" cy="551.5" r="2.1" fill="#ff0000"/><circle cx="339.3" cy="551.1" r="2.1" fill="#ff0000"/><circle cx="366.0" cy="543.8" r="2.1" fill="#ff0000"/><circle cx="392.8" cy="551.1" r="2.1" fill="#ff0000"/><circle cx="419.5" cy="553.1" r="2.1" fill="#ff0000"/><circle cx="446.3" cy="556.3" r="2.1" fill="#ff0000"/><circle cx="473.0" cy="543.0" r="2.1" fill="#ff0000"/></g><line x1="87.22" y1="518.15" x2="87.22" y2="522.15" stroke="#222" stroke-width="1.0" /><line x1="87.22" y1="586.48" x2="87.22" y2="582.48" stroke="#222" stroke-width="1.0" /><line x1="113.91" y1="518.15" x2="113.91" y2="522.15" stroke="#222" stroke-width="1.0" /><line x1="113.91" y1="586.48" x2="113.91" y2="582.48" stroke="#222" stroke-width="1.0" /><line x1="140.60" y1="518.15" x2="140.60" y2="529.15" stroke="#222" stroke-width="1.3" /><line x1="140.60" y1="586.48" x2="140.60" y2="575.48" stroke="#222" stroke-width="1.3" /><line x1="167.29" y1="518.15" x2="167.29" y2="522.15" stroke="#222" stroke-width="1.0" /><line x1="167.29" y1="586.48" x2="167.29" y2="582.48" stroke="#222" stroke-width="1.0" /><line x1="193.98" y1="518.15" x2="193.98" y2="522.15" stroke="#222" stroke-width="1.0" /><line x1="193.98" y1="586.48" x2="193.98" y2="582.48" stroke="#222" stroke-width="1.0" /><line x1="220.67" y1="518.15" x2="220.67" y2="529.15" stroke="#222" stroke-width="1.3" /><line x1="220.67" y1="586.48" x2="220.67" y2="575.48" stroke="#222" stroke-width="1.3" /><line x1="247.36" y1="518.15" x2="247.36" y2="522.15" stroke="#222" stroke-width="1.0" /><line x1="247.36" y1="586.48" x2="247.36" y2="582.48" stroke="#222" stroke-width="1.0" /><line x1="274.05" y1="518.15" x2="274.05" y2="522.15" stroke="#222" stroke-width="1.0" /><line x1="274.05" y1="586.48" x2="274.05" y2="582.48" stroke="#222" stroke-width="1.0" /><line x1="300.74" y1="518.15" x2="300.74" y2="529.15" stroke="#222" stroke-width="1.3" /><line x1="300.74" y1="586.48" x2="300.74" y2="575.48" stroke="#222" stroke-width="1.3" /><line x1="327.43" y1="518.15" x2="327.43" y2="522.15" stroke="#222" stroke-width="1.0" /><line x1="327.43" y1="586.48" x2="327.43" y2="582.48" stroke="#222" stroke-width="1.0" /><line x1="354.12" y1="518.15" x2="354.12" y2="522.15" stroke="#222" stroke-width="1.0" /><line x1="354.12" y1="586.48" x2="354.12" y2="582.48" stroke="#222" stroke-width="1.0" /><line x1="380.81" y1="518.15" x2="380.81" y2="529.15" stroke="#222" stroke-width="1.3" /><line x1="380.81" y1="586.48" x2="380.81" y2="575.48" stroke="#222" stroke-width="1.3" /><line x1="407.50" y1="518.15" x2="407.50" y2="522.15" stroke="#222" stroke-width="1.0" /><line x1="407.50" y1="586.48" x2="407.50" y2="582.48" stroke="#222" stroke-width="1.0" /><line x1="434.19" y1="518.15" x2="434.19" y2="522.15" stroke="#222" stroke-width="1.0" /><line x1="434.19" y1="586.48" x2="434.19" y2="582.48" stroke="#222" stroke-width="1.0" /><line x1="460.88" y1="518.15" x2="460.88" y2="529.15" stroke="#222" stroke-width="1.3" /><line x1="460.88" y1="586.48" x2="460.88" y2="575.48" stroke="#222" stroke-width="1.3" /><line x1="487.57" y1="518.15" x2="487.57" y2="522.15" stroke="#222" stroke-width="1.0" /><line x1="487.57" y1="586.48" x2="487.57" y2="582.48" stroke="#222" stroke-width="1.0" /><line x1="514.26" y1="518.15" x2="514.26" y2="522.15" stroke="#222" stroke-width="1.0" /><line x1="514.26" y1="586.48" x2="514.26" y2="582.48" stroke="#222" stroke-width="1.0" /><line x1="71.40" y1="580.82" x2="74.60" y2="580.82" stroke="#222" stroke-width="1" /><line x1="525.40" y1="580.82" x2="522.20" y2="580.82" stroke="#222" stroke-width="1" /><line x1="71.40" y1="575.75" x2="74.60" y2="575.75" stroke="#222" stroke-width="1" /><line x1="525.40" y1="575.75" x2="522.20" y2="575.75" stroke="#222" stroke-width="1" /><line x1="71.40" y1="570.67" x2="74.60" y2="570.67" stroke="#222" stroke-width="1" /><line x1="525.40" y1="570.67" x2="522.20" y2="570.67" stroke="#222" stroke-width="1" /><line x1="71.40" y1="565.60" x2="77.90" y2="565.60" stroke="#222" stroke-width="1" /><line x1="525.40" y1="565.60" x2="518.90" y2="565.60" stroke="#222" stroke-width="1" /><line x1="71.40" y1="560.52" x2="74.60" y2="560.52" stroke="#222" stroke-width="1" /><line x1="525.40" y1="560.52" x2="522.20" y2="560.52" stroke="#222" stroke-width="1" /><line x1="71.40" y1="555.45" x2="74.60" y2="555.45" stroke="#222" stroke-width="1" /><line x1="525.40" y1="555.45" x2="522.20" y2="555.45" stroke="#222" stroke-width="1" /><line x1="71.40" y1="550.38" x2="74.60" y2="550.38" stroke="#222" stroke-width="1" /><line x1="525.40" y1="550.38" x2="522.20" y2="550.38" stroke="#222" stroke-width="1" /><line x1="71.40" y1="545.30" x2="77.90" y2="545.30" stroke="#222" stroke-width="1" /><line x1="525.40" y1="545.30" x2="518.90" y2="545.30" stroke="#222" stroke-width="1" /><line x1="71.40" y1="540.23" x2="74.60" y2="540.23" stroke="#222" stroke-width="1" /><line x1="525.40" y1="540.23" x2="522.20" y2="540.23" stroke="#222" stroke-width="1" /><line x1="71.40" y1="535.15" x2="74.60" y2="535.15" stroke="#222" stroke-width="1" /><line x1="525.40" y1="535.15" x2="522.20" y2="535.15" stroke="#222" stroke-width="1" /><line x1="71.40" y1="530.07" x2="74.60" y2="530.07" stroke="#222" stroke-width="1" /><line x1="525.40" y1="530.07" x2="522.20" y2="530.07" stroke="#222" stroke-width="1" /><line x1="71.40" y1="525.00" x2="77.90" y2="525.00" stroke="#222" stroke-width="1" /><line x1="525.40" y1="525.00" x2="518.90" y2="525.00" stroke="#222" stroke-width="1" /><line x1="71.40" y1="519.92" x2="74.60" y2="519.92" stroke="#222" stroke-width="1" /><line x1="525.40" y1="519.92" x2="522.20" y2="519.92" stroke="#222" stroke-width="1" /><text x="527.90" y="528.70" font-size="10.7" text-anchor="start" fill="#000" >0.6</text><text x="527.90" y="549.00" font-size="10.7" text-anchor="start" fill="#000" >0.4</text><text x="527.90" y="569.30" font-size="10.7" text-anchor="start" fill="#000" >0.2</text><text x="527.90" y="589.60" font-size="10.7" text-anchor="start" fill="#000" >0.0</text><rect x="71.40" y="518.15" width="454.00" height="68.33" fill="none" stroke="#000" stroke-width="1.7"/><circle cx="125.4" cy="585.6" r="1.9" fill="#0000ff"/><circle cx="152.3" cy="585.6" r="1.9" fill="#0000ff"/><circle cx="178.9" cy="585.6" r="1.9" fill="#0000ff"/><circle cx="205.4" cy="585.6" r="1.9" fill="#0000ff"/><circle cx="232.4" cy="585.6" r="1.9" fill="#0000ff"/><circle cx="259.3" cy="585.6" r="1.9" fill="#0000ff"/><circle cx="285.9" cy="585.6" r="1.9" fill="#0000ff"/><circle cx="312.5" cy="585.6" r="1.9" fill="#0000ff"/><circle cx="339.3" cy="585.6" r="1.9" fill="#0000ff"/><circle cx="366.0" cy="585.6" r="1.9" fill="#0000ff"/><circle cx="392.8" cy="585.6" r="1.9" fill="#0000ff"/><circle cx="446.3" cy="585.6" r="1.9" fill="#0000ff"/><circle cx="473.0" cy="585.6" r="1.9" fill="#0000ff"/><path d="M71.4 585.9a1.9 1.9 0 0 1 1.9 -1.6" stroke="#0000ff" stroke-width="1.6" fill="none"/><line x1="77.70" y1="523.70" x2="95.20" y2="523.70" stroke="#00ff00" stroke-width="1.2"/><circle cx="86.1" cy="523.7" r="2.2" fill="#00ff00"/><text x="96.10" y="526.90" font-size="8.6" text-anchor="start" fill="#00ff00" >N&#160;&#160;He+</text><line x1="77.70" y1="532.80" x2="95.20" y2="532.80" stroke="#ff0000" stroke-width="1.2"/><circle cx="86.1" cy="532.8" r="2.2" fill="#ff0000"/><text x="96.10" y="536.00" font-size="8.6" text-anchor="start" fill="#ff0000" >N&#160;&#160;He++</text><line x1="77.70" y1="541.90" x2="95.20" y2="541.90" stroke="#0000ff" stroke-width="1.2"/><circle cx="86.1" cy="541.9" r="2.2" fill="#0000ff"/><text x="96.10" y="545.10" font-size="8.6" text-anchor="start" fill="#0000ff" >N&#160;&#160;O+</text><text transform="translate(560.00,552.00) rotate(-90)" font-size="11" text-anchor="middle" fill="#000">N<tspan font-size="8" dy="2.5">i</tspan><tspan dy="-2.5" font-size="1">&#8203;</tspan> [cm<tspan font-size="8" dy="-4">-3</tspan><tspan dy="4" font-size="1">&#8203;</tspan>]</text><line x1="136.30" y1="590.48" x2="136.30" y2="654.81" stroke="#00aa00" stroke-width="1.3" stroke-dasharray="10 4.4"/><line x1="303.00" y1="590.48" x2="303.00" y2="654.81" stroke="#00aa00" stroke-width="1.3" stroke-dasharray="10 4.4"/><line x1="178.10" y1="590.48" x2="178.10" y2="654.81" stroke="#ff4848" stroke-width="1.7" stroke-dasharray="11 4"/><line x1="261.40" y1="590.48" x2="261.40" y2="654.81" stroke="#ff0000" stroke-width="1.3" stroke-dasharray="11 4"/><line x1="174.50" y1="590.48" x2="174.50" y2="654.81" stroke="#0000ff" stroke-width="1.3" stroke-dasharray="2 3.4"/><line x1="229.30" y1="590.48" x2="229.30" y2="654.81" stroke="#ff00ff" stroke-width="1.5" stroke-dasharray="2 3.4"/><line x1="347.00" y1="590.48" x2="347.00" y2="654.81" stroke="#ff00ff" stroke-width="1.5" stroke-dasharray="2 3.4"/><g clip-path="url(#cl7)"><path d="M71.8 605.6l.7-.4 .7 1.3 .7-1.3 .7 .2 .7-.8 .7 1.8 .7-1.8 .7 .2 .7-1 .7 1.8 .7-4.5 .7 1.8 .7-1.4 .7 .6 .7-1.1 .7 .8 .7 .1 .7 2.9 .7-2.5 .7 .5 .7-.7 .7 1.2 .7-.3 .7 .2 .7-.6 .7 .6 .7-1.9 .7 .9 .7-.9 .7 1 .7-1.3 .7 4 .7 .3 .7 3.8 .7-.2 .7 1.8 .7-1.4 .7 1.2 .7-.6 .7 .4 .7-.9 .7 1.8 .7-1.9 .7 0 .7-.8 .7 0 .7-.7 .7-.1 .7-1.3 .7 1.6 .7-.7 .7 .9 .7-2.6 .7 1.9 .7-1.3 .7 1.5 .7-1.2 .7 2.4 .7-2.4 .7 .7 .7-.2 .7 1.5 .7-.4 .7 .7 .7-1.2 .7 .5 .7-.9 .7 1 .7-2.5 .7 1.9 .7-2.3 .7 .1 .7-1.4 .7 .8 .7-1.4 .7 1.7 .7-.7 .7 2.4 .7-.8 .7 .9 .7 .4 .7 1.3 .7-.7 .7 1.4 .7-.2 .7 .3 .7-.3 .7 .7 .7-.7 .7 0 .7-.6 .7 .2 .7-1.9 .7 .8 .7 0 .7-.1 .7-.2 .7 .4 .7-.1 .7 .5 .7-.3 .7 .7 .7-1.2 .7 2.6 .7-.2 .7 .3 .7 1.2 .7 1 .7-.6 .7 1.7 .7-.2 .7 1.5 .7-.8 .7 .3 .7-.5 .7 .3 .7-1.7 .7 .9 .7-2.8 .7 1.2 .7-2.5 .7 .7 .7-1.6 .7 1.8 .7-1.9 .7 2.4 .7-2.5 .7 .8 .7-.6 .7 .2 .7-1.5 .7 .3 .7-1.6 .7-.4 .7-1.6 .7 .6 .7-2.4 .7 .2 .7-1.1 .7 .2 .7-1.8 .7 1.5 .7-1.3 .7 1.9 .7 .4 .7 3.1 .7 .3 .7 1.1 .7-.8 .7-.5 .7-1.3 .7 .5 .7-1.1 .7 .8 .7-1.9 .7-.9 .7-1.3 .7 .5 .7-3.8 .7 .9 .7-1.7 .7-.5 .7-1.3 .7 2.6 .7-2.4 .7-1.4 .7-1.3 .7 1.6 .7-.6 .7 .2 .7-1.2 .7 1.4 .7-.1 .7 1.6 .7-.1 .7 1.2 .7-.5 .7 2.5 .7-1.6 .7 1.7 .7 .5 .7 1.4 .7-.3 .7 .3 .7 0 .7 .4 .7-3.1 .7 1.7 .7-.6 .7-.6 .7-1.1 .7 1.9 .7-.7 .7 3.6 .7 .4 .7 5.3 .7-2.9 .7 2 .7-3.3 .7-1 .7-3.1 .7-.9 .7-3.1 .7-2.2 .7-1.2 .7 .8 .7-.6 .7 1.5 .7-.2 .7 1.8 .7 .3 .7 1.4 .7-.3 .7 1.8 .7 .9 .7 1.1 .7 .2 .7 .6 .7-.2 .7-.4 .7 0 .7 .4 .7-1.1 .7 .6 .7-.5 .7 2.4 .7-.4 .7 1.5 .7-.4 .7 .2 .7-1.9 .7-1.3 .7-1.9 .7 1.7 .7-2.1 .7 1.2 .7-.5 .7 .6 .7-.7 .7 .9 .7-1.1 .7 .6 .7-.3 .7-.3 .7-1.5 .7 1.8 .7-.9 .7-.1 .7 .8 .7-.5 .7 .5 .7 .8 .7-.2 .7 2.2 .7-1.6 .7 .6 .7-.3 .7 .7 .7-1.4 .7 .8 .7-2 .7 1.4 .7-2.6 .7 .1 .7-.5 .7 1 .7-.5 .7 .8 .7-1.5 .7 1.2 .7-1.5 .7 2.3 .7-2.6 .7 1.7 .7-2.4 .7 .5 .7-.3 .7-.1 .7-2 .7 2.3 .7-.6 .7 .9 .7-.6 .7 2.1 .7-1.3 .7 2.4 .7-.6 .7 .6 .7 .1 .7 0 .7-.7 .7 .8 .7-2.3 .7 1.1 .7-.5 .7 3 .7-.8 .7 2.6 .7-1.2 .7 .9 .7-.6 .7-.4 .7-3.8 .7-.1 .7-1.2 .7-.2 .7-.1 .7 1.5 .7 .3 .7 2.9 .7-.6 .7 2 .7-1 .7 1.6 .7-1.7 .7 1.9 .7-1 .7 .7 .7-.6 .7 1.1 .7-1.1 .7 .4 .7-1.7 .7 .5 .7-1.2 .7 1.4 .7-1.6 .7-.1 .7-.9 .7-.1 .7-1.7 .7 .6 .7-.9 .7 1.1 .7-1.1 .7 .7 .7-.5 .7 1 .7-.6 .7 1.7 .7-2.1 .7 2.2 .7-1.7 .7 1.1 .7-.2 .7-.1 .7-.4 .7 1.4 .7-1.6 .7 1.5 .7-1 .7-.2 .7-.5 .7 1.2 .7-1.3 .7 2.2 .7-1.7 .7 1 .7 .2 .7 .1 .7-.2 .7 1.2 .7-1 .7 .6 .7-2.2 .7 .7 .7-1.1 .7 2 .7-.8 .7 .9 .7-1 .7 .8 .7-.9 .7 .8 .7-1.4 .7 .4 .7-1 .7 1 .7-.7 .7 2.1 .7-1.9 .7 1.1 .7 .2 .7 1.1 .7 .8 .7 .9 .7-1.8 .7 2.7 .7-3.8 .7 1 .7-2.1 .7 .5 .7-2.5 .7 3.7 .7-2.3 .7 .2 .7-1.7 .7 2 .7-.6 .7 1.4 .7-2.1 .7 2.5 .7-1.3 .7 .3 .7-1.3 .7 1.3 .7-.2 .7 .8 .7-1.9 .7 1.3 .7-.4 .7 .3 .7-1.7 .7 2.1 .7-1.3 .7 1.3 .7-.5 .7 1.1 .7-.1 .7 1.5 .7-.9 .7 .4 .7-.5 .7 1.3 .7-.4 .7 .3 .7-.8 .7 1.3 .7-1 .7 1.5 .7-1.2 .7-.4 .7-1.3 .7 .2 .7-2.3 .7 1.3 .7-1.8 .7 .5 .7-1.9 .7 .6 .7-2.3 .7 3.2 .7-2 .7 .8 .7 0 .7 1 .7 .2 .7 .7 .7-1 .7 1.9 .7-.8 .7 1.2 .7-.1 .7 .3 .7-1.2 .7 1.9 .7-.7 .7 2.4 .7-2.2 .7 2.1 .7-1.4 .7 .7 .7-2.3 .7 2.8 .7-1.2 .7 1 .7-.5 .7 1.2 .7-1.3 .7 1.4 .7-1.5 .7 .7 .7-.9 .7-.1 .7-1.3 .7 1.8 .7-1.9 .7 .5 .7-.5 .7 1.3 .7-.4 .7 1.3 .7 .3 .7 .8 .7-.7 .7 1 .7-.6 .7 1.3 .7-1.3 .7 1.2 .7-.3 .7 1.2 .7-1.1 .7 1.5 .7-1.9 .7 1 .7-.2 .7 1.3 .7-.9 .7 2.3 .7-1.3 .7 1.4 .7-1.5 .7 1 .7-2.2 .7 2.1 .7-1.3 .7 2.1 .7-1.4 .7 1.5 .7-2.7 .7 1.5 .7-.7 .7 .4 .7-.8 .7 1.6 .7-.4 .7 1.9 .7-.5 .7 .8 .7-1.1 .7 2 .7-.9 .7 .9 .7-2.5 .7 1 .7-.8 .7 1.3 .7-2.1 .7 0 .7-.1 .7-.1 .7-.7 .7-.1 .7-.9 .7 1.7 .7-2.2 .7 .6 .7-1.1 .7 .9 .7-2.3 .7 2.8 .7-3.2 .7 .7 .7-.5 .7 1 .7-1.2 .7 1.5 .7-3 .7 2.6 .7-2.1 .7 1.2 .7-.6 .7 0 .7-1.6 .7 .4 .7-.6 .7 1.6 .7-1.4 .7 2.1 .7-.9 .7 1.8 .7-2.2 .7 1.2 .7-1.5 .7 1.8 .7-.3 .7 1.1 .7-2.2 .7 1.4 .7-2 .7 1.3 .7-.4 .7 1.3 .7-2.3 .7 1.1 .7-1.8 .7 1.9 .7-.9 .7 .8 .7-.5 .7 .8 .7-2.1 .7 1.2 .7 0 .7 .7 .7-1.5 .7 1.6 .7-.1 .7 1.3 .7-.1 .7 1 .7-2.3 .7 2 .7-.2 .7-.4 .7-.8 .7 1 .7-1.5 .7 1.3 .7-1.9 .7 1.4 .7-1.7 .7 1.4 .7-2.2 .7 1.3 .7-1.9 .7 1.8 .7-1.1 .7 1.3 .7-1.6 .7 1 .7-.1 .7 1.7 .7 .4 .7 1.3 .7-.9 .7 1.9 .7-.4 .7 1.5 .7-.8 .7 1.7 .7-1.1 .7 1 .7 0 .7 .2 .7-.7 .7 1 .7-.6 .7 1.3 .7-1.6 .7 .4 .7-.3 .7-.4 .7-2.1 .7 1.7 .7-.4 .7 .1 .7-1.8 .7 1.4 .7-1.8 .7 1.5 .7-2.1 .7 2.2 .7-2.7 .7 2.4" fill="none" stroke="#202020" stroke-width="0.9" /><path d="M71.8 648.2l.7-.3 .7-.9 .7-1.8 .7 5.2 .7-2.7 .7 1.2 .7-2.8 .7 1.4 .7-1.6 .7 2.1 .7-2.8 .7 1.6 .7-2.3 .7 2 .7-2.1 .7 1.9 .7-2.1 .7 1.6 .7 0 .7 1.3 .7-1.3 .7 2.6 .7-3.9 .7 2.1 .7-1.9 .7 1 .7-.8 .7 1.7 .7-.8 .7 1.4 .7-1.1 .7 1.4 .7-1.3 .7 6 .7-1.2 .7 2.7 .7-4.1 .7 1.2 .7-.6 .7 1 .7-4.4 .7 3.1 .7-3.2 .7 .4 .7-2.5 .7 .2 .7-2 .7 2.5 .7-1.1 .7 2.8 .7-1.6 .7 1.3 .7 .9 .7-.1 .7-1.5 .7-.1 .7-2.3 .7 .9 .7-2 .7 3.1 .7-.8 .7 3.9 .7-.6 .7 .4 .7-1.9 .7 3.4 .7-2.7 .7 1.9 .7-5.6 .7 .9 .7-2.6 .7 .7 .7-1.1 .7 3.1 .7 .3 .7 2.4 .7-.6 .7-.3 .7-.9 .7 .7 .7-1.4 .7 1.7 .7-5.8 .7 2.4 .7 0 .7 .6 .7-2.1 .7 1.5 .7-2.7 .7 .7 .7-.2 .7 1.8 .7-.1 .7 .7 .7-.1 .7 4.2 .7-3.2 .7 1.6 .7-1.9 .7 4.3 .7-5.1 .7 2.1 .7-2.9 .7 .3 .7-2.4 .7 3.4 .7-2.9 .7 1.8 .7-2.1 .7 3.6 .7-.7 .7 2.1 .7-1.2 .7 2.5 .7-1.5 .7 3.1 .7-3.1 .7 .8 .7-2.4 .7 1.1 .7-3.3 .7 .2 .7-1.1 .7 1.2 .7-1.3 .7-.2 .7-1.9 .7 .2 .7-2.4 .7 .3 .7-2.6 .7 3.6 .7-2.5 .7 2.1 .7-3.5 .7 1.7 .7-4.9 .7-.9 .7-4.3 .7-2 .7-7.2 .7-.5 .7-5 .7 3.8 .7 2.5 .7 4.5 .7-2.9 .7-3.9 .7-5.8 .7-1.7 .7 1.7 .7 5.9 .7 2.2 .7 3.5 .7-2.4 .7-2.8 .7-10.3 .7 2.7 .7-.3 .7 3.3 .7 1 .7 4.4 .7-.7 .7 1.5 .7-1.3 .7 3 .7-2.6 .7 2.1 .7-5.2 .7 2.2 .7-2.8 .7 1.7 .7-1.3 .7 4.7 .7-1.9 .7 2.4 .7-.7 .7-.6 .7-1.8 .7-.3 .7-1.6 .7 2.7 .7-2.3 .7 2.6 .7-2.5 .7 2.5 .7-2.2 .7 1.9 .7-7.2 .7 .9 .7-7 .7-4.4 .7-4.3 .7 4.1 .7 2.9 .7 5.9 .7-3.6 .7-.7 .7-4.8 .7-4.8 .7-3.4 .7 2.3 .7 3.3 .7 5.2 .7-1.1 .7 3.5 .7-2.7 .7 3.2 .7-3.1 .7-3.2 .7-8.6 .7 1.4 .7-.4 .7 3.3 .7 .2 .7 3.3 .7 .8 .7 5.9 .7 0 .7 5.4 .7-2 .7 3.6 .7-.3 .7 2.9 .7-.4 .7 2.2 .7-7.1 .7 1.4 .7-3.9 .7 .5 .7 .7 .7 1.9 .7-2.6 .7-.1 .7-1.4 .7-.5 .7 1.4 .7 8.7 .7 .4 .7 4.6 .7-.6 .7 1.4 .7-3.2 .7 3.1 .7-.7 .7 1.9 .7-2.7 .7 3.5 .7-.9 .7-1.4 .7-3.4 .7-1.7 .7-3.6 .7 1.7 .7-6.2 .7-1.4 .7-3.8 .7 4 .7-2.2 .7 6.4 .7 6.1 .7 6.6 .7 3.6 .7 3.8 .7-1.8 .7 1.9 .7-6 .7-1.1 .7-5.8 .7-2.1 .7-6.4 .7-2 .7-3.2 .7-.6 .7-3.7 .7 2.2 .7-2.8 .7 3.1 .7-5.2 .7 1.9 .7-2.2 .7 2 .7-.5 .7 2.4 .7-.6 .7 4.8 .7-.4 .7 4.9 .7 2.4 .7 4.7 .7-1.8 .7-1.2 .7-2.9 .7-.1 .7-.2 .7 3 .7 1 .7 4.1 .7-2.6 .7 1.5 .7-2.8 .7-1.8 .7 1.5 .7 3.5 .7 1.2 .7 7.9 .7 .7 .7 6.9 .7 1.7 .7 2.8 .7 .4 .7 2.6 .7-6.5 .7 .3 .7-4.9 .7 2.3 .7-5 .7 2.2 .7-1.1 .7 4.8 .7-1.8 .7 2.8 .7-1.5 .7 2.4 .7-3 .7-.1 .7-1.6 .7 1.9 .7-1.6 .7-1.4 .7-2.2 .7 1.8 .7-1.2 .7 3.2 .7-2.7 .7 2 .7 .8 .7 2.3 .7-2.2 .7 4.3 .7-1.6 .7 2.7 .7-.9 .7 3.2 .7-5.8 .7 3.1 .7-1 .7 2.2 .7-2.7 .7 2.4 .7-2.6 .7 1.7 .7-1.7 .7 3.6 .7-1.4 .7 3.1 .7-1.3 .7 1.9 .7-1.9 .7 .9 .7-1.6 .7 1.3 .7-2.3 .7 3.5 .7-3.8 .7-1 .7-.2 .7 .8 .7-2.1 .7 .7 .7-1.6 .7 .8 .7 1.3 .7 3.3 .7 1 .7 4.4 .7-5.1 .7 2.5 .7-3.6 .7 2.9 .7-2.3 .7 3.2 .7-4.4 .7 2.9 .7-3.9 .7 1.7 .7-1 .7 4.5 .7 0 .7 .8 .7 1 .7 2.9 .7-5.4 .7 3.2 .7-2.6 .7 2.8 .7-2.2 .7-.6 .7-1.9 .7-1 .7-3.2 .7 2.5 .7-3 .7 1 .7-2 .7 2.2 .7 .1 .7 3.1 .7-2.1 .7 2.9 .7-2 .7 5.3 .7-2.2 .7 5.5 .7-3.4 .7 1.2 .7-2.2 .7 2.1 .7-3.7 .7 2.9 .7-.9 .7 1.4 .7-4.3 .7 2.6 .7-3.5 .7 2.5 .7-3.3 .7 6 .7-3.2 .7 5.7 .7-4.3 .7 .1 .7-2 .7 1.6 .7-3.1 .7 4.3 .7-3.3 .7-2 .7-1.8 .7-.8 .7-1 .7 1.7 .7-2.8 .7 1.8 .7 1.3 .7 5.1 .7 .5 .7 3.2 .7-3.7 .7 3.9 .7-2.4 .7 4.5 .7-1.4 .7 1.4 .7-2.4 .7 4.4 .7-2.8 .7 1.5 .7-1.1 .7 .7 .7-2.4 .7 1.2 .7-2.5 .7 3.2 .7-5.3 .7 2.6 .7-2.6 .7 1.5 .7-1.9 .7 1.5 .7-1.3 .7 .2 .7 .1 .7 2.6 .7-4.5 .7 2.7 .7-2.4 .7 .9 .7-.8 .7 .7 .7-.5 .7 2.8 .7-4.5 .7 2.3 .7-2.8 .7 3.2 .7-2.7 .7 4.4 .7-6.7 .7 2.4 .7 .3 .7 2.9 .7-3.9 .7 2.4 .7-1.6 .7 2.7 .7-3.4 .7 1.5 .7-2.3 .7 3.9 .7-.9 .7 1.8 .7-1 .7 1.9 .7-1 .7 1.8 .7-1.6 .7 4.2 .7-6.4 .7 4.3 .7-4 .7 3.4 .7-4.7 .7 2.9 .7-.4 .7 .5 .7-1.9 .7 2.2 .7-4.8 .7 1.4 .7-2.8 .7 1.4 .7 .4 .7 2.5 .7-2 .7 4.1 .7-1.7 .7 2.9 .7-3.7 .7 1.9 .7-.8 .7 1.6 .7-3.5 .7 4 .7-3.7 .7 3.9 .7-3.5 .7 5.1 .7-5.2 .7 2.7 .7-.5 .7 .8 .7 1.1 .7 1.1 .7-1.9 .7 3.9 .7-1.4 .7 3.1 .7-2.1 .7 1.1 .7-2.2 .7 1.4 .7-1.1 .7 2.7 .7-2.7 .7 2.3 .7 .2 .7 4.1 .7-6.3 .7 2.5 .7-1.9 .7 1.5 .7-3.5 .7 3.7 .7-4.9 .7 3.2 .7-.7 .7 2.2 .7-2.5 .7 2.1 .7-2.1 .7 1.8 .7-1.7 .7 1.4 .7-1.9 .7 .6 .7 .2 .7 2.2 .7-2.4 .7 1.5 .7-1.5 .7 2.5 .7-3.2 .7 3.4 .7-2 .7 2.5 .7-4.3 .7 3 .7-1.9 .7 1.2 .7-1.4 .7 1.2 .7 .3 .7 .5 .7-2.5 .7 1.5 .7-.5 .7 1.8 .7-4 .7 2.1 .7-.8 .7 2.9 .7-1.3 .7-.1 .7-.5 .7 2.2 .7 .8 .7 2.3 .7-1.2 .7 .7 .7-2.4 .7 1.4 .7 1 .7 2.7 .7-3 .7 1 .7-2.2 .7-.4 .7-2 .7 2.5 .7-1.1 .7-.3 .7-.6 .7-.4 .7-1.5 .7 2.4 .7-2.8 .7 2 .7 1 .7 1.6 .7-3 .7 2.8 .7-.1 .7 .8 .7-.8 .7-.3 .7-.5 .7 3.3 .7-2.9 .7 .5 .7 .1 .7 1.8 .7-3.8 .7 4.2 .7-.5 .7 2.6" fill="none" stroke="#ff2020" stroke-width="0.9" /></g><line x1="87.22" y1="586.48" x2="87.22" y2="590.48" stroke="#222" stroke-width="1.0" /><line x1="87.22" y1="654.81" x2="87.22" y2="650.81" stroke="#222" stroke-width="1.0" /><line x1="113.91" y1="586.48" x2="113.91" y2="590.48" stroke="#222" stroke-width="1.0" /><line x1="113.91" y1="654.81" x2="113.91" y2="650.81" stroke="#222" stroke-width="1.0" /><line x1="140.60" y1="586.48" x2="140.60" y2="597.48" stroke="#222" stroke-width="1.3" /><line x1="140.60" y1="654.81" x2="140.60" y2="643.81" stroke="#222" stroke-width="1.3" /><line x1="167.29" y1="586.48" x2="167.29" y2="590.48" stroke="#222" stroke-width="1.0" /><line x1="167.29" y1="654.81" x2="167.29" y2="650.81" stroke="#222" stroke-width="1.0" /><line x1="193.98" y1="586.48" x2="193.98" y2="590.48" stroke="#222" stroke-width="1.0" /><line x1="193.98" y1="654.81" x2="193.98" y2="650.81" stroke="#222" stroke-width="1.0" /><line x1="220.67" y1="586.48" x2="220.67" y2="597.48" stroke="#222" stroke-width="1.3" /><line x1="220.67" y1="654.81" x2="220.67" y2="643.81" stroke="#222" stroke-width="1.3" /><line x1="247.36" y1="586.48" x2="247.36" y2="590.48" stroke="#222" stroke-width="1.0" /><line x1="247.36" y1="654.81" x2="247.36" y2="650.81" stroke="#222" stroke-width="1.0" /><line x1="274.05" y1="586.48" x2="274.05" y2="590.48" stroke="#222" stroke-width="1.0" /><line x1="274.05" y1="654.81" x2="274.05" y2="650.81" stroke="#222" stroke-width="1.0" /><line x1="300.74" y1="586.48" x2="300.74" y2="597.48" stroke="#222" stroke-width="1.3" /><line x1="300.74" y1="654.81" x2="300.74" y2="643.81" stroke="#222" stroke-width="1.3" /><line x1="327.43" y1="586.48" x2="327.43" y2="590.48" stroke="#222" stroke-width="1.0" /><line x1="327.43" y1="654.81" x2="327.43" y2="650.81" stroke="#222" stroke-width="1.0" /><line x1="354.12" y1="586.48" x2="354.12" y2="590.48" stroke="#222" stroke-width="1.0" /><line x1="354.12" y1="654.81" x2="354.12" y2="650.81" stroke="#222" stroke-width="1.0" /><line x1="380.81" y1="586.48" x2="380.81" y2="597.48" stroke="#222" stroke-width="1.3" /><line x1="380.81" y1="654.81" x2="380.81" y2="643.81" stroke="#222" stroke-width="1.3" /><line x1="407.50" y1="586.48" x2="407.50" y2="590.48" stroke="#222" stroke-width="1.0" /><line x1="407.50" y1="654.81" x2="407.50" y2="650.81" stroke="#222" stroke-width="1.0" /><line x1="434.19" y1="586.48" x2="434.19" y2="590.48" stroke="#222" stroke-width="1.0" /><line x1="434.19" y1="654.81" x2="434.19" y2="650.81" stroke="#222" stroke-width="1.0" /><line x1="460.88" y1="586.48" x2="460.88" y2="597.48" stroke="#222" stroke-width="1.3" /><line x1="460.88" y1="654.81" x2="460.88" y2="643.81" stroke="#222" stroke-width="1.3" /><line x1="487.57" y1="586.48" x2="487.57" y2="590.48" stroke="#222" stroke-width="1.0" /><line x1="487.57" y1="654.81" x2="487.57" y2="650.81" stroke="#222" stroke-width="1.0" /><line x1="514.26" y1="586.48" x2="514.26" y2="590.48" stroke="#222" stroke-width="1.0" /><line x1="514.26" y1="654.81" x2="514.26" y2="650.81" stroke="#222" stroke-width="1.0" /><line x1="71.40" y1="598.20" x2="74.60" y2="598.20" stroke="#222" stroke-width="1" /><line x1="525.40" y1="598.20" x2="522.20" y2="598.20" stroke="#222" stroke-width="1" /><line x1="71.40" y1="620.30" x2="77.90" y2="620.30" stroke="#222" stroke-width="1" /><line x1="525.40" y1="620.30" x2="518.90" y2="620.30" stroke="#222" stroke-width="1" /><line x1="71.40" y1="642.30" x2="77.90" y2="642.30" stroke="#222" stroke-width="1" /><line x1="525.40" y1="642.30" x2="518.90" y2="642.30" stroke="#222" stroke-width="1" /><rect x="71.40" y="586.48" width="454.00" height="68.33" fill="none" stroke="#000" stroke-width="1.7"/><line x1="77.50" y1="595.60" x2="95.00" y2="595.60" stroke="#ff3030" stroke-width="1.0"/><text x="96.0" y="599.6" font-size="10" fill="#ff2020">T<tspan font-size="8" dy="3">||</tspan></text><line x1="77.50" y1="615.00" x2="95.00" y2="615.00" stroke="#444" stroke-width="1.0"/><text x="96.0" y="619" font-size="10" fill="#401010">T<tspan font-size="8" dy="4.5" dx="1.5" fill="#906060">&#8869;</tspan></text><text transform="translate(36.50,621.00) rotate(-90)" font-size="11" text-anchor="middle" fill="#000">T<tspan font-size="8" dy="2.5">i</tspan><tspan dy="-2.5" font-size="1">&#8203;</tspan> [eV]</text><line x1="136.30" y1="658.81" x2="136.30" y2="723.14" stroke="#00aa00" stroke-width="1.3" stroke-dasharray="10 4.4"/><line x1="303.00" y1="658.81" x2="303.00" y2="723.14" stroke="#00aa00" stroke-width="1.3" stroke-dasharray="10 4.4"/><line x1="178.10" y1="658.81" x2="178.10" y2="723.14" stroke="#ff4848" stroke-width="1.7" stroke-dasharray="11 4"/><line x1="261.40" y1="658.81" x2="261.40" y2="723.14" stroke="#ff0000" stroke-width="1.3" stroke-dasharray="11 4"/><line x1="174.50" y1="658.81" x2="174.50" y2="723.14" stroke="#0000ff" stroke-width="1.3" stroke-dasharray="2 3.4"/><line x1="229.30" y1="658.81" x2="229.30" y2="723.14" stroke="#ff00ff" stroke-width="1.5" stroke-dasharray="2 3.4"/><line x1="347.00" y1="658.81" x2="347.00" y2="723.14" stroke="#ff00ff" stroke-width="1.5" stroke-dasharray="2 3.4"/><g clip-path="url(#cl8)"><path d="M71.8 699.6l1 .8 1 .7 1-2 1 .4 1-3.4 1 1.7 1 .6 1 .2 1 0 1 1 1-.8 1-1.2 1 1.1 1-1.2 1-1.1 1 .6 1 .3 1 .9 1-.1 1 .4 1 .5 1 0 1-1.6 1 1.2 1-3 1-.3 1-.3 1 1.1 1 .8 1 .3 1-.1 1 .8 1 0 1-.9 1 .4 1-.6 1-.5 1-.6 1 .6 1-1.5 1 .7 1 .2 1-.9 1 .5 1-.3 1-.1 1 1.2 1-.3 1 1.6 1 1.5 1 0 1-1.2 1 0 1 .7 1 0 1 2.6 1 .9 1-.1 1 1.5 1-1 1 .1 1-1 1-.3 1 .2 1-2.9 1 .1 1 .4 1 .4 1 0 1-.4 1 .8 1-.7 1 1.1 1 .1 1-.5 1 .3 1 .9 1-.8 1 1 1-2.4 1 .6 1-1.5 1 .1 1-1 1 .1 1 .9 1 .4 1 1.6 1-.6 1-.1 1-1 1-1.9 1-.7 1 .6 1-1.7 1-.3 1 0 1-.7 1-.6 1-.4 1 .9 1 1.8 1 3 1 2.9 1 .6 1 .8 1 1.5 1-.8 1-.9 1-1.3 1 .2 1-1.7 1 .9 1-2.1 1-1.2 1-2.2 1 .7 1-.1 1 .9 1 .5 1-.2 1 .5 1 .8 1-.1 1 .6 1-1.2 1 0 1 .2 1 .2 1 2.2 1 .4 1-.3 1 .7 1-.2 1-1.5 1-.8 1-.2 1 1 1 1.2 1 0 1-.9 1-1.8 1-3.8 1-2.8 1-2.6 1 1.4 1 2.2 1 3.7 1 1 1 1.4 1 1.3 1-.1 1-.3 1-.2 1-2.1 1-.6 1 2.5 1 1 1 1.7 1 2.1 1 .9 1 1.6 1-.6 1-.4 1-1.1 1-1.9 1-.1 1-1.3 1-1.8 1-1.7 1-2.6 1-.2 1 .2 1 1.4 1 2.2 1-.6 1 1.9 1 2.2 1 1.5 1-.7 1-.8 1-2.5 1-2.7 1 .2 1-1 1-.9 1 2.5 1 2.2 1 1.2 1 1.1 1 .9 1-.4 1-2.6 1-.2 1-1.9 1-1 1-.3 1-1.2 1 .1 1 .4 1-.5 1 3.2 1 1.5 1 1.9 1 1.1 1 1 1 1.8 1 1.1 1-1.1 1-.9 1-.9 1-2.4 1-.4 1-.8 1-1.4 1-1.5 1-.2 1 1.5 1 1.8 1 .9 1 1.8 1 1.6 1-.1 1 .2 1-1.3 1-.1 1 0 1 .4 1-1.7 1 0 1 .9 1-1 1 1.2 1-2.4 1 .6 1-.6 1-.1 1-.3 1 2.1 1-.5 1 .3 1 .3 1-.5 1-1.7 1-2.7 1 .9 1 .4 1-1.2 1 1.1 1-.4 1 1.6 1-.5 1 .3 1 .8 1 0 1 .6 1-1.5 1 .7 1-.8 1-1.3 1-.2 1 .2 1 .5 1-.8 1 .4 1 .9 1 1.5 1 1.1 1-1.4 1 1.6 1-1.5 1-1.5 1-1 1-.2 1-1.3 1-1.6 1 .6 1 1.2 1-.9 1 1.2 1-.3 1 .4 1-.8 1 0 1 0 1 .1 1 1 1 0 1 .6 1-.5 1-1.4 1 1.2 1-.3 1 .2 1 .2 1 1.9 1 .6 1 1.6 1 1.6 1-.2 1-.2 1 .5 1 .4 1 .8 1 0 1-.5 1-2.8 1 .1 1-1.3 1-2.6 1-1.2 1-1.3 1-.3 1 2.5 1-.9 1 .9 1 2.1 1-.1 1 .8 1-.1 1 .2 1 .6 1 0 1-.1 1-.6 1 1.2 1 .4 1-.5 1 .6 1 .6 1 .6 1-1 1-1.1 1 1.5 1-.2 1-.1 1-1.5 1 1.2 1 .5 1-.8 1 .1 1 .3 1 .3 1 .6 1-.3 1 0 1 1.6 1-2.1 1 .3 1 .6 1-.5 1 .5 1-.3 1-1.4 1-.6 1 .6 1-.5 1 1 1 .7 1-.8 1 1.9 1-.3 1 .8 1 .2 1 .1 1 0 1-.9 1 .5 1 .2 1-1.4 1 1.7 1 .1 1-1.5 1-.2 1-1.2 1 1.4 1 1.4 1-.3 1-1.7 1 .5 1 .6 1-.6 1-.7 1-.3 1-.9 1-.3 1-.4 1 1.4 1-1.7 1 .8 1-.9 1 .5 1-.3 1-.2 1 .2 1-1.3 1 .5 1 1 1-.8 1 2.1 1-1.6 1-.2 1 .1 1 .9 1 .2 1-.5 1-.8 1 .4 1 1.1 1-.7 1 1.7 1-1 1 1 1 .4 1 1 1 .1 1-.3 1 1.2 1-.2 1-.9 1 1.8 1-1.9 1 .2 1-.3 1 .4 1-1.5 1 .4 1-1.5 1 1.9 1-.5 1 .5 1 .7 1 .1 1 1.2 1 .3 1-1 1 .7 1 1 1-.1 1-.1 1-.7 1-.5 1 .8 1-.2 1-1.7 1 .3 1-.5 1 .5 1 0 1-1 1-.5 1 .4" fill="none" stroke="#30ff30" stroke-width="0.9" /><path d="M71.4 720.6l1 0 1 .1 1-.2 1-.4 1 .1 1 0 1-.3 1-.4 1 0 1 .3 1 0 1 0 1 .5 1-.1 1-.1 1 .2 1-.3 1 .2 1-.1 1 .1 1 .1 1-.2 1 .2 1-.1 1 .2 1 .2 1-.5 1-.1 1 .4 1 .2 1 .4 1-.1 1-.5 1 .3 1 .3 1-.3 1-.1 1-.4 1 .2 1 0 1-.2 1 .3 1 0 1 .3 1-.2 1-.7 1 .3 1 .2 1-.1 1 .1 1-.4 1 .3 1 0 1-.7 1 .5 1 .3 1 0 1-.1 1 .2 1 .1 1-.2 1 .1 1-.3 1 .2 1-.2 1 .7 1 .1 1 0 1-.3 1-.1 1 .2 1-.4 1 .3 1-.4 1-.4 1 .6 1 .2 1-.2 1 .3 1-.1 1-.6 1-.2 1 .1 1 .5 1 .3 1-.6 1-.2 1 .5 1-.2 1-.1 1 .3 1 0 1 .1 1 .1 1-.5 1 .2 1 .2 1-.5 1 .3 1 .1 1-.3 1 .2 1 0 1-.3 1 0 1 .5 1 0 1-.3 1-.2 1 .4 1-.1 1-.1 1-.1 1 .1 1 .1 1 .3 1-.1 1-.3 1-.3 1 0 1 .4 1 .4 1-.2 1-.3 1 0 1 .1 1 .1 1-.4 1 .4 1 .3 1-.1 1-.2 1 .1 1-.3 1-.1 1 .4 1-.2 1-.1 1-.3 1 .5 1-.4 1-.1 1 .1 1-.3 1-.5 1 .5 1 .7 1 .3 1 0 1-.6 1 0 1-.2 1 0 1-.1 1-.1 1 .1 1 .7 1 .2 1 0 1-.3 1-.1 1-.1 1 .3 1 .1 1 .1 1 .1 1-.4 1-.4 1 0 1-.4 1 .4 1 0 1-.2 1 .2 1-.3 1 .4 1 .1 1-.2 1 .3 1-.2 1-.2 1 0 1-.2 1 .5 1-.1 1 0 1 .8 1-.6 1 .3 1-.2 1 .2 1-.6 1-.3 1 .9 1-.5 1-.4 1 .3 1 .1 1-.3 1 .2 1-.2 1 0 1 .3 1 .4 1 .3 1-.6 1-.1 1 0 1-.1 1 .4 1 .1 1-.2 1 .1 1-.3 1 0 1 .3 1-.2 1 .4 1-.4 1-.2 1-.2 1 .5 1 .4 1 0 1 .1 1 .2 1-.5 1 .2 1-.6 1-.4 1 .3 1 0 1-.3 1-.1 1 .3 1 .2 1-.1 1-.2 1-.3 1 1.1 1 .3 1-.2 1-.4 1-.3 1 0 1 .1 1 .3 1 0 1-.1 1-.3 1 .2 1-.4 1-.3 1 .2 1 .1 1 .5 1-.1 1 .3 1-.6 1 .1 1 .2 1 .5 1-.4 1 .1 1 .4 1-.2 1-.4 1 .3 1 0 1-.2 1 .1 1 .1 1-.1 1 0 1-.1 1 0 1 .3 1-.4 1-.2 1 .2 1 .3 1-.4 1-.1 1-.2 1 .2 1 .2 1 0 1 .3 1-.5 1-.2 1 .4 1 .3 1-.4 1 .1 1-.1 1 .1 1 .1 1 .1 1-.1 1-.4 1 .4 1 0 1-.2 1 .2 1-.2 1 .2 1-.2 1 .1 1 0 1 .2 1-.3 1-.2 1-.2 1 .7 1-.3 1 .1 1-.1 1 .3 1-.1 1 0 1 .1 1-.1 1-1 1 0 1 .1 1 .1 1 .3 1 .6 1 0 1 0 1-.1 1-.3 1-.1 1 .8 1-.1 1-.2 1-.2 1 .1 1-.1 1-.1 1 0 1 0 1 .7 1-.3 1-.2 1 .1 1-.5 1 .2 1 0 1 0 1 .1 1-.2 1 0 1 .4 1-.1 1 .6 1-.3 1-.2 1-.2 1 .5 1-.3 1-.2 1-.7 1 .1 1 .2 1 .3 1-.2 1 0 1 .2 1 .1 1 0 1-.2 1 .4 1-.2 1-.2 1 .4 1-.4 1 .2 1 .3 1-.2 1-.3 1-.2 1 .3 1 .3 1 .2 1-.6 1 .1 1-.3 1 .4 1 0 1 0 1 .3 1 .1 1-.2 1 0 1-.6 1 .3 1 .7 1-.1 1-.4 1-.3 1 .3 1 .1 1-.4 1 .6 1-.6 1-.2 1 0 1 .2 1 0 1 0 1-.1 1 0 1 .6 1-.1 1 .2 1-.1 1 .1 1 .3 1-.6 1-.1 1-.5 1-.1 1 .2 1 .1 1 .5 1-.3 1 .1 1-.2 1-.1 1 .4 1 0 1 .4 1-.5 1 .2 1 .1 1-.6 1 .9 1-.2 1-.2 1 .1 1-.4 1 .4 1-.6 1-.1 1 0 1-.1 1 0 1 .4 1 .6 1 0 1-.3 1-.9 1 .3" fill="none" stroke="#ff4040" stroke-width="0.9" /><path d="M71.8 686.2l1 .8 1-1.4 1 .1 1-.4 1 .1 1-.2 1 .2 1 .2 1-.2 1-.4 1-.1 1 .1 1 1.4 1-.4 1 .9 1 1.6 1-1.9 1 .5 1 0 1 .8 1-1.8 1-.1 1 1.7 1 1.5 1-1.6 1 1.3 1 .4 1-.6 1-1.1 1-.2 1-.1 1-.3 1-.2 1 1.3 1 .9 1 .6 1-.1 1 .9 1-.7 1-.8 1-.2 1-1.4 1 1 1-1.3 1 .9 1-.1 1 1 1-.9 1 .5 1-.3 1-.6 1 1.6 1-.4 1 .1 1-.2 1-.8 1 .9 1 .4 1 .3 1-.6 1-.7 1 .9 1 1.3 1-.2 1 1.1 1-1.1 1 1.6 1 1.5 1-.2 1-.3 1-1.4 1-.2 1-.2 1-.3 1-.3 1 .1 1-.5 1-.6 1 .6 1-.5 1-.3 1 .6 1-.2 1-.1 1-.6 1-.6 1-1.1 1-.4 1-1.2 1-.1 1 .4 1 1.7 1-.7 1 3.3 1 1.6 1 .7 1 1.6 1-1.2 1-1.7 1-2.2 1-.1 1 1.4 1 1.4 1-2.3 1-3.9 1-3.7 1-.5 1-1.1 1 .6 1 .2 1 .8 1 1.8 1 2.3 1 .5 1 1.2 1 1.5 1-.5 1 .4 1 1.1 1 0 1 1.1 1-1.3 1 .7 1-1.1 1-.9 1-.6 1-.1 1-.3 1 .9 1 1.2 1 .5 1 1.4 1-1.2 1-1.2 1-2.8 1-.5 1 .4 1 1.4 1 2.1 1-3.8 1 .1 1 .3 1 3.3 1 3.4 1 1 1-2.3 1-2.4 1-1.4 1 .7 1-1.9 1 .2 1 1.4 1 .3 1 1.8 1 1.6 1 1.4 1-.9 1-3.5 1-1.5 1-2.7 1-.1 1-.2 1-2.4 1 1.5 1 1.4 1 2.3 1 .2 1 2.8 1 2.7 1 1.3 1 .5 1-.5 1-.8 1-.3 1-1.8 1-.4 1-1.2 1-2.2 1 0 1-1.3 1 .6 1 1.7 1 1.5 1 1.1 1-.4 1-.3 1-.7 1-1.9 1-1.4 1-1.9 1-1 1 .3 1 3 1-1.1 1 1.4 1 .5 1 1.4 1 .2 1-.1 1 .8 1-.5 1 .5 1-.9 1-.2 1-2 1-.6 1-1 1-3 1 1.3 1 1 1-1.1 1 2.4 1 2.8 1 3.7 1 2.7 1-1.8 1-.9 1-.8 1-1.6 1-1.7 1-.7 1 1.1 1-1.3 1 .2 1 .3 1-.4 1 .1 1-.8 1 .9 1-2.2 1 .5 1 .6 1-.7 1 .3 1 .2 1-1 1-.1 1 .2 1-1.3 1-.5 1 2.2 1-1.1 1 .4 1-.1 1 1.1 1 2.2 1 1.5 1-.1 1-.4 1 .5 1-.7 1-.6 1-1.2 1 .8 1-.6 1 .6 1-.4 1 2.2 1-.5 1 .1 1 .5 1 .3 1 .6 1 .8 1 0 1 .3 1-1 1-.4 1 .9 1-.6 1-2.2 1 2.1 1 .4 1 .7 1 1.5 1 .4 1-.3 1-.8 1-.5 1-1.6 1 2.2 1 .2 1 .9 1 .7 1-.3 1-.2 1 1.9 1 .2 1-1 1 0 1-1.1 1-.1 1 .1 1-1 1-.2 1-1.1 1-2.7 1-.7 1-.5 1 0 1-.6 1-.7 1-.5 1-1.1 1 .8 1 .9 1-.9 1 2 1 .7 1 1.4 1 1.5 1 1.2 1 .2 1-.5 1-1.6 1-.6 1 1.6 1-.5 1-.5 1-.6 1 .3 1-1.1 1 1.3 1-.3 1 0 1-1.3 1-.8 1-.2 1-.3 1-.1 1 .5 1-.6 1 .7 1 .5 1-.6 1 1 1 .1 1 0 1-.5 1 0 1 .3 1-.3 1-.1 1 .4 1-.6 1 .2 1-.1 1-.4 1 .9 1-.3 1 .3 1 .5 1 1.2 1 .1 1-.8 1 .4 1-.4 1 0 1 .1 1 .6 1-.5 1-1.7 1 .4 1-.6 1-.6 1-.2 1-.8 1 0 1-.6 1 .7 1 .5 1-2.3 1 1.8 1-.4 1-.7 1 .2 1 .6 1-.2 1 .5 1-.5 1-.3 1 1.1 1 0 1 1.5 1-.3 1 .9 1 .5 1 1 1-1.3 1 1.7 1-.9 1 1.5 1-1.3 1-1.1 1-.8 1 2.5 1-1.4 1-.1 1-.2 1-.2 1 .1 1 0 1 1 1-1.7 1 1.7 1 .1 1 .7 1-.5 1 1 1-.3 1-.5 1-.4 1-1.5 1 .7 1-1.8 1 .3 1-3 1 2.3 1-.8 1 .2 1-.2 1-.1 1 1.2 1 0 1 1.8 1 0 1 0 1 .2 1 .2 1 1 1-1.5 1-.7 1-.8 1 .2 1 0 1-.5 1-1.1 1-.8 1 1.3 1 .1 1-.2 1-.6 1-.5 1 .5 1 .6 1 .3 1 .8 1-.4 1-1.6 1 .7 1 .9 1 0" fill="none" stroke="#303030" stroke-width="0.9" /><path d="M71.8 662.1l1-1.2 1 .5 1-.4 1-1 1 1.2 1-.9 1-1.3 1-.9 1 .3 1 .1 1-1 1 .2 1 1.6 1 .8 1-.1 1 1.1 1 .1 1-2.5 1 1.5 1-1.3 1 .4 1 1.1 1-.9 1 2.2 1-1.2 1 1.2 1-1.6 1 .5 1 .9 1 .6 1-.3 1 1.4 1-1.3 1-.6 1-1.2 1-.9 1-.8 1 .2 1 2.1 1-.7 1 .3 1-.7 1-.3 1-1.8 1-.7 1 .8 1 .8 1 1.8 1 1 1 2.5 1 .8 1-2.8 1-.7 1 .6 1 1 1 2.2 1 1.3 1 1.4 1 .9 1-.4 1 .1 1-.7 1-.2 1-.8 1-1 1 0 1-.5 1 .3 1-.5 1-.1 1 .4 1 .5 1-.3 1 1.3 1 .5 1-.4 1-1.5 1-.4 1-.6 1 .5 1-1.2 1 1 1-1.1 1-1.7 1-.8 1 1.1 1-.4 1 .1 1 0 1 1.6 1-1 1-1.3 1 .3 1 .2 1-1 1 .3 1-1.2 1-.9 1-.2 1-1.1 1 1 1 3.8 1 .4 1 0 1-.9 1 .6 1-1.1 1-.2 1-.3 1 .1 1-.1 1-.7 1 .2 1 .1 1 1.4 1-.2 1 .1 1 .9 1 .3 1 .3 1 .6 1 .9 1 1 1-1.5 1-.7 1-.3 1-.8 1-.6 1 1.6 1 1.2 1-1.3 1 .8 1 .9 1-.7 1-.8 1-.2 1 0 1-.2 1 .1 1-1.2 1-1.6 1 .5 1-1.3 1 .2 1-.5 1 1.9 1-.4 1 1.1 1-.1 1 1.2 1 .7 1 .1 1 0 1-.2 1 2.3 1 .2 1 1.3 1-1.2 1-.4 1 1.4 1-2.2 1-.2 1-.6 1 .1 1 .2 1-.3 1 1.7 1 .7 1-.7 1-.4 1 0 1 .4 1-.1 1-.5 1 .3 1-.4 1 0 1-.8 1-.3 1 .4 1-1.5 1-.1 1-2 1 .4 1-1 1 1 1 .4 1 1.4 1 .2 1-.1 1 0 1-.6 1-.5 1-1.6 1-.2 1 1.8 1-1 1-.4 1 .3 1 .6 1 2.1 1 2.8 1 1.7 1-1.2 1 .6 1-1 1-1.1 1-.1 1 .8 1-.3 1 .9 1 1 1-.5 1-.6 1-.4 1-1.1 1-2.2 1 1.6 1 1.9 1 1.5 1 .9 1 .5 1-1.2 1-.8 1 .2 1-1.9 1 .8 1-2.1 1-.3 1-1 1 .3 1-.2 1-1.4 1 1.5 1-.1 1 .3 1 .2 1-.3 1-.6 1-.4 1 1 1-1 1-1.4 1 .7 1 1.9 1-2.9 1 .4 1 .9 1 .6 1 1.1 1 .2 1-.6 1 1 1 .5 1-.6 1 1.3 1-.3 1 .4 1-.8 1-.3 1-.3 1 .3 1 .9 1 .4 1-1.1 1 .6 1 .5 1 1.1 1-.9 1 .4 1-.3 1 .3 1 .3 1-.3 1 .7 1-.8 1 .1 1 .4 1-.4 1 .7 1-1.4 1 .9 1 .7 1-1.3 1 .1 1 1.2 1-.8 1 .4 1-.1 1 .8 1-.4 1-.8 1 .1 1-.3 1-.7 1 .8 1 1.2 1 .3 1-1.7 1-.9 1 .7 1-.4 1 .3 1-.1 1-.1 1-.5 1 .1 1-.5 1-.3 1-1 1-1.2 1 .5 1 .2 1 .3 1 1.2 1-.2 1-1.4 1 1.3 1 .7 1 .8 1 .7 1-.6 1 0 1 0 1 1.2 1-1.3 1-.5 1 1.3 1-.4 1 .3 1 .7 1 .1 1-1 1 .9 1-.5 1 .7 1 0 1-.5 1-.6 1 1.4 1-.6 1 .4 1-.1 1 1.1 1-1.2 1 0 1 .1 1 2.1 1-2.6 1 .2 1-.5 1 1.1 1-.6 1-1 1 1.9 1-.7 1-.6 1 .2 1 .3 1-.5 1 .2 1 1.3 1-.1 1-.8 1-.3 1-.3 1 1.9 1-.5 1-2.2 1 1.9 1 .2 1-.4 1-.2 1-2.7 1 1.3 1-.8 1 2.1 1-1.7 1 .3 1 .4 1-.3 1-.5 1 1.2 1-.1 1-.6 1-.2 1-.2 1 1.3 1-.5 1 .1 1-.3 1 0 1-1.3 1 .2 1 .9 1 .5 1-1 1-.3 1 1.5 1 .3 1-1.1 1-.3 1 .8 1-.4 1 .5 1-.7 1 .4 1 .4 1-.9 1 1.6 1-.4 1-.7 1 1 1 .8 1-.8 1 2 1-1.9 1 1.3 1-1.4 1-.7 1 .5 1-.1 1 .2 1 0 1-.9 1 .6 1-.2 1-.1 1 1.5 1-.3 1-.8 1 1.4 1 .1 1 .1 1-.7 1-.7 1 .4 1 .4 1-.2 1 .4 1-2.1 1 1.3 1 .9 1 .5 1-.7 1-.4 1-.6 1 .6 1-2.1 1 .9 1 .6 1-1" fill="none" stroke="#3030ff" stroke-width="0.9" /></g><line x1="87.22" y1="654.81" x2="87.22" y2="658.81" stroke="#222" stroke-width="1.0" /><line x1="87.22" y1="723.14" x2="87.22" y2="719.14" stroke="#222" stroke-width="1.0" /><line x1="113.91" y1="654.81" x2="113.91" y2="658.81" stroke="#222" stroke-width="1.0" /><line x1="113.91" y1="723.14" x2="113.91" y2="719.14" stroke="#222" stroke-width="1.0" /><line x1="140.60" y1="654.81" x2="140.60" y2="665.81" stroke="#222" stroke-width="1.3" /><line x1="140.60" y1="723.14" x2="140.60" y2="712.14" stroke="#222" stroke-width="1.3" /><line x1="167.29" y1="654.81" x2="167.29" y2="658.81" stroke="#222" stroke-width="1.0" /><line x1="167.29" y1="723.14" x2="167.29" y2="719.14" stroke="#222" stroke-width="1.0" /><line x1="193.98" y1="654.81" x2="193.98" y2="658.81" stroke="#222" stroke-width="1.0" /><line x1="193.98" y1="723.14" x2="193.98" y2="719.14" stroke="#222" stroke-width="1.0" /><line x1="220.67" y1="654.81" x2="220.67" y2="665.81" stroke="#222" stroke-width="1.3" /><line x1="220.67" y1="723.14" x2="220.67" y2="712.14" stroke="#222" stroke-width="1.3" /><line x1="247.36" y1="654.81" x2="247.36" y2="658.81" stroke="#222" stroke-width="1.0" /><line x1="247.36" y1="723.14" x2="247.36" y2="719.14" stroke="#222" stroke-width="1.0" /><line x1="274.05" y1="654.81" x2="274.05" y2="658.81" stroke="#222" stroke-width="1.0" /><line x1="274.05" y1="723.14" x2="274.05" y2="719.14" stroke="#222" stroke-width="1.0" /><line x1="300.74" y1="654.81" x2="300.74" y2="665.81" stroke="#222" stroke-width="1.3" /><line x1="300.74" y1="723.14" x2="300.74" y2="712.14" stroke="#222" stroke-width="1.3" /><line x1="327.43" y1="654.81" x2="327.43" y2="658.81" stroke="#222" stroke-width="1.0" /><line x1="327.43" y1="723.14" x2="327.43" y2="719.14" stroke="#222" stroke-width="1.0" /><line x1="354.12" y1="654.81" x2="354.12" y2="658.81" stroke="#222" stroke-width="1.0" /><line x1="354.12" y1="723.14" x2="354.12" y2="719.14" stroke="#222" stroke-width="1.0" /><line x1="380.81" y1="654.81" x2="380.81" y2="665.81" stroke="#222" stroke-width="1.3" /><line x1="380.81" y1="723.14" x2="380.81" y2="712.14" stroke="#222" stroke-width="1.3" /><line x1="407.50" y1="654.81" x2="407.50" y2="658.81" stroke="#222" stroke-width="1.0" /><line x1="407.50" y1="723.14" x2="407.50" y2="719.14" stroke="#222" stroke-width="1.0" /><line x1="434.19" y1="654.81" x2="434.19" y2="658.81" stroke="#222" stroke-width="1.0" /><line x1="434.19" y1="723.14" x2="434.19" y2="719.14" stroke="#222" stroke-width="1.0" /><line x1="460.88" y1="654.81" x2="460.88" y2="665.81" stroke="#222" stroke-width="1.3" /><line x1="460.88" y1="723.14" x2="460.88" y2="712.14" stroke="#222" stroke-width="1.3" /><line x1="487.57" y1="654.81" x2="487.57" y2="658.81" stroke="#222" stroke-width="1.0" /><line x1="487.57" y1="723.14" x2="487.57" y2="719.14" stroke="#222" stroke-width="1.0" /><line x1="514.26" y1="654.81" x2="514.26" y2="658.81" stroke="#222" stroke-width="1.0" /><line x1="514.26" y1="723.14" x2="514.26" y2="719.14" stroke="#222" stroke-width="1.0" /><line x1="71.40" y1="718.50" x2="74.60" y2="718.50" stroke="#222" stroke-width="1" /><line x1="525.40" y1="718.50" x2="522.20" y2="718.50" stroke="#222" stroke-width="1" /><line x1="71.40" y1="714.50" x2="74.60" y2="714.50" stroke="#222" stroke-width="1" /><line x1="525.40" y1="714.50" x2="522.20" y2="714.50" stroke="#222" stroke-width="1" /><line x1="71.40" y1="710.50" x2="74.60" y2="710.50" stroke="#222" stroke-width="1" /><line x1="525.40" y1="710.50" x2="522.20" y2="710.50" stroke="#222" stroke-width="1" /><line x1="71.40" y1="706.50" x2="74.60" y2="706.50" stroke="#222" stroke-width="1" /><line x1="525.40" y1="706.50" x2="522.20" y2="706.50" stroke="#222" stroke-width="1" /><line x1="71.40" y1="702.50" x2="77.90" y2="702.50" stroke="#222" stroke-width="1" /><line x1="525.40" y1="702.50" x2="518.90" y2="702.50" stroke="#222" stroke-width="1" /><line x1="71.40" y1="698.50" x2="74.60" y2="698.50" stroke="#222" stroke-width="1" /><line x1="525.40" y1="698.50" x2="522.20" y2="698.50" stroke="#222" stroke-width="1" /><line x1="71.40" y1="694.50" x2="74.60" y2="694.50" stroke="#222" stroke-width="1" /><line x1="525.40" y1="694.50" x2="522.20" y2="694.50" stroke="#222" stroke-width="1" /><line x1="71.40" y1="690.50" x2="74.60" y2="690.50" stroke="#222" stroke-width="1" /><line x1="525.40" y1="690.50" x2="522.20" y2="690.50" stroke="#222" stroke-width="1" /><line x1="71.40" y1="686.50" x2="74.60" y2="686.50" stroke="#222" stroke-width="1" /><line x1="525.40" y1="686.50" x2="522.20" y2="686.50" stroke="#222" stroke-width="1" /><line x1="71.40" y1="682.50" x2="77.90" y2="682.50" stroke="#222" stroke-width="1" /><line x1="525.40" y1="682.50" x2="518.90" y2="682.50" stroke="#222" stroke-width="1" /><line x1="71.40" y1="678.50" x2="74.60" y2="678.50" stroke="#222" stroke-width="1" /><line x1="525.40" y1="678.50" x2="522.20" y2="678.50" stroke="#222" stroke-width="1" /><line x1="71.40" y1="674.50" x2="74.60" y2="674.50" stroke="#222" stroke-width="1" /><line x1="525.40" y1="674.50" x2="522.20" y2="674.50" stroke="#222" stroke-width="1" /><line x1="71.40" y1="670.50" x2="74.60" y2="670.50" stroke="#222" stroke-width="1" /><line x1="525.40" y1="670.50" x2="522.20" y2="670.50" stroke="#222" stroke-width="1" /><line x1="71.40" y1="666.50" x2="74.60" y2="666.50" stroke="#222" stroke-width="1" /><line x1="525.40" y1="666.50" x2="522.20" y2="666.50" stroke="#222" stroke-width="1" /><line x1="71.40" y1="662.50" x2="77.90" y2="662.50" stroke="#222" stroke-width="1" /><line x1="525.40" y1="662.50" x2="518.90" y2="662.50" stroke="#222" stroke-width="1" /><line x1="71.40" y1="658.50" x2="74.60" y2="658.50" stroke="#222" stroke-width="1" /><line x1="525.40" y1="658.50" x2="522.20" y2="658.50" stroke="#222" stroke-width="1" /><text x="527.90" y="666.20" font-size="10.7" text-anchor="start" fill="#000" >1.5</text><text x="527.90" y="686.20" font-size="10.7" text-anchor="start" fill="#000" >1.0</text><text x="527.90" y="706.20" font-size="10.7" text-anchor="start" fill="#000" >0.5</text><text x="527.90" y="726.20" font-size="10.7" text-anchor="start" fill="#000" >0.0</text><rect x="71.40" y="654.81" width="454.00" height="68.33" fill="none" stroke="#000" stroke-width="1.7"/><line x1="77.50" y1="660.40" x2="95.00" y2="660.40" stroke="#50ff50" stroke-width="1.0"/><text x="96.3" y="664.0" font-size="10" fill="#70e020">P<tspan font-size="7" dy="3.2">n</tspan></text><line x1="77.50" y1="671.80" x2="95.00" y2="671.80" stroke="#ff6060" stroke-width="1.0"/><text x="96.3" y="675.4" font-size="10" fill="#ff2020">P<tspan font-size="7" dy="3.2">e</tspan></text><line x1="77.50" y1="683.10" x2="95.00" y2="683.10" stroke="#555" stroke-width="1.0"/><text x="96.3" y="686.7" font-size="10" fill="#201010">P<tspan font-size="7" dy="3.2">B</tspan></text><line x1="77.50" y1="694.50" x2="95.00" y2="694.50" stroke="#4040ff" stroke-width="1.0"/><text x="96.3" y="698.1" font-size="10" fill="#1010ff">P<tspan font-size="7" dy="3.2">tot</tspan></text><text transform="translate(561.50,689.00) rotate(-90)" font-size="11" text-anchor="middle" fill="#000">P [nPa]</text><text x="140.60" y="739.80" font-size="11" text-anchor="middle" fill="#000" >19:04:30</text><text x="220.67" y="739.80" font-size="11" text-anchor="middle" fill="#000" >19:05:00</text><text x="300.74" y="739.80" font-size="11" text-anchor="middle" fill="#000" >19:05:30</text><text x="380.81" y="739.80" font-size="11" text-anchor="middle" fill="#000" >19:06:00</text><text x="460.88" y="739.80" font-size="11" text-anchor="middle" fill="#000" >19:06:30</text><text x="49.50" y="760.80" font-size="11" text-anchor="start" fill="#000" >X</text><text x="140.60" y="760.80" font-size="11" text-anchor="middle" fill="#000" >1.98</text><text x="220.67" y="760.80" font-size="11" text-anchor="middle" fill="#000" >1.99</text><text x="300.74" y="760.80" font-size="11" text-anchor="middle" fill="#000" >1.99</text><text x="380.81" y="760.80" font-size="11" text-anchor="middle" fill="#000" >2</text><text x="460.88" y="760.80" font-size="11" text-anchor="middle" fill="#000" >2</text><text x="539.00" y="760.80" font-size="11" text-anchor="start" fill="#000" >Re</text><text x="49.50" y="778.90" font-size="11" text-anchor="start" fill="#000" >Y</text><text x="140.60" y="778.90" font-size="11" text-anchor="middle" fill="#000" >-11.3</text><text x="220.67" y="778.90" font-size="11" text-anchor="middle" fill="#000" >-11.3</text><text x="300.74" y="778.90" font-size="11" text-anchor="middle" fill="#000" >-11.3</text><text x="380.81" y="778.90" font-size="11" text-anchor="middle" fill="#000" >-11.3</text><text x="460.88" y="778.90" font-size="11" text-anchor="middle" fill="#000" >-11.3</text><text x="539.00" y="778.90" font-size="11" text-anchor="start" fill="#000" >Re</text><text x="49.50" y="796.90" font-size="11" text-anchor="start" fill="#000" >Z</text><text x="140.60" y="796.90" font-size="11" text-anchor="middle" fill="#000" >-1.19</text><text x="220.67" y="796.90" font-size="11" text-anchor="middle" fill="#000" >-1.19</text><text x="300.74" y="796.90" font-size="11" text-anchor="middle" fill="#000" >-1.19</text><text x="380.81" y="796.90" font-size="11" text-anchor="middle" fill="#000" >-1.19</text><text x="460.88" y="796.90" font-size="11" text-anchor="middle" fill="#000" >-1.19</text><text x="539.00" y="796.90" font-size="11" text-anchor="start" fill="#000" >Re</text><text x="29.30" y="11.60" font-size="11" text-anchor="start" fill="#000" >Plot Layout GP 19/10/2018</text><text x="271.20" y="26.30" font-size="18" text-anchor="start" fill="#000" >MMS2</text><text x="399.60" y="23.60" font-size="18" text-anchor="start" fill="#9a0000" font-weight="bold" >20160217_190404</text><text x="590.00" y="837.20" font-size="12" text-anchor="end" fill="#000" >paschmann 25-Oct-2018 13:59</text><defs><clipPath id="cm0"><rect x="668.80" y="41.80" width="453.70" height="73.84"/></clipPath><clipPath id="cm1"><rect x="668.80" y="115.64" width="453.70" height="73.84"/></clipPath><clipPath id="cm2"><rect x="668.80" y="189.48" width="453.70" height="73.84"/></clipPath><clipPath id="cm3"><rect x="668.80" y="263.32" width="453.70" height="73.84"/></clipPath><clipPath id="cm4"><rect x="668.80" y="337.16" width="453.70" height="73.84"/></clipPath><clipPath id="cm5"><rect x="668.80" y="411.00" width="453.70" height="73.84"/></clipPath><clipPath id="cm6"><rect x="668.80" y="484.84" width="453.70" height="73.84"/></clipPath><clipPath id="cm7"><rect x="668.80" y="558.68" width="453.70" height="73.84"/></clipPath><clipPath id="cm8"><rect x="668.80" y="632.52" width="453.70" height="73.84"/></clipPath></defs><line x1="733.60" y1="47.80" x2="733.60" y2="115.64" stroke="#00aa00" stroke-width="1.3" stroke-dasharray="10 4.4"/><line x1="900.40" y1="47.80" x2="900.40" y2="115.64" stroke="#00aa00" stroke-width="1.3" stroke-dasharray="10 4.4"/><line x1="775.40" y1="47.80" x2="775.40" y2="115.64" stroke="#ff4848" stroke-width="1.7" stroke-dasharray="11 4"/><line x1="858.70" y1="47.80" x2="858.70" y2="115.64" stroke="#ff0000" stroke-width="1.3" stroke-dasharray="11 4"/><line x1="771.80" y1="47.80" x2="771.80" y2="115.64" stroke="#0000ff" stroke-width="1.3" stroke-dasharray="2 3.4"/><line x1="826.60" y1="47.80" x2="826.60" y2="115.64" stroke="#ff00ff" stroke-width="1.5" stroke-dasharray="2 3.4"/><line x1="944.30" y1="47.80" x2="944.30" y2="115.64" stroke="#ff00ff" stroke-width="1.5" stroke-dasharray="2 3.4"/><g clip-path="url(#cm0)"><path d="M669.2 64.5l1-.5 1-2.4 1-1 1 .8 1 1.4 1-.2 1-.8 1 0 1-.1 1 .2 1-.7 1 .3 1 1.1 1 1.3 1 .3 1 1.3 1 .9 1 1.4 1-1.1 1-.2 1-2.6 1 .1 1-.5 1 .6 1 1.9 1 1.8 1-.7 1-.4 1-1.4 1-1.4 1-.3 1-1.6 1 1.6 1 0 1 1.8 1-.1 1 .2 1-.1 1-1.2 1-.2 1-1.3 1 1 1-2.4 1-.6 1-2.1 1-.9 1-.7 1 .2 1-.6 1-.4 1-.6 1 1.5 1-2.7 1-2 1-.6 1-.9 1 1.5 1 1.4 1 .4 1 1.4 1 1.2 1 .7 1-1.2 1 .7 1-.3 1-2.2 1-.1 1 0 1 .5 1-1.7 1 .8 1 1.5 1 1.5 1-.1 1 3 1-1 1 1.6 1-.9 1-.3 1-.2 1-1.7 1-1.4 1-1.5 1-.6 1-1.3 1 1.7 1-2.6 1-.9 1 3.3 1 .7 1-.3 1 1.2 1-.7 1 .3 1 .7 1-.8 1-2.2 1 .9 1 2.7 1 3.1 1-2.2 1-5.7 1-6.4 1-2.1 1 1.5 1 4.1 1 6.8 1 4.7 1 3.4 1 4.1 1-.1 1 2.9 1 .2 1 .6 1 1.1 1-3.6 1-.1 1-.1 1-1.3 1-.4 1-2.4 1 1.2 1-.8 1 1.8 1 3.9 1 2.8 1 2.4 1 2.2 1 1.1 1-.7 1-1.9 1-3.4 1-5.3 1-2.6 1-4.4 1-2.8 1-1.2 1-.4 1-1.5 1-3.1 1 1.4 1 2.3 1 6.4 1 4.5 1 3.2 1 3.2 1 1.2 1 1.6 1 .2 1-1.9 1-1.3 1-2.1 1-2.4 1-2.9 1-.8 1 1 1 2.4 1 1.1 1 2.5 1-1.1 1-1 1-1.6 1-2 1 .5 1-2.3 1 1 1-1.2 1 .8 1-.5 1-.1 1-.3 1-2.4 1-.7 1-2.6 1-.9 1-1 1 .8 1 .5 1 0 1 .4 1 1.9 1 2 1 1.8 1 2.9 1 5.7 1 6.2 1 3.9 1 6.3 1 3.6 1-3.9 1-2.4 1 .2 1-1.1 1-.1 1-.8 1-.8 1 2.8 1-1.2 1 .5 1 1.4 1-.4 1-1.1 1-2.6 1-1.9 1-2.2 1-1.3 1 1.6 1 4.2 1 5.4 1 3.2 1 3.8 1 1.3 1-3.8 1-6 1-4 1-5.2 1-4.7 1 .1 1 1.9 1 1.2 1 2 1-2.3 1-2 1 0 1 .1 1-.6 1 1.1 1 1 1-1.7 1-.2 1-.2 1-.3 1-1 1 .3 1-1 1 .8 1 1.7 1-1.5 1 1.8 1 .5 1-2.6 1-.1 1-2.6 1-2.7 1-.3 1 .2 1 2.5 1 1.9 1 2.1 1 1.5 1 4 1 0 1-.1 1 2 1-.5 1-1.9 1-1 1-.6 1 .9 1-1.3 1-.7 1 .6 1-1.1 1-.4 1 .9 1-1 1-.4 1-1.3 1-.7 1-3 1-.9 1 .2 1 .4 1 1.3 1 2.9 1 .6 1 .4 1-1.6 1-.3 1-.6 1 .3 1-.3 1-.5 1 1.2 1-.6 1 1.9 1 0 1 1.6 1 .3 1 .4 1 .5 1 1.9 1-.1 1 .9 1 .3 1-1.4 1 1.7 1-.8 1 0 1-.5 1-2 1 .6 1 .3 1 .6 1 .7 1-.8 1 .1 1-1.4 1-3.9 1 3.4 1 .5 1 3.7 1 .7 1 1.3 1-1 1-1.5 1-1.9 1 .7 1-.1 1-.1 1-1.4 1 0 1-.2 1 .3 1-1.2 1 .1 1 .5 1-.8 1 1.9 1 .5 1 .7 1 1.4 1-.2 1-.5 1-.4 1 0 1-.1 1-.1 1-1.3 1-1.6 1-1.4 1 .2 1-.5 1-.1 1-1.7 1-1 1 .9 1-.9 1-.9 1 1.7 1-.5 1-.7 1 .2 1-.7 1 1.3 1-.5 1 .3 1 .4 1-.4 1 1.4 1 .2 1-.8 1-2.1 1 1.1 1 .2 1 1.3 1-.8 1 .7 1 1.8 1 1.4 1-.4 1 1.7 1-1.9 1 .5 1-.2 1-.6 1 1.1 1-1.9 1-.2 1 0 1-.5 1 .5 1-1.7 1 0 1-1.1 1 .6 1-1.1 1 0 1-1.3 1 1.5 1-.9 1 .9 1-.4 1-.3 1 .1 1-.9 1-1.3 1 .3 1-.1 1-1 1 1.2 1 .7 1-.6 1 0 1 .4 1 .6 1-1 1 1.1 1-.9 1 .9 1 .1 1-1.1 1 1.2 1-.3 1-1.4 1 .5 1-.2 1-.3 1 .9 1-.8 1 .6 1-.7 1 .6 1 1.5 1-.8 1-1.3 1 .4 1 .6 1-.8 1 1.8 1-.5 1 0 1 0 1-.6 1-.6 1-1.9 1 .2 1 .5 1-.2 1-.9 1-1.3 1 .9 1 .2 1-.8 1 1.7 1-1.6 1 .7 1-.7 1 1.3 1-1.4 1 .2" fill="none" stroke="#2828ff" stroke-width="0.9" /><path d="M669.2 58.7l1 0 1 3 1-1.3 1 .1 1 .3 1-.9 1-.6 1 .4 1-.9 1 .9 1-.3 1-.5 1 .9 1 1 1-.3 1 1.5 1 .1 1 .9 1-1.1 1 .4 1 .8 1 .3 1-1.1 1 1.9 1-1.3 1 1.2 1-1.1 1-.4 1-1 1 .3 1 1.4 1-2.3 1 1.2 1 0 1-.9 1 1.4 1 .6 1-.9 1-.2 1 .9 1-.7 1 1 1-1.2 1-1.1 1 1 1-.4 1 1.7 1 .3 1-.7 1-.6 1 .8 1-1.2 1 .8 1-1.6 1 .6 1 .3 1 0 1 3 1-.6 1-2 1 .2 1-2.5 1 1.4 1-.4 1-.6 1 1.1 1 1.7 1 .8 1-.5 1-.8 1-.1 1-.7 1 .4 1-.8 1-.2 1-1.5 1 .7 1 .1 1 .1 1 .8 1 .5 1-.2 1 2.3 1 .7 1-.7 1 .8 1-1.3 1-.7 1 .5 1 1.4 1-.4 1 .3 1 2.6 1 .2 1-.4 1-.3 1-2.5 1-.5 1 1 1 3.2 1 .5 1-.4 1-.9 1-.7 1-1.6 1-3.8 1-2.9 1-2.4 1-4.2 1-2.2 1 .1 1 1.4 1 3.8 1 3.5 1 1.2 1-.1 1-1 1-1.9 1 .7 1 1.3 1 4.2 1 2.4 1-.2 1 2.2 1 .3 1 .2 1-.5 1 .1 1 .2 1-1.5 1 1.7 1-.4 1-.2 1 .9 1 .6 1-.6 1 0 1-.7 1-.6 1 .5 1-1.8 1 .8 1-.6 1-.5 1 .1 1 .2 1 .5 1 .7 1 .9 1-.3 1 .1 1 1.3 1-1.6 1-1.2 1-.9 1-1.5 1 1.3 1-1 1-.2 1-.6 1 1.2 1-.7 1-.7 1-1.9 1-2.4 1-.9 1 2.2 1-.3 1 1.7 1 1.4 1 1.6 1 1.5 1 .3 1 1 1-.8 1 .7 1-1.6 1-2.4 1 .5 1-1.8 1-2.5 1-1 1 .1 1 3.3 1 4.1 1 2.7 1 2.1 1-1.4 1 1.7 1 .8 1 .2 1-.3 1-1.6 1-.8 1 .4 1 1.5 1-1.6 1-1.1 1-1.3 1 .4 1-1.6 1-1.3 1-2.4 1-3.8 1 .1 1 .3 1-.5 1 .7 1 2.3 1 3.6 1 5.8 1 .9 1-4.2 1-4.5 1-6.3 1-.5 1 1.1 1 2.5 1 2.7 1 1.9 1-1.2 1-1.7 1-.9 1-.4 1 2.6 1 .2 1 1.2 1 .5 1 .6 1-.9 1 1 1 .3 1-.5 1-.5 1 1.1 1 1.2 1-.7 1 1.6 1-1.5 1-1.4 1-.1 1-.1 1-.4 1-.9 1 .1 1 1.3 1-1.7 1-1 1-.8 1-1.3 1 1 1-.7 1 0 1-.6 1 .7 1 0 1-1.4 1-.6 1 1 1 .7 1-.5 1 .2 1-.7 1 1.3 1 1.8 1 .6 1 .1 1 .1 1-.4 1-1.4 1-1.2 1-.9 1 1.2 1 .1 1 .5 1 1.4 1-.6 1 .7 1 1 1-.7 1-.7 1 1.2 1 1 1-1.1 1-.1 1-1.5 1 1.4 1-2.4 1 .1 1 .1 1 1.4 1-.9 1-.2 1-.1 1 1 1-.7 1 0 1-.1 1 .2 1-1.9 1 1.6 1-1.7 1 3.2 1-.9 1 .7 1 .2 1 .5 1-.4 1-.5 1-.6 1-.2 1 .2 1-.4 1 .1 1-.3 1 1.3 1 .7 1-.8 1 1.4 1-.7 1 0 1-1.4 1 1.3 1 .4 1 .4 1-1.6 1 .5 1 .9 1 .2 1-.5 1 .6 1 .6 1-.5 1-.9 1 .1 1-2.2 1 .7 1-1 1 .1 1 .9 1 1 1-.5 1 .1 1 1.2 1-.5 1-2.2 1 .6 1-.4 1-.3 1-.6 1 1.5 1 .1 1 1.4 1-.9 1 .6 1-.2 1 1.3 1 .4 1 .4 1-.3 1-1 1 1.2 1-1.3 1 .2 1 .3 1 1.6 1-1.8 1-.3 1 .7 1 .6 1-.6 1-.2 1-1.2 1 0 1 .9 1-.9 1-.5 1 .2 1 1.4 1 .6 1-.4 1-.5 1 2 1-1.1 1 .7 1 .5 1 .1 1 .1 1 1.5 1-.6 1-1 1 .7 1 1.5 1-.8 1-.4 1 1.3 1-.2 1-.3 1 .3 1-.7 1 .2 1 .1 1-1 1 1 1-1.8 1 1.7 1-1.5 1-.3 1-1.6 1 .8 1-1.4 1 .4 1-.7 1-.9 1 1.3 1-1.2 1-.6 1 .1 1 .7 1 .2 1 1 1-.5 1 .8 1-.2 1-.1 1 1 1-1 1-.6 1 1.4 1-.7 1 .6 1 .1 1 0 1-.2 1 1.1 1-1.6 1 1.5 1-.6 1 .4 1-.2 1 1 1 .1 1-.4 1 .5 1 .5 1-.3 1 1.8 1-1 1-.6 1 1 1-.4" fill="none" stroke="#28ff28" stroke-width="0.9" /><path d="M669.2 111.4l1-2.2 1 .9 1-.4 1-.4 1 .2 1 0 1 .3 1 .4 1 .4 1-.5 1 .5 1-.4 1-.2 1-.3 1-.5 1-.4 1 1 1 0 1 .3 1 0 1-1.1 1 .2 1-.4 1 1.3 1-.8 1 0 1-.8 1-.4 1 .3 1 .2 1 .3 1-1.4 1 1.1 1-.6 1 .2 1 .3 1 .1 1 .7 1 .4 1-.3 1-.6 1 .5 1-.1 1 .2 1-.5 1-1.5 1 .3 1-.1 1 .5 1-1.1 1 .4 1-.7 1-1.2 1 .7 1 .4 1 0 1-1.2 1 1.2 1-.6 1-1.1 1 .8 1-1 1 .3 1 1.7 1 .7 1-1 1-.5 1 .9 1-1 1-.9 1-.9 1 2.2 1-1.8 1-.3 1 1.7 1 .8 1-.3 1 1.4 1-.6 1 0 1 0 1-.9 1 .4 1 1.3 1-2.1 1 1 1 .8 1-.1 1 .7 1-.9 1 .6 1-.2 1 0 1-.7 1-1.6 1-.5 1 2.3 1-.2 1-1.8 1 .3 1-1.6 1-1.1 1-1.7 1 1 1 2.8 1 3.5 1 2 1 0 1-1 1-.5 1 .5 1 .8 1-.8 1-1.7 1 .5 1-.8 1-.6 1 1 1 .2 1-.1 1 .9 1 .7 1 1.1 1-1.2 1 1 1 .1 1 .1 1-.9 1 1.3 1-.4 1-.4 1-1.2 1 .5 1-.3 1 .8 1-.2 1 .8 1-.2 1-.9 1-.4 1-1.4 1-1 1-.4 1-.7 1 1.4 1-.3 1-.3 1 .6 1 .5 1 2.3 1-.2 1 .4 1-.5 1-.8 1 .1 1-1.5 1 2.4 1-1 1 1.9 1-.5 1 2.3 1-1.2 1 .4 1-.8 1-.4 1-1 1-.8 1-1.1 1 .7 1-2.1 1-.2 1-.5 1 .5 1-.3 1 .8 1 1.2 1-.2 1 1.2 1-.1 1 1.9 1-.6 1 1.3 1-1.2 1-1.3 1-.4 1-.9 1-.4 1 0 1 .6 1-.1 1 2.3 1-.5 1 0 1 .1 1-1.9 1 .8 1 .4 1-1.6 1-1 1 .7 1-.8 1 .6 1 .7 1-.9 1 2 1-.7 1 .3 1 0 1-2.6 1-1.4 1-1.6 1-.9 1-.9 1 .1 1 .8 1 1.8 1 2.5 1 0 1 .7 1 1.4 1-.5 1 .3 1 1.9 1-.1 1-.9 1 1.3 1 2.1 1 .9 1-1.9 1 .7 1 .3 1-.2 1-1.3 1 1.9 1-.3 1-.2 1-.9 1 .7 1 .4 1 0 1 .3 1-.5 1 .6 1-.8 1-1.8 1-.3 1 .1 1-.9 1 1.1 1-1.3 1 .4 1 .2 1-1.2 1 1.4 1-1.2 1-.6 1-.4 1-1 1-.1 1 1.6 1-1.2 1-.2 1 .5 1 .6 1-.5 1 .7 1 .5 1 .3 1-.8 1 .5 1-1.6 1-.6 1-1 1 .8 1 .6 1-.4 1 .3 1-.4 1 .3 1 .1 1 .1 1 .7 1-.4 1 .1 1-.1 1-1.4 1 .7 1-1.4 1-1.4 1 .2 1 .4 1-.7 1 2.9 1-.9 1 1.1 1-.8 1 1.5 1 .9 1 .1 1 1.3 1 .3 1 .7 1-.7 1 1.5 1-.3 1-.3 1-1.1 1 .8 1-1 1 .6 1-3.5 1 .8 1-.4 1-.7 1 0 1 .3 1-1.1 1 2.2 1-.8 1-.1 1 .8 1-1.4 1 1.2 1 .5 1 0 1 1.6 1 1 1-.9 1-.1 1 .5 1-.5 1 .3 1 .1 1-.7 1-.4 1 0 1-.2 1 .2 1-1.4 1 .4 1 .6 1 1 1-.9 1 1.9 1 .4 1-1.3 1 1.4 1-2 1 1.4 1-.9 1 1.7 1-.1 1-.5 1-1 1-.7 1 .7 1-.7 1 .7 1-1.4 1 1.5 1 .4 1-1.6 1 .9 1 .6 1 .2 1-.6 1 1.3 1-.6 1 .7 1-1 1 .4 1 1.3 1-1.6 1 1 1 .9 1-.5 1-1.5 1 2.2 1-1.9 1 .8 1 0 1-.9 1 .4 1-2.3 1 1.7 1 .1 1-.4 1 .2 1 .7 1-.1 1-.9 1 1 1 .4 1-.6 1 .3 1-1.8 1 .5 1 1.3 1-1.1 1 1.4 1 .3 1-1.5 1-.2 1 .6 1 .2 1 .4 1-.8 1 0 1-.9 1 .7 1-.8 1 1.1 1-.2 1-1.5 1 1.5 1-.6 1 1.7 1-.9 1 1.8 1 .1 1 .6 1-1.2 1-.4 1 .6 1-1.8 1 .5 1-.2 1 .1 1-1 1 0 1 .1 1 2.2 1-.9 1 .7 1-.3 1 0 1 1.1 1-2.3 1 1.3 1-.3 1 0 1-.5 1 .1 1 .2 1 1.6 1-1.1 1 .1 1 .2 1 .5 1 .3 1-.5" fill="none" stroke="#ff2828" stroke-width="0.9" /></g><line x1="668.80" y1="69.90" x2="1122.50" y2="69.90" stroke="#000" stroke-width="1.7" stroke-dasharray="5.2 3.1"/><line x1="684.22" y1="41.80" x2="684.22" y2="45.80" stroke="#222" stroke-width="1.0" /><line x1="684.22" y1="115.64" x2="684.22" y2="111.64" stroke="#222" stroke-width="1.0" /><line x1="710.96" y1="41.80" x2="710.96" y2="45.80" stroke="#222" stroke-width="1.0" /><line x1="710.96" y1="115.64" x2="710.96" y2="111.64" stroke="#222" stroke-width="1.0" /><line x1="737.70" y1="41.80" x2="737.70" y2="52.80" stroke="#222" stroke-width="1.3" /><line x1="737.70" y1="115.64" x2="737.70" y2="104.64" stroke="#222" stroke-width="1.3" /><line x1="764.44" y1="41.80" x2="764.44" y2="45.80" stroke="#222" stroke-width="1.0" /><line x1="764.44" y1="115.64" x2="764.44" y2="111.64" stroke="#222" stroke-width="1.0" /><line x1="791.18" y1="41.80" x2="791.18" y2="45.80" stroke="#222" stroke-width="1.0" /><line x1="791.18" y1="115.64" x2="791.18" y2="111.64" stroke="#222" stroke-width="1.0" /><line x1="817.92" y1="41.80" x2="817.92" y2="52.80" stroke="#222" stroke-width="1.3" /><line x1="817.92" y1="115.64" x2="817.92" y2="104.64" stroke="#222" stroke-width="1.3" /><line x1="844.66" y1="41.80" x2="844.66" y2="45.80" stroke="#222" stroke-width="1.0" /><line x1="844.66" y1="115.64" x2="844.66" y2="111.64" stroke="#222" stroke-width="1.0" /><line x1="871.40" y1="41.80" x2="871.40" y2="45.80" stroke="#222" stroke-width="1.0" /><line x1="871.40" y1="115.64" x2="871.40" y2="111.64" stroke="#222" stroke-width="1.0" /><line x1="898.14" y1="41.80" x2="898.14" y2="52.80" stroke="#222" stroke-width="1.3" /><line x1="898.14" y1="115.64" x2="898.14" y2="104.64" stroke="#222" stroke-width="1.3" /><line x1="924.88" y1="41.80" x2="924.88" y2="45.80" stroke="#222" stroke-width="1.0" /><line x1="924.88" y1="115.64" x2="924.88" y2="111.64" stroke="#222" stroke-width="1.0" /><line x1="951.62" y1="41.80" x2="951.62" y2="45.80" stroke="#222" stroke-width="1.0" /><line x1="951.62" y1="115.64" x2="951.62" y2="111.64" stroke="#222" stroke-width="1.0" /><line x1="978.36" y1="41.80" x2="978.36" y2="52.80" stroke="#222" stroke-width="1.3" /><line x1="978.36" y1="115.64" x2="978.36" y2="104.64" stroke="#222" stroke-width="1.3" /><line x1="1005.10" y1="41.80" x2="1005.10" y2="45.80" stroke="#222" stroke-width="1.0" /><line x1="1005.10" y1="115.64" x2="1005.10" y2="111.64" stroke="#222" stroke-width="1.0" /><line x1="1031.84" y1="41.80" x2="1031.84" y2="45.80" stroke="#222" stroke-width="1.0" /><line x1="1031.84" y1="115.64" x2="1031.84" y2="111.64" stroke="#222" stroke-width="1.0" /><line x1="1058.58" y1="41.80" x2="1058.58" y2="52.80" stroke="#222" stroke-width="1.3" /><line x1="1058.58" y1="115.64" x2="1058.58" y2="104.64" stroke="#222" stroke-width="1.3" /><line x1="1085.32" y1="41.80" x2="1085.32" y2="45.80" stroke="#222" stroke-width="1.0" /><line x1="1085.32" y1="115.64" x2="1085.32" y2="111.64" stroke="#222" stroke-width="1.0" /><line x1="1112.06" y1="41.80" x2="1112.06" y2="45.80" stroke="#222" stroke-width="1.0" /><line x1="1112.06" y1="115.64" x2="1112.06" y2="111.64" stroke="#222" stroke-width="1.0" /><line x1="668.80" y1="113.40" x2="672.00" y2="113.40" stroke="#222" stroke-width="1" /><line x1="1122.50" y1="113.40" x2="1119.30" y2="113.40" stroke="#222" stroke-width="1" /><line x1="668.80" y1="109.05" x2="672.00" y2="109.05" stroke="#222" stroke-width="1" /><line x1="1122.50" y1="109.05" x2="1119.30" y2="109.05" stroke="#222" stroke-width="1" /><line x1="668.80" y1="104.70" x2="675.30" y2="104.70" stroke="#222" stroke-width="1" /><line x1="1122.50" y1="104.70" x2="1116.00" y2="104.70" stroke="#222" stroke-width="1" /><line x1="668.80" y1="100.35" x2="672.00" y2="100.35" stroke="#222" stroke-width="1" /><line x1="1122.50" y1="100.35" x2="1119.30" y2="100.35" stroke="#222" stroke-width="1" /><line x1="668.80" y1="96.00" x2="672.00" y2="96.00" stroke="#222" stroke-width="1" /><line x1="1122.50" y1="96.00" x2="1119.30" y2="96.00" stroke="#222" stroke-width="1" /><line x1="668.80" y1="91.65" x2="672.00" y2="91.65" stroke="#222" stroke-width="1" /><line x1="1122.50" y1="91.65" x2="1119.30" y2="91.65" stroke="#222" stroke-width="1" /><line x1="668.80" y1="87.30" x2="675.30" y2="87.30" stroke="#222" stroke-width="1" /><line x1="1122.50" y1="87.30" x2="1116.00" y2="87.30" stroke="#222" stroke-width="1" /><line x1="668.80" y1="82.95" x2="672.00" y2="82.95" stroke="#222" stroke-width="1" /><line x1="1122.50" y1="82.95" x2="1119.30" y2="82.95" stroke="#222" stroke-width="1" /><line x1="668.80" y1="78.60" x2="672.00" y2="78.60" stroke="#222" stroke-width="1" /><line x1="1122.50" y1="78.60" x2="1119.30" y2="78.60" stroke="#222" stroke-width="1" /><line x1="668.80" y1="74.25" x2="672.00" y2="74.25" stroke="#222" stroke-width="1" /><line x1="1122.50" y1="74.25" x2="1119.30" y2="74.25" stroke="#222" stroke-width="1" /><line x1="668.80" y1="69.90" x2="675.30" y2="69.90" stroke="#222" stroke-width="1" /><line x1="1122.50" y1="69.90" x2="1116.00" y2="69.90" stroke="#222" stroke-width="1" /><line x1="668.80" y1="65.55" x2="672.00" y2="65.55" stroke="#222" stroke-width="1" /><line x1="1122.50" y1="65.55" x2="1119.30" y2="65.55" stroke="#222" stroke-width="1" /><line x1="668.80" y1="61.20" x2="672.00" y2="61.20" stroke="#222" stroke-width="1" /><line x1="1122.50" y1="61.20" x2="1119.30" y2="61.20" stroke="#222" stroke-width="1" /><line x1="668.80" y1="56.85" x2="672.00" y2="56.85" stroke="#222" stroke-width="1" /><line x1="1122.50" y1="56.85" x2="1119.30" y2="56.85" stroke="#222" stroke-width="1" /><line x1="668.80" y1="52.50" x2="675.30" y2="52.50" stroke="#222" stroke-width="1" /><line x1="1122.50" y1="52.50" x2="1116.00" y2="52.50" stroke="#222" stroke-width="1" /><line x1="668.80" y1="48.15" x2="672.00" y2="48.15" stroke="#222" stroke-width="1" /><line x1="1122.50" y1="48.15" x2="1119.30" y2="48.15" stroke="#222" stroke-width="1" /><line x1="668.80" y1="43.80" x2="672.00" y2="43.80" stroke="#222" stroke-width="1" /><line x1="1122.50" y1="43.80" x2="1119.30" y2="43.80" stroke="#222" stroke-width="1" /><text x="666.00" y="56.20" font-size="10.7" text-anchor="end" fill="#000" >20</text><text x="666.00" y="73.60" font-size="10.7" text-anchor="end" fill="#000" >0</text><text x="666.00" y="91.00" font-size="10.7" text-anchor="end" fill="#000" >-20</text><text x="666.00" y="108.40" font-size="10.7" text-anchor="end" fill="#000" >-40</text><rect x="668.80" y="41.80" width="453.70" height="73.84" fill="none" stroke="#000" stroke-width="1.35"/><line x1="674.50" y1="54.60" x2="692.00" y2="54.60" stroke="#3030ff" stroke-width="1.0"/><text x="693.5" y="58.2" font-size="10" fill="#3030ff">B<tspan font-size="7.5" dy="3">L</tspan></text><line x1="674.50" y1="79.70" x2="692.00" y2="79.70" stroke="#30ff30" stroke-width="1.0"/><text x="693.5" y="83.3" font-size="10" fill="#30ff30">B<tspan font-size="7.5" dy="3">M</tspan></text><line x1="674.50" y1="104.30" x2="692.00" y2="104.30" stroke="#ff3030" stroke-width="1.0"/><text x="693.5" y="107.9" font-size="10" fill="#ff3030">B<tspan font-size="7.5" dy="3">N</tspan></text><text transform="translate(638.80,78.80) rotate(-90)" font-size="11" text-anchor="middle" fill="#000">B<tspan font-size="8" dy="2.5">LMN</tspan><tspan dy="-2.5" font-size="1">&#8203;</tspan> [nT]</text><defs><linearGradient id="gele" gradientUnits="userSpaceOnUse" x1="0" y1="115.64" x2="0" y2="189.48"><stop offset="0.000" stop-color="#ff00ff"/><stop offset="0.235" stop-color="#f000ff"/><stop offset="0.303" stop-color="#8030ff"/><stop offset="0.343" stop-color="#2070ff"/><stop offset="0.384" stop-color="#00b0f8"/><stop offset="0.429" stop-color="#00e4e0"/><stop offset="0.465" stop-color="#00f888"/><stop offset="0.499" stop-color="#00ff20"/><stop offset="0.540" stop-color="#50ff00"/><stop offset="0.574" stop-color="#b8ff00"/><stop offset="0.605" stop-color="#ffff00"/><stop offset="0.641" stop-color="#ffc400"/><stop offset="0.682" stop-color="#ff8800"/><stop offset="0.723" stop-color="#ff4c00"/><stop offset="0.784" stop-color="#ff2c00"/><stop offset="0.838" stop-color="#ff4800"/><stop offset="0.878" stop-color="#ff8800"/><stop offset="0.919" stop-color="#ffc800"/><stop offset="0.960" stop-color="#fff000"/><stop offset="1.000" stop-color="#ffff00"/></linearGradient></defs><rect x="668.8" y="115.64" width="453.70" height="73.84" fill="url(#gele)"/><rect x="875.9" y="161" width="1.5" height="20" fill="#ff1000" opacity="0.07"/><rect x="840.9" y="161" width="1" height="20" fill="#ffb000" opacity="0.14"/><rect x="904.4" y="161" width="4" height="20" fill="#ff1000" opacity="0.16"/><rect x="895.1" y="161" width="3" height="20" fill="#ff1000" opacity="0.12"/><rect x="833.8" y="161" width="2" height="20" fill="#ffb000" opacity="0.15"/><rect x="832.8" y="161" width="3" height="20" fill="#ff1000" opacity="0.07"/><rect x="912.6" y="161" width="1" height="20" fill="#ff1000" opacity="0.11"/><rect x="959.3" y="161" width="3" height="20" fill="#ffb000" opacity="0.10"/><rect x="845.6" y="161" width="1" height="20" fill="#ffb000" opacity="0.07"/><rect x="1007.7" y="161" width="4" height="20" fill="#ff1000" opacity="0.11"/><rect x="987.6" y="161" width="4" height="20" fill="#ffb000" opacity="0.17"/><rect x="865.4" y="161" width="1.5" height="20" fill="#ff1000" opacity="0.07"/><rect x="963.2" y="161" width="4" height="20" fill="#ff1000" opacity="0.16"/><rect x="933.6" y="161" width="1" height="20" fill="#ff1000" opacity="0.05"/><rect x="891.6" y="161" width="3" height="20" fill="#ff1000" opacity="0.16"/><rect x="927.2" y="161" width="1.5" height="20" fill="#ffb000" opacity="0.12"/><rect x="870.7" y="161" width="1.5" height="20" fill="#ff1000" opacity="0.10"/><rect x="987.5" y="161" width="1" height="20" fill="#ff1000" opacity="0.08"/><rect x="843.0" y="161" width="3" height="20" fill="#ff1000" opacity="0.09"/><rect x="941.4" y="161" width="1" height="20" fill="#ff1000" opacity="0.14"/><rect x="946.6" y="161" width="1.5" height="20" fill="#ff1000" opacity="0.16"/><rect x="813.0" y="161" width="1" height="20" fill="#ff1000" opacity="0.09"/><rect x="1008.0" y="161" width="3" height="20" fill="#ff1000" opacity="0.16"/><rect x="983.1" y="161" width="2" height="20" fill="#ffb000" opacity="0.15"/><rect x="975.4" y="161" width="1" height="20" fill="#ffb000" opacity="0.07"/><rect x="801.3" y="161" width="2" height="20" fill="#ff1000" opacity="0.12"/><rect x="795.7" y="161" width="1.5" height="20" fill="#ffb000" opacity="0.10"/><rect x="970.0" y="161" width="3" height="20" fill="#ffb000" opacity="0.10"/><rect x="868.5" y="161" width="1" height="20" fill="#ff1000" opacity="0.16"/><rect x="992.7" y="161" width="3" height="20" fill="#ffb000" opacity="0.08"/><rect x="977.1" y="161" width="1.5" height="20" fill="#ff1000" opacity="0.14"/><rect x="808.8" y="161" width="2" height="20" fill="#ff1000" opacity="0.14"/><rect x="945.1" y="161" width="1.5" height="20" fill="#ffb000" opacity="0.09"/><rect x="954.1" y="161" width="1" height="20" fill="#ffb000" opacity="0.10"/><rect x="989.2" y="161" width="1" height="20" fill="#ff1000" opacity="0.09"/><rect x="939.1" y="161" width="2" height="20" fill="#ffb000" opacity="0.11"/><rect x="994.2" y="161" width="2" height="20" fill="#ffb000" opacity="0.16"/><rect x="877.1" y="161" width="4" height="20" fill="#ff1000" opacity="0.08"/><rect x="937.6" y="161" width="4" height="20" fill="#ff1000" opacity="0.13"/><rect x="884.0" y="161" width="3" height="20" fill="#ffb000" opacity="0.16"/><rect x="862.7" y="161" width="2" height="20" fill="#ff1000" opacity="0.09"/><rect x="976.4" y="161" width="1.5" height="20" fill="#ff1000" opacity="0.08"/><rect x="878.8" y="161" width="1.5" height="20" fill="#ffb000" opacity="0.15"/><rect x="862.7" y="161" width="3" height="20" fill="#ff1000" opacity="0.06"/><rect x="904.6" y="161" width="1" height="20" fill="#ff1000" opacity="0.09"/><rect x="936.3" y="161" width="1.5" height="20" fill="#ff1000" opacity="0.14"/><rect x="884.9" y="161" width="1.5" height="20" fill="#ffb000" opacity="0.14"/><rect x="951.3" y="161" width="3" height="20" fill="#ff1000" opacity="0.11"/><rect x="924.5" y="161" width="4" height="20" fill="#ffb000" opacity="0.07"/><rect x="789.6" y="161" width="1" height="20" fill="#ffb000" opacity="0.06"/><rect x="792.2" y="161" width="1" height="20" fill="#ffb000" opacity="0.09"/><rect x="1003.4" y="161" width="4" height="20" fill="#ff1000" opacity="0.09"/><rect x="955.2" y="161" width="3" height="20" fill="#ffb000" opacity="0.14"/><rect x="844.6" y="161" width="2" height="20" fill="#ff1000" opacity="0.16"/><rect x="987.9" y="161" width="3" height="20" fill="#ffb000" opacity="0.12"/><rect x="945.9" y="161" width="2" height="20" fill="#ffb000" opacity="0.07"/><rect x="889.2" y="161" width="3" height="20" fill="#ff1000" opacity="0.15"/><rect x="995.8" y="161" width="3" height="20" fill="#ff1000" opacity="0.16"/><rect x="985.1" y="161" width="3" height="20" fill="#ff1000" opacity="0.07"/><rect x="801.8" y="161" width="1.5" height="20" fill="#ffb000" opacity="0.11"/><rect x="810.8" y="161" width="3" height="20" fill="#ff1000" opacity="0.09"/><rect x="950.1" y="161" width="4" height="20" fill="#ff1000" opacity="0.11"/><rect x="927.5" y="161" width="4" height="20" fill="#ffb000" opacity="0.10"/><rect x="822.3" y="161" width="4" height="20" fill="#ff1000" opacity="0.10"/><rect x="795.7" y="161" width="4" height="20" fill="#ff1000" opacity="0.12"/><rect x="850.7" y="161" width="3" height="20" fill="#ff1000" opacity="0.13"/><rect x="879.0" y="161" width="1.5" height="20" fill="#ff1000" opacity="0.11"/><rect x="846.4" y="161" width="2" height="20" fill="#ff1000" opacity="0.12"/><rect x="829.6" y="161" width="4" height="20" fill="#ff1000" opacity="0.13"/><rect x="931.8" y="161" width="4" height="20" fill="#ff1000" opacity="0.14"/><path d="M668.8 116.8h3.0M672.8 116.8h1.0M680.8 116.8h1.0M687.8 116.8h1.0M701.8 116.8h1.0M703.8 116.8h1.0M710.8 116.8h1.0M717.8 116.8h2.0M726.8 116.8h2.0M735.8 116.8h1.0M737.8 116.8h1.0M741.8 116.8h1.0M745.8 116.8h1.0M748.8 116.8h1.0M750.8 116.8h1.0M752.8 116.8h1.0M754.8 116.8h1.0M758.8 116.8h1.0M764.8 116.8h1.0M768.8 116.8h1.0M771.8 116.8h1.0M774.8 116.8h1.0M776.8 116.8h1.0M781.8 116.8h1.0M783.8 116.8h1.0M791.8 116.8h1.0M798.8 116.8h1.0M803.8 116.8h1.0M805.8 116.8h1.0M809.8 116.8h2.0M813.8 116.8h2.0M820.8 116.8h2.0M823.8 116.8h1.0M830.8 116.8h1.0M840.8 116.8h1.0M842.8 116.8h2.0M849.8 116.8h1.0M855.8 116.8h1.0M870.8 116.8h1.0M877.8 116.8h3.0M885.8 116.8h1.0M887.8 116.8h1.0M889.8 116.8h1.0M893.8 116.8h2.0M897.8 116.8h1.0M900.8 116.8h1.0M903.8 116.8h1.0M910.8 116.8h1.0M912.8 116.8h1.0M914.8 116.8h1.0M923.8 116.8h1.0M925.8 116.8h1.0M928.8 116.8h1.0M931.8 116.8h1.0M933.8 116.8h1.0M938.8 116.8h1.0M941.8 116.8h1.0M944.8 116.8h1.0M946.8 116.8h2.0M952.8 116.8h1.0M956.8 116.8h1.0M963.8 116.8h2.0M970.8 116.8h1.0M975.8 116.8h1.0M977.8 116.8h1.0M983.8 116.8h1.0M985.8 116.8h1.0M993.8 116.8h1.0M995.8 116.8h1.0M999.8 116.8h1.0M1008.8 116.8h2.0M1011.8 116.8h1.0M1013.8 116.8h1.0M1023.8 116.8h1.0M1035.8 116.8h1.0M1038.8 116.8h1.0M1043.8 116.8h1.0M1047.8 116.8h1.0M1052.8 116.8h1.0M1057.8 116.8h1.0M1059.8 116.8h1.0M1062.8 116.8h1.0M1069.8 116.8h1.0M1071.8 116.8h2.0M1087.8 116.8h1.0M1090.8 116.8h1.0M1101.8 116.8h1.0M1109.8 116.8h1.0M1111.8 116.8h1.0M1115.8 116.8h1.0M1120.8 116.8h1.0M677.8 119.1h1.0M692.8 119.1h1.0M700.8 119.1h4.0M710.8 119.1h1.0M717.8 119.1h1.0M731.8 119.1h2.0M735.8 119.1h1.0M742.8 119.1h1.0M750.8 119.1h1.0M752.8 119.1h2.0M757.8 119.1h4.0M763.8 119.1h1.0M765.8 119.1h1.0M773.8 119.1h1.0M775.8 119.1h1.0M791.8 119.1h1.0M801.8 119.1h1.0M810.8 119.1h1.0M815.8 119.1h1.0M817.8 119.1h3.0M824.8 119.1h3.0M828.8 119.1h1.0M835.8 119.1h1.0M840.8 119.1h1.0M843.8 119.1h2.0M847.8 119.1h1.0M849.8 119.1h2.0M853.8 119.1h1.0M857.8 119.1h1.0M863.8 119.1h1.0M869.8 119.1h1.0M873.8 119.1h2.0M878.8 119.1h1.0M880.8 119.1h3.0M885.8 119.1h5.0M902.8 119.1h2.0M909.8 119.1h1.0M912.8 119.1h1.0M917.8 119.1h2.0M921.8 119.1h2.0M929.8 119.1h1.0M938.8 119.1h1.0M946.8 119.1h1.0M950.8 119.1h1.0M952.8 119.1h1.0M961.8 119.1h1.0M964.8 119.1h1.0M974.8 119.1h1.0M976.8 119.1h1.0M988.8 119.1h1.0M997.8 119.1h1.0M1000.8 119.1h1.0M1005.8 119.1h1.0M1008.8 119.1h2.0M1022.8 119.1h1.0M1031.8 119.1h2.0M1034.8 119.1h2.0M1038.8 119.1h1.0M1040.8 119.1h3.0M1046.8 119.1h1.0M1050.8 119.1h2.0M1054.8 119.1h1.0M1056.8 119.1h1.0M1066.8 119.1h3.0M1075.8 119.1h1.0M1081.8 119.1h3.0M1087.8 119.1h2.0M1091.8 119.1h2.0M1097.8 119.1h1.0M1100.8 119.1h2.0M1105.8 119.1h1.0M1108.8 119.1h1.0M1110.8 119.1h1.0M1116.8 119.1h1.0M1118.8 119.1h1.0M1121.8 119.1h1.0M672.8 121.4h1.0M674.8 121.4h2.0M679.8 121.4h1.0M685.8 121.4h1.0M688.8 121.4h2.0M693.8 121.4h1.0M698.8 121.4h1.0M700.8 121.4h3.0M707.8 121.4h1.0M709.8 121.4h1.0M718.8 121.4h1.0M731.8 121.4h1.0M736.8 121.4h3.0M740.8 121.4h1.0M742.8 121.4h2.0M745.8 121.4h4.0M752.8 121.4h1.0M754.8 121.4h1.0M758.8 121.4h1.0M760.8 121.4h1.0M762.8 121.4h1.0M773.8 121.4h1.0M776.8 121.4h2.0M784.8 121.4h1.0M789.8 121.4h1.0M791.8 121.4h1.0M798.8 121.4h1.0M802.8 121.4h2.0M805.8 121.4h3.0M813.8 121.4h2.0M819.8 121.4h1.0M822.8 121.4h1.0M824.8 121.4h1.0M826.8 121.4h1.0M829.8 121.4h1.0M831.8 121.4h1.0M837.8 121.4h2.0M846.8 121.4h1.0M849.8 121.4h2.0M859.8 121.4h2.0M872.8 121.4h1.0M877.8 121.4h2.0M882.8 121.4h2.0M887.8 121.4h1.0M890.8 121.4h2.0M893.8 121.4h1.0M896.8 121.4h1.0M898.8 121.4h2.0M903.8 121.4h2.0M910.8 121.4h3.0M921.8 121.4h1.0M931.8 121.4h1.0M933.8 121.4h2.0M936.8 121.4h1.0M944.8 121.4h1.0M947.8 121.4h1.0M953.8 121.4h1.0M956.8 121.4h3.0M961.8 121.4h2.0M964.8 121.4h1.0M968.8 121.4h1.0M971.8 121.4h1.0M975.8 121.4h1.0M977.8 121.4h1.0M983.8 121.4h6.0M992.8 121.4h1.0M999.8 121.4h1.0M1009.8 121.4h1.0M1011.8 121.4h1.0M1013.8 121.4h1.0M1016.8 121.4h2.0M1023.8 121.4h2.0M1029.8 121.4h1.0M1032.8 121.4h1.0M1037.8 121.4h1.0M1051.8 121.4h1.0M1053.8 121.4h2.0M1059.8 121.4h3.0M1067.8 121.4h1.0M1076.8 121.4h1.0M1078.8 121.4h1.0M1082.8 121.4h1.0M1092.8 121.4h1.0M1095.8 121.4h2.0M1100.8 121.4h1.0M1104.8 121.4h1.0M1112.8 121.4h1.0M1114.8 121.4h1.0M1116.8 121.4h2.0M673.8 123.7h2.0M676.8 123.7h1.0M679.8 123.7h1.0M683.8 123.7h1.0M687.8 123.7h2.0M696.8 123.7h1.0M706.8 123.7h1.0M708.8 123.7h2.0M716.8 123.7h1.0M720.8 123.7h1.0M723.8 123.7h3.0M732.8 123.7h5.0M739.8 123.7h2.0M743.8 123.7h1.0M746.8 123.7h1.0M751.8 123.7h2.0M754.8 123.7h1.0M756.8 123.7h1.0M758.8 123.7h3.0M765.8 123.7h2.0M768.8 123.7h1.0M772.8 123.7h1.0M774.8 123.7h1.0M777.8 123.7h1.0M779.8 123.7h2.0M786.8 123.7h1.0M791.8 123.7h1.0M794.8 123.7h1.0M810.8 123.7h1.0M812.8 123.7h1.0M816.8 123.7h1.0M828.8 123.7h3.0M839.8 123.7h1.0M841.8 123.7h1.0M849.8 123.7h1.0M852.8 123.7h2.0M859.8 123.7h1.0M866.8 123.7h1.0M869.8 123.7h1.0M877.8 123.7h1.0M881.8 123.7h1.0M893.8 123.7h2.0M896.8 123.7h1.0M899.8 123.7h1.0M913.8 123.7h1.0M916.8 123.7h2.0M919.8 123.7h4.0M925.8 123.7h2.0M929.8 123.7h1.0M931.8 123.7h1.0M933.8 123.7h2.0M946.8 123.7h1.0M950.8 123.7h1.0M957.8 123.7h1.0M962.8 123.7h3.0M970.8 123.7h2.0M975.8 123.7h1.0M980.8 123.7h1.0M982.8 123.7h2.0M988.8 123.7h1.0M990.8 123.7h1.0M995.8 123.7h1.0M1001.8 123.7h2.0M1006.8 123.7h1.0M1011.8 123.7h1.0M1014.8 123.7h1.0M1017.8 123.7h1.0M1022.8 123.7h3.0M1027.8 123.7h1.0M1035.8 123.7h3.0M1046.8 123.7h1.0M1051.8 123.7h1.0M1053.8 123.7h1.0M1057.8 123.7h1.0M1060.8 123.7h2.0M1075.8 123.7h1.0M1078.8 123.7h1.0M1082.8 123.7h1.0M1084.8 123.7h1.0M1090.8 123.7h2.0M1095.8 123.7h1.0M1097.8 123.7h1.0M1112.8 123.7h1.0M1115.8 123.7h1.0M1117.8 123.7h1.0M1119.8 123.7h1.0M668.8 126.0h1.0M670.8 126.0h5.0M678.8 126.0h1.0M686.8 126.0h1.0M692.8 126.0h1.0M696.8 126.0h1.0M702.8 126.0h1.0M710.8 126.0h3.0M715.8 126.0h1.0M718.8 126.0h1.0M720.8 126.0h1.0M729.8 126.0h1.0M734.8 126.0h1.0M736.8 126.0h2.0M743.8 126.0h4.0M750.8 126.0h1.0M755.8 126.0h2.0M758.8 126.0h2.0M761.8 126.0h2.0M765.8 126.0h1.0M768.8 126.0h1.0M771.8 126.0h2.0M774.8 126.0h1.0M777.8 126.0h1.0M779.8 126.0h1.0M781.8 126.0h1.0M787.8 126.0h1.0M789.8 126.0h1.0M802.8 126.0h1.0M806.8 126.0h1.0M810.8 126.0h1.0M816.8 126.0h1.0M823.8 126.0h1.0M833.8 126.0h2.0M837.8 126.0h3.0M846.8 126.0h3.0M852.8 126.0h2.0M863.8 126.0h1.0M865.8 126.0h1.0M867.8 126.0h1.0M870.8 126.0h1.0M872.8 126.0h1.0M876.8 126.0h1.0M878.8 126.0h4.0M883.8 126.0h1.0M897.8 126.0h1.0M899.8 126.0h1.0M903.8 126.0h1.0M905.8 126.0h2.0M908.8 126.0h1.0M912.8 126.0h2.0M918.8 126.0h2.0M922.8 126.0h1.0M929.8 126.0h1.0M931.8 126.0h1.0M936.8 126.0h2.0M939.8 126.0h1.0M942.8 126.0h1.0M950.8 126.0h2.0M955.8 126.0h1.0M959.8 126.0h1.0M965.8 126.0h2.0M969.8 126.0h1.0M971.8 126.0h1.0M977.8 126.0h1.0M980.8 126.0h1.0M990.8 126.0h2.0M993.8 126.0h1.0M1002.8 126.0h4.0M1009.8 126.0h1.0M1011.8 126.0h1.0M1014.8 126.0h3.0M1026.8 126.0h1.0M1033.8 126.0h1.0M1035.8 126.0h1.0M1040.8 126.0h2.0M1045.8 126.0h2.0M1049.8 126.0h5.0M1062.8 126.0h1.0M1064.8 126.0h1.0M1067.8 126.0h1.0M1070.8 126.0h2.0M1074.8 126.0h1.0M1079.8 126.0h2.0M1082.8 126.0h4.0M1092.8 126.0h1.0M1100.8 126.0h1.0M1104.8 126.0h2.0M1108.8 126.0h1.0M1112.8 126.0h1.0M1114.8 126.0h1.0M668.8 128.3h1.0M671.8 128.3h1.0M676.8 128.3h1.0M679.8 128.3h1.0M685.8 128.3h1.0M690.8 128.3h1.0M692.8 128.3h1.0M698.8 128.3h1.0M701.8 128.3h1.0M710.8 128.3h1.0M714.8 128.3h4.0M719.8 128.3h2.0M724.8 128.3h1.0M728.8 128.3h1.0M730.8 128.3h1.0M733.8 128.3h1.0M735.8 128.3h1.0M737.8 128.3h1.0M739.8 128.3h2.0M744.8 128.3h1.0M747.8 128.3h2.0M754.8 128.3h3.0M759.8 128.3h2.0M762.8 128.3h2.0M765.8 128.3h3.0M769.8 128.3h1.0M774.8 128.3h1.0M778.8 128.3h1.0M781.8 128.3h1.0M789.8 128.3h1.0M792.8 128.3h1.0M796.8 128.3h1.0M804.8 128.3h1.0M811.8 128.3h2.0M814.8 128.3h1.0M817.8 128.3h1.0M820.8 128.3h2.0M827.8 128.3h1.0M829.8 128.3h1.0M832.8 128.3h4.0M837.8 128.3h2.0M840.8 128.3h5.0M852.8 128.3h1.0M854.8 128.3h1.0M858.8 128.3h1.0M860.8 128.3h3.0M866.8 128.3h3.0M870.8 128.3h1.0M874.8 128.3h1.0M878.8 128.3h1.0M880.8 128.3h3.0M888.8 128.3h1.0M890.8 128.3h1.0M894.8 128.3h1.0M897.8 128.3h1.0M901.8 128.3h1.0M903.8 128.3h1.0M908.8 128.3h1.0M911.8 128.3h4.0M918.8 128.3h1.0M922.8 128.3h1.0M927.8 128.3h1.0M934.8 128.3h3.0M940.8 128.3h1.0M943.8 128.3h1.0M950.8 128.3h1.0M953.8 128.3h2.0M959.8 128.3h1.0M963.8 128.3h2.0M967.8 128.3h2.0M972.8 128.3h2.0M976.8 128.3h1.0M982.8 128.3h1.0M985.8 128.3h1.0M987.8 128.3h1.0M989.8 128.3h1.0M993.8 128.3h1.0M1005.8 128.3h1.0M1010.8 128.3h2.0M1017.8 128.3h3.0M1022.8 128.3h1.0M1025.8 128.3h4.0M1034.8 128.3h1.0M1040.8 128.3h1.0M1043.8 128.3h1.0M1046.8 128.3h1.0M1049.8 128.3h1.0M1051.8 128.3h1.0M1055.8 128.3h5.0M1061.8 128.3h2.0M1066.8 128.3h2.0M1069.8 128.3h1.0M1072.8 128.3h2.0M1076.8 128.3h1.0M1078.8 128.3h1.0M1080.8 128.3h1.0M1082.8 128.3h2.0M1085.8 128.3h1.0M1091.8 128.3h2.0M1096.8 128.3h2.0M1099.8 128.3h1.0M1102.8 128.3h1.0M1104.8 128.3h1.0M1111.8 128.3h2.0M1115.8 128.3h1.0M1120.8 128.3h1.0M673.8 130.7h1.0M676.8 130.7h1.0M679.8 130.7h1.0M688.8 130.7h1.0M691.8 130.7h1.0M694.8 130.7h1.0M699.8 130.7h1.0M702.8 130.7h1.0M704.8 130.7h5.0M711.8 130.7h1.0M713.8 130.7h1.0M716.8 130.7h2.0M721.8 130.7h1.0M723.8 130.7h3.0M730.8 130.7h1.0M737.8 130.7h1.0M739.8 130.7h1.0M743.8 130.7h1.0M746.8 130.7h2.0M749.8 130.7h1.0M751.8 130.7h1.0M753.8 130.7h3.0M760.8 130.7h1.0M763.8 130.7h1.0M766.8 130.7h1.0M768.8 130.7h1.0M770.8 130.7h1.0M778.8 130.7h1.0M783.8 130.7h1.0M785.8 130.7h1.0M792.8 130.7h1.0M794.8 130.7h2.0M798.8 130.7h1.0M800.8 130.7h2.0M804.8 130.7h3.0M808.8 130.7h2.0M816.8 130.7h1.0M818.8 130.7h1.0M820.8 130.7h3.0M824.8 130.7h1.0M828.8 130.7h1.0M830.8 130.7h1.0M833.8 130.7h1.0M835.8 130.7h1.0M838.8 130.7h1.0M840.8 130.7h3.0M845.8 130.7h2.0M848.8 130.7h3.0M852.8 130.7h2.0M855.8 130.7h2.0M858.8 130.7h1.0M863.8 130.7h2.0M876.8 130.7h2.0M882.8 130.7h2.0M886.8 130.7h1.0M890.8 130.7h3.0M897.8 130.7h1.0M904.8 130.7h1.0M906.8 130.7h3.0M910.8 130.7h1.0M914.8 130.7h1.0M916.8 130.7h3.0M923.8 130.7h1.0M931.8 130.7h3.0M937.8 130.7h1.0M942.8 130.7h2.0M947.8 130.7h2.0M951.8 130.7h2.0M954.8 130.7h1.0M958.8 130.7h1.0M961.8 130.7h1.0M964.8 130.7h1.0M967.8 130.7h5.0M974.8 130.7h1.0M976.8 130.7h1.0M985.8 130.7h1.0M989.8 130.7h1.0M991.8 130.7h1.0M995.8 130.7h1.0M998.8 130.7h6.0M1006.8 130.7h1.0M1009.8 130.7h1.0M1011.8 130.7h1.0M1016.8 130.7h1.0M1018.8 130.7h1.0M1020.8 130.7h1.0M1022.8 130.7h1.0M1026.8 130.7h1.0M1029.8 130.7h4.0M1035.8 130.7h1.0M1037.8 130.7h2.0M1041.8 130.7h1.0M1044.8 130.7h2.0M1048.8 130.7h1.0M1052.8 130.7h2.0M1055.8 130.7h5.0M1062.8 130.7h1.0M1064.8 130.7h1.0M1070.8 130.7h1.0M1072.8 130.7h2.0M1075.8 130.7h3.0M1079.8 130.7h2.0M1082.8 130.7h1.0M1087.8 130.7h1.0M1089.8 130.7h1.0M1092.8 130.7h1.0M1096.8 130.7h1.0M1098.8 130.7h1.0M1101.8 130.7h1.0M1104.8 130.7h1.0M1109.8 130.7h2.0M1112.8 130.7h1.0M668.8 133.0h1.0M670.8 133.0h1.0M672.8 133.0h1.0M674.8 133.0h1.0M676.8 133.0h1.0M680.8 133.0h1.0M682.8 133.0h2.0M687.8 133.0h1.0M692.8 133.0h1.0M694.8 133.0h1.0M700.8 133.0h2.0M703.8 133.0h1.0M705.8 133.0h1.0M710.8 133.0h1.0M713.8 133.0h2.0M716.8 133.0h2.0M721.8 133.0h1.0M723.8 133.0h2.0M726.8 133.0h1.0M729.8 133.0h2.0M732.8 133.0h1.0M735.8 133.0h2.0M739.8 133.0h4.0M744.8 133.0h1.0M747.8 133.0h2.0M752.8 133.0h1.0M757.8 133.0h3.0M761.8 133.0h5.0M767.8 133.0h1.0M769.8 133.0h3.0M776.8 133.0h2.0M779.8 133.0h2.0M782.8 133.0h1.0M789.8 133.0h1.0M791.8 133.0h1.0M794.8 133.0h2.0M797.8 133.0h1.0M802.8 133.0h1.0M807.8 133.0h1.0M810.8 133.0h1.0M813.8 133.0h2.0M822.8 133.0h1.0M832.8 133.0h1.0M835.8 133.0h1.0M837.8 133.0h2.0M840.8 133.0h1.0M850.8 133.0h1.0M852.8 133.0h2.0M856.8 133.0h2.0M864.8 133.0h3.0M868.8 133.0h1.0M872.8 133.0h1.0M878.8 133.0h5.0M889.8 133.0h1.0M893.8 133.0h1.0M903.8 133.0h2.0M908.8 133.0h2.0M915.8 133.0h2.0M919.8 133.0h1.0M922.8 133.0h1.0M924.8 133.0h1.0M926.8 133.0h2.0M930.8 133.0h1.0M934.8 133.0h1.0M940.8 133.0h3.0M944.8 133.0h2.0M948.8 133.0h1.0M950.8 133.0h1.0M952.8 133.0h2.0M957.8 133.0h2.0M960.8 133.0h1.0M964.8 133.0h2.0M969.8 133.0h1.0M971.8 133.0h1.0M973.8 133.0h2.0M978.8 133.0h1.0M980.8 133.0h1.0M982.8 133.0h5.0M988.8 133.0h3.0M992.8 133.0h3.0M996.8 133.0h2.0M999.8 133.0h5.0M1008.8 133.0h1.0M1010.8 133.0h1.0M1013.8 133.0h1.0M1015.8 133.0h1.0M1017.8 133.0h2.0M1020.8 133.0h1.0M1025.8 133.0h1.0M1027.8 133.0h3.0M1034.8 133.0h1.0M1036.8 133.0h1.0M1039.8 133.0h1.0M1045.8 133.0h1.0M1047.8 133.0h2.0M1051.8 133.0h2.0M1055.8 133.0h1.0M1057.8 133.0h1.0M1060.8 133.0h1.0M1062.8 133.0h2.0M1066.8 133.0h2.0M1069.8 133.0h1.0M1071.8 133.0h2.0M1076.8 133.0h1.0M1083.8 133.0h2.0M1088.8 133.0h2.0M1092.8 133.0h1.0M1094.8 133.0h1.0M1097.8 133.0h2.0M1103.8 133.0h3.0M1109.8 133.0h1.0M1115.8 133.0h1.0M1117.8 133.0h4.0M668.8 135.3h3.0M672.8 135.3h1.0M677.8 135.3h1.0M680.8 135.3h1.0M688.8 135.3h4.0M697.8 135.3h2.0M702.8 135.3h1.0M707.8 135.3h4.0M712.8 135.3h1.0M715.8 135.3h3.0M720.8 135.3h1.0M725.8 135.3h2.0M728.8 135.3h2.0M735.8 135.3h5.0M742.8 135.3h1.0M745.8 135.3h1.0M749.8 135.3h1.0M752.8 135.3h4.0M759.8 135.3h4.0M764.8 135.3h2.0M770.8 135.3h1.0M772.8 135.3h1.0M774.8 135.3h1.0M777.8 135.3h1.0M779.8 135.3h1.0M782.8 135.3h2.0M785.8 135.3h3.0M791.8 135.3h2.0M798.8 135.3h1.0M800.8 135.3h1.0M803.8 135.3h2.0M806.8 135.3h1.0M808.8 135.3h1.0M812.8 135.3h2.0M819.8 135.3h4.0M825.8 135.3h1.0M829.8 135.3h2.0M832.8 135.3h2.0M835.8 135.3h1.0M841.8 135.3h2.0M844.8 135.3h2.0M848.8 135.3h1.0M853.8 135.3h4.0M858.8 135.3h1.0M861.8 135.3h1.0M863.8 135.3h2.0M866.8 135.3h1.0M874.8 135.3h1.0M878.8 135.3h3.0M882.8 135.3h2.0M885.8 135.3h2.0M892.8 135.3h3.0M898.8 135.3h3.0M902.8 135.3h2.0M906.8 135.3h4.0M911.8 135.3h1.0M914.8 135.3h2.0M919.8 135.3h1.0M922.8 135.3h1.0M926.8 135.3h3.0M930.8 135.3h1.0M932.8 135.3h2.0M935.8 135.3h1.0M937.8 135.3h1.0M939.8 135.3h1.0M942.8 135.3h1.0M944.8 135.3h1.0M946.8 135.3h1.0M949.8 135.3h1.0M952.8 135.3h1.0M954.8 135.3h1.0M957.8 135.3h1.0M959.8 135.3h2.0M962.8 135.3h3.0M966.8 135.3h1.0M970.8 135.3h2.0M974.8 135.3h2.0M978.8 135.3h1.0M980.8 135.3h3.0M984.8 135.3h1.0M986.8 135.3h1.0M988.8 135.3h1.0M992.8 135.3h1.0M996.8 135.3h2.0M999.8 135.3h3.0M1005.8 135.3h1.0M1009.8 135.3h1.0M1012.8 135.3h2.0M1018.8 135.3h1.0M1020.8 135.3h1.0M1023.8 135.3h2.0M1026.8 135.3h1.0M1028.8 135.3h3.0M1033.8 135.3h1.0M1035.8 135.3h1.0M1037.8 135.3h3.0M1041.8 135.3h1.0M1049.8 135.3h1.0M1052.8 135.3h1.0M1056.8 135.3h1.0M1059.8 135.3h1.0M1066.8 135.3h1.0M1068.8 135.3h1.0M1070.8 135.3h1.0M1084.8 135.3h1.0M1088.8 135.3h2.0M1092.8 135.3h4.0M1097.8 135.3h3.0M1103.8 135.3h1.0M1105.8 135.3h2.0M1108.8 135.3h2.0M1111.8 135.3h1.0M1114.8 135.3h1.0M1116.8 135.3h2.0M1119.8 135.3h3.0M668.8 137.6h1.0M672.8 137.6h1.0M674.8 137.6h3.0M678.8 137.6h1.0M680.8 137.6h1.0M682.8 137.6h1.0M684.8 137.6h1.0M688.8 137.6h3.0M694.8 137.6h2.0M697.8 137.6h5.0M704.8 137.6h1.0M709.8 137.6h1.0M711.8 137.6h1.0M714.8 137.6h6.0M722.8 137.6h2.0M725.8 137.6h1.0M728.8 137.6h1.0M730.8 137.6h4.0M735.8 137.6h1.0M737.8 137.6h1.0M740.8 137.6h1.0M742.8 137.6h3.0M746.8 137.6h1.0M750.8 137.6h2.0M754.8 137.6h1.0M758.8 137.6h3.0M762.8 137.6h1.0M764.8 137.6h1.0M770.8 137.6h2.0M776.8 137.6h1.0M778.8 137.6h4.0M783.8 137.6h1.0M785.8 137.6h4.0M791.8 137.6h1.0M793.8 137.6h5.0M800.8 137.6h1.0M806.8 137.6h1.0M809.8 137.6h1.0M811.8 137.6h3.0M816.8 137.6h1.0M824.8 137.6h4.0M829.8 137.6h1.0M832.8 137.6h1.0M835.8 137.6h6.0M843.8 137.6h1.0M845.8 137.6h2.0M848.8 137.6h3.0M854.8 137.6h1.0M856.8 137.6h3.0M863.8 137.6h2.0M866.8 137.6h1.0M869.8 137.6h1.0M872.8 137.6h1.0M874.8 137.6h1.0M876.8 137.6h1.0M878.8 137.6h1.0M882.8 137.6h3.0M886.8 137.6h5.0M892.8 137.6h1.0M895.8 137.6h3.0M899.8 137.6h3.0M903.8 137.6h1.0M905.8 137.6h2.0M910.8 137.6h3.0M914.8 137.6h1.0M917.8 137.6h1.0M924.8 137.6h2.0M927.8 137.6h1.0M929.8 137.6h1.0M933.8 137.6h2.0M938.8 137.6h3.0M943.8 137.6h1.0M946.8 137.6h1.0M951.8 137.6h1.0M954.8 137.6h1.0M959.8 137.6h6.0M968.8 137.6h2.0M974.8 137.6h2.0M978.8 137.6h1.0M980.8 137.6h5.0M987.8 137.6h2.0M992.8 137.6h2.0M996.8 137.6h6.0M1003.8 137.6h1.0M1005.8 137.6h1.0M1008.8 137.6h2.0M1011.8 137.6h1.0M1014.8 137.6h3.0M1018.8 137.6h5.0M1026.8 137.6h1.0M1028.8 137.6h3.0M1036.8 137.6h1.0M1040.8 137.6h2.0M1043.8 137.6h2.0M1046.8 137.6h4.0M1052.8 137.6h1.0M1054.8 137.6h1.0M1059.8 137.6h1.0M1063.8 137.6h1.0M1066.8 137.6h1.0M1068.8 137.6h1.0M1070.8 137.6h4.0M1076.8 137.6h1.0M1083.8 137.6h1.0M1086.8 137.6h1.0M1088.8 137.6h1.0M1090.8 137.6h3.0M1094.8 137.6h3.0M1099.8 137.6h1.0M1101.8 137.6h1.0M1104.8 137.6h1.0M1106.8 137.6h2.0M1109.8 137.6h2.0M1115.8 137.6h2.0M1119.8 137.6h3.0M668.8 139.9h1.0M671.8 139.9h2.0M674.8 139.9h2.0M677.8 139.9h1.0M681.8 139.9h2.0M686.8 139.9h1.0M688.8 139.9h2.0M694.8 139.9h1.0M696.8 139.9h3.0M701.8 139.9h1.0M703.8 139.9h1.0M707.8 139.9h1.0M709.8 139.9h3.0M713.8 139.9h1.0M716.8 139.9h5.0M724.8 139.9h2.0M727.8 139.9h2.0M730.8 139.9h1.0M733.8 139.9h1.0M735.8 139.9h1.0M737.8 139.9h5.0M745.8 139.9h1.0M747.8 139.9h1.0M749.8 139.9h1.0M752.8 139.9h1.0M754.8 139.9h1.0M758.8 139.9h2.0M762.8 139.9h2.0M765.8 139.9h1.0M768.8 139.9h2.0M771.8 139.9h3.0M775.8 139.9h1.0M777.8 139.9h1.0M782.8 139.9h1.0M784.8 139.9h2.0M787.8 139.9h1.0M789.8 139.9h1.0M791.8 139.9h4.0M797.8 139.9h2.0M800.8 139.9h4.0M805.8 139.9h1.0M807.8 139.9h3.0M811.8 139.9h4.0M818.8 139.9h1.0M821.8 139.9h3.0M825.8 139.9h3.0M831.8 139.9h2.0M834.8 139.9h2.0M837.8 139.9h2.0M842.8 139.9h1.0M846.8 139.9h2.0M849.8 139.9h2.0M853.8 139.9h2.0M858.8 139.9h1.0M860.8 139.9h4.0M867.8 139.9h3.0M872.8 139.9h2.0M875.8 139.9h2.0M878.8 139.9h2.0M883.8 139.9h3.0M887.8 139.9h1.0M889.8 139.9h5.0M896.8 139.9h2.0M900.8 139.9h5.0M906.8 139.9h1.0M911.8 139.9h2.0M915.8 139.9h4.0M920.8 139.9h1.0M926.8 139.9h1.0M928.8 139.9h9.0M939.8 139.9h1.0M941.8 139.9h4.0M946.8 139.9h1.0M948.8 139.9h1.0M951.8 139.9h2.0M955.8 139.9h1.0M961.8 139.9h2.0M967.8 139.9h1.0M969.8 139.9h1.0M973.8 139.9h1.0M975.8 139.9h3.0M979.8 139.9h1.0M981.8 139.9h5.0M988.8 139.9h2.0M991.8 139.9h2.0M994.8 139.9h2.0M997.8 139.9h4.0M1002.8 139.9h2.0M1007.8 139.9h2.0M1010.8 139.9h2.0M1015.8 139.9h3.0M1019.8 139.9h1.0M1021.8 139.9h2.0M1025.8 139.9h1.0M1027.8 139.9h2.0M1030.8 139.9h2.0M1035.8 139.9h1.0M1037.8 139.9h2.0M1041.8 139.9h2.0M1045.8 139.9h2.0M1050.8 139.9h1.0M1052.8 139.9h3.0M1057.8 139.9h4.0M1062.8 139.9h2.0M1065.8 139.9h1.0M1067.8 139.9h1.0M1071.8 139.9h3.0M1075.8 139.9h4.0M1081.8 139.9h1.0M1083.8 139.9h2.0M1087.8 139.9h1.0M1091.8 139.9h1.0M1093.8 139.9h1.0M1095.8 139.9h1.0M1100.8 139.9h1.0M1103.8 139.9h1.0M1109.8 139.9h5.0M1115.8 139.9h1.0M1119.8 139.9h2.0M671.8 142.2h1.0M680.8 142.2h2.0M686.8 142.2h1.0M695.8 142.2h2.0M701.8 142.2h1.0M705.8 142.2h1.0M713.8 142.2h1.0M716.8 142.2h3.0M726.8 142.2h1.0M735.8 142.2h2.0M738.8 142.2h1.0M741.8 142.2h1.0M745.8 142.2h1.0M749.8 142.2h1.0M772.8 142.2h1.0M774.8 142.2h3.0M778.8 142.2h1.0M785.8 142.2h1.0M787.8 142.2h1.0M789.8 142.2h2.0M794.8 142.2h2.0M799.8 142.2h1.0M802.8 142.2h1.0M808.8 142.2h1.0M810.8 142.2h1.0M818.8 142.2h1.0M821.8 142.2h5.0M829.8 142.2h1.0M834.8 142.2h2.0M840.8 142.2h2.0M844.8 142.2h2.0M847.8 142.2h1.0M851.8 142.2h2.0M854.8 142.2h1.0M856.8 142.2h1.0M858.8 142.2h1.0M868.8 142.2h1.0M872.8 142.2h3.0M885.8 142.2h1.0M887.8 142.2h1.0M892.8 142.2h2.0M896.8 142.2h1.0M901.8 142.2h2.0M904.8 142.2h1.0M907.8 142.2h1.0M909.8 142.2h1.0M916.8 142.2h2.0M922.8 142.2h1.0M925.8 142.2h1.0M930.8 142.2h2.0M934.8 142.2h1.0M940.8 142.2h2.0M945.8 142.2h4.0M955.8 142.2h3.0M967.8 142.2h2.0M972.8 142.2h2.0M978.8 142.2h1.0M984.8 142.2h2.0M991.8 142.2h1.0M993.8 142.2h2.0M996.8 142.2h1.0M998.8 142.2h3.0M1005.8 142.2h1.0M1007.8 142.2h5.0M1013.8 142.2h1.0M1018.8 142.2h4.0M1028.8 142.2h3.0M1032.8 142.2h1.0M1034.8 142.2h1.0M1039.8 142.2h2.0M1045.8 142.2h1.0M1050.8 142.2h1.0M1058.8 142.2h1.0M1062.8 142.2h2.0M1066.8 142.2h2.0M1069.8 142.2h3.0M1075.8 142.2h1.0M1077.8 142.2h2.0M1083.8 142.2h1.0M1087.8 142.2h1.0M1089.8 142.2h1.0M1091.8 142.2h1.0M1096.8 142.2h3.0M1104.8 142.2h2.0M1112.8 142.2h1.0M1114.8 142.2h1.0M1116.8 142.2h1.0M1119.8 142.2h2.0M668.8 144.5h3.0M674.8 144.5h2.0M684.8 144.5h2.0M688.8 144.5h1.0M690.8 144.5h1.0M695.8 144.5h1.0M702.8 144.5h1.0M710.8 144.5h1.0M713.8 144.5h1.0M720.8 144.5h1.0M723.8 144.5h1.0M725.8 144.5h1.0M728.8 144.5h1.0M737.8 144.5h1.0M746.8 144.5h1.0M748.8 144.5h2.0M756.8 144.5h2.0M761.8 144.5h1.0M763.8 144.5h1.0M765.8 144.5h1.0M769.8 144.5h2.0M778.8 144.5h1.0M781.8 144.5h1.0M801.8 144.5h1.0M803.8 144.5h1.0M807.8 144.5h1.0M810.8 144.5h1.0M834.8 144.5h2.0M840.8 144.5h1.0M843.8 144.5h1.0M846.8 144.5h2.0M853.8 144.5h1.0M857.8 144.5h1.0M859.8 144.5h1.0M875.8 144.5h1.0M879.8 144.5h1.0M881.8 144.5h3.0M889.8 144.5h1.0M892.8 144.5h1.0M897.8 144.5h1.0M901.8 144.5h1.0M905.8 144.5h1.0M909.8 144.5h1.0M914.8 144.5h1.0M921.8 144.5h1.0M933.8 144.5h2.0M937.8 144.5h1.0M947.8 144.5h2.0M954.8 144.5h1.0M959.8 144.5h1.0M961.8 144.5h1.0M966.8 144.5h1.0M968.8 144.5h1.0M970.8 144.5h1.0M972.8 144.5h1.0M976.8 144.5h2.0M985.8 144.5h1.0M990.8 144.5h1.0M992.8 144.5h1.0M994.8 144.5h2.0M997.8 144.5h1.0M1012.8 144.5h1.0M1014.8 144.5h1.0M1016.8 144.5h1.0M1038.8 144.5h1.0M1041.8 144.5h3.0M1046.8 144.5h1.0M1050.8 144.5h1.0M1052.8 144.5h1.0M1059.8 144.5h2.0M1063.8 144.5h1.0M1075.8 144.5h1.0M1085.8 144.5h2.0M1095.8 144.5h1.0M1102.8 144.5h2.0M1108.8 144.5h2.0M1115.8 144.5h1.0M1119.8 144.5h1.0M669.8 146.8h1.0M677.8 146.8h1.0M680.8 146.8h1.0M695.8 146.8h1.0M699.8 146.8h2.0M706.8 146.8h1.0M716.8 146.8h1.0M720.8 146.8h1.0M722.8 146.8h1.0M725.8 146.8h2.0M746.8 146.8h1.0M774.8 146.8h1.0M776.8 146.8h1.0M778.8 146.8h1.0M790.8 146.8h1.0M792.8 146.8h1.0M808.8 146.8h1.0M810.8 146.8h1.0M826.8 146.8h1.0M835.8 146.8h1.0M853.8 146.8h3.0M860.8 146.8h1.0M863.8 146.8h1.0M868.8 146.8h1.0M880.8 146.8h1.0M887.8 146.8h1.0M892.8 146.8h2.0M900.8 146.8h1.0M918.8 146.8h1.0M926.8 146.8h1.0M933.8 146.8h1.0M937.8 146.8h1.0M945.8 146.8h1.0M952.8 146.8h1.0M964.8 146.8h2.0M967.8 146.8h1.0M969.8 146.8h1.0M977.8 146.8h1.0M983.8 146.8h1.0M989.8 146.8h1.0M1011.8 146.8h1.0M1014.8 146.8h1.0M1022.8 146.8h1.0M1048.8 146.8h1.0M1062.8 146.8h1.0M1067.8 146.8h1.0M1075.8 146.8h1.0M1085.8 146.8h1.0M1104.8 146.8h2.0M1118.8 146.8h1.0M677.8 149.1h1.0M701.8 149.1h1.0M814.8 149.1h1.0M871.8 149.1h1.0M1067.8 149.1h1.0" stroke="#1030ff" stroke-width="2.41" fill="none" shape-rendering="crispEdges"/><path d="M708.8 116.8h1.0M711.8 116.8h1.0M742.8 116.8h1.0M801.8 116.8h1.0M816.8 116.8h1.0M822.8 116.8h1.0M856.8 116.8h1.0M884.8 116.8h1.0M934.8 116.8h1.0M942.8 116.8h1.0M981.8 116.8h1.0M1014.8 116.8h1.0M1030.8 116.8h1.0M1040.8 116.8h1.0M1058.8 116.8h1.0M1061.8 116.8h1.0M1066.8 116.8h1.0M1077.8 116.8h1.0M669.8 119.1h1.0M709.8 119.1h1.0M737.8 119.1h1.0M749.8 119.1h1.0M755.8 119.1h1.0M795.8 119.1h1.0M855.8 119.1h1.0M890.8 119.1h1.0M932.8 119.1h1.0M991.8 119.1h1.0M993.8 119.1h1.0M1025.8 119.1h1.0M1078.8 119.1h1.0M706.8 121.4h1.0M721.8 121.4h1.0M724.8 121.4h1.0M774.8 121.4h1.0M873.8 121.4h1.0M917.8 121.4h1.0M942.8 121.4h1.0M980.8 121.4h1.0M995.8 121.4h1.0M1039.8 121.4h1.0M1048.8 121.4h1.0M1056.8 121.4h1.0M1077.8 121.4h1.0M1107.8 121.4h1.0M675.8 123.7h1.0M700.8 123.7h1.0M745.8 123.7h1.0M753.8 123.7h1.0M796.8 123.7h1.0M1015.8 123.7h2.0M1047.8 123.7h1.0M1081.8 123.7h1.0M676.8 126.0h1.0M687.8 126.0h1.0M725.8 126.0h2.0M785.8 126.0h1.0M798.8 126.0h1.0M808.8 126.0h1.0M819.8 126.0h1.0M824.8 126.0h1.0M831.8 126.0h1.0M861.8 126.0h1.0M890.8 126.0h1.0M910.8 126.0h1.0M940.8 126.0h2.0M1006.8 126.0h1.0M1023.8 126.0h1.0M1029.8 126.0h2.0M1037.8 126.0h1.0M1090.8 126.0h1.0M682.8 128.3h1.0M691.8 128.3h1.0M702.8 128.3h1.0M711.8 128.3h1.0M734.8 128.3h1.0M745.8 128.3h1.0M749.8 128.3h1.0M797.8 128.3h1.0M831.8 128.3h1.0M863.8 128.3h1.0M869.8 128.3h1.0M873.8 128.3h1.0M879.8 128.3h1.0M886.8 128.3h1.0M889.8 128.3h1.0M902.8 128.3h1.0M909.8 128.3h1.0M921.8 128.3h1.0M947.8 128.3h1.0M975.8 128.3h1.0M978.8 128.3h1.0M1012.8 128.3h1.0M1029.8 128.3h1.0M1042.8 128.3h1.0M1064.8 128.3h1.0M1068.8 128.3h1.0M1070.8 128.3h2.0M1074.8 128.3h1.0M1081.8 128.3h1.0M1089.8 128.3h1.0M1093.8 128.3h1.0M1101.8 128.3h1.0M1117.8 128.3h1.0M668.8 130.7h1.0M678.8 130.7h1.0M680.8 130.7h1.0M684.8 130.7h1.0M687.8 130.7h1.0M693.8 130.7h1.0M696.8 130.7h2.0M718.8 130.7h3.0M727.8 130.7h1.0M733.8 130.7h1.0M738.8 130.7h1.0M748.8 130.7h1.0M764.8 130.7h1.0M769.8 130.7h1.0M771.8 130.7h1.0M773.8 130.7h1.0M776.8 130.7h1.0M779.8 130.7h1.0M796.8 130.7h1.0M803.8 130.7h1.0M807.8 130.7h1.0M811.8 130.7h1.0M819.8 130.7h1.0M823.8 130.7h1.0M832.8 130.7h1.0M854.8 130.7h1.0M859.8 130.7h1.0M865.8 130.7h1.0M868.8 130.7h1.0M872.8 130.7h4.0M878.8 130.7h1.0M880.8 130.7h1.0M885.8 130.7h1.0M888.8 130.7h2.0M894.8 130.7h1.0M913.8 130.7h1.0M927.8 130.7h1.0M938.8 130.7h2.0M950.8 130.7h1.0M960.8 130.7h1.0M963.8 130.7h1.0M975.8 130.7h1.0M981.8 130.7h1.0M983.8 130.7h1.0M987.8 130.7h1.0M992.8 130.7h1.0M996.8 130.7h1.0M1005.8 130.7h1.0M1023.8 130.7h1.0M1027.8 130.7h1.0M1036.8 130.7h1.0M1039.8 130.7h2.0M1047.8 130.7h1.0M1083.8 130.7h1.0M1085.8 130.7h1.0M669.8 133.0h1.0M677.8 133.0h3.0M684.8 133.0h3.0M688.8 133.0h2.0M698.8 133.0h2.0M709.8 133.0h1.0M719.8 133.0h1.0M728.8 133.0h1.0M743.8 133.0h1.0M746.8 133.0h1.0M750.8 133.0h1.0M756.8 133.0h1.0M760.8 133.0h1.0M766.8 133.0h1.0M768.8 133.0h1.0M773.8 133.0h2.0M788.8 133.0h1.0M792.8 133.0h2.0M798.8 133.0h1.0M800.8 133.0h2.0M804.8 133.0h1.0M806.8 133.0h1.0M816.8 133.0h1.0M818.8 133.0h1.0M820.8 133.0h1.0M823.8 133.0h2.0M827.8 133.0h1.0M834.8 133.0h1.0M836.8 133.0h1.0M839.8 133.0h1.0M841.8 133.0h1.0M845.8 133.0h1.0M847.8 133.0h1.0M851.8 133.0h1.0M854.8 133.0h2.0M858.8 133.0h4.0M869.8 133.0h3.0M876.8 133.0h2.0M886.8 133.0h2.0M892.8 133.0h1.0M894.8 133.0h2.0M898.8 133.0h1.0M905.8 133.0h2.0M910.8 133.0h1.0M920.8 133.0h1.0M933.8 133.0h1.0M939.8 133.0h1.0M943.8 133.0h1.0M946.8 133.0h1.0M951.8 133.0h1.0M955.8 133.0h1.0M959.8 133.0h1.0M962.8 133.0h2.0M970.8 133.0h1.0M975.8 133.0h3.0M979.8 133.0h1.0M1006.8 133.0h1.0M1011.8 133.0h1.0M1021.8 133.0h2.0M1024.8 133.0h1.0M1030.8 133.0h1.0M1038.8 133.0h1.0M1054.8 133.0h1.0M1064.8 133.0h1.0M1068.8 133.0h1.0M1074.8 133.0h2.0M1079.8 133.0h1.0M1085.8 133.0h1.0M1087.8 133.0h1.0M1093.8 133.0h1.0M1102.8 133.0h1.0M1111.8 133.0h2.0M1114.8 133.0h1.0M674.8 135.3h1.0M678.8 135.3h1.0M683.8 135.3h1.0M685.8 135.3h2.0M695.8 135.3h1.0M699.8 135.3h2.0M705.8 135.3h1.0M713.8 135.3h1.0M722.8 135.3h1.0M731.8 135.3h1.0M733.8 135.3h1.0M741.8 135.3h1.0M748.8 135.3h1.0M758.8 135.3h1.0M767.8 135.3h1.0M771.8 135.3h1.0M776.8 135.3h1.0M778.8 135.3h1.0M780.8 135.3h1.0M790.8 135.3h1.0M794.8 135.3h2.0M797.8 135.3h1.0M799.8 135.3h1.0M801.8 135.3h2.0M805.8 135.3h1.0M807.8 135.3h1.0M809.8 135.3h1.0M811.8 135.3h1.0M815.8 135.3h1.0M817.8 135.3h1.0M823.8 135.3h1.0M827.8 135.3h1.0M831.8 135.3h1.0M834.8 135.3h1.0M836.8 135.3h1.0M838.8 135.3h3.0M843.8 135.3h1.0M846.8 135.3h1.0M849.8 135.3h2.0M859.8 135.3h2.0M865.8 135.3h1.0M867.8 135.3h1.0M869.8 135.3h3.0M875.8 135.3h3.0M881.8 135.3h1.0M889.8 135.3h3.0M896.8 135.3h1.0M901.8 135.3h1.0M905.8 135.3h1.0M916.8 135.3h1.0M920.8 135.3h1.0M924.8 135.3h2.0M929.8 135.3h1.0M931.8 135.3h1.0M934.8 135.3h1.0M936.8 135.3h1.0M940.8 135.3h2.0M945.8 135.3h1.0M948.8 135.3h1.0M951.8 135.3h1.0M956.8 135.3h1.0M965.8 135.3h1.0M967.8 135.3h2.0M972.8 135.3h1.0M976.8 135.3h2.0M983.8 135.3h1.0M985.8 135.3h1.0M989.8 135.3h2.0M995.8 135.3h1.0M1004.8 135.3h1.0M1006.8 135.3h1.0M1008.8 135.3h1.0M1014.8 135.3h3.0M1021.8 135.3h1.0M1027.8 135.3h1.0M1031.8 135.3h1.0M1034.8 135.3h1.0M1036.8 135.3h1.0M1040.8 135.3h1.0M1042.8 135.3h3.0M1046.8 135.3h1.0M1050.8 135.3h2.0M1055.8 135.3h1.0M1060.8 135.3h2.0M1063.8 135.3h1.0M1065.8 135.3h1.0M1067.8 135.3h1.0M1069.8 135.3h1.0M1073.8 135.3h1.0M1077.8 135.3h1.0M1079.8 135.3h1.0M1083.8 135.3h1.0M1085.8 135.3h2.0M1090.8 135.3h2.0M1100.8 135.3h2.0M1104.8 135.3h1.0M1113.8 135.3h1.0M1118.8 135.3h1.0M669.8 137.6h1.0M671.8 137.6h1.0M673.8 137.6h1.0M679.8 137.6h1.0M685.8 137.6h3.0M691.8 137.6h1.0M702.8 137.6h2.0M705.8 137.6h1.0M707.8 137.6h2.0M710.8 137.6h1.0M712.8 137.6h2.0M721.8 137.6h1.0M724.8 137.6h1.0M726.8 137.6h2.0M734.8 137.6h1.0M736.8 137.6h1.0M738.8 137.6h2.0M741.8 137.6h1.0M745.8 137.6h1.0M752.8 137.6h2.0M756.8 137.6h1.0M761.8 137.6h1.0M763.8 137.6h1.0M765.8 137.6h1.0M767.8 137.6h1.0M772.8 137.6h3.0M782.8 137.6h1.0M784.8 137.6h1.0M789.8 137.6h2.0M792.8 137.6h1.0M798.8 137.6h1.0M801.8 137.6h1.0M804.8 137.6h1.0M807.8 137.6h2.0M810.8 137.6h1.0M815.8 137.6h1.0M817.8 137.6h2.0M822.8 137.6h2.0M828.8 137.6h1.0M830.8 137.6h1.0M834.8 137.6h1.0M844.8 137.6h1.0M851.8 137.6h3.0M855.8 137.6h1.0M859.8 137.6h1.0M861.8 137.6h2.0M865.8 137.6h1.0M868.8 137.6h1.0M870.8 137.6h2.0M873.8 137.6h1.0M875.8 137.6h1.0M877.8 137.6h1.0M881.8 137.6h1.0M885.8 137.6h1.0M891.8 137.6h1.0M893.8 137.6h2.0M902.8 137.6h1.0M904.8 137.6h1.0M907.8 137.6h3.0M913.8 137.6h1.0M915.8 137.6h2.0M918.8 137.6h4.0M923.8 137.6h1.0M928.8 137.6h1.0M930.8 137.6h1.0M936.8 137.6h2.0M941.8 137.6h2.0M944.8 137.6h2.0M947.8 137.6h4.0M952.8 137.6h2.0M955.8 137.6h2.0M958.8 137.6h1.0M965.8 137.6h1.0M971.8 137.6h1.0M973.8 137.6h1.0M976.8 137.6h2.0M985.8 137.6h1.0M991.8 137.6h1.0M995.8 137.6h1.0M1006.8 137.6h2.0M1010.8 137.6h1.0M1017.8 137.6h1.0M1024.8 137.6h1.0M1027.8 137.6h1.0M1031.8 137.6h1.0M1033.8 137.6h3.0M1042.8 137.6h1.0M1055.8 137.6h1.0M1057.8 137.6h2.0M1060.8 137.6h3.0M1064.8 137.6h1.0M1067.8 137.6h1.0M1069.8 137.6h1.0M1074.8 137.6h2.0M1079.8 137.6h2.0M1085.8 137.6h1.0M1093.8 137.6h1.0M1097.8 137.6h1.0M1103.8 137.6h1.0M1105.8 137.6h1.0M1108.8 137.6h1.0M1111.8 137.6h1.0M1113.8 137.6h2.0M1117.8 137.6h1.0M669.8 139.9h1.0M673.8 139.9h1.0M678.8 139.9h3.0M683.8 139.9h3.0M687.8 139.9h1.0M690.8 139.9h4.0M695.8 139.9h1.0M699.8 139.9h1.0M702.8 139.9h1.0M704.8 139.9h1.0M706.8 139.9h1.0M708.8 139.9h1.0M712.8 139.9h1.0M714.8 139.9h2.0M721.8 139.9h3.0M726.8 139.9h1.0M729.8 139.9h1.0M731.8 139.9h2.0M734.8 139.9h1.0M736.8 139.9h1.0M742.8 139.9h3.0M746.8 139.9h1.0M751.8 139.9h1.0M753.8 139.9h1.0M755.8 139.9h3.0M760.8 139.9h2.0M764.8 139.9h1.0M767.8 139.9h1.0M774.8 139.9h1.0M779.8 139.9h3.0M788.8 139.9h1.0M790.8 139.9h1.0M796.8 139.9h1.0M806.8 139.9h1.0M810.8 139.9h1.0M815.8 139.9h3.0M819.8 139.9h2.0M824.8 139.9h1.0M828.8 139.9h3.0M833.8 139.9h1.0M839.8 139.9h3.0M843.8 139.9h3.0M848.8 139.9h1.0M851.8 139.9h1.0M856.8 139.9h2.0M859.8 139.9h1.0M864.8 139.9h1.0M866.8 139.9h1.0M870.8 139.9h2.0M874.8 139.9h1.0M877.8 139.9h1.0M880.8 139.9h3.0M886.8 139.9h1.0M888.8 139.9h1.0M894.8 139.9h2.0M899.8 139.9h1.0M905.8 139.9h1.0M907.8 139.9h3.0M913.8 139.9h2.0M919.8 139.9h1.0M922.8 139.9h4.0M927.8 139.9h1.0M937.8 139.9h2.0M940.8 139.9h1.0M947.8 139.9h1.0M949.8 139.9h1.0M953.8 139.9h2.0M956.8 139.9h5.0M963.8 139.9h2.0M966.8 139.9h1.0M968.8 139.9h1.0M970.8 139.9h3.0M974.8 139.9h1.0M980.8 139.9h1.0M986.8 139.9h2.0M990.8 139.9h1.0M993.8 139.9h1.0M1001.8 139.9h1.0M1004.8 139.9h2.0M1012.8 139.9h3.0M1018.8 139.9h1.0M1020.8 139.9h1.0M1023.8 139.9h2.0M1029.8 139.9h1.0M1032.8 139.9h3.0M1036.8 139.9h1.0M1040.8 139.9h1.0M1043.8 139.9h1.0M1047.8 139.9h3.0M1055.8 139.9h2.0M1061.8 139.9h1.0M1064.8 139.9h1.0M1066.8 139.9h1.0M1069.8 139.9h2.0M1079.8 139.9h1.0M1082.8 139.9h1.0M1085.8 139.9h2.0M1088.8 139.9h3.0M1092.8 139.9h1.0M1094.8 139.9h1.0M1097.8 139.9h1.0M1102.8 139.9h1.0M1104.8 139.9h5.0M1114.8 139.9h1.0M1116.8 139.9h3.0M1121.8 139.9h1.0" stroke="#00c8f0" stroke-width="2.41" fill="none" shape-rendering="crispEdges"/><path d="M668.8 142.2h2.0M672.8 142.2h4.0M678.8 142.2h2.0M683.8 142.2h3.0M687.8 142.2h1.0M690.8 142.2h2.0M693.8 142.2h1.0M697.8 142.2h2.0M707.8 142.2h1.0M709.8 142.2h1.0M711.8 142.2h2.0M721.8 142.2h1.0M723.8 142.2h1.0M725.8 142.2h1.0M727.8 142.2h1.0M729.8 142.2h1.0M731.8 142.2h1.0M733.8 142.2h1.0M743.8 142.2h1.0M746.8 142.2h1.0M748.8 142.2h1.0M751.8 142.2h1.0M753.8 142.2h3.0M758.8 142.2h4.0M764.8 142.2h2.0M767.8 142.2h1.0M769.8 142.2h2.0M773.8 142.2h1.0M779.8 142.2h1.0M782.8 142.2h2.0M786.8 142.2h1.0M791.8 142.2h2.0M797.8 142.2h2.0M800.8 142.2h2.0M803.8 142.2h2.0M812.8 142.2h1.0M814.8 142.2h3.0M819.8 142.2h2.0M826.8 142.2h1.0M828.8 142.2h1.0M830.8 142.2h2.0M839.8 142.2h1.0M843.8 142.2h1.0M849.8 142.2h1.0M857.8 142.2h1.0M859.8 142.2h2.0M867.8 142.2h1.0M869.8 142.2h2.0M876.8 142.2h1.0M881.8 142.2h1.0M886.8 142.2h1.0M889.8 142.2h2.0M895.8 142.2h1.0M897.8 142.2h2.0M900.8 142.2h1.0M903.8 142.2h1.0M905.8 142.2h2.0M908.8 142.2h1.0M911.8 142.2h5.0M918.8 142.2h2.0M927.8 142.2h1.0M929.8 142.2h1.0M935.8 142.2h5.0M952.8 142.2h1.0M958.8 142.2h4.0M964.8 142.2h3.0M969.8 142.2h3.0M974.8 142.2h2.0M979.8 142.2h1.0M987.8 142.2h4.0M992.8 142.2h1.0M995.8 142.2h1.0M1001.8 142.2h1.0M1003.8 142.2h1.0M1006.8 142.2h1.0M1012.8 142.2h1.0M1017.8 142.2h1.0M1022.8 142.2h2.0M1025.8 142.2h3.0M1031.8 142.2h1.0M1033.8 142.2h1.0M1035.8 142.2h1.0M1038.8 142.2h1.0M1041.8 142.2h2.0M1051.8 142.2h1.0M1053.8 142.2h3.0M1057.8 142.2h1.0M1059.8 142.2h1.0M1065.8 142.2h1.0M1068.8 142.2h1.0M1073.8 142.2h2.0M1076.8 142.2h1.0M1079.8 142.2h4.0M1085.8 142.2h1.0M1094.8 142.2h2.0M1100.8 142.2h4.0M1106.8 142.2h3.0M1110.8 142.2h1.0M1113.8 142.2h1.0M1115.8 142.2h1.0M1117.8 142.2h2.0M671.8 144.5h3.0M676.8 144.5h1.0M680.8 144.5h1.0M682.8 144.5h2.0M686.8 144.5h2.0M692.8 144.5h1.0M694.8 144.5h1.0M696.8 144.5h2.0M701.8 144.5h1.0M703.8 144.5h1.0M707.8 144.5h3.0M712.8 144.5h1.0M715.8 144.5h2.0M718.8 144.5h2.0M721.8 144.5h2.0M726.8 144.5h2.0M730.8 144.5h1.0M733.8 144.5h1.0M736.8 144.5h1.0M738.8 144.5h1.0M740.8 144.5h1.0M744.8 144.5h1.0M747.8 144.5h1.0M750.8 144.5h1.0M754.8 144.5h2.0M758.8 144.5h1.0M764.8 144.5h1.0M766.8 144.5h1.0M768.8 144.5h1.0M771.8 144.5h5.0M777.8 144.5h1.0M779.8 144.5h2.0M783.8 144.5h2.0M787.8 144.5h1.0M792.8 144.5h1.0M794.8 144.5h6.0M802.8 144.5h1.0M804.8 144.5h2.0M809.8 144.5h1.0M811.8 144.5h2.0M815.8 144.5h3.0M819.8 144.5h1.0M822.8 144.5h1.0M826.8 144.5h1.0M829.8 144.5h1.0M832.8 144.5h2.0M837.8 144.5h3.0M842.8 144.5h1.0M844.8 144.5h2.0M848.8 144.5h3.0M856.8 144.5h1.0M860.8 144.5h1.0M862.8 144.5h1.0M867.8 144.5h1.0M871.8 144.5h4.0M876.8 144.5h2.0M880.8 144.5h1.0M884.8 144.5h2.0M887.8 144.5h1.0M891.8 144.5h1.0M893.8 144.5h3.0M898.8 144.5h2.0M903.8 144.5h1.0M910.8 144.5h3.0M915.8 144.5h3.0M919.8 144.5h2.0M922.8 144.5h1.0M924.8 144.5h2.0M932.8 144.5h1.0M936.8 144.5h1.0M939.8 144.5h2.0M942.8 144.5h1.0M949.8 144.5h1.0M951.8 144.5h3.0M957.8 144.5h1.0M969.8 144.5h1.0M973.8 144.5h1.0M975.8 144.5h1.0M979.8 144.5h1.0M982.8 144.5h3.0M986.8 144.5h3.0M998.8 144.5h1.0M1002.8 144.5h3.0M1008.8 144.5h1.0M1011.8 144.5h1.0M1018.8 144.5h2.0M1023.8 144.5h1.0M1029.8 144.5h5.0M1035.8 144.5h2.0M1048.8 144.5h2.0M1051.8 144.5h1.0M1054.8 144.5h1.0M1056.8 144.5h1.0M1058.8 144.5h1.0M1061.8 144.5h2.0M1066.8 144.5h1.0M1072.8 144.5h1.0M1074.8 144.5h1.0M1080.8 144.5h1.0M1082.8 144.5h1.0M1087.8 144.5h3.0M1091.8 144.5h1.0M1093.8 144.5h1.0M1097.8 144.5h2.0M1100.8 144.5h2.0M1106.8 144.5h2.0M1110.8 144.5h1.0M1113.8 144.5h2.0M1116.8 144.5h2.0M1121.8 144.5h1.0M668.8 146.8h1.0M673.8 146.8h1.0M675.8 146.8h2.0M679.8 146.8h1.0M681.8 146.8h1.0M685.8 146.8h1.0M693.8 146.8h2.0M696.8 146.8h1.0M707.8 146.8h4.0M713.8 146.8h3.0M718.8 146.8h2.0M723.8 146.8h2.0M727.8 146.8h1.0M737.8 146.8h1.0M741.8 146.8h2.0M744.8 146.8h1.0M747.8 146.8h2.0M750.8 146.8h1.0M752.8 146.8h1.0M756.8 146.8h3.0M763.8 146.8h1.0M766.8 146.8h1.0M768.8 146.8h1.0M770.8 146.8h2.0M775.8 146.8h1.0M779.8 146.8h1.0M784.8 146.8h1.0M787.8 146.8h1.0M791.8 146.8h1.0M793.8 146.8h1.0M796.8 146.8h1.0M798.8 146.8h1.0M804.8 146.8h1.0M809.8 146.8h1.0M812.8 146.8h1.0M817.8 146.8h1.0M820.8 146.8h1.0M822.8 146.8h1.0M830.8 146.8h1.0M833.8 146.8h1.0M845.8 146.8h1.0M851.8 146.8h2.0M857.8 146.8h2.0M866.8 146.8h1.0M870.8 146.8h3.0M876.8 146.8h2.0M883.8 146.8h2.0M888.8 146.8h1.0M894.8 146.8h4.0M903.8 146.8h2.0M908.8 146.8h1.0M911.8 146.8h1.0M915.8 146.8h1.0M917.8 146.8h1.0M922.8 146.8h4.0M928.8 146.8h1.0M935.8 146.8h1.0M939.8 146.8h4.0M947.8 146.8h1.0M950.8 146.8h1.0M953.8 146.8h2.0M956.8 146.8h2.0M961.8 146.8h1.0M968.8 146.8h1.0M970.8 146.8h1.0M972.8 146.8h1.0M974.8 146.8h1.0M979.8 146.8h1.0M982.8 146.8h1.0M984.8 146.8h3.0M988.8 146.8h1.0M996.8 146.8h1.0M998.8 146.8h2.0M1003.8 146.8h1.0M1010.8 146.8h1.0M1012.8 146.8h1.0M1016.8 146.8h2.0M1027.8 146.8h2.0M1036.8 146.8h1.0M1042.8 146.8h1.0M1053.8 146.8h2.0M1058.8 146.8h2.0M1061.8 146.8h1.0M1069.8 146.8h1.0M1071.8 146.8h1.0M1077.8 146.8h2.0M1080.8 146.8h2.0M1086.8 146.8h1.0M1088.8 146.8h1.0M1097.8 146.8h2.0M1101.8 146.8h3.0M1106.8 146.8h3.0M1110.8 146.8h3.0M1116.8 146.8h1.0M1119.8 146.8h2.0M669.8 149.1h1.0M672.8 149.1h4.0M679.8 149.1h1.0M681.8 149.1h3.0M685.8 149.1h1.0M689.8 149.1h1.0M692.8 149.1h2.0M700.8 149.1h1.0M704.8 149.1h1.0M716.8 149.1h1.0M719.8 149.1h2.0M722.8 149.1h4.0M727.8 149.1h1.0M730.8 149.1h1.0M732.8 149.1h1.0M734.8 149.1h1.0M746.8 149.1h1.0M749.8 149.1h1.0M751.8 149.1h1.0M753.8 149.1h3.0M762.8 149.1h1.0M764.8 149.1h1.0M767.8 149.1h1.0M769.8 149.1h1.0M771.8 149.1h1.0M775.8 149.1h1.0M777.8 149.1h1.0M779.8 149.1h1.0M785.8 149.1h3.0M791.8 149.1h1.0M794.8 149.1h2.0M798.8 149.1h1.0M805.8 149.1h1.0M807.8 149.1h1.0M812.8 149.1h1.0M815.8 149.1h1.0M820.8 149.1h1.0M824.8 149.1h1.0M826.8 149.1h4.0M831.8 149.1h1.0M833.8 149.1h1.0M836.8 149.1h1.0M838.8 149.1h1.0M840.8 149.1h2.0M845.8 149.1h1.0M848.8 149.1h1.0M850.8 149.1h1.0M854.8 149.1h2.0M857.8 149.1h2.0M861.8 149.1h1.0M879.8 149.1h2.0M884.8 149.1h1.0M887.8 149.1h1.0M889.8 149.1h1.0M893.8 149.1h2.0M898.8 149.1h1.0M904.8 149.1h1.0M908.8 149.1h1.0M910.8 149.1h1.0M912.8 149.1h2.0M915.8 149.1h2.0M923.8 149.1h3.0M928.8 149.1h1.0M932.8 149.1h1.0M934.8 149.1h2.0M939.8 149.1h1.0M941.8 149.1h1.0M944.8 149.1h4.0M949.8 149.1h1.0M951.8 149.1h2.0M954.8 149.1h1.0M956.8 149.1h1.0M959.8 149.1h5.0M969.8 149.1h3.0M973.8 149.1h1.0M976.8 149.1h1.0M979.8 149.1h3.0M985.8 149.1h2.0M993.8 149.1h1.0M995.8 149.1h1.0M997.8 149.1h1.0M1004.8 149.1h1.0M1013.8 149.1h2.0M1016.8 149.1h2.0M1019.8 149.1h1.0M1024.8 149.1h1.0M1027.8 149.1h1.0M1030.8 149.1h1.0M1037.8 149.1h2.0M1048.8 149.1h1.0M1051.8 149.1h2.0M1055.8 149.1h1.0M1057.8 149.1h1.0M1060.8 149.1h2.0M1071.8 149.1h1.0M1073.8 149.1h1.0M1076.8 149.1h2.0M1080.8 149.1h2.0M1086.8 149.1h1.0M1088.8 149.1h1.0M1093.8 149.1h2.0M1096.8 149.1h1.0M1098.8 149.1h1.0M1103.8 149.1h1.0M1106.8 149.1h1.0M1111.8 149.1h1.0M1114.8 149.1h1.0M1116.8 149.1h1.0M1119.8 149.1h3.0" stroke="#00d8f0" stroke-width="2.41" fill="none" shape-rendering="crispEdges"/><path d="M688.8 142.2h1.0M702.8 142.2h1.0M722.8 142.2h1.0M724.8 142.2h1.0M732.8 142.2h1.0M734.8 142.2h1.0M763.8 142.2h1.0M768.8 142.2h1.0M777.8 142.2h1.0M781.8 142.2h1.0M788.8 142.2h1.0M811.8 142.2h1.0M837.8 142.2h2.0M855.8 142.2h1.0M866.8 142.2h1.0M882.8 142.2h1.0M891.8 142.2h1.0M926.8 142.2h1.0M950.8 142.2h1.0M953.8 142.2h1.0M962.8 142.2h1.0M1024.8 142.2h1.0M1036.8 142.2h1.0M1043.8 142.2h1.0M743.8 144.5h1.0M800.8 144.5h1.0M824.8 144.5h1.0M831.8 144.5h1.0M866.8 144.5h1.0M938.8 144.5h1.0M941.8 144.5h1.0M971.8 144.5h1.0M1001.8 144.5h1.0M1007.8 144.5h1.0M1020.8 144.5h1.0M1040.8 144.5h1.0M1065.8 144.5h1.0M1084.8 144.5h1.0M781.8 146.8h1.0M788.8 146.8h1.0M938.8 146.8h1.0M958.8 146.8h1.0M1018.8 146.8h1.0M1049.8 146.8h1.0M1063.8 146.8h1.0M1084.8 146.8h1.0M966.8 149.1h1.0" stroke="#f000f0" stroke-width="2.41" fill="none" shape-rendering="crispEdges"/><line x1="684.22" y1="115.64" x2="684.22" y2="119.64" stroke="#222" stroke-width="1.0" /><line x1="684.22" y1="189.48" x2="684.22" y2="185.48" stroke="#222" stroke-width="1.0" /><line x1="710.96" y1="115.64" x2="710.96" y2="119.64" stroke="#222" stroke-width="1.0" /><line x1="710.96" y1="189.48" x2="710.96" y2="185.48" stroke="#222" stroke-width="1.0" /><line x1="737.70" y1="115.64" x2="737.70" y2="126.64" stroke="#222" stroke-width="1.3" /><line x1="737.70" y1="189.48" x2="737.70" y2="178.48" stroke="#222" stroke-width="1.3" /><line x1="764.44" y1="115.64" x2="764.44" y2="119.64" stroke="#222" stroke-width="1.0" /><line x1="764.44" y1="189.48" x2="764.44" y2="185.48" stroke="#222" stroke-width="1.0" /><line x1="791.18" y1="115.64" x2="791.18" y2="119.64" stroke="#222" stroke-width="1.0" /><line x1="791.18" y1="189.48" x2="791.18" y2="185.48" stroke="#222" stroke-width="1.0" /><line x1="817.92" y1="115.64" x2="817.92" y2="126.64" stroke="#222" stroke-width="1.3" /><line x1="817.92" y1="189.48" x2="817.92" y2="178.48" stroke="#222" stroke-width="1.3" /><line x1="844.66" y1="115.64" x2="844.66" y2="119.64" stroke="#222" stroke-width="1.0" /><line x1="844.66" y1="189.48" x2="844.66" y2="185.48" stroke="#222" stroke-width="1.0" /><line x1="871.40" y1="115.64" x2="871.40" y2="119.64" stroke="#222" stroke-width="1.0" /><line x1="871.40" y1="189.48" x2="871.40" y2="185.48" stroke="#222" stroke-width="1.0" /><line x1="898.14" y1="115.64" x2="898.14" y2="126.64" stroke="#222" stroke-width="1.3" /><line x1="898.14" y1="189.48" x2="898.14" y2="178.48" stroke="#222" stroke-width="1.3" /><line x1="924.88" y1="115.64" x2="924.88" y2="119.64" stroke="#222" stroke-width="1.0" /><line x1="924.88" y1="189.48" x2="924.88" y2="185.48" stroke="#222" stroke-width="1.0" /><line x1="951.62" y1="115.64" x2="951.62" y2="119.64" stroke="#222" stroke-width="1.0" /><line x1="951.62" y1="189.48" x2="951.62" y2="185.48" stroke="#222" stroke-width="1.0" /><line x1="978.36" y1="115.64" x2="978.36" y2="126.64" stroke="#222" stroke-width="1.3" /><line x1="978.36" y1="189.48" x2="978.36" y2="178.48" stroke="#222" stroke-width="1.3" /><line x1="1005.10" y1="115.64" x2="1005.10" y2="119.64" stroke="#222" stroke-width="1.0" /><line x1="1005.10" y1="189.48" x2="1005.10" y2="185.48" stroke="#222" stroke-width="1.0" /><line x1="1031.84" y1="115.64" x2="1031.84" y2="119.64" stroke="#222" stroke-width="1.0" /><line x1="1031.84" y1="189.48" x2="1031.84" y2="185.48" stroke="#222" stroke-width="1.0" /><line x1="1058.58" y1="115.64" x2="1058.58" y2="126.64" stroke="#222" stroke-width="1.3" /><line x1="1058.58" y1="189.48" x2="1058.58" y2="178.48" stroke="#222" stroke-width="1.3" /><line x1="1085.32" y1="115.64" x2="1085.32" y2="119.64" stroke="#222" stroke-width="1.0" /><line x1="1085.32" y1="189.48" x2="1085.32" y2="185.48" stroke="#222" stroke-width="1.0" /><line x1="1112.06" y1="115.64" x2="1112.06" y2="119.64" stroke="#222" stroke-width="1.0" /><line x1="1112.06" y1="189.48" x2="1112.06" y2="185.48" stroke="#222" stroke-width="1.0" /><line x1="668.80" y1="182.58" x2="671.80" y2="182.58" stroke="#111" stroke-width="1" /><line x1="1122.50" y1="182.58" x2="1119.50" y2="182.58" stroke="#111" stroke-width="1" /><line x1="668.80" y1="178.88" x2="671.80" y2="178.88" stroke="#111" stroke-width="1" /><line x1="1122.50" y1="178.88" x2="1119.50" y2="178.88" stroke="#111" stroke-width="1" /><line x1="668.80" y1="176.26" x2="671.80" y2="176.26" stroke="#111" stroke-width="1" /><line x1="1122.50" y1="176.26" x2="1119.50" y2="176.26" stroke="#111" stroke-width="1" /><line x1="668.80" y1="174.22" x2="671.80" y2="174.22" stroke="#111" stroke-width="1" /><line x1="1122.50" y1="174.22" x2="1119.50" y2="174.22" stroke="#111" stroke-width="1" /><line x1="668.80" y1="172.56" x2="671.80" y2="172.56" stroke="#111" stroke-width="1" /><line x1="1122.50" y1="172.56" x2="1119.50" y2="172.56" stroke="#111" stroke-width="1" /><line x1="668.80" y1="171.15" x2="671.80" y2="171.15" stroke="#111" stroke-width="1" /><line x1="1122.50" y1="171.15" x2="1119.50" y2="171.15" stroke="#111" stroke-width="1" /><line x1="668.80" y1="169.94" x2="671.80" y2="169.94" stroke="#111" stroke-width="1" /><line x1="1122.50" y1="169.94" x2="1119.50" y2="169.94" stroke="#111" stroke-width="1" /><line x1="668.80" y1="168.86" x2="671.80" y2="168.86" stroke="#111" stroke-width="1" /><line x1="1122.50" y1="168.86" x2="1119.50" y2="168.86" stroke="#111" stroke-width="1" /><line x1="668.80" y1="167.90" x2="674.80" y2="167.90" stroke="#111" stroke-width="1" /><line x1="1122.50" y1="167.90" x2="1116.50" y2="167.90" stroke="#111" stroke-width="1" /><line x1="668.80" y1="161.58" x2="671.80" y2="161.58" stroke="#111" stroke-width="1" /><line x1="1122.50" y1="161.58" x2="1119.50" y2="161.58" stroke="#111" stroke-width="1" /><line x1="668.80" y1="157.88" x2="671.80" y2="157.88" stroke="#111" stroke-width="1" /><line x1="1122.50" y1="157.88" x2="1119.50" y2="157.88" stroke="#111" stroke-width="1" /><line x1="668.80" y1="155.26" x2="671.80" y2="155.26" stroke="#111" stroke-width="1" /><line x1="1122.50" y1="155.26" x2="1119.50" y2="155.26" stroke="#111" stroke-width="1" /><line x1="668.80" y1="153.22" x2="671.80" y2="153.22" stroke="#111" stroke-width="1" /><line x1="1122.50" y1="153.22" x2="1119.50" y2="153.22" stroke="#111" stroke-width="1" /><line x1="668.80" y1="151.56" x2="671.80" y2="151.56" stroke="#111" stroke-width="1" /><line x1="1122.50" y1="151.56" x2="1119.50" y2="151.56" stroke="#111" stroke-width="1" /><line x1="668.80" y1="150.15" x2="671.80" y2="150.15" stroke="#111" stroke-width="1" /><line x1="1122.50" y1="150.15" x2="1119.50" y2="150.15" stroke="#111" stroke-width="1" /><line x1="668.80" y1="148.94" x2="671.80" y2="148.94" stroke="#111" stroke-width="1" /><line x1="1122.50" y1="148.94" x2="1119.50" y2="148.94" stroke="#111" stroke-width="1" /><line x1="668.80" y1="147.86" x2="671.80" y2="147.86" stroke="#111" stroke-width="1" /><line x1="1122.50" y1="147.86" x2="1119.50" y2="147.86" stroke="#111" stroke-width="1" /><line x1="668.80" y1="146.90" x2="674.80" y2="146.90" stroke="#111" stroke-width="1" /><line x1="1122.50" y1="146.90" x2="1116.50" y2="146.90" stroke="#111" stroke-width="1" /><line x1="668.80" y1="140.58" x2="671.80" y2="140.58" stroke="#111" stroke-width="1" /><line x1="1122.50" y1="140.58" x2="1119.50" y2="140.58" stroke="#111" stroke-width="1" /><line x1="668.80" y1="136.88" x2="671.80" y2="136.88" stroke="#111" stroke-width="1" /><line x1="1122.50" y1="136.88" x2="1119.50" y2="136.88" stroke="#111" stroke-width="1" /><line x1="668.80" y1="134.26" x2="671.80" y2="134.26" stroke="#111" stroke-width="1" /><line x1="1122.50" y1="134.26" x2="1119.50" y2="134.26" stroke="#111" stroke-width="1" /><line x1="668.80" y1="132.22" x2="671.80" y2="132.22" stroke="#111" stroke-width="1" /><line x1="1122.50" y1="132.22" x2="1119.50" y2="132.22" stroke="#111" stroke-width="1" /><line x1="668.80" y1="130.56" x2="671.80" y2="130.56" stroke="#111" stroke-width="1" /><line x1="1122.50" y1="130.56" x2="1119.50" y2="130.56" stroke="#111" stroke-width="1" /><line x1="668.80" y1="129.15" x2="671.80" y2="129.15" stroke="#111" stroke-width="1" /><line x1="1122.50" y1="129.15" x2="1119.50" y2="129.15" stroke="#111" stroke-width="1" /><line x1="668.80" y1="127.94" x2="671.80" y2="127.94" stroke="#111" stroke-width="1" /><line x1="1122.50" y1="127.94" x2="1119.50" y2="127.94" stroke="#111" stroke-width="1" /><line x1="668.80" y1="126.86" x2="671.80" y2="126.86" stroke="#111" stroke-width="1" /><line x1="1122.50" y1="126.86" x2="1119.50" y2="126.86" stroke="#111" stroke-width="1" /><line x1="668.80" y1="125.90" x2="674.80" y2="125.90" stroke="#111" stroke-width="1" /><line x1="1122.50" y1="125.90" x2="1116.50" y2="125.90" stroke="#111" stroke-width="1" /><line x1="668.80" y1="119.58" x2="671.80" y2="119.58" stroke="#111" stroke-width="1" /><line x1="1122.50" y1="119.58" x2="1119.50" y2="119.58" stroke="#111" stroke-width="1" /><text x="1125.50" y="129.80" font-size="10.7">10<tspan font-size="8.3" dy="-4.3">4</tspan></text><text x="1125.50" y="150.80" font-size="10.7">10<tspan font-size="8.3" dy="-4.3">3</tspan></text><text x="1125.50" y="171.80" font-size="10.7">10<tspan font-size="8.3" dy="-4.3">2</tspan></text><text x="1125.50" y="192.80" font-size="10.7">10<tspan font-size="8.3" dy="-4.3">1</tspan></text><rect x="668.80" y="115.64" width="453.70" height="73.84" fill="none" stroke="#000" stroke-width="1.35"/><text transform="translate(1155.50,152.50) rotate(-90)" font-size="11" text-anchor="middle" fill="#000">Energy (eV)</text><line x1="733.60" y1="201.48" x2="733.60" y2="263.32" stroke="#00aa00" stroke-width="1.3" stroke-dasharray="10 4.4"/><line x1="900.40" y1="201.48" x2="900.40" y2="263.32" stroke="#00aa00" stroke-width="1.3" stroke-dasharray="10 4.4"/><line x1="775.40" y1="201.48" x2="775.40" y2="263.32" stroke="#ff4848" stroke-width="1.7" stroke-dasharray="11 4"/><line x1="858.70" y1="201.48" x2="858.70" y2="263.32" stroke="#ff0000" stroke-width="1.3" stroke-dasharray="11 4"/><line x1="771.80" y1="201.48" x2="771.80" y2="263.32" stroke="#0000ff" stroke-width="1.3" stroke-dasharray="2 3.4"/><line x1="826.60" y1="201.48" x2="826.60" y2="263.32" stroke="#ff00ff" stroke-width="1.5" stroke-dasharray="2 3.4"/><line x1="944.30" y1="201.48" x2="944.30" y2="263.32" stroke="#ff00ff" stroke-width="1.5" stroke-dasharray="2 3.4"/><g clip-path="url(#cm2)"><path d="M668.8 226l.5-2.6 .5 2.3 .5-1.9 .5 3.5 .5-2.9 .5 2.6 .5-3.2 .5 3.6 .5-4.6 .5 2.9 .5-2.3 .5 3.3 .5-2.8 .5 3.5 .5-5.6 .5 4.2 .5-2.6 .5 2.9 .5-3.7 .5 2.7 .5-4.5 .5 4.1 .5-2.8 .5 2.8 .5-3.6 .5 4.3 .5-3.9 .5 3 .5-4.4 .5 3.9 .5-4.2 .5 6.5 .5-3.9 .5 4 .5-4.6 .5 5.3 .5-6.2 .5 4 .5-2.7 .5 2.3 .5-2.8 .5 3.4 .5-3.3 .5 2.8 .5-3.5 .5 4.6 .5-3.7 .5 2 .5-1.9 .5 3.3 .5-4.1 .5 4.7 .5-4.3 .5 2.9 .5-2.5 .5 2.5 .5-2.3 .5 2.9 .5-4 .5 3.7 .5-1.7 .5 2.7 .5-4.2 .5 6 .5-4.1 .5 4.1 .5-4.3 .5 4 .5-4.4 .5 2.6 .5-2.6 .5 3.8 .5-6.3 .5 4.7 .5-5 .5 6.3 .5-4.6 .5 4.5 .5-2.6 .5 3.3 .5-3.5 .5 2.8 .5-3.7 .5 3 .5-2.3 .5 4.3 .5-3.5 .5 2.5 .5-2.5 .5 2.2 .5-2.7 .5 3.9 .5-2.9 .5 1.5 .5-2.3 .5 3.4 .5-3.2 .5 2.2 .5-3.5 .5 2.8 .5-2.5 .5 3.1 .5-5.6 .5 4.8 .5-2 .5 2.5 .5-3.7 .5 4.3 .5-3.1 .5 3.5 .5-5 .5 3.8 .5-5 .5 3.8 .5-1 .5 .8 .5-1.6 .5 2.8 .5-1.5 .5 2.2 .5-2.9 .5 3.1 .5-2.4 .5 3.3 .5-3.5 .5 3.5 .5-4.4 .5 3.5 .5-1.5 .5 4.8 .5-5.5 .5 2.1 .5-1.4 .5 1.9 .5-3.6 .5 3.6 .5-3.7 .5 4.6 .5-4.4 .5 3.2 .5-3.6 .5 3.4 .5-4 .5 3.8 .5-2.2 .5 2 .5-3.2 .5 3.8 .5-4.5 .5 3.9 .5-3.7 .5 3.8 .5-4.7 .5 5 .5-4.2 .5 3.6 .5-3 .5 3 .5-4 .5 3.7 .5-4.8 .5 5.4 .5-2.6 .5 3.3 .5-3.5 .5 2.7 .5-3.2 .5 1.9 .5-2.1 .5 5 .5-5.1 .5 2.6 .5-1.6 .5 2.1 .5-3.1 .5 2.2 .5-4.1 .5 4.6 .5-6.4 .5 4.8 .5-4.3 .5 3.3 .5-3.9 .5 4.2 .5-4.4 .5 5.1 .5-4.9 .5 2.2 .5-2.1 .5 2.5 .5-4.1 .5 5.6 .5-2.8 .5 2.5 .5-3.1 .5 3.1 .5-4.1 .5 4.2 .5-4.6 .5 4.2 .5-2.7 .5 4.8 .5-5.2 .5 5 .5-4.8 .5 3.9 .5-5.4 .5 5.9 .5-6.8 .5 4.4 .5-5.2 .5 6.6 .5-7.4 .5 1.7 .5-1.2 .5 2.9 .5-4.2 .5 4.8 .5-5.6 .5 7.1 .5-7.9 .5 11.4 .5-9.2 .5 4 .5-6.8 .5 7.1 .5-5.1 .5 4 .5-3 .5 3.8 .5-4.3 .5 5 .5-9.7 .5 7.6 .5-3.9 .5 2.4 .5-3.3 .5 4.7 .5-6.8 .5 6.4 .5-5.6 .5 5.6 .5-3 .5 2.9 .5-3.1 .5 6.1 .5-4.2 .5 2.9 .5-5.8 .5 7.8 .5-11.4 .5 6.9 .5-9.4 .5 6.1 .5-9.2 .5 2.3 .5-2.6 .5 3.9 .5-7.4 .5 6.1 .5-8.7 .5 8.2 .5-4.8 .5 2.3 .5-.4 .5 5.9 .5-2.7 .5 7.8 .5-3.5 .5 3.6 .5-1.7 .5 3.2 .5-3 .5 5.2 .5-4.3 .5 6.2 .5-6.1 .5 5.4 .5-7.3 .5 9.7 .5-7.3 .5 7.1 .5-8.2 .5 6 .5-6.4 .5 3.4 .5-4.6 .5 3.6 .5-4.1 .5 5.4 .5-11 .5 7.9 .5-7.1 .5 5.4 .5-5.7 .5 6 .5-2.6 .5 5.3 .5-2.9 .5 5.7 .5-5.6 .5 7.2 .5-6 .5 7.4 .5-6.5 .5 1.5 .5-4.1 .5 4.3 .5-7.6 .5 6.2 .5-3.5 .5 7.4 .5-6.6 .5 5.8 .5-7.2 .5 7.5 .5-5.3 .5 7.6 .5-5.5 .5 5.2 .5-5.3 .5 4.8 .5-4.1 .5 4.2 .5-3 .5 4 .5-6.6 .5 6.1 .5-4.1 .5 7.5 .5-6.8 .5 3.6 .5-5.3 .5 6.6 .5-4.4 .5 5.7 .5-11.9 .5 2.6 .5-4.8 .5 4.4 .5-3.7 .5 6.3 .5-10.2 .5 7.4 .5-.4 .5 6 .5-5.4 .5 4.9 .5-3.7 .5 3.8 .5-5.7 .5 6.6 .5-4.5 .5 7 .5-7 .5 7.5 .5-9.9 .5 10 .5-7.8 .5 6.2 .5-2.9 .5 6 .5-10.4 .5 7.9 .5-6.3 .5 4.4 .5-6.3 .5 2.5 .5-4.7 .5 3.5 .5-9.9 .5 6.6 .5-7.2 .5 3.5 .5-9.4 .5 2.9 .5-3.9 .5 3 .5-6.2 .5 4.8 .5-6 .5 9.4 .5-8.2 .5 6.9 .5-2.9 .5 8 .5-3.4 .5 3.3 .5-4.9 .5 2.5 .5-5.4 .5 8.5 .5-3.8 .5 4 .5-4.9 .5 6.8 .5-7.4 .5 11.1 .5-4.4 .5 6.1 .5-6.9 .5 4.7 .5-4.5 .5 7 .5-8 .5 5.9 .5-8.3 .5 5.6 .5-5.1 .5 6.5 .5-6.9 .5 5.3 .5-5.9 .5 6 .5-8.6 .5 7.6 .5-5.8 .5 3.8 .5-10.7 .5 4.7 .5-5.1 .5 2.9 .5-4.6 .5 6.6 .5-.8 .5 4 .5-1.6 .5 6.6 .5-3.1 .5 5.8 .5-5.9 .5 3.4 .5-5.2 .5 7.5 .5-7.1 .5 5.5 .5-5.1 .5 7 .5-4.3 .5 6.1 .5-6.6 .5 5.8 .5-5.4 .5 2.9 .5-3.3 .5 3.9 .5-6.5 .5 7.5 .5-6.2 .5 10 .5-5.6 .5 2.1 .5-2.5 .5 3.3 .5-5 .5 5.1 .5-8.3 .5 6.9 .5-8.1 .5 8.7 .5-5.7 .5 7.3 .5-6.5 .5 6.2 .5-4.2 .5 7.6 .5-4 .5 4.8 .5-5.9 .5 4.8 .5-1.7 .5 2.7 .5-5.5 .5 7.6 .5-7.9 .5 7 .5-5.4 .5 6.4 .5-3 .5 1.8 .5-3.2 .5 4.6 .5-7 .5 8 .5-4.1 .5 4.6 .5-8.1 .5 6.9 .5-6.3 .5 5.2 .5-5.1 .5 6 .5-6.5 .5 6.1 .5-2.5 .5 2.6 .5-4 .5 5 .5-5.6 .5 4.8 .5-7 .5 5.5 .5-7.9 .5 8.6 .5-7.1 .5 4.1 .5-6.1 .5 1.8 .5-5.3 .5 6 .5-1.5 .5 6.2 .5-5.4 .5 7.4 .5-6.8 .5 10 .5-9.4 .5 6.9 .5-7.5 .5 5.6 .5-3.2 .5 4.9 .5-11.7 .5 4.2 .5-9.9 .5 8.2 .5-.3 .5 9.5 .5-4.6 .5 5 .5-5.8 .5 7.9 .5-4 .5 3.3 .5-3.4 .5 3.8 .5-6.1 .5 3.5 .5-6.2 .5 8.8 .5-9 .5 6.8 .5-5 .5 6.7 .5-7.1 .5 4.6 .5-5.9 .5 4.2 .5-8.1 .5 2.4 .5-7.7 .5 7.1 .5-3.3 .5 4.6 .5-1.9 .5 7.8 .5-3.7 .5 7.2 .5-4.5 .5 5.6 .5-11.4 .5 9.9 .5-5.4 .5 5.7 .5-5.7 .5 6.9 .5-6.2 .5 4.3 .5-5.7 .5 7.6 .5-7.7 .5 6.2 .5-1.9 .5 4.8 .5-4.9 .5 3.5 .5-4.7 .5 5.5 .5-8.6 .5 6.1 .5-5.2 .5 4.8 .5-3.5 .5 3.8 .5-5.9 .5 4.6 .5-8.7 .5 8.2 .5-6.5 .5 5.9 .5-7 .5 2.4 .5-7.3 .5 3.6 .5-4.5 .5 10.6 .5-8.5 .5 8.4 .5-5.7 .5 9.6 .5-5.5 .5 4.4 .5-3.2 .5 4.8 .5-8.7 .5 4.3 .5-6.6 .5 4 .5-8.9 .5 5.8 .5-6.9 .5 3 .5-7.8 .5 6.2 .5-6.9 .5 6 .5-10.9 .5 9.1 .5-7.5 .5 6.9 .5-2.1 .5 6.6 .5-1.2 .5 7.3 .5-.3 .5 5 .5-7.4 .5 9.1 .5-4.9 .5 5.6 .5-6 .5 7.3 .5-3.9 .5 3.1 .5-2.5 .5 3.4 .5-5.3 .5 5.3 .5-4.7 .5 6.3 .5-6.5 .5 5.8 .5-6.1 .5 4.9 .5-4.2 .5 7.1 .5-6.2 .5 7 .5-5.6 .5 5.6 .5-4.3 .5 6 .5-6.9 .5 5.7 .5-4.3 .5 4.8 .5-8.2 .5 3.7 .5-2.6 .5 6.7 .5-4.8 .5 2.1 .5-2.9 .5 3 .5-2 .5 2.9 .5-3.6 .5 2.8 .5-2.9 .5 3.5 .5-5.9 .5 5.3 .5-3.3 .5 2.2 .5-2.8 .5 3.7 .5-4 .5 5.6 .5-5 .5 3.7 .5-3.2 .5 2.3 .5-4.8 .5 5.2 .5-3.1 .5 3.4 .5-4.8 .5 4.9 .5-3.4 .5 3.6 .5-4.4 .5 4 .5-2.6 .5 2.3 .5-1.7 .5 2.5 .5-2.3 .5 1.6 .5-1.8 .5 3.2 .5-3.2 .5 2.4 .5-3.1 .5 2.1 .5-3.4 .5 3.2 .5-1.9 .5 1.6 .5-3.8 .5 3.7 .5-2.2 .5 3 .5-2.5 .5 2.8 .5-2.9 .5 3.7 .5-4.2 .5 2.8 .5-2.7 .5 3 .5-3.8 .5 6.4 .5-4.6 .5 3.3 .5-4.1 .5 2.9 .5-3.3 .5 1.7 .5-2.2 .5 3.4 .5-2.8 .5 2.9 .5-3.1 .5 4.6 .5-5.9 .5 4.6 .5-3.5 .5 3.3 .5-3.7 .5 3 .5-2.1 .5 3.2 .5-2.4 .5 2.6 .5-4.7 .5 4.1 .5-2.9 .5 2.9 .5-1.4 .5 2.3 .5-4.4 .5 4.6 .5-4.4 .5 2.5 .5-.5 .5 2.4 .5-2.6 .5 2.5 .5-3.7 .5 3.3 .5-3.2 .5 1.9 .5-2.7 .5 4.1 .5-3.4 .5 2.6 .5-1.8 .5 2.5 .5-2.8 .5 4.3 .5-3.3 .5 .1 .5-1.6 .5 2.7 .5-1.9 .5 2.4 .5-3.6 .5 3.5 .5-3.2 .5 2.4 .5-2.8 .5 3.7 .5-4.9 .5 4.6 .5-2.4 .5 3.3 .5-4.4 .5 4.7 .5-3.7 .5 2.7 .5-2 .5 2.3 .5-2.6 .5 3.5 .5-4.3 .5 4.2 .5-2.9 .5 1.6 .5-2.6 .5 2.6 .5-2.4 .5 3.6 .5-3.1 .5 2.1 .5-1.1 .5 1 .5-2.8 .5 2.6 .5-2.5 .5 1.4 .5-1.6 .5 3 .5-1.8 .5 1 .5-1.4 .5 4 .5-3.6 .5 4 .5-2.5 .5 1.5 .5-2.9 .5 3.6 .5-2.3 .5 3.3 .5-3.3 .5 2.3 .5-1.9 .5 1.5 .5-2.4 .5 2.6 .5-1.7 .5 2.4 .5-2.7 .5 2.5 .5-1.7 .5 2.4 .5-2 .5 1.8 .5-1.9 .5 1.9 .5-2.3 .5 3.1 .5-4.5 .5 4.2 .5-2.6 .5 2.1 .5-3.9 .5 3.1 .5-1.6 .5 2.9 .5-3.3 .5 2 .5-2.5 .5 3.8 .5-3.9 .5 2.2 .5-1.9 .5 2.6 .5-2.6 .5 2.3 .5-1.5 .5 2.6 .5-2.4 .5 1.8 .5-2.7 .5 2.7 .5-1.2 .5 1.1 .5-2.3 .5 2.7 .5-2.2 .5 1.8 .5-1.9 .5 2.2 .5-1.6 .5 2.7 .5-3.2 .5 2.4 .5-2.9 .5 2.2 .5-1.7 .5 2.4 .5-1.8 .5 1.9 .5-1.7 .5 2.2 .5-3 .5 2.2 .5-1.6 .5 2 .5-3.1 .5 3.3 .5-3.1 .5 3 .5-2.9 .5 1.9 .5-1.9 .5 1.9 .5-3.2 .5 3.9 .5-2.6 .5 1.8 .5-2.6 .5 3.6 .5-2.4" fill="none" stroke="#0000ff" stroke-width="1.1" /><path d="M668.8 217.9l.5-5.1 .5 1.8 .5-2.2 .5 2.4 .5-3.1 .5 2.9 .5-4.3 .5 5.7 .5-4.1 .5 3.5 .5-3.7 .5 3.2 .5-2.5 .5 4.6 .5-5.1 .5 2.6 .5-3.3 .5 2.9 .5-2.3 .5 3.1 .5-1.9 .5 1.4 .5-3 .5 2.7 .5-2.9 .5 3.5 .5-4.2 .5 4.9 .5-2.8 .5 2.2 .5-3.3 .5 3.2 .5-2.1 .5 2 .5-2 .5 2.5 .5-5.4 .5 4.9 .5-2.9 .5 2.4 .5-2.8 .5 2.9 .5-2.1 .5 3.8 .5-5.9 .5 2.9 .5-1.1 .5 2.4 .5-3.6 .5 3 .5-4.1 .5 4.4 .5-3 .5 3.3 .5-3.2 .5 2.7 .5-3.3 .5 4.3 .5-4.1 .5 2.9 .5-2.3 .5 1.5 .5-3.8 .5 5.4 .5-4.7 .5 3.6 .5-4 .5 5.5 .5-3.9 .5 4 .5-4.2 .5 2 .5-1.7 .5 3 .5-3.2 .5 2.2 .5-3.3 .5 4.7 .5-2.7 .5 4.1 .5-5.1 .5 3.8 .5-3.8 .5 5.1 .5-4.2 .5 2.1 .5-2.8 .5 2.2 .5-4 .5 4.9 .5-2.4 .5 4.6 .5-3.8 .5 2.3 .5-1.9 .5 3.1 .5-5.3 .5 3.3 .5-3 .5 3 .5-3.3 .5 3.7 .5-3.9 .5 5.1 .5-6.1 .5 4.7 .5-3.6 .5 3.3 .5-2.9 .5 3.2 .5-3.4 .5 2.9 .5-2.4 .5 2.5 .5-1.7 .5 3.1 .5-4 .5 3.1 .5-4.9 .5 5.4 .5-4.5 .5 3.9 .5-2.9 .5 4.2 .5-3.9 .5 3 .5-3.9 .5 4.1 .5-2.8 .5 2.4 .5-2.2 .5 2 .5-3.5 .5 3 .5-2.3 .5 5.1 .5-4.7 .5 4 .5-3.3 .5 3.6 .5-4.6 .5 3.7 .5-3.3 .5 2.9 .5-4.8 .5 4.8 .5-3 .5 2.8 .5-3 .5 3.4 .5-1.9 .5 4.2 .5-3.2 .5 4.7 .5-5 .5 2 .5-1.7 .5 1.7 .5-4.6 .5 6.6 .5-4.9 .5 2.4 .5-4 .5 3.9 .5-2.2 .5 3 .5-4.4 .5 4.2 .5-2.9 .5 3.4 .5-3.4 .5 2.9 .5-4.9 .5 5.8 .5-4.6 .5 3.1 .5-1.6 .5 2 .5-3.3 .5 3.6 .5-4.1 .5 2.9 .5-2.3 .5 2.7 .5-3.1 .5 2.8 .5-2.3 .5 2.6 .5-4.2 .5 4.1 .5-3.5 .5 4.7 .5-5.7 .5 1.5 .5-3 .5 3.2 .5-4.6 .5 2.3 .5-3.5 .5 2.1 .5-2.1 .5 2.1 .5-2.3 .5 1.9 .5-2.4 .5 3.6 .5-3.3 .5 2.4 .5-2.4 .5 4.3 .5-1 .5 5.5 .5-3.6 .5 5.1 .5-2.9 .5 5.1 .5-3.7 .5 5 .5-4.7 .5 4.3 .5-4.5 .5 4.7 .5-3.6 .5 4.4 .5-5.2 .5 5.8 .5-5.9 .5 4.3 .5-4.3 .5 4.9 .5-4.7 .5 5.1 .5-4.3 .5 3.9 .5-4.5 .5 2.2 .5-3.1 .5 4.6 .5-2.1 .5 1 .5-3.1 .5 3.3 .5-4.1 .5 6.3 .5-4.9 .5 1.7 .5-2.8 .5 3.7 .5-5.1 .5 5.1 .5-4.6 .5 1.3 .5-3.6 .5 6 .5-5.4 .5 3.7 .5-5.6 .5 5.2 .5-3.2 .5 2.8 .5-2.4 .5 3.2 .5-3.1 .5 4.3 .5-6 .5 5.3 .5-5.6 .5 5 .5-2.3 .5 3.1 .5-3.4 .5 1.5 .5-2.2 .5 3.4 .5-5 .5 4.8 .5-5.8 .5 5.4 .5-4.9 .5 2.4 .5-2.2 .5 4.2 .5-5.4 .5 4 .5-4 .5 3.9 .5-3.6 .5 5.6 .5-5.3 .5 6 .5-4.9 .5 6 .5-4.3 .5 3.6 .5-5.5 .5 4.2 .5-5.1 .5 4.5 .5-2.5 .5 4.5 .5-7.4 .5 5.3 .5-6.8 .5 7.3 .5-5.2 .5 6.2 .5-7.8 .5 8.5 .5-4.6 .5 2.9 .5-2.7 .5 3.9 .5-6.2 .5 6.9 .5-3.9 .5 3.3 .5-2.4 .5 2.6 .5-3.3 .5 3.5 .5-4.6 .5 4.7 .5-4.7 .5 4.9 .5-4.2 .5 6.9 .5-5.9 .5 4.4 .5-3.3 .5 2.6 .5-2.5 .5 2.8 .5-4.9 .5 6.6 .5-7.8 .5 6.9 .5-7.1 .5 5.9 .5-3.5 .5 4.6 .5-4.9 .5 5.7 .5-5.3 .5 4.9 .5-3.9 .5 5.2 .5-8 .5 5.7 .5-2.9 .5 4.2 .5-5 .5 4.9 .5-5.1 .5 5.4 .5-6.7 .5 4.1 .5-3.5 .5 3.3 .5-5.4 .5 5.1 .5-4.1 .5 3.9 .5-4.4 .5 4.7 .5-2.7 .5 6.3 .5-7.1 .5 4.8 .5-4.5 .5 5.1 .5-6.1 .5 4.1 .5-3.1 .5 3.6 .5-3.9 .5 5.7 .5-5.9 .5 2.7 .5-4.5 .5 6.5 .5-6.6 .5 5.3 .5-6.3 .5 5.3 .5-4.1 .5 3.7 .5-3.5 .5 3.5 .5-3.6 .5 2.8 .5-2.5 .5 3.5 .5-2.1 .5 1.9 .5-2.1 .5 4.4 .5-4.3 .5 6.6 .5-7.5 .5 4.7 .5-9.2 .5 7.4 .5-2.4 .5 5.5 .5-5.7 .5 4.4 .5-5.5 .5 5.3 .5-4.2 .5 4.7 .5-8.3 .5 8.6 .5-5 .5 4.4 .5-5.7 .5 4.8 .5-4.2 .5 3.3 .5-2.9 .5 3.5 .5-4 .5 3.3 .5-1.4 .5 3.4 .5-4.7 .5 1.4 .5-1.6 .5 3.5 .5-5.2 .5 4.9 .5-4.6 .5 4.4 .5-2.7 .5 4.2 .5-3.8 .5 3.4 .5-5 .5 3.8 .5-2.3 .5 4.5 .5-5.7 .5 4.1 .5-3.3 .5 4.2 .5-4.8 .5 3.2 .5-2.1 .5 4.9 .5-6.9 .5 6.2 .5-5 .5 4 .5-2.5 .5 2.8 .5-5.2 .5 7.1 .5-8.8 .5 8.7 .5-8 .5 7.1 .5-5.2 .5 4.6 .5-4.4 .5 4.3 .5-4.8 .5 5.3 .5-4.9 .5 5.9 .5-6 .5 4.3 .5-4.4 .5 4.4 .5-2.2 .5 1.3 .5-6.3 .5 7.4 .5-4.6 .5 4.5 .5-3.1 .5 6.4 .5-5.6 .5 5.2 .5-6.5 .5 5.4 .5-6.7 .5 6.4 .5-3.7 .5 3.1 .5-5.4 .5 4.1 .5-5.3 .5 6.3 .5-4.2 .5 3.5 .5-4.3 .5 3.8 .5-1.8 .5 3.5 .5-5.8 .5 5.8 .5-4.8 .5 6.1 .5-5.5 .5 5.8 .5-7.4 .5 6 .5-3.6 .5 2.2 .5-3.9 .5 5.1 .5-5.7 .5 4.8 .5-3.2 .5 4.7 .5-6 .5 5.7 .5-4.4 .5 4.3 .5-5.4 .5 4 .5-2 .5 2.6 .5-5.9 .5 7.7 .5-5.3 .5 5.4 .5-5.9 .5 5.1 .5-3.4 .5 4 .5-3.5 .5 4 .5-8.1 .5 6.7 .5-4.5 .5 4.8 .5-3.6 .5 3.1 .5-3.9 .5 4.3 .5-7.5 .5 6.9 .5-5 .5 5.9 .5-4.4 .5 2.1 .5-5.3 .5 7.9 .5-5.3 .5 5.9 .5-4.1 .5 2.2 .5-3.7 .5 6 .5-7.9 .5 6.9 .5-3.4 .5 3.2 .5-5 .5 4.2 .5-5.9 .5 7.3 .5-6.7 .5 4.9 .5-3.7 .5 4.6 .5-4.6 .5 5 .5-4.8 .5 5.5 .5-4.5 .5 4.4 .5-4.5 .5 3.7 .5-3 .5 4.5 .5-3.9 .5 4.5 .5-5.8 .5 4.3 .5-4.7 .5 5.2 .5-3.1 .5 2.3 .5-3.6 .5 4.2 .5-4 .5 6.5 .5-9.2 .5 6.2 .5-4.9 .5 5.5 .5-8.9 .5 7.4 .5-4.2 .5 4.2 .5-4.9 .5 5.4 .5-4.9 .5 4.4 .5-3.6 .5 4.6 .5-5.5 .5 6.5 .5-7.2 .5 4.2 .5-5.1 .5 3.8 .5-5 .5 7.1 .5-5.5 .5 7.5 .5-6.8 .5 3.6 .5-1 .5 4 .5-6.2 .5 3.2 .5-1.9 .5 4.3 .5-5.5 .5 5.5 .5-5.7 .5 5.9 .5-6.1 .5 4.9 .5-6.6 .5 8.1 .5-5.9 .5 4.3 .5-4.1 .5 5.4 .5-5 .5 4.6 .5-5.2 .5 3.1 .5-5.1 .5 6.8 .5-6.3 .5 4 .5-4.3 .5 3.6 .5-3.1 .5 2.2 .5-2.7 .5 4.5 .5-2.5 .5 3.1 .5-3.1 .5 5.7 .5-9.9 .5 6.2 .5-3.2 .5 4.3 .5-3.2 .5 2.2 .5-2.7 .5 3.6 .5-4.8 .5 4.1 .5-4.5 .5 4.4 .5-3.7 .5 4.3 .5-3.6 .5 3.3 .5-2.7 .5 1.8 .5-2.1 .5 3.8 .5-4.6 .5 7.2 .5-8 .5 3.4 .5-5.3 .5 7.5 .5-5.9 .5 5.6 .5-5.5 .5 6.4 .5-8 .5 7.8 .5-6.2 .5 5.6 .5-2.6 .5 1.6 .5-4.6 .5 6.3 .5-4.5 .5 4.2 .5-4.2 .5 4.6 .5-6 .5 4.1 .5-2.1 .5 2.2 .5-3.3 .5 3.5 .5-3.1 .5 3.2 .5-2.7 .5 2.4 .5-4.6 .5 4.4 .5-4.5 .5 4.3 .5-2 .5 2.3 .5-2.8 .5 2.9 .5-4.5 .5 4.5 .5-6.1 .5 7.5 .5-4.9 .5 4 .5-4.5 .5 3.4 .5-2.1 .5 4.2 .5-4.9 .5 3.8 .5-4.7 .5 4.5 .5-4.9 .5 8.3 .5-7.8 .5 3.3 .5-4.3 .5 5.5 .5-4.3 .5 3.6 .5-4.2 .5 4.5 .5-2.7 .5 4 .5-5.6 .5 4.8 .5-3.8 .5 3.2 .5-3.3 .5 5.5 .5-6.9 .5 2.9 .5-2.5 .5 4.4 .5-2.3 .5 3.3 .5-2.3 .5 4.2 .5-5.8 .5 4 .5-4.4 .5 3.8 .5-4 .5 3.5 .5-1.3 .5 5.3 .5-8 .5 4.3 .5-3.1 .5 4.7 .5-3.5 .5 3.7 .5-5.2 .5 5.7 .5-6.7 .5 7 .5-6.5 .5 4.8 .5-6.3 .5 4.8 .5-3.2 .5 3.5 .5-4.2 .5 3.5 .5-3.3 .5 6.1 .5-5.1 .5 3.4 .5-4.1 .5 2.4 .5-2.1 .5 4.8 .5-7.7 .5 5.8 .5-5.1 .5 5.6 .5-3.2 .5 3.5 .5-5.7 .5 7.3 .5-7.9 .5 6.6 .5-4 .5 4.7 .5-4.5 .5 6.1 .5-6.4 .5 4.7 .5-3.6 .5 3.5 .5-4.4 .5 4 .5-4.4 .5 2.9 .5-5.2 .5 5.5 .5-5 .5 5.3 .5-3 .5 3.9 .5-4.3 .5 3.9 .5-5.4 .5 6.2 .5-6.1 .5 3.9 .5-2.8 .5 5.2 .5-5.7 .5 1.3 .5-2.3 .5 3.1 .5-1.5 .5 1.8 .5-5.2 .5 3.9 .5-2.9 .5 3.5 .5-3.4 .5 4.8 .5-4.4 .5 6.7 .5-9.7 .5 5.1 .5-4.3 .5 5.3 .5-2.3 .5 3.8 .5-2.6 .5 2.8 .5-4 .5 4.4 .5-5.3 .5 7.4 .5-7 .5 2.6 .5-3.1 .5 3.4 .5-3.9 .5 5.2 .5-3.8 .5 4.4 .5-5.5 .5 3.6 .5-4.6 .5 5.3 .5-2.4 .5 3.3 .5-3.5 .5 2.5 .5-2.3 .5 3.7 .5-3.2 .5 4.7 .5-2.7 .5 5.3 .5-6.9 .5 3.9 .5-3.5 .5 4.7 .5-4 .5 5.2 .5-3.2 .5 3.9 .5-4.5 .5 4.8 .5-3.7 .5 3.2 .5-3.1 .5 2.7 .5-4.4 .5 4.8 .5-3.8 .5 3.9 .5-4.7 .5 3.6 .5-3 .5 4.9 .5-5.6 .5 5.7 .5-5.9 .5 3.9 .5-4.8 .5 4.9 .5-5.2 .5 4.7 .5-4.1 .5 4.3 .5-4.9 .5 4.1 .5-4.4 .5 5.9 .5-4.7" fill="none" stroke="#00ff00" stroke-width="1.1" /><path d="M668.8 231.9l.5-6 .5 5.3 .5-2.4 .5 2.8 .5-3 .5 5.8 .5-1.4 .5 5.8 .5-5.2 .5-.1 .5-2.4 .5 3.5 .5-1.6 .5 6.1 .5-6.9 .5 5.8 .5 0 .5 2.1 .5-6 .5-1.2 .5-3.7 .5 1.5 .5-1.6 .5 1.9 .5-4 .5 7.5 .5-6.1 .5 3.9 .5-4 .5 4.7 .5-5.2 .5 4.2 .5-4 .5 2.9 .5-4.5 .5 6.7 .5-6.8 .5 6.4 .5-3.8 .5 5.7 .5-3.1 .5 3.5 .5-6.2 .5 6.3 .5-4.7 .5-8 .5 4.9 .5 6.3 .5-3.3 .5 1.4 .5-4.5 .5 2.5 .5-3.4 .5 1 .5-7.2 .5 7.5 .5-4.7 .5 5 .5-2.3 .5 3.5 .5-7.6 .5 13.1 .5-4.3 .5 4.4 .5-4 .5 5 .5-4.4 .5 6.5 .5-5.3 .5 1.1 .5-5.2 .5 7.4 .5-5.2 .5 3 .5-3 .5 4.1 .5-6 .5 8.8 .5-6.9 .5 5.3 .5-8.2 .5 8.2 .5-9.5 .5 4.4 .5-6.6 .5 7.4 .5-7.7 .5 5.8 .5-5.6 .5 4.9 .5-7.3 .5 4.9 .5 1 .5 7.1 .5-9.9 .5 4.9 .5-2.9 .5 3.9 .5-5.5 .5 8.7 .5-6.9 .5 2.6 .5-1.5 .5 .9 .5-3.1 .5 4.3 .5-3.2 .5 5.5 .5-1.6 .5 7.4 .5-10 .5 5.3 .5-5.6 .5 1 .5-2.3 .5 2.7 .5-4 .5 4 .5-5.2 .5 5.1 .5-5.8 .5 6.5 .5-1.6 .5 3.9 .5-3.2 .5 5.3 .5-3.7 .5 8.4 .5-6.7 .5 4.9 .5-9.8 .5 4.6 .5-6.8 .5 5.5 .5-4.2 .5 5.7 .5-3.9 .5 7.6 .5-4.7 .5 3.9 .5-5.3 .5 6.4 .5-9.6 .5 7.6 .5-6.4 .5 3.7 .5-.6 .5 6.6 .5-9.4 .5 7.9 .5-4 .5 3.4 .5-5 .5 5.3 .5-4.6 .5 5 .5-4.7 .5 7.8 .5-9.1 .5 6 .5-4.4 .5 6.2 .5-5.5 .5 4 .5-1.8 .5 1.9 .5-9.4 .5 5.8 .5-3.7 .5 3.1 .5-8.1 .5 5.5 .5-11.4 .5 5.7 .5-.8 .5 9.3 .5-5.5 .5 8.7 .5-9.1 .5 15.2 .5-8.7 .5 2.2 .5-5.5 .5 5.4 .5-4.2 .5 1.9 .5-5.1 .5 8.2 .5-5.2 .5 11.1 .5-6.8 .5 2.9 .5-5.6 .5 7.4 .5-9.2 .5 11.6 .5-7.8 .5 5.5 .5-3.9 .5 4.7 .5-10.1 .5 12.3 .5-9.3 .5 7.9 .5-8.9 .5 12.4 .5-13.1 .5 5.3 .5-6.2 .5 12.6 .5-17.2 .5 11.4 .5-8.4 .5 9.2 .5-6.4 .5 2.5 .5-4.8 .5 8.6 .5-9 .5 12.1 .5-15.6 .5 12.9 .5-16.5 .5 13.8 .5-14.6 .5 9.2 .5-14.3 .5 22 .5-10.2 .5 13.5 .5-10.6 .5 10.4 .5-5.3 .5 8.9 .5-13.5 .5 8.7 .5-6.6 .5 8.3 .5-4.5 .5 3.6 .5-10.1 .5 31.4 .5-28.6 .5 3.2 .5-13.8 .5 15.6 .5-13.9 .5 3.5 .5-9.1 .5 11.5 .5-19.9 .5 17.4 .5-9.9 .5 11.1 .5-9.4 .5 12.3 .5-10.7 .5 10.2 .5-8.2 .5 10.5 .5-12 .5 8.2 .5-8.6 .5 7.8 .5-8.8 .5 3.3 .5-9.3 .5 15.2 .5-18.9 .5 15.6 .5 1.2 .5 7.1 .5-6.7 .5 16 .5-17.5 .5 10 .5-35.4 .5 31.2 .5-10.2 .5 12.5 .5-7.1 .5 9.5 .5-6.3 .5 5.7 .5-6.8 .5 4.8 .5-6.6 .5 .8 .5-7.3 .5 9.3 .5-11 .5 15.5 .5-15 .5 9.9 .5-5 .5 .3 .5-12.6 .5 10.2 .5-8.4 .5 14.6 .5-12.4 .5 3.8 .5-6.3 .5 26.5 .5-25.3 .5 19.8 .5-7.8 .5 11.6 .5-12.7 .5 5.3 .5-2.3 .5 14.6 .5-12.8 .5 11.3 .5-21.8 .5 4.6 .5-12.7 .5 22.6 .5-11.7 .5 5.4 .5-14.7 .5 9.5 .5-9.2 .5 9.4 .5-22.1 .5 20.7 .5-10.1 .5 8.2 .5-2.4 .5 2.8 .5-1.4 .5 21.6 .5-22.2 .5 17.8 .5-11.4 .5 20.4 .5-12.1 .5 8.8 .5-5.3 .5 3.9 .5-14.7 .5 17.7 .5-10.9 .5 7.4 .5-3.2 .5 9.1 .5-15 .5 16.4 .5-8.2 .5 7.6 .5 3.2 .5-3.9 .5-7.7 .5 2 .5-6.4 .5 13.8 .5-16.4 .5 20.7 .5-18.1 .5 7.7 .5 15.1 .5-23.4 .5-4 .5 13.7 .5-10.9 .5 3.9 .5-9.3 .5 17.1 .5-7.9 .5 6.8 .5-8.3 .5 17.3 .5-14 .5 13.3 .5-15.2 .5 6.7 .5-16.1 .5 12.6 .5-15.2 .5 9.3 .5-8 .5 5.8 .5-14.8 .5 19.8 .5-8.7 .5 4.8 .5-12.6 .5 12.1 .5-13.3 .5 11.8 .5-12.9 .5 8.1 .5-4.9 .5 11.5 .5-17.4 .5 18.7 .5-8.2 .5 8.1 .5-7.6 .5 9.3 .5-20.5 .5 14.6 .5-10.3 .5 5 .5-3.5 .5 16.4 .5-15.6 .5 3.1 .5-9.5 .5 20.1 .5-16.5 .5 6.4 .5-.9 .5 12.9 .5-12.8 .5 10.8 .5-13.4 .5 15.2 .5-9.2 .5-15.5 .5 13.9 .5 7.3 .5-4.4 .5 11.5 .5-16.8 .5 24.8 .5-15.2 .5-12.3 .5 6 .5 5 .5-17.9 .5 23.4 .5-9.1 .5 11.3 .5-13.3 .5 8.3 .5-4.7 .5 11 .5-10.6 .5 4.4 .5-4.2 .5 14 .5-16.2 .5 6.8 .5-5.2 .5 9.3 .5-9.6 .5 12.2 .5-15.6 .5 12.6 .5-11.1 .5 7.1 .5-12.2 .5 7.1 .5-9 .5 11.2 .5-15.5 .5 18.2 .5-12.8 .5 13.8 .5-16.5 .5 20.7 .5-12.3 .5 8.4 .5-9.3 .5 14.7 .5-14.5 .5 7.9 .5-9.3 .5 9.5 .5-11.7 .5 12.6 .5-10.3 .5 17 .5-12.8 .5 14.1 .5-13.5 .5 7.7 .5-6.8 .5 5.9 .5-10.5 .5 3.3 .5-4 .5 8.8 .5-3.9 .5 11.7 .5-22.1 .5 23.8 .5-23.8 .5 17.2 .5-13.3 .5 17.8 .5-15.6 .5 14.1 .5-17.2 .5 19.8 .5-16 .5 8.3 .5-10.4 .5 3.7 .5-2.5 .5 5.9 .5-8.4 .5 10.7 .5-3.2 .5 2.4 .5-9.3 .5 8.1 .5-16.4 .5 19.2 .5-20 .5 16.3 .5-10.8 .5 10.9 .5-19.7 .5 20.4 .5-5.2 .5 18.6 .5-19.3 .5 14.9 .5-10.2 .5 5 .5-13.4 .5 13.2 .5-10.9 .5 18.1 .5-23.1 .5 11.7 .5-7.9 .5 11.8 .5-11.5 .5 5.2 .5-3.9 .5 12.4 .5-22.8 .5 18.2 .5-12.1 .5 12.7 .5-4 .5-19.6 .5 12 .5 13.2 .5-2.2 .5 2.8 .5-12.4 .5 12.1 .5-8 .5 17.6 .5-3 .5 8.5 .5-9.1 .5 17.7 .5-24.7 .5-3.6 .5-18.7 .5 12 .5-11 .5 5.6 .5-5.6 .5 21.7 .5-11.9 .5 6.3 .5-7 .5 14.1 .5-9 .5 10.6 .5-5.5 .5 4.3 .5-10.2 .5 15.7 .5-9.9 .5 13.2 .5-16.5 .5 4.4 .5-8.5 .5 11.6 .5-9.3 .5 16.3 .5-10.6 .5 10.6 .5-15 .5 10 .5-14.1 .5 16.1 .5-16.1 .5 13.3 .5-8 .5 7.7 .5-4.8 .5 8.9 .5-21.9 .5 18.1 .5-11.7 .5 16.3 .5-12.7 .5-.4 .5-.6 .5 15.1 .5-27.2 .5 14.8 .5-7.1 .5 5.6 .5-3.3 .5 7 .5-6.4 .5 9.1 .5-20.6 .5 24.4 .5-21.6 .5 24.8 .5-16.8 .5 8 .5-24.9 .5-.1 .5-7.7 .5 17.7 .5-11.7 .5 18.9 .5-18.7 .5 12.2 .5-1.6 .5 19.8 .5-16.4 .5 13.2 .5-9.9 .5 18.8 .5-9.8 .5 17.5 .5-9.5 .5 7.3 .5-14.7 .5 3.1 .5-17.8 .5 15.2 .5-13.8 .5 16 .5-14.4 .5 5.2 .5-5.4 .5 12.2 .5-9.5 .5 7.9 .5-10.4 .5 9.3 .5-6.4 .5 8.9 .5-13.5 .5-3.6 .5 1.1 .5 8.6 .5-27.6 .5 25.9 .5-9.1 .5 11.4 .5-5.5 .5 12 .5-6.9 .5 18.1 .5-13.7 .5 7.8 .5-11.3 .5 9.1 .5-4.5 .5 10.5 .5-10.8 .5 1.6 .5-5.3 .5 8.7 .5-9.1 .5 7.5 .5-13.8 .5 8.9 .5-1 .5 10 .5-13 .5 12.3 .5-9.1 .5 9 .5-6 .5 4.7 .5-6.4 .5 7.6 .5-9.9 .5 8.7 .5-4.7 .5 4.1 .5-.6 .5 5.5 .5-6.9 .5 6.9 .5-12.6 .5-.9 .5-2.5 .5 8.8 .5-10 .5 8.4 .5-10.6 .5 7.3 .5-3.3 .5 4.4 .5-12.5 .5 7.7 .5-5.4 .5 12.9 .5-13.5 .5 7.3 .5-7 .5 6.5 .5 0 .5 6 .5-11.9 .5 12.3 .5-8.4 .5 7.6 .5-4.3 .5 2.6 .5-7.5 .5 3.8 .5-4.5 .5 1.2 .5-8.9 .5 7.4 .5-6.1 .5 7.2 .5-8.6 .5 10.7 .5-14.7 .5 15.7 .5-6.4 .5 8.5 .5-10.2 .5 6 .5-9.9 .5 14 .5-12.8 .5 15.1 .5-12.2 .5 11.5 .5-11.8 .5 15 .5-12.2 .5 8.2 .5-7.8 .5 10.2 .5-3.8 .5 4.7 .5-7.7 .5 7.6 .5-7 .5 8.6 .5-4.9 .5 6 .5-4.8 .5 2.1 .5-2.7 .5 6.1 .5-8.9 .5 4.2 .5-4.2 .5 10.6 .5-10 .5 6.2 .5-4.9 .5 2.5 .5-6.9 .5 6.8 .5-5.9 .5 4.9 .5-8.7 .5 7.8 .5-8.2 .5 7.8 .5-3.5 .5 6.7 .5-8.5 .5 8.8 .5-3.3 .5-.1 .5-4.1 .5 6.1 .5-9 .5 8.7 .5-1.4 .5 4.9 .5-12.1 .5 7.4 .5-.8 .5-.1 .5-5.7 .5 4.4 .5-8.7 .5 11.6 .5-10.5 .5 6.6 .5-4.2 .5 4.5 .5-10.1 .5 6.9 .5 1.6 .5 1.9 .5-6.7 .5 7.8 .5-6.9 .5 4.4 .5-1.3 .5 5.2 .5-6.9 .5 10.4 .5-8.6 .5 8.8 .5-13.9 .5 8.3 .5-4.8 .5 4.3 .5-3.2 .5 7.2 .5-5.3 .5 3.9 .5-7.9 .5 7 .5-5.3 .5 7.9 .5-2.9 .5 2.6 .5-5.7 .5 8.3 .5-7.5 .5 6.2 .5-.9 .5 3.8 .5-7.2 .5 7.1 .5-7.4 .5 3.2 .5-5.4 .5 5.5 .5-3 .5 11.3 .5-6.6 .5 6.9 .5-3.8 .5 1.8 .5-4.3 .5 5.3 .5-6.2 .5 8.8 .5-7.6 .5 6.2 .5-13.6 .5 10.1 .5-3.6 .5 5.5 .5-8 .5 16.6 .5-16.5 .5 4.5 .5-8.4 .5 9.4 .5-9.6 .5 .5 .5-2.5 .5 3.4 .5-6.3 .5 7.3 .5-1.5 .5-.9 .5-5.2 .5 7.7 .5-10.3 .5 9 .5-7 .5 6.9 .5-6.2 .5 9.2 .5-6.3 .5 2.9 .5-5.9 .5 7.5 .5-4.5 .5 7.6 .5-6.9 .5 4.3 .5-2.5 .5 4.9 .5-7 .5 8.3 .5-10.8 .5 7.3 .5-3.4 .5 2.4 .5-17.1 .5 17.4 .5-2.9 .5 3.7 .5-1.9 .5-2.4 .5-.9 .5 3.5 .5-3.1 .5 3.3 .5-3.5 .5 5.6 .5-5 .5 6.2 .5-7.9" fill="none" stroke="#ff0000" stroke-width="1.0" /></g><line x1="668.80" y1="218.40" x2="1122.50" y2="218.40" stroke="#000" stroke-width="1.5" stroke-dasharray="5.2 3.1"/><line x1="684.22" y1="189.48" x2="684.22" y2="193.48" stroke="#222" stroke-width="1.0" /><line x1="684.22" y1="263.32" x2="684.22" y2="259.32" stroke="#222" stroke-width="1.0" /><line x1="710.96" y1="189.48" x2="710.96" y2="193.48" stroke="#222" stroke-width="1.0" /><line x1="710.96" y1="263.32" x2="710.96" y2="259.32" stroke="#222" stroke-width="1.0" /><line x1="737.70" y1="189.48" x2="737.70" y2="200.48" stroke="#222" stroke-width="1.3" /><line x1="737.70" y1="263.32" x2="737.70" y2="252.32" stroke="#222" stroke-width="1.3" /><line x1="764.44" y1="189.48" x2="764.44" y2="193.48" stroke="#222" stroke-width="1.0" /><line x1="764.44" y1="263.32" x2="764.44" y2="259.32" stroke="#222" stroke-width="1.0" /><line x1="791.18" y1="189.48" x2="791.18" y2="193.48" stroke="#222" stroke-width="1.0" /><line x1="791.18" y1="263.32" x2="791.18" y2="259.32" stroke="#222" stroke-width="1.0" /><line x1="817.92" y1="189.48" x2="817.92" y2="200.48" stroke="#222" stroke-width="1.3" /><line x1="817.92" y1="263.32" x2="817.92" y2="252.32" stroke="#222" stroke-width="1.3" /><line x1="844.66" y1="189.48" x2="844.66" y2="193.48" stroke="#222" stroke-width="1.0" /><line x1="844.66" y1="263.32" x2="844.66" y2="259.32" stroke="#222" stroke-width="1.0" /><line x1="871.40" y1="189.48" x2="871.40" y2="193.48" stroke="#222" stroke-width="1.0" /><line x1="871.40" y1="263.32" x2="871.40" y2="259.32" stroke="#222" stroke-width="1.0" /><line x1="898.14" y1="189.48" x2="898.14" y2="200.48" stroke="#222" stroke-width="1.3" /><line x1="898.14" y1="263.32" x2="898.14" y2="252.32" stroke="#222" stroke-width="1.3" /><line x1="924.88" y1="189.48" x2="924.88" y2="193.48" stroke="#222" stroke-width="1.0" /><line x1="924.88" y1="263.32" x2="924.88" y2="259.32" stroke="#222" stroke-width="1.0" /><line x1="951.62" y1="189.48" x2="951.62" y2="193.48" stroke="#222" stroke-width="1.0" /><line x1="951.62" y1="263.32" x2="951.62" y2="259.32" stroke="#222" stroke-width="1.0" /><line x1="978.36" y1="189.48" x2="978.36" y2="200.48" stroke="#222" stroke-width="1.3" /><line x1="978.36" y1="263.32" x2="978.36" y2="252.32" stroke="#222" stroke-width="1.3" /><line x1="1005.10" y1="189.48" x2="1005.10" y2="193.48" stroke="#222" stroke-width="1.0" /><line x1="1005.10" y1="263.32" x2="1005.10" y2="259.32" stroke="#222" stroke-width="1.0" /><line x1="1031.84" y1="189.48" x2="1031.84" y2="193.48" stroke="#222" stroke-width="1.0" /><line x1="1031.84" y1="263.32" x2="1031.84" y2="259.32" stroke="#222" stroke-width="1.0" /><line x1="1058.58" y1="189.48" x2="1058.58" y2="200.48" stroke="#222" stroke-width="1.3" /><line x1="1058.58" y1="263.32" x2="1058.58" y2="252.32" stroke="#222" stroke-width="1.3" /><line x1="1085.32" y1="189.48" x2="1085.32" y2="193.48" stroke="#222" stroke-width="1.0" /><line x1="1085.32" y1="263.32" x2="1085.32" y2="259.32" stroke="#222" stroke-width="1.0" /><line x1="1112.06" y1="189.48" x2="1112.06" y2="193.48" stroke="#222" stroke-width="1.0" /><line x1="1112.06" y1="263.32" x2="1112.06" y2="259.32" stroke="#222" stroke-width="1.0" /><line x1="668.80" y1="259.80" x2="675.30" y2="259.80" stroke="#222" stroke-width="1" /><line x1="1122.50" y1="259.80" x2="1116.00" y2="259.80" stroke="#222" stroke-width="1" /><line x1="668.80" y1="256.35" x2="672.00" y2="256.35" stroke="#222" stroke-width="1" /><line x1="1122.50" y1="256.35" x2="1119.30" y2="256.35" stroke="#222" stroke-width="1" /><line x1="668.80" y1="252.90" x2="672.00" y2="252.90" stroke="#222" stroke-width="1" /><line x1="1122.50" y1="252.90" x2="1119.30" y2="252.90" stroke="#222" stroke-width="1" /><line x1="668.80" y1="249.45" x2="672.00" y2="249.45" stroke="#222" stroke-width="1" /><line x1="1122.50" y1="249.45" x2="1119.30" y2="249.45" stroke="#222" stroke-width="1" /><line x1="668.80" y1="246.00" x2="675.30" y2="246.00" stroke="#222" stroke-width="1" /><line x1="1122.50" y1="246.00" x2="1116.00" y2="246.00" stroke="#222" stroke-width="1" /><line x1="668.80" y1="242.55" x2="672.00" y2="242.55" stroke="#222" stroke-width="1" /><line x1="1122.50" y1="242.55" x2="1119.30" y2="242.55" stroke="#222" stroke-width="1" /><line x1="668.80" y1="239.10" x2="672.00" y2="239.10" stroke="#222" stroke-width="1" /><line x1="1122.50" y1="239.10" x2="1119.30" y2="239.10" stroke="#222" stroke-width="1" /><line x1="668.80" y1="235.65" x2="672.00" y2="235.65" stroke="#222" stroke-width="1" /><line x1="1122.50" y1="235.65" x2="1119.30" y2="235.65" stroke="#222" stroke-width="1" /><line x1="668.80" y1="232.20" x2="675.30" y2="232.20" stroke="#222" stroke-width="1" /><line x1="1122.50" y1="232.20" x2="1116.00" y2="232.20" stroke="#222" stroke-width="1" /><line x1="668.80" y1="228.75" x2="672.00" y2="228.75" stroke="#222" stroke-width="1" /><line x1="1122.50" y1="228.75" x2="1119.30" y2="228.75" stroke="#222" stroke-width="1" /><line x1="668.80" y1="225.30" x2="672.00" y2="225.30" stroke="#222" stroke-width="1" /><line x1="1122.50" y1="225.30" x2="1119.30" y2="225.30" stroke="#222" stroke-width="1" /><line x1="668.80" y1="221.85" x2="672.00" y2="221.85" stroke="#222" stroke-width="1" /><line x1="1122.50" y1="221.85" x2="1119.30" y2="221.85" stroke="#222" stroke-width="1" /><line x1="668.80" y1="218.40" x2="675.30" y2="218.40" stroke="#222" stroke-width="1" /><line x1="1122.50" y1="218.40" x2="1116.00" y2="218.40" stroke="#222" stroke-width="1" /><line x1="668.80" y1="214.95" x2="672.00" y2="214.95" stroke="#222" stroke-width="1" /><line x1="1122.50" y1="214.95" x2="1119.30" y2="214.95" stroke="#222" stroke-width="1" /><line x1="668.80" y1="211.50" x2="672.00" y2="211.50" stroke="#222" stroke-width="1" /><line x1="1122.50" y1="211.50" x2="1119.30" y2="211.50" stroke="#222" stroke-width="1" /><line x1="668.80" y1="208.05" x2="672.00" y2="208.05" stroke="#222" stroke-width="1" /><line x1="1122.50" y1="208.05" x2="1119.30" y2="208.05" stroke="#222" stroke-width="1" /><line x1="668.80" y1="204.60" x2="675.30" y2="204.60" stroke="#222" stroke-width="1" /><line x1="1122.50" y1="204.60" x2="1116.00" y2="204.60" stroke="#222" stroke-width="1" /><line x1="668.80" y1="201.15" x2="672.00" y2="201.15" stroke="#222" stroke-width="1" /><line x1="1122.50" y1="201.15" x2="1119.30" y2="201.15" stroke="#222" stroke-width="1" /><line x1="668.80" y1="197.70" x2="672.00" y2="197.70" stroke="#222" stroke-width="1" /><line x1="1122.50" y1="197.70" x2="1119.30" y2="197.70" stroke="#222" stroke-width="1" /><line x1="668.80" y1="194.25" x2="672.00" y2="194.25" stroke="#222" stroke-width="1" /><line x1="1122.50" y1="194.25" x2="1119.30" y2="194.25" stroke="#222" stroke-width="1" /><line x1="668.80" y1="190.80" x2="675.30" y2="190.80" stroke="#222" stroke-width="1" /><line x1="1122.50" y1="190.80" x2="1116.00" y2="190.80" stroke="#222" stroke-width="1" /><text x="666.00" y="194.50" font-size="10.7" text-anchor="end" fill="#000" >400</text><text x="666.00" y="208.30" font-size="10.7" text-anchor="end" fill="#000" >200</text><text x="666.00" y="222.10" font-size="10.7" text-anchor="end" fill="#000" >0</text><text x="666.00" y="235.90" font-size="10.7" text-anchor="end" fill="#000" >-200</text><text x="666.00" y="249.70" font-size="10.7" text-anchor="end" fill="#000" >-400</text><text x="666.00" y="263.50" font-size="10.7" text-anchor="end" fill="#000" >-600</text><rect x="668.80" y="189.48" width="453.70" height="73.84" fill="none" stroke="#000" stroke-width="1.35"/><line x1="674.50" y1="198.00" x2="692.00" y2="198.00" stroke="#4040ff" stroke-width="1.0"/><text x="693.5" y="202.0" font-size="10" fill="#2020ff">V<tspan font-size="7.5" dy="3">L</tspan></text><text transform="translate(636.50,226.80) rotate(-90)" font-size="11" text-anchor="middle" fill="#000">V<tspan font-size="8" dy="2.5">e LMN</tspan><tspan dy="-2.5" font-size="1">&#8203;</tspan> [km/s]</text><line x1="733.60" y1="269.32" x2="733.60" y2="337.16" stroke="#00aa00" stroke-width="1.3" stroke-dasharray="10 4.4"/><line x1="900.40" y1="269.32" x2="900.40" y2="337.16" stroke="#00aa00" stroke-width="1.3" stroke-dasharray="10 4.4"/><line x1="775.40" y1="269.32" x2="775.40" y2="337.16" stroke="#ff4848" stroke-width="1.7" stroke-dasharray="11 4"/><line x1="858.70" y1="269.32" x2="858.70" y2="337.16" stroke="#ff0000" stroke-width="1.3" stroke-dasharray="11 4"/><line x1="771.80" y1="269.32" x2="771.80" y2="337.16" stroke="#0000ff" stroke-width="1.3" stroke-dasharray="2 3.4"/><line x1="826.60" y1="269.32" x2="826.60" y2="337.16" stroke="#ff00ff" stroke-width="1.5" stroke-dasharray="2 3.4"/><line x1="944.30" y1="269.32" x2="944.30" y2="337.16" stroke="#ff00ff" stroke-width="1.5" stroke-dasharray="2 3.4"/><g clip-path="url(#cm3)"><path d="M668.8 322.2l.7-1.8 .7 5.3 .7-2 .7 3.1 .7-7.3 .7 4.1 .7-4.4 .7 2.7 .7-6.7 .7 7.3 .7-2.4 .7 .6 .7-.6 .7 .1 .7-3.9 .7 7.8 .7-4 .7 4.1 .7-3.7 .7 .3 .7 .6 .7 2.5 .7-5.8 .7 5.5 .7 .6 .7-.2 .7-6.2 .7 3.4 .7-3.1 .7 4.5 .7-5.8 .7 4.4 .7 .2 .7 4.7 .7-4.9 .7 2.4 .7-2.4 .7 3.1 .7-2.6 .7 3.7 .7-5 .7 4.2 .7-1 .7 2.7 .7-5.2 .7 5.2 .7-2.8 .7-1.5 .7-1 .7-3.8 .7-4.8 .7 4 .7-2 .7 .9 .7-2.9 .7 3 .7-4.4 .7 5 .7-1.9 .7 5.7 .7-1.8 .7 2.2 .7-2.9 .7-.1 .7-2.9 .7 .5 .7-6.2 .7 5.6 .7-1.2 .7 7.7 .7-4.2 .7 3.6 .7 .9 .7 1.6 .7-3.4 .7 3.7 .7-3.8 .7 7.4 .7-6.6 .7 3.9 .7-8.7 .7 2.6 .7-4.7 .7 4.2 .7-3.2 .7 3.8 .7-4.6 .7 4.4 .7 2.3 .7 .9 .7-.8 .7 4.9 .7 .1 .7 .3 .7 .6 .7-2 .7-2.8 .7 4.9 .7-4.6 .7 2.3 .7-4.8 .7 1.5 .7-.7 .7 1.8 .7-3.7 .7 1 .7-2.5 .7 3.9 .7-3.8 .7 1.9 .7-4.4 .7 2.1 .7-3.3 .7 .7 .7-1.3 .7 6 .7-3.2 .7-1 .7-3.8 .7 4.3 .7 1.9 .7 3.3 .7-8 .7 9.7 .7 .1 .7 3.4 .7-2.7 .7 1.6 .7-3.2 .7 5.1 .7-7.6 .7 1.2 .7-8.6 .7-3.5 .7-9.5 .7 1.7 .7-2.9 .7 5.7 .7 2.8 .7 6.2 .7-5 .7-1.9 .7-8.2 .7 .5 .7-3.8 .7 10 .7 2 .7 5.2 .7 5.8 .7 6.3 .7-.5 .7-5.9 .7-15.8 .7-3.4 .7 6.8 .7 13.7 .7 .1 .7 4.1 .7-4.3 .7 1.5 .7-8.7 .7 4.6 .7-3.7 .7-3.1 .7-5.3 .7-1.7 .7-7 .7 8 .7-4.3 .7 8.1 .7 .3 .7 3.1 .7-2.6 .7 4.4 .7-1.9 .7 .9 .7-2.7 .7 5.2 .7-7.2 .7 6.5 .7-4.1 .7 3.8 .7-3.9 .7 5.1 .7-3.7 .7-2 .7-3.2 .7-1.2 .7-6.2 .7 4.1 .7-1.7 .7 7.3 .7 1.6 .7 1.7 .7 .1 .7 3.2 .7-6.4 .7-.4 .7-4.1 .7 3.8 .7-.3 .7 7 .7-4.6 .7 5.1 .7-4.1 .7 .8 .7-4.6 .7 1 .7-2.4 .7 5.4 .7-1.5 .7 3.2 .7-.9 .7 2.3 .7 1.4 .7 7.8 .7-3.6 .7 1.8 .7-8 .7 2.7 .7-9.3 .7 4.7 .7-4.8 .7-2.7 .7-2.2 .7 2 .7-3.4 .7 8.4 .7 .7 .7 8.7 .7-2.7 .7 7.2 .7 .1 .7 7.8 .7-9.7 .7-.7 .7-4.2 .7-3.3 .7-5.3 .7-.3 .7-7.6 .7-2.3 .7-5.7 .7 4.8 .7-1.7 .7 3.1 .7-1.6 .7 3 .7 .6 .7 6.5 .7-4.2 .7 5.9 .7 1 .7 5.4 .7-1.6 .7 5.6 .7-4.2 .7 4.4 .7-4.7 .7 .4 .7-9.4 .7-.2 .7-10.4 .7 2.3 .7-10.8 .7 9.7 .7 .9 .7 8.7 .7-2.3 .7 9 .7 5.4 .7 4.1 .7-2.3 .7 3.6 .7-8.3 .7-.5 .7-6.3 .7 3.5 .7-4.8 .7 3.1 .7-3.1 .7 1.6 .7 3.1 .7-.3 .7-6.1 .7 2.8 .7-4.1 .7 6.4 .7-4.1 .7 6.9 .7-2.1 .7 4.5 .7-.9 .7 5.7 .7-3.4 .7 3.9 .7-.5 .7 2.4 .7 1.9 .7 2 .7-3.9 .7-1.5 .7-7 .7-1.2 .7-13.5 .7-3.1 .7-8.1 .7 3.2 .7-7.6 .7-1.6 .7-4.9 .7 8.7 .7 4.1 .7 11.3 .7 2.9 .7 6.2 .7-1 .7 2.3 .7-5.8 .7 2 .7-4.8 .7 2.3 .7-1.9 .7 4 .7 .2 .7 3.2 .7 1 .7 1.7 .7-4.4 .7 .3 .7-4.1 .7 .6 .7-2.1 .7 .8 .7-4.6 .7 11.5 .7-4.9 .7 3.1 .7-.5 .7-3.3 .7-5.3 .7 1.4 .7-4.6 .7 6.9 .7 7.3 .7 7.3 .7-7.3 .7-1.6 .7-7.6 .7-2.5 .7-5.4 .7 1.6 .7-4.8 .7 1.8 .7-1.3 .7 4.4 .7 .1 .7 3.2 .7 .6 .7 4.3 .7-.1 .7 2.2 .7-3.5 .7 2.3 .7-2.5 .7-1.7 .7-10.8 .7 6.3 .7-4.6 .7 6.2 .7-2.8 .7 5.3 .7-9.7 .7 2.7 .7-9.5 .7-1.9 .7-7 .7 5.1 .7-.8 .7 9.5 .7 1.8 .7 8.5 .7-7.5 .7 11.7 .7-3.4 .7-.7 .7-9.4 .7-5.4 .7-7.6 .7-1.8 .7-.7 .7-1.5 .7-1.7 .7 4.7 .7-.3 .7 9.4 .7 3.8 .7 4.9 .7-7.7 .7-1.4 .7-7.1 .7-4.5 .7-6 .7 5.9 .7-2.7 .7 6.3 .7 1.6 .7 7 .7-.4 .7 4.6 .7-7.9 .7-2 .7-6.9 .7-3 .7-2.8 .7 5.6 .7-2.7 .7 5.8 .7-3.3 .7 7.2 .7-1.2 .7 6.5 .7-1.7 .7 9.8 .7 2.4 .7 9.2 .7-4.1 .7 4.2 .7-2.8 .7 2.2 .7-2.1 .7 3.9 .7-2.4 .7 1.9 .7-1.6 .7 3.5 .7-.1 .7 3.5 .7-4.7 .7 2.9 .7-5.6 .7 1.3 .7-8.9 .7-2.9 .7-13 .7-.7 .7-9 .7 .8 .7 1 .7 6.3 .7-1.7 .7 5.7 .7-.6 .7-.4 .7-6.2 .7 4.7 .7-3.6 .7 5.5 .7-2.1 .7 9 .7-.1 .7 5.3 .7-4.3 .7 7.3 .7-7.9 .7-.7 .7-.5 .7 8.9 .7-2.2 .7 7.6 .7-3.6 .7-1.3 .7-8.4 .7-2.9 .7-1.8 .7 11.7 .7-1.5 .7 4.1 .7-3.3 .7-7.1 .7-4.9 .7 7.4 .7-4.4 .7 4.1 .7 .5 .7 6.1 .7-.8 .7 5.5 .7-.3 .7 2.8 .7-3.7 .7 1.6 .7-6.5 .7-.3 .7 .2 .7 1.6 .7-.6 .7 8.8 .7-2 .7 2.7 .7-1.4 .7 .6 .7-4.6 .7-3.1 .7-3.8 .7 5.1 .7-2.7 .7 1 .7-6.3 .7 5.1 .7-6.3 .7 8.2 .7-6.2 .7 2.3 .7-.8 .7 3.3 .7 .8 .7 3.5 .7-.1 .7 4.3 .7-.9 .7 2.9 .7-1.9 .7 0 .7-5 .7 0 .7-4.3 .7 3.8 .7-1.3 .7-.4 .7 2.2 .7 3.3 .7-1.6 .7 .2 .7-6.4 .7 3.6 .7 .9 .7 2.2 .7-3 .7 4.8 .7-1.4 .7 1.9 .7-5.2 .7 2.6 .7-7.6 .7 2.4 .7-3.7 .7 3.7 .7-4.9 .7 2.5 .7-.2 .7-1.2 .7-5.7 .7 4.2 .7-1.8 .7 1.3 .7-5.1 .7 3.4 .7-2.4 .7 5.4 .7-.9 .7 7.6 .7-4.9 .7 3.9 .7 .4 .7 4 .7-7.5 .7 4 .7-5.3 .7 4 .7 .1 .7 .2 .7-2.9 .7 1.7 .7-.4 .7 3.3 .7-3.2 .7 1.4 .7-5.1 .7 5.1 .7-4.4 .7 4.8 .7-6.6 .7 4.2 .7-7.5 .7 7 .7-4.5 .7 1.2 .7-.5 .7 3.2 .7 .1 .7 2.9 .7-1.3 .7 4.1 .7 .4 .7 3.7 .7-3.2 .7 6.4 .7-1.4 .7 1.1 .7-4.4 .7-.4 .7-1.4 .7 5.1 .7-15.4 .7 8.5 .7-2.7 .7 2 .7-4.6 .7 6.6 .7-3.9 .7 1.2 .7-4.6 .7 4.9 .7-1.7 .7 3.5 .7-.3 .7 2.1 .7 1.6 .7 1.8 .7 2.4 .7 2.2 .7-.7 .7 1.9 .7-4.7 .7 3.1 .7 1.2 .7 7.8 .7-13.2 .7 6.2 .7-3.9 .7 6.2 .7-5.4 .7-.5 .7-2.9 .7 3.2 .7-3.9 .7-.4 .7-3.8 .7 3.6 .7-3.4 .7 12.9 .7-6.4 .7 2.1 .7-3.4 .7 3.5" fill="none" stroke="#ff1010" stroke-width="0.9" /><path d="M668.8 326.3l.5-.5 .5-.1 .5 0 .5-.1 .5 .8 .5-.7 .5 2 .5-.1 .5-.6 .5 .7 .5-1.2 .5-.1 .5 1.6 .5 .1 .5-1.4 .5-.4 .5 1.7 .5 .1 .5-1.2 .5 1.3 .5 .2 .5-.7 .5 .8 .5-.5 .5-.7 .5 .1 .5-1.2 .5 .8 .5 1.7 .5-1.5 .5 .8 .5-1 .5-.4 .5 1.3 .5-.8 .5-.7 .5 .9 .5 1 .5-.8 .5-.1 .5 .6 .5 .2 .5-.6 .5-.6 .5-1.1 .5-.4 .5 2 .5-.4 .5-3.2 .5 1.6 .5 .3 .5 .6 .5-.1 .5 .2 .5-1.9 .5 .7 .5 .2 .5 1.3 .5 .5 .5 1 .5 .1 .5 .9 .5 .4 .5-2 .5 .6 .5-.9 .5 1.7 .5-1.4 .5 .2 .5 0 .5 1.5 .5 1.4 .5-2 .5-.8 .5 .6 .5-.3 .5-.6 .5 .4 .5 .5 .5 .3 .5-.8 .5-1.1 .5 1.2 .5-1.6 .5-.8 .5 1.1 .5 .6 .5 .4 .5-1.6 .5 1 .5-1.4 .5 1 .5-.3 .5 1.1 .5 .9 .5-.1 .5-.8 .5-1.6 .5 2 .5-.9 .5 0 .5 1 .5 .2 .5-.6 .5 .8 .5-.4 .5 .2 .5 .3 .5 .6 .5 .4 .5-1.4 .5 .6 .5 .8 .5-.6 .5-1.3 .5 .2 .5 .5 .5-.3 .5 1.4 .5-3.3 .5 3.8 .5-1.4 .5-.1 .5 .2 .5 .4 .5 1.4 .5 .6 .5-3.2 .5 .2 .5 .8 .5 1.7 .5 1.3 .5-.9 .5-.7 .5 1.9 .5-.8 .5-.6 .5-.1 .5 0 .5-.9 .5 1.6 .5-.8 .5 1.9 .5-2.1 .5 .4 .5-1.5 .5 1.7 .5 .2 .5 .3 .5-.9 .5 1.1 .5-1.7 .5-.5 .5-1.2 .5-.8 .5 .5 .5-1.3 .5 .3 .5 .7 .5-.3 .5-1.5 .5-1.1 .5 1.2 .5-.3 .5 1 .5-2.4 .5 1.5 .5-.5 .5 0 .5 2.1 .5-1.4 .5-.4 .5 .7 .5 .2 .5 1.3 .5 .2 .5 .6 .5-1.5 .5 .5 .5-1.3 .5 2.3 .5 .3 .5 1.2 .5 .9 .5-.4 .5-.4 .5 .8 .5-1.1 .5 2 .5-2.4 .5 2.3 .5-.6 .5-1.6 .5-.9 .5-2.1 .5-.2 .5-.8 .5 1.9 .5 1.3 .5 1.6 .5 0 .5-.3 .5 1.9 .5-.7 .5 1.4 .5-1.6 .5 2.3 .5-1.3 .5-.4 .5 .5 .5-1.3 .5 1.5 .5-1.8 .5 1.1 .5-2.1 .5 .6 .5-1.4 .5 .2 .5-2.2 .5 .9 .5-2.3 .5 1.7 .5-.4 .5 .8 .5-1.5 .5 .5 .5 .2 .5-1.4 .5 .4 .5 1.1 .5 .2 .5 .6 .5 .7 .5-2.3 .5 .3 .5 2.6 .5-.7 .5 .4 .5-.9 .5 .4 .5-.1 .5-.9 .5 .6 .5-1.1 .5 2.3 .5 .6 .5-1.7 .5 1 .5 .7 .5-.9 .5-.7 .5-.6 .5 1.5 .5 1.4 .5-.7 .5-.8 .5 1.2 .5-.4 .5-.6 .5-.6 .5 1.5 .5-1.9 .5 .1 .5-2 .5 1.1 .5 .1 .5-.7 .5-1.3 .5 .4 .5-2 .5 3.1 .5-1.9 .5 2.6 .5 .5 .5-.8 .5-.9 .5 2.5 .5 0 .5 .2 .5 1.7 .5-.8 .5-2.4 .5-.4 .5 .5 .5-1 .5-1.3 .5-2.7 .5-2.8 .5 0 .5-.9 .5 .2 .5 1.5 .5 1.6 .5 .7 .5 1.2 .5 .2 .5 3 .5-.6 .5-.2 .5-3.6 .5 2.1 .5 1.5 .5-1.9 .5-.1 .5 .3 .5-.3 .5-.3 .5 .8 .5 1.8 .5-.4 .5 .1 .5 .2 .5 .7 .5 1.7 .5-2.1 .5-.4 .5 .5 .5 1 .5-.9 .5-1.4 .5 1.9 .5-.1 .5-.9 .5 .6 .5-.1 .5-.8 .5 .4 .5-1.3 .5 1.1 .5 0 .5 1.5 .5 1.1 .5 .6 .5-1.2 .5-.5 .5 1.2 .5 .7 .5 .5 .5-1.1 .5-.2 .5-.1 .5 .2 .5-1.2 .5-.6 .5 .2 .5-.2 .5 1.7 .5-1.2 .5-.7 .5-.1 .5 3 .5-.1 .5-2.4 .5 .9 .5 1 .5 2 .5 .1 .5-.3 .5-1.8 .5 .5 .5 1.4 .5-2 .5-.8 .5-.4 .5 1.1 .5-1.3 .5-.4 .5 .3 .5-.1 .5 2.1 .5 0 .5-1.6 .5 1.1 .5-.7 .5-.2 .5 .5 .5 1 .5 1.1 .5-1.4 .5 1.5 .5-1.2 .5 .7 .5 .9 .5-2.1 .5-1.2 .5-2 .5-1.5 .5 .6 .5-1.1 .5-2.1 .5-.3 .5 .4 .5-.5 .5 1.7 .5 1.4 .5-1.2 .5 1.4 .5 .5 .5 .3 .5 .1 .5 2.5 .5 .4 .5-.9 .5 1.8 .5 1.3 .5-.2 .5 1.3 .5 .3 .5-.8 .5-.7 .5-1.3 .5 .9 .5 1.1 .5-1.5 .5 1.4 .5-.7 .5-.3 .5 0 .5-1.5 .5 2.1 .5-.9 .5 .3 .5 1.1 .5-.5 .5-1.8 .5 1 .5 1 .5-.1 .5-.1 .5-.6 .5 .1 .5 1.5 .5-.6 .5-.1 .5-.3 .5-.1 .5 .6 .5 .8 .5 .3 .5 0 .5 .2 .5-.9 .5 .5 .5-.6 .5-.1 .5-1.1 .5 2 .5-.8 .5-.5 .5-.1 .5-.1 .5-1.8 .5 1.8 .5 1.5 .5-1.7 .5-.4 .5-1.8 .5 2.1 .5-.3 .5 .1 .5-3 .5 .5 .5 1.8 .5 0 .5 .2 .5-2.8 .5 1.9 .5 .7 .5-.5 .5 .9 .5-1 .5 .1 .5-1.1 .5 1.4 .5-1.1 .5 1.5 .5 .7 .5-1.9 .5-.5 .5 .5 .5 .4 .5-1.1 .5 .2 .5 .1 .5 2.7 .5-.8 .5-1.5 .5 .8 .5 .3 .5-.5 .5 1.9 .5-.5 .5 .2 .5-.6 .5 .8 .5 .8 .5 .2 .5 0 .5-.6 .5-2.1 .5 1.9 .5-.2 .5 .4 .5-1.3 .5 .2 .5-.8 .5 1.1 .5-.3 .5 .2 .5 .8 .5-1.2 .5-.8 .5 .6 .5 1 .5 .6 .5-.4 .5-1.9 .5-1.4 .5 1.6 .5 2.3 .5-.3 .5-1.4 .5 1.7 .5 1.2 .5-1.8 .5 .7 .5 .7 .5-1 .5 1 .5 .1 .5-1.7 .5 .1 .5-.8 .5 .8 .5-1 .5-1 .5 1.8 .5-.3 .5-1.8 .5 .7 .5 1.5 .5 .4 .5-1.4 .5-1 .5 .4 .5 1.8 .5-1.1 .5 1.2 .5 .6 .5 .4 .5-1.3 .5-.3 .5 .9 .5-.5 .5 1.5 .5-.8 .5 .5 .5-.3 .5 .6 .5-.1 .5 .3 .5-.7 .5 .3 .5-1.4 .5-.1 .5 1.6 .5-.9 .5-.2 .5 0 .5 2.1 .5-1.6 .5-.4 .5 .4 .5-1.9 .5 2.1 .5 2 .5-2.7 .5-.5 .5 1.2 .5 .2 .5 1 .5-.7 .5-.6 .5-1.3 .5-.3 .5 1.6 .5-1.8 .5-.1 .5-3 .5 2.8 .5-1.4 .5-1.3 .5 .3 .5 .3 .5 .5 .5-1.9 .5 3.3 .5-1.1 .5 1.4 .5-.2 .5-.5 .5 .8 .5 0 .5 1 .5-3 .5 2.7 .5-1.7 .5-.5 .5 1.8 .5-1 .5-.6 .5-.6 .5-.4 .5 .3 .5 .4 .5 0 .5-1 .5 1 .5-2 .5-.3 .5 1.3 .5 .9 .5-.1 .5 .7 .5-1 .5 .7 .5-1.3 .5 .8 .5 1.9 .5-.9 .5-.5 .5 1.8 .5 .4 .5-1.8 .5-1.5 .5 1.9 .5-.4 .5-1 .5 1.4 .5-.3 .5 .7 .5-.9 .5-.5 .5-2 .5 1.9 .5-1.5 .5 .7 .5 .9 .5-.8 .5 .4 .5 1.1 .5-2.3 .5-.1 .5-1.2 .5 1.2 .5 .6 .5-1.2 .5 2.4 .5-.9 .5-1 .5 .6 .5 2.7 .5-2.5 .5 2.2 .5-.3 .5 .1 .5 1.6 .5 1.1 .5-2 .5 .5 .5 .9 .5 .7 .5-.8 .5 .7 .5-1.8 .5 1.3 .5-1.3 .5-.3 .5 .1 .5-1 .5-.5 .5-.9 .5 1.3 .5-1.4 .5-1 .5-.6 .5 0 .5 1.4 .5-.1 .5-.5 .5-.7 .5-.1 .5 2.1 .5 0 .5-1.7 .5 .3 .5 1.7 .5-1.4 .5-.5 .5-.6 .5 1.8 .5-1.7 .5 2.3 .5-1.8 .5 .2 .5 1.8 .5-.2 .5 .4 .5 .4 .5-.1 .5 1 .5-1.5 .5 .4 .5-1.7 .5 1.5 .5 .6 .5-1.2 .5-.1 .5 1.6 .5-.8 .5-1.6 .5 1.8 .5 .1 .5-1.1 .5-.3 .5-1.2 .5 .8 .5-.3 .5 .1 .5 1.4 .5-.2 .5-1.1 .5-.8 .5 0 .5 3 .5-3.3 .5-.5 .5-.5 .5-.3 .5 .1 .5 .4 .5 1.1 .5 .7 .5-.9 .5-.4 .5 .8 .5-1.2 .5 1 .5-.5 .5 1.9 .5-1.4 .5 .5 .5-.4 .5 .9 .5-.1 .5-.1 .5 .4 .5 .5 .5 .7 .5 1.7 .5-2.6 .5 2.6 .5-1.3 .5 .7 .5-.7 .5 1.3 .5 0 .5-.2 .5-.1 .5 .3 .5 .6 .5-.8 .5 1.5 .5-.9 .5-.6 .5-1.3 .5 .8 .5 1.1 .5-1.1 .5 0 .5 .7 .5-.2 .5-.2 .5 .3 .5 .8 .5-2 .5-.1 .5 0 .5 .4 .5 1.5 .5-.8 .5 .2 .5-1.6 .5 .6 .5-.9 .5 .2 .5 .4 .5-1.8 .5 1.8 .5-.7 .5 .4 .5 .3 .5-.5 .5 1.1 .5-.7 .5 2.2 .5-1.3 .5-.4 .5 0 .5 1.4 .5 .2 .5-.8 .5 .4 .5 1.1 .5-1.5 .5 .2 .5-.9 .5 0 .5 1 .5 1.4 .5-1.2 .5-.6 .5-1.2 .5 1.1 .5 .1 .5 .1 .5-.5 .5-2.2 .5 1.5 .5-1 .5 .1 .5 .4 .5-1.2 .5-1.3 .5 .8 .5-.3 .5-.7 .5 .5 .5 .6 .5-.6 .5-.6 .5 1.2 .5-1.8 .5 1.2 .5 .3 .5 .8 .5 0 .5 .3 .5-.4 .5-.1 .5 1.4 .5-.7 .5 1.5 .5-1.9 .5 .7 .5 .5 .5 1.5 .5-1.1 .5 1.3 .5-.9 .5-.6 .5-.2 .5-.1 .5 .4 .5 .6 .5-.8 .5 .3 .5-.8 .5 1 .5-.3 .5-.5 .5 1.4 .5 0 .5 1.2 .5-.8 .5-.3 .5 1.2 .5-.9 .5 1 .5 1.9 .5-2 .5 1.4 .5-1.3 .5 .1 .5-1.2 .5 2.8 .5-1.7 .5-.4 .5 .5 .5-.3 .5-1.3 .5-1 .5 2.1 .5-1.1 .5 1.4 .5-.8 .5 .1 .5 .2 .5 .3 .5-.8 .5 .5 .5-1.2 .5-.8 .5 .7 .5 .6" fill="none" stroke="#000" stroke-width="1.4" /></g><line x1="684.22" y1="263.32" x2="684.22" y2="267.32" stroke="#222" stroke-width="1.0" /><line x1="684.22" y1="337.16" x2="684.22" y2="333.16" stroke="#222" stroke-width="1.0" /><line x1="710.96" y1="263.32" x2="710.96" y2="267.32" stroke="#222" stroke-width="1.0" /><line x1="710.96" y1="337.16" x2="710.96" y2="333.16" stroke="#222" stroke-width="1.0" /><line x1="737.70" y1="263.32" x2="737.70" y2="274.32" stroke="#222" stroke-width="1.3" /><line x1="737.70" y1="337.16" x2="737.70" y2="326.16" stroke="#222" stroke-width="1.3" /><line x1="764.44" y1="263.32" x2="764.44" y2="267.32" stroke="#222" stroke-width="1.0" /><line x1="764.44" y1="337.16" x2="764.44" y2="333.16" stroke="#222" stroke-width="1.0" /><line x1="791.18" y1="263.32" x2="791.18" y2="267.32" stroke="#222" stroke-width="1.0" /><line x1="791.18" y1="337.16" x2="791.18" y2="333.16" stroke="#222" stroke-width="1.0" /><line x1="817.92" y1="263.32" x2="817.92" y2="274.32" stroke="#222" stroke-width="1.3" /><line x1="817.92" y1="337.16" x2="817.92" y2="326.16" stroke="#222" stroke-width="1.3" /><line x1="844.66" y1="263.32" x2="844.66" y2="267.32" stroke="#222" stroke-width="1.0" /><line x1="844.66" y1="337.16" x2="844.66" y2="333.16" stroke="#222" stroke-width="1.0" /><line x1="871.40" y1="263.32" x2="871.40" y2="267.32" stroke="#222" stroke-width="1.0" /><line x1="871.40" y1="337.16" x2="871.40" y2="333.16" stroke="#222" stroke-width="1.0" /><line x1="898.14" y1="263.32" x2="898.14" y2="274.32" stroke="#222" stroke-width="1.3" /><line x1="898.14" y1="337.16" x2="898.14" y2="326.16" stroke="#222" stroke-width="1.3" /><line x1="924.88" y1="263.32" x2="924.88" y2="267.32" stroke="#222" stroke-width="1.0" /><line x1="924.88" y1="337.16" x2="924.88" y2="333.16" stroke="#222" stroke-width="1.0" /><line x1="951.62" y1="263.32" x2="951.62" y2="267.32" stroke="#222" stroke-width="1.0" /><line x1="951.62" y1="337.16" x2="951.62" y2="333.16" stroke="#222" stroke-width="1.0" /><line x1="978.36" y1="263.32" x2="978.36" y2="274.32" stroke="#222" stroke-width="1.3" /><line x1="978.36" y1="337.16" x2="978.36" y2="326.16" stroke="#222" stroke-width="1.3" /><line x1="1005.10" y1="263.32" x2="1005.10" y2="267.32" stroke="#222" stroke-width="1.0" /><line x1="1005.10" y1="337.16" x2="1005.10" y2="333.16" stroke="#222" stroke-width="1.0" /><line x1="1031.84" y1="263.32" x2="1031.84" y2="267.32" stroke="#222" stroke-width="1.0" /><line x1="1031.84" y1="337.16" x2="1031.84" y2="333.16" stroke="#222" stroke-width="1.0" /><line x1="1058.58" y1="263.32" x2="1058.58" y2="274.32" stroke="#222" stroke-width="1.3" /><line x1="1058.58" y1="337.16" x2="1058.58" y2="326.16" stroke="#222" stroke-width="1.3" /><line x1="1085.32" y1="263.32" x2="1085.32" y2="267.32" stroke="#222" stroke-width="1.0" /><line x1="1085.32" y1="337.16" x2="1085.32" y2="333.16" stroke="#222" stroke-width="1.0" /><line x1="1112.06" y1="263.32" x2="1112.06" y2="267.32" stroke="#222" stroke-width="1.0" /><line x1="1112.06" y1="337.16" x2="1112.06" y2="333.16" stroke="#222" stroke-width="1.0" /><line x1="668.80" y1="267.80" x2="671.80" y2="267.80" stroke="#222" stroke-width="1" /><line x1="1122.50" y1="267.80" x2="1119.50" y2="267.80" stroke="#222" stroke-width="1" /><line x1="668.80" y1="274.80" x2="671.80" y2="274.80" stroke="#222" stroke-width="1" /><line x1="1122.50" y1="274.80" x2="1119.50" y2="274.80" stroke="#222" stroke-width="1" /><line x1="668.80" y1="282.60" x2="671.80" y2="282.60" stroke="#222" stroke-width="1" /><line x1="1122.50" y1="282.60" x2="1119.50" y2="282.60" stroke="#222" stroke-width="1" /><line x1="668.80" y1="291.70" x2="671.80" y2="291.70" stroke="#222" stroke-width="1" /><line x1="1122.50" y1="291.70" x2="1119.50" y2="291.70" stroke="#222" stroke-width="1" /><line x1="668.80" y1="302.10" x2="671.80" y2="302.10" stroke="#222" stroke-width="1" /><line x1="1122.50" y1="302.10" x2="1119.50" y2="302.10" stroke="#222" stroke-width="1" /><line x1="668.80" y1="315.40" x2="671.80" y2="315.40" stroke="#222" stroke-width="1" /><line x1="1122.50" y1="315.40" x2="1119.50" y2="315.40" stroke="#222" stroke-width="1" /><line x1="668.80" y1="332.00" x2="671.80" y2="332.00" stroke="#222" stroke-width="1" /><line x1="1122.50" y1="332.00" x2="1119.50" y2="332.00" stroke="#222" stroke-width="1" /><rect x="668.80" y="263.32" width="453.70" height="73.84" fill="none" stroke="#000" stroke-width="1.35"/><line x1="674.50" y1="271.30" x2="692.00" y2="271.30" stroke="#ff3030" stroke-width="1.0"/><text x="693.5" y="275.3" font-size="10" fill="#ff2020">T<tspan font-size="8" dy="3">||</tspan></text><line x1="674.50" y1="286.00" x2="692.00" y2="286.00" stroke="#333" stroke-width="1.4"/><text x="693.5" y="290" font-size="10" fill="#200808">T<tspan font-size="8" dy="4" dx="2" fill="#d09090">&#8869;</tspan></text><text transform="translate(1156.00,300.00) rotate(-90)" font-size="11" text-anchor="middle" fill="#000">T<tspan font-size="8" dy="2.5">e</tspan><tspan dy="-2.5" font-size="1">&#8203;</tspan> [eV]</text><line x1="733.60" y1="343.16" x2="733.60" y2="411.00" stroke="#00aa00" stroke-width="1.3" stroke-dasharray="10 4.4"/><line x1="900.40" y1="343.16" x2="900.40" y2="411.00" stroke="#00aa00" stroke-width="1.3" stroke-dasharray="10 4.4"/><line x1="775.40" y1="343.16" x2="775.40" y2="411.00" stroke="#ff4848" stroke-width="1.7" stroke-dasharray="11 4"/><line x1="858.70" y1="343.16" x2="858.70" y2="411.00" stroke="#ff0000" stroke-width="1.3" stroke-dasharray="11 4"/><line x1="771.80" y1="343.16" x2="771.80" y2="411.00" stroke="#0000ff" stroke-width="1.3" stroke-dasharray="2 3.4"/><line x1="826.60" y1="343.16" x2="826.60" y2="411.00" stroke="#ff00ff" stroke-width="1.5" stroke-dasharray="2 3.4"/><line x1="944.30" y1="343.16" x2="944.30" y2="411.00" stroke="#ff00ff" stroke-width="1.5" stroke-dasharray="2 3.4"/><g clip-path="url(#cm4)"><path d="M668.8 379.6l.8-3.5 .7 1.8 .8-.5 .7 1.7 .8-1.3 .7 .6 .8-1.1 .7 .6 .8-.7 .7 .5 .8 .1 .7-1.3 .8 1.7 .7 .2 .8-.1 .7 1.7 .8-1 .7 1.8 .8-1.8 .7-.9 .8-1.4 .7 .9 .8 .4 .7 1.8 .8-2.7 .7 3 .8-2.6 .7 .4 .8-.6 .7 .6 .8-.7 .7 1.1 .8-1.7 .7 2.1 .8-1.6 .7 .6 .8-.9 .7 .3 .8-1.2 .7 1.3 .8-1.5 .7 1.5 .8-1.9 .7 3.2 .8-.7 .7 .8 .8-3.8 .7 2.4 .8-1.6 .7 1.2 .8-.3 .7-.4 .8 0 .7 1.2 .8-1 .7 3 .8-2.1 .7-.4 .8-1.5 .7 2.2 .8-1.1 .7 .6 .8-1.2 .7 .3 .8-1 .7 2.5 .8-.8 .7 2.3 .8-3.5 .7 1.1 .8-.6 .7 1.8 .8-1.7 .7 1.8 .8-1.5 .7 2 .8-1.6 .7 2.2 .8-2.3 .7 .1 .8 1.7 .7 3.9 .8-2.6 .7 3.3 .8-1.7 .7 2.1 .8-.7 .7 1.3 .8-2 .7-.6 .8-2.7 .7 .6 .8-1.2 .7 1.8 .8-2.1 .7-.1 .8 .3 .7 3 .8-4 .7 1.3 .8-.6 .7 1 .8-.9 .7 1.5 .8-4.1 .7 5 .8-1.2 .7 1.3 .8-4 .7 3.4 .8-1.6 .7 1 .8-1 .7 1 .8 .7 .7-2.6 .8-.6 .7 .5 .8-1 .7 1.3 .8-.6 .7 1.1 .8-2 .7 2.7 .8-2.8 .7 4.8 .8 2 .7 2.3 .8 1.3 .7 1.4 .8-1.4 .7 4.4 .8-5.5 .7 2.3 .8 1.5 .7 3.1 .8-5.6 .7-1.4 .8-4.9 .7 6.3 .8-8.4 .7 3.3 .8-.9 .7-3.7 .8-5.9 .7 .6 .8-20.9 .7 1.4 .8 7.2 .7 4.9 .8-2.3 .7 9.7 .8-2.2 .7 5.7 .8-2.2 .7-1.6 .8-5.1 .7 3.5 .8 0 .7 4 .8 1.1 .7 5.6 .8-4.8 .7 1.7 .8 1.2 .7 6.7 .8-3.8 .7 10.1 .8-9.2 .7-.1 .8-6.7 .7 5.1 .8-.9 .7 3.9 .8-4.4 .7 7.8 .8 .2 .7 1.2 .8-6.6 .7 2 .8-4.8 .7 9.3 .8-10.5 .7 4.9 .8-6.3 .7 3.9 .8-5.3 .7 6.3 .8-5.4 .7 8.3 .8-3.6 .7 1.9 .8-4.1 .7 1.9 .8 .4 .7 4.3 .8-3.3 .7 .7 .8-3.6 .7 4.5 .8-4.1 .7 4.5 .8-2.5 .7 4.4 .8-2.6 .7 5 .8-1.4 .7 5 .8-9.4 .7 5.4 .8-4.9 .7 .7 .8-11.2 .7 5.3 .8-7.6 .7 5.8 .8-7.4 .7 5.3 .8-5.3 .7-.9 .8 3 .7 3.6 .8-6.3 .7 4.5 .8-2 .7 4.6 .8-.2 .7 5.3 .8-3.3 .7 4.7 .8-6.9 .7 4 .8-.6 .7 4.8 .8-2.6 .7 5 .8-8.3 .7 2.6 .8-10.3 .7 .9 .8-3.2 .7 .4 .8 .5 .7 2.2 .8-2 .7 7.5 .8-2.5 .7 5.5 .8-4.2 .7 1.4 .8-1.6 .7 4.3 .8 3.6 .7 1.9 .8-.1 .7-1.4 .8-.8 .7 5.3 .8-5.8 .7 4.5 .8-5.9 .7 4.6 .8-5.5 .7 1.6 .8-3 .7-.2 .8-3.7 .7 2.3 .8-3.1 .7 1.7 .8-8.1 .7 5 .8-2.9 .7 5.5 .8-4.9 .7-.5 .8-3.1 .7 7.3 .8-1.7 .7-1.8 .8 1.2 .7-4.5 .8 9.4 .7 3.1 .8-3.6 .7-.1 .8 .4 .7 1.4 .8-4.3 .7-5.2 .8 3.7 .7 2.5 .8-.8 .7 2.7 .8-4.3 .7 4.6 .8-4.6 .7 4.7 .8-4.5 .7 2.5 .8 3.1 .7 3.8 .8-6 .7 6.6 .8-5.4 .7 9.2 .8-3.7 .7 11.5 .8-10.9 .7 6 .8-7.2 .7 6.8 .8-6.2 .7 6.1 .8-6.1 .7 8 .8-11.7 .7 7.4 .8-10.3 .7 11 .8-5.8 .7 2.9 .8-5.3 .7-1.6 .8-2.2 .7 2.5 .8 1.1 .7-.7 .8-3.6 .7-.3 .8 .7 .7 2.5 .8-2.8 .7 3.8 .8 1.3 .7 .2 .8 .2 .7 6.9 .8-9.4 .7 2.8 .8-3.7 .7 8.2 .8-4.1 .7 2.9 .8-2.3 .7 4.3 .8-9 .7 6.7 .8-11.3 .7 2.5 .8-1.3 .7 10.2 .8-16.3 .7 9.9 .8-5.7 .7 6.4 .8-3.6 .7 5.6 .8-2.7 .7 2.5 .8-4.1 .7-.1 .8-7.4 .7 10.3 .8-.7 .7 3.2 .8 .9 .7-1.1 .8 1.4 .7 3.9 .8-2.8 .7 8.5 .8-9.6 .7 2.2 .8-4.7 .7-2.2 .8-1.9 .7 5.9 .8-2 .7 2.8 .8-.7 .7 1 .8-5.5 .7 9.6 .8-6.6 .7 3.7 .8-1.9 .7 1.2 .8-7.7 .7 3.9 .8-2.3 .7 3.3 .8-2.4 .7 4.3 .8-8.3 .7 2.2 .8 .4 .7 2.3 .8-5.6 .7 1.8 .8-1.4 .7 5.1 .8-4.1 .7 5.2 .8-2.9 .7 2 .8-3.7 .7 5.4 .8 1.8 .7 .2 .8 .4 .7 3 .8-5.3 .7 9 .8-6 .7 6.6 .8-9.6 .7-.6 .8-5.5 .7 11 .8-6.9 .7 5.8 .8-3.9 .7-3.6 .8-.2 .7 1.2 .8-1.7 .7 4.8 .8-7.5 .7 7.2 .8-4.3 .7 4.3 .8-8.5 .7 11.7 .8-6.2 .7 2.2 .8-5.6 .7 2.3 .8-1.4 .7 8.2 .8-6.5 .7 1 .8 .9 .7 .1 .8 0 .7-.2 .8-2.1 .7 2.5 .8-3.1 .7 .1 .8-1.7 .7 3.3 .8-3 .7 1 .8-1.2 .7 3 .8-2.7 .7 1.4 .8-2.3 .7 7.5 .8-3.6 .7 2.4 .8-5.1 .7 4.4 .8-4.9 .7 3.9 .8-4.5 .7 5.1 .8-2.2 .7 1.2 .8 2.7 .7 3.2 .8-4 .7 2.9 .8-1.1 .7-1.6 .8-1.9 .7 1.3 .8-2.1 .7 1.4 .8-2.7 .7 .4 .8-2.6 .7 2.5 .8-5.3 .7 2.6 .8 1.2 .7 3.8 .8-4.2 .7 2.7 .8-2.1 .7-.1 .8 .9 .7 1 .8-1.2 .7 1 .8 1.3 .7 1.3 .8-1.9 .7 2.4 .8-.2 .7-1 .8-.1 .7 2.9 .8-4.4 .7 4.4 .8 .3 .7 .1 .8 1.1 .7-.1 .8-3.4 .7 2.4 .8-2.2 .7 2.6 .8-1.7 .7 1.4 .8-1.5 .7 2.9 .8-3.5 .7-1.3 .8-.2 .7 2 .8-1.9 .7 1.2 .8-2.7 .7 2.9 .8-1.6 .7 .9 .8-2.9 .7 2 .8-.6 .7 4.1 .8-2.5 .7 1.3 .8-.7 .7 .9 .8-2 .7 2 .8-1 .7 .3 .8-3.8 .7 3.2 .8 .2 .7 1.8 .8-2.7 .7 .4 .8-1.6 .7 3.2 .8-2.7 .7 1.4 .8 .3 .7-.4 .8-1.7 .7 1.5 .8-.9 .7 2.3 .8-2.9 .7 1.7 .8-2.8 .7 3.3 .8-4.6 .7 1.5 .8-1.3 .7 2.6 .8-1.5 .7 4.1 .8-3.5 .7 .1 .8-2 .7 3.2 .8-1.5 .7 2.4 .8-2.5 .7 3 .8-2.9 .7 2.6 .8-.5 .7-.1 .8-1.1 .7 1.1 .8 .4 .7 1 .8-2.2 .7 2.7 .8-4.4 .7 3 .8-5.3 .7 8.5 .8-5.6 .7 1.1 .8-1.3 .7-.2 .8-1.8 .7 3.9 .8-1.5 .7 2 .8-3.6 .7 4 .8-2.4 .7-.3 .8-2 .7 4.1 .8-1.4" fill="none" stroke="#0000ff" stroke-width="1.0" /><path d="M668.8 388.2l.8-.2 .7 1.8 .8-3.7 .7 3.3 .8 .1 .7-3.3 .8-3.8 .7 6.5 .8-4.6 .7 1.1 .8-2.6 .7 7.6 .8-4.2 .7 1.1 .8 .3 .7 1.8 .8-.4 .7 9.9 .8-9.7 .7-1.7 .8-2.3 .7 6 .8-5.4 .7 6.3 .8-7.4 .7 3.4 .8-4.8 .7 8.5 .8-6.9 .7 5.4 .8-5.3 .7 2.4 .8-10.6 .7 7.5 .8-6.2 .7 8.2 .8-2.3 .7 3.3 .8-1.5 .7 1.2 .8-2.1 .7 .2 .8-.4 .7 6.9 .8-5.1 .7 6.1 .8-1.4 .7 5.3 .8-5.8 .7 .9 .8-3.7 .7 2 .8-.4 .7 3.6 .8-5.3 .7 1.2 .8-.8 .7 .3 .8-.3 .7 3.2 .8-9 .7 5.7 .8-.7 .7 6.8 .8-14.8 .7 6.7 .8-1.7 .7 5.8 .8-2.2 .7 5.3 .8-5 .7 2.8 .8 2.9 .7-1 .8-11.6 .7 8.1 .8-10.7 .7 7.2 .8-4.5 .7 3.5 .8-4.8 .7 7.8 .8-6.6 .7 5.4 .8-5.7 .7 4 .8-4 .7 2.3 .8 6.3 .7 .8 .8-4.1 .7 4.1 .8-4.7 .7 5.1 .8-7.8 .7 9.7 .8-5.1 .7 .6 .8-1.8 .7 2.9 .8-4.6 .7 7.7 .8-3.4 .7 1.7 .8-5.3 .7 4.3 .8-4.2 .7 6.9 .8-3 .7 .9 .8-1.2 .7 10.2 .8-12.2 .7 7.8 .8-5.6 .7 3.1 .8-3 .7-.3 .8 4.4 .7 1.8 .8-2.2 .7 4.3 .8-11.8 .7 5.4 .8-3 .7 1.8 .8-3.2 .7 5.7 .8-.1 .7-1 .8-5.4 .7 11.3 .8-5.2 .7 6.8 .8-2.5 .7 11.1 .8-7 .7 6.8 .8-.9 .7-3 .8-11.2 .7-.7 .8-1.9 .7 4.6 .8-16.2 .7 1 .8-8.8 .7 2.1 .8-5.2 .7 11.2 .8-14.8 .7 4.3 .8 4.9 .7-4.5 .8-14.5 .7 11.8 .8-10.4 .7 16.4 .8-6.2 .7 12.5 .8-12.7 .7 6 .8-1.5 .7 6.7 .8-4.8 .7 .5 .8-5.3 .7 5.6 .8-12.6 .7 5.4 .8-19.9 .7 13.2 .8-5.8 .7 7.5 .8-9.5 .7 4.2 .8 2.7 .7 7.6 .8-2.5 .7 10.7 .8 .4 .7 14.9 .8 1.9 .7 10.6 .8-4.3 .7-5 .8-7.3 .7 2.8 .8-14.2 .7 7.4 .8-6.6 .7 4 .8-8.9 .7 1.8 .8-2.2 .7 3.6 .8-9.8 .7 2.4 .8-.1 .7-1.8 .8 2.1 .7 1.1 .8-3.8 .7 1.1 .8-1.4 .7 10.4 .8-2.4 .7-2.2 .8-5.5 .7 .2 .8-9 .7 11.3 .8-.1 .7 14.4 .8-7.5 .7-1 .8-2 .7 5.2 .8-3.6 .7-3.7 .8-6.5 .7 8.6 .8 4.1 .7 3 .8-9 .7 10.3 .8-11.5 .7 10 .8-6.1 .7 10.6 .8-3.8 .7 6.6 .8-2.1 .7-1.6 .8 2.8 .7 13.9 .8-8 .7 .1 .8-3.1 .7-3.2 .8 2.9 .7-6 .8-10.3 .7 4.8 .8-5.9 .7 4 .8-7 .7-1.6 .8-7.4 .7-3.4 .8-11.9 .7 4.1 .8-5.8 .7 12.4 .8-7.8 .7 12.4 .8-4.1 .7 3.4 .8-2.1 .7 4 .8 .5 .7 6.3 .8-7.9 .7 1.2 .8-10 .7 7.6 .8-2.4 .7 5.2 .8-3 .7 11.2 .8-3.4 .7 5.6 .8-2 .7 1.2 .8-4 .7-3.7 .8-9.8 .7 2.7 .8-6.6 .7 2.5 .8-6.8 .7 3.3 .8-4.9 .7 9.8 .8 3.4 .7 10 .8-1.4 .7 6.7 .8-1.2 .7 .9 .8 .2 .7 1.6 .8-14.1 .7 13.7 .8-10.4 .7 5.5 .8-5 .7 .1 .8 2.8 .7 2 .8-2.9 .7 7.3 .8-2.7 .7-.5 .8-9 .7 14.4 .8-9.5 .7 7.5 .8-2 .7 2.6 .8-2.4 .7 9.7 .8-9.6 .7 10.6 .8-15.1 .7 4.9 .8-1.8 .7-2.9 .8-2.5 .7 15.5 .8-6.3 .7 12.9 .8-6.6 .7 12.3 .8-4.2 .7 4.3 .8-2.7 .7 .5 .8-10.3 .7 3.5 .8-11.7 .7 1.1 .8-6.4 .7 9.8 .8-6.3 .7 3.4 .8-4.2 .7 2.4 .8-2.1 .7 5.5 .8-3.3 .7 5.9 .8-4.6 .7 7.2 .8-11.4 .7-.5 .8 5.6 .7 9.8 .8-7.8 .7 .9 .8-5.5 .7 6.9 .8-7.1 .7 1.7 .8-.2 .7 5 .8-5.9 .7 9.4 .8-9.7 .7 14.1 .8-12.1 .7 10.9 .8-8.7 .7 2.5 .8-.6 .7-4.2 .8-9.3 .7 4 .8-11.5 .7 8.8 .8 2.8 .7 8.5 .8-2.3 .7 4 .8-6.5 .7 5.9 .8-2.6 .7 2.7 .8-8.5 .7 7.1 .8-1.3 .7 3.3 .8-12.3 .7 8.5 .8-5.8 .7 7.5 .8-4.6 .7 6.2 .8-6.1 .7 8.3 .8-7.9 .7 1.3 .8-5.4 .7 7.9 .8-5 .7 3.1 .8-5.9 .7 5.4 .8 1.8 .7 5.9 .8-14.3 .7 8 .8-11.5 .7 9.2 .8-9.7 .7 3.4 .8-7.7 .7 9.3 .8-7.9 .7 8 .8-19.6 .7-.5 .8-.2 .7 4.9 .8 6.8 .7 10.4 .8-4.5 .7 12.9 .8-4.9 .7 6.5 .8-8.2 .7 4 .8-4.1 .7 3.5 .8-1.3 .7 1.7 .8-5.1 .7 6.4 .8-2.1 .7 11.5 .8-8 .7 5.1 .8-5.5 .7 3.9 .8-8.3 .7 10.4 .8-8.3 .7 11.3 .8-7.7 .7-.7 .8-3 .7 2 .8-1.8 .7 7 .8-6.5 .7 1.5 .8-5.2 .7 5.4 .8-1.8 .7 2.2 .8 0 .7 3.1 .8 2 .7 4 .8-4.4 .7 4.5 .8-4.4 .7 2.8 .8-4.5 .7 4 .8-5.1 .7 1.1 .8-3.1 .7 2.5 .8-2.5 .7 3 .8-5.4 .7 7.8 .8-2.3 .7 1.5 .8-1.6 .7 3 .8-1.5 .7 3.1 .8-5.5 .7-.6 .8-.6 .7 7.5 .8-10.5 .7 2 .8-2.2 .7 6.3 .8 .9 .7 4.5 .8-1 .7 3.3 .8-.7 .7 1.9 .8-4.4 .7 .3 .8-3.3 .7 3.3 .8-6 .7-1 .8-2.5 .7 6.7 .8-5.4 .7 .3 .8-3.1 .7 1.6 .8-1.1 .7 6 .8-4.3 .7 3.8 .8 1.2 .7 4.4 .8-5.8 .7 1.6 .8 1.8 .7 2.3 .8-1.9 .7 3.1 .8-5.8 .7 5.7 .8-2.2 .7 1.6 .8-4.6 .7 1.3 .8-5 .7 1.7 .8 1.5 .7 2.9 .8-5 .7 5 .8-4.7 .7 3.9 .8-4.1 .7 5.3 .8-1.7 .7 2 .8-5.9 .7 3.5 .8-.5 .7 4.5 .8-5.2 .7 3.7 .8-3.7 .7 6.3 .8-4.4 .7 4.7 .8-4 .7 2.1 .8-2.9 .7-1.4 .8 .6 .7-3.8 .8-.5 .7 7.6 .8-2.4 .7 2.8 .8-2.1 .7 2.3 .8-.9 .7-.6 .8-5.9 .7 6.1 .8-3.3 .7 2.5 .8-.1 .7 3.3 .8-4.8 .7 2.8 .8-3.1 .7 2.4 .8-.1 .7 2 .8-3.8 .7 .8 .8-2.3 .7 2.3 .8-2.6 .7 4.1 .8-2 .7 6.9 .8-9.4 .7 6.9 .8-1.6 .7 5.4 .8-6.3 .7 .2 .8-1.8 .7 2 .8-3.8 .7 2.5 .8-3.2 .7 5.3 .8-2.7 .7 2.6 .8-4.2 .7 3.1 .8-1.4 .7 2.3 .8-2.3 .7-1.5 .8 1.9 .7 1 .8-3.2 .7 4.5 .8-5.1 .7 2.8 .8 .4 .7-2.3 .8 2.4" fill="none" stroke="#00ff00" stroke-width="1.0" /><path d="M668.8 379l.8 .8 .7 .2 .8-1.2 .7 .8 .8 .3 .7-.4 .8-.9 .7-.4 .8 0 .7 .6 .8 .3 .7 0 .8 .2 .7 0 .8-.7 .7 .1 .8 .2 .7 .6 .8-.8 .7 1 .8-.4 .7-.4 .8-.3 .7 0 .8-.1 .7 .5 .8 1 .7-1 .8-.3 .7 .5 .8-.1 .7 0 .8 .4 .7-.4 .8-.1 .7-.5 .8-.3 .7 .2 .8 0 .7 1 .8-1.1 .7-.2 .8 1 .7-.6 .8 .1 .7 1.4 .8-.9 .7-.4 .8-.7 .7-.3 .8 1.9 .7-.8 .8 .9 .7-.6 .8-.2 .7 .3 .8 .9 .7 0 .8-.2 .7-.1 .8-.9 .7-.7 .8 1.4 .7 .6 .8-.8 .7 .4 .8-.5 .7 .1 .8 1.7 .7-1.6 .8-.2 .7 1.2 .8 .7 .7-1.9 .8 .4 .7-.1 .8 1.4 .7-.7 .8-.1 .7 1.1 .8-1.4 .7 1.2 .8-.1 .7 0 .8 .8 .7-.6 .8 .3 .7 0 .8-.7 .7 .9 .8-.1 .7-.6 .8-.5 .7 .5 .8 .5 .7 .1 .8-.6 .7-.2 .8-.6 .7-.1 .8 .5 .7 .8 .8-.8 .7-.3 .8 .5 .7 1 .8-1 .7-.2 .8-1.1 .7-.2 .8 .1 .7 .8 .8-.9 .7-.3 .8 .4 .7-.6 .8 .8 .7 .1 .8-.2 .7 0 .8-.7 .7 1.1 .8-.9 .7-.5 .8 .7 .7 .8 .8 0 .7-1.6 .8 2.1 .7-.3 .8 1.1 .7 .6 .8 1.2 .7-.2 .8 .9 .7 .2 .8 0 .7-.6 .8-1.1 .7-.8 .8-.8 .7 1.1 .8-2.3 .7-.3 .8-1.1 .7-2.1 .8-.1 .7-.9 .8-.2 .7 .2 .8 .5 .7-1.3 .8 .1 .7 .7 .8 .4 .7-.5 .8-.7 .7 .5 .8 .6 .7 .3 .8-.5 .7 1 .8-.3 .7 1.1 .8 0 .7-2.1 .8 1.3 .7 .2 .8 .3 .7-1.4 .8-1 .7 .3 .8 .6 .7-.7 .8 .7 .7 1.6 .8-1 .7 1.1 .8-.3 .7 .6 .8 .7 .7-.1 .8 .2 .7 .6 .8 .9 .7-1.9 .8-.4 .7 1 .8-.7 .7-.8 .8-.2 .7 .3 .8-1 .7-.2 .8 .8 .7-.8 .8 .8 .7-1.6 .8 1.3 .7-.6 .8-.6 .7 1.5 .8-1.5 .7 .8 .8 .2 .7 .3 .8 .7 .7-.1 .8 .3 .7-.6 .8-1 .7 1.2 .8-1.8 .7 2.1 .8-.5 .7-1.7 .8 1.7 .7-1.1 .8 .6 .7-.6 .8 .9 .7-.6 .8 1.2 .7-1 .8-.1 .7 .1 .8-1.1 .7 2 .8-.3 .7-.3 .8 1.6 .7-.7 .8 .6 .7-.3 .8 .9 .7-.8 .8 .5 .7-.9 .8 1.8 .7-2 .8 .7 .7 0 .8-.1 .7-1.7 .8-.4 .7 .8 .8-.1 .7-1 .8-.3 .7-.4 .8 .3 .7 .1 .8-1.3 .7 0 .8 .4 .7 .9 .8-.2 .7-.5 .8 .8 .7-.5 .8-.3 .7-1.6 .8 1.5 .7 .1 .8-.2 .7 .6 .8-1 .7 .5 .8 .7 .7-2.2 .8 .9 .7-.5 .8 .2 .7-.8 .8 1.3 .7-1.7 .8 1.1 .7 0 .8-.1 .7 .6 .8-1.8 .7 .4 .8 .9 .7-.7 .8 1 .7-.3 .8 .7 .7 0 .8-.1 .7 1.6 .8-2 .7-.3 .8 1.3 .7 0 .8-.3 .7-.2 .8 .5 .7 .3 .8 .4 .7 .3 .8-1.8 .7 .4 .8 .5 .7 1 .8-.2 .7 .1 .8-.2 .7 .4 .8 .5 .7-.4 .8 .6 .7-1.6 .8 .5 .7-.1 .8 .9 .7-.5 .8 1.5 .7-2.4 .8 1 .7 .3 .8-.5 .7 .4 .8 .3 .7 .1 .8 .3 .7 0 .8-1.4 .7 0 .8 1.2 .7-.7 .8 1.8 .7-.4 .8 .7 .7 .4 .8-3 .7 1.4 .8 .6 .7-2.1 .8 0 .7 1.8 .8 .2 .7-.5 .8-.2 .7 0 .8-1.6 .7 2.1 .8 1.4 .7-2 .8-.2 .7 1.6 .8-1 .7-1.2 .8 2.4 .7-1.5 .8 .9 .7 0 .8-.6 .7-1.3 .8 .5 .7 .8 .8 0 .7-1.4 .8 1.2 .7-.8 .8 1.3 .7 .1 .8-1.1 .7-.7 .8 1.5 .7-.1 .8-1.2 .7-1.1 .8 3.1 .7-1.9 .8 1.8 .7 .5 .8-2.1 .7 2.2 .8-.9 .7 .1 .8-1.3 .7 1.2 .8 .8 .7-1.9 .8 .6 .7-.8 .8 .9 .7 0 .8 1 .7 .4 .8-1.5 .7-.5 .8 .2 .7-1.3 .8 2.2 .7-.4 .8 1 .7-1.2 .8-.3 .7 .3 .8-.2 .7 .7 .8-.7 .7-.3 .8-1.7 .7-.2 .8 1.1 .7-.6 .8 .1 .7 1.1 .8-1.5 .7 .3 .8-1 .7 .7 .8 .4 .7 .6 .8-.2 .7-.6 .8 1.7 .7-.5 .8 .4 .7-.9 .8 1.8 .7-.3 .8 .3 .7-.5 .8-.3 .7-.5 .8 1.3 .7-.2 .8 0 .7 .2 .8 .3 .7-1.2 .8 .1 .7 .3 .8 .5 .7-1.5 .8 .4 .7 .5 .8-.4 .7 .8 .8 .9 .7 0 .8-.1 .7-.8 .8-.7 .7-.3 .8 1.1 .7 .4 .8-.6 .7 .2 .8 .3 .7-.7 .8-.4 .7-.1 .8 .2 .7 .1 .8-.2 .7-.2 .8 .4 .7 .5 .8-1.7 .7 1.5 .8-.9 .7 .9 .8-.1 .7 .6 .8-1.5 .7 .4 .8 0 .7 0 .8 .9 .7 .7 .8-.8 .7 .6 .8-1.3 .7 .5 .8 .3 .7-.1 .8-.1 .7-.6 .8 .1 .7 .5 .8 0 .7-.4 .8 .1 .7 0 .8-.3 .7 1.1 .8-.8 .7-.1 .8 .5 .7 .5 .8-1 .7 .3 .8 .7 .7 .5 .8-.9 .7 1.2 .8-1.6 .7 .1 .8 .7 .7-.6 .8 1.3 .7-.5 .8-.2 .7-1.2 .8 .2 .7 .3 .8 .4 .7 .1 .8-.2 .7-.5 .8 .5 .7-.4 .8 .3 .7-.6 .8 1.8 .7-.9 .8-.1 .7-.1 .8 0 .7 .6 .8-.4 .7-.5 .8 .1 .7 .5 .8-.3 .7 .8 .8-.2 .7-.7 .8 .4 .7-.8 .8 1.1 .7-.4 .8-.7 .7 .6 .8 .8 .7-.6 .8-1.1 .7 1.2 .8-.4 .7-1.2 .8 1 .7 .7 .8-.7 .7-.3 .8 .8 .7 .7 .8-.1 .7-.7 .8-.2 .7 .1 .8 .5 .7-.8 .8 1.2 .7-1.4 .8 .3 .7 .3 .8-.1 .7 .2 .8 1.3 .7-1.6 .8 .6 .7 0 .8-1 .7 .4 .8-.2 .7 .1 .8 .5 .7 .3 .8-.5 .7 .4 .8 .4 .7-.6 .8 .7 .7-1.1 .8 0 .7 .6 .8-.3 .7-.4 .8 1.5 .7-.7 .8-.5 .7-.3 .8 .3 .7 .4 .8-.5 .7-.1 .8-.1 .7 .7 .8 0 .7-.2 .8-.6 .7 .2 .8 .4 .7 .2 .8-.3 .7-.3 .8 .3 .7-.2 .8-.4" fill="none" stroke="#ff0000" stroke-width="1.1" /></g><line x1="668.80" y1="376.40" x2="1122.50" y2="376.40" stroke="#000" stroke-width="1.3" stroke-dasharray="5.2 3.1"/><line x1="684.22" y1="337.16" x2="684.22" y2="341.16" stroke="#222" stroke-width="1.0" /><line x1="684.22" y1="411.00" x2="684.22" y2="407.00" stroke="#222" stroke-width="1.0" /><line x1="710.96" y1="337.16" x2="710.96" y2="341.16" stroke="#222" stroke-width="1.0" /><line x1="710.96" y1="411.00" x2="710.96" y2="407.00" stroke="#222" stroke-width="1.0" /><line x1="737.70" y1="337.16" x2="737.70" y2="348.16" stroke="#222" stroke-width="1.3" /><line x1="737.70" y1="411.00" x2="737.70" y2="400.00" stroke="#222" stroke-width="1.3" /><line x1="764.44" y1="337.16" x2="764.44" y2="341.16" stroke="#222" stroke-width="1.0" /><line x1="764.44" y1="411.00" x2="764.44" y2="407.00" stroke="#222" stroke-width="1.0" /><line x1="791.18" y1="337.16" x2="791.18" y2="341.16" stroke="#222" stroke-width="1.0" /><line x1="791.18" y1="411.00" x2="791.18" y2="407.00" stroke="#222" stroke-width="1.0" /><line x1="817.92" y1="337.16" x2="817.92" y2="348.16" stroke="#222" stroke-width="1.3" /><line x1="817.92" y1="411.00" x2="817.92" y2="400.00" stroke="#222" stroke-width="1.3" /><line x1="844.66" y1="337.16" x2="844.66" y2="341.16" stroke="#222" stroke-width="1.0" /><line x1="844.66" y1="411.00" x2="844.66" y2="407.00" stroke="#222" stroke-width="1.0" /><line x1="871.40" y1="337.16" x2="871.40" y2="341.16" stroke="#222" stroke-width="1.0" /><line x1="871.40" y1="411.00" x2="871.40" y2="407.00" stroke="#222" stroke-width="1.0" /><line x1="898.14" y1="337.16" x2="898.14" y2="348.16" stroke="#222" stroke-width="1.3" /><line x1="898.14" y1="411.00" x2="898.14" y2="400.00" stroke="#222" stroke-width="1.3" /><line x1="924.88" y1="337.16" x2="924.88" y2="341.16" stroke="#222" stroke-width="1.0" /><line x1="924.88" y1="411.00" x2="924.88" y2="407.00" stroke="#222" stroke-width="1.0" /><line x1="951.62" y1="337.16" x2="951.62" y2="341.16" stroke="#222" stroke-width="1.0" /><line x1="951.62" y1="411.00" x2="951.62" y2="407.00" stroke="#222" stroke-width="1.0" /><line x1="978.36" y1="337.16" x2="978.36" y2="348.16" stroke="#222" stroke-width="1.3" /><line x1="978.36" y1="411.00" x2="978.36" y2="400.00" stroke="#222" stroke-width="1.3" /><line x1="1005.10" y1="337.16" x2="1005.10" y2="341.16" stroke="#222" stroke-width="1.0" /><line x1="1005.10" y1="411.00" x2="1005.10" y2="407.00" stroke="#222" stroke-width="1.0" /><line x1="1031.84" y1="337.16" x2="1031.84" y2="341.16" stroke="#222" stroke-width="1.0" /><line x1="1031.84" y1="411.00" x2="1031.84" y2="407.00" stroke="#222" stroke-width="1.0" /><line x1="1058.58" y1="337.16" x2="1058.58" y2="348.16" stroke="#222" stroke-width="1.3" /><line x1="1058.58" y1="411.00" x2="1058.58" y2="400.00" stroke="#222" stroke-width="1.3" /><line x1="1085.32" y1="337.16" x2="1085.32" y2="341.16" stroke="#222" stroke-width="1.0" /><line x1="1085.32" y1="411.00" x2="1085.32" y2="407.00" stroke="#222" stroke-width="1.0" /><line x1="1112.06" y1="337.16" x2="1112.06" y2="341.16" stroke="#222" stroke-width="1.0" /><line x1="1112.06" y1="411.00" x2="1112.06" y2="407.00" stroke="#222" stroke-width="1.0" /><line x1="668.80" y1="407.76" x2="672.00" y2="407.76" stroke="#222" stroke-width="1" /><line x1="1122.50" y1="407.76" x2="1119.30" y2="407.76" stroke="#222" stroke-width="1" /><line x1="668.80" y1="403.84" x2="672.00" y2="403.84" stroke="#222" stroke-width="1" /><line x1="1122.50" y1="403.84" x2="1119.30" y2="403.84" stroke="#222" stroke-width="1" /><line x1="668.80" y1="399.92" x2="672.00" y2="399.92" stroke="#222" stroke-width="1" /><line x1="1122.50" y1="399.92" x2="1119.30" y2="399.92" stroke="#222" stroke-width="1" /><line x1="668.80" y1="396.00" x2="675.30" y2="396.00" stroke="#222" stroke-width="1" /><line x1="1122.50" y1="396.00" x2="1116.00" y2="396.00" stroke="#222" stroke-width="1" /><line x1="668.80" y1="392.08" x2="672.00" y2="392.08" stroke="#222" stroke-width="1" /><line x1="1122.50" y1="392.08" x2="1119.30" y2="392.08" stroke="#222" stroke-width="1" /><line x1="668.80" y1="388.16" x2="672.00" y2="388.16" stroke="#222" stroke-width="1" /><line x1="1122.50" y1="388.16" x2="1119.30" y2="388.16" stroke="#222" stroke-width="1" /><line x1="668.80" y1="384.24" x2="672.00" y2="384.24" stroke="#222" stroke-width="1" /><line x1="1122.50" y1="384.24" x2="1119.30" y2="384.24" stroke="#222" stroke-width="1" /><line x1="668.80" y1="380.32" x2="672.00" y2="380.32" stroke="#222" stroke-width="1" /><line x1="1122.50" y1="380.32" x2="1119.30" y2="380.32" stroke="#222" stroke-width="1" /><line x1="668.80" y1="376.40" x2="675.30" y2="376.40" stroke="#222" stroke-width="1" /><line x1="1122.50" y1="376.40" x2="1116.00" y2="376.40" stroke="#222" stroke-width="1" /><line x1="668.80" y1="372.48" x2="672.00" y2="372.48" stroke="#222" stroke-width="1" /><line x1="1122.50" y1="372.48" x2="1119.30" y2="372.48" stroke="#222" stroke-width="1" /><line x1="668.80" y1="368.56" x2="672.00" y2="368.56" stroke="#222" stroke-width="1" /><line x1="1122.50" y1="368.56" x2="1119.30" y2="368.56" stroke="#222" stroke-width="1" /><line x1="668.80" y1="364.64" x2="672.00" y2="364.64" stroke="#222" stroke-width="1" /><line x1="1122.50" y1="364.64" x2="1119.30" y2="364.64" stroke="#222" stroke-width="1" /><line x1="668.80" y1="360.72" x2="672.00" y2="360.72" stroke="#222" stroke-width="1" /><line x1="1122.50" y1="360.72" x2="1119.30" y2="360.72" stroke="#222" stroke-width="1" /><line x1="668.80" y1="356.80" x2="675.30" y2="356.80" stroke="#222" stroke-width="1" /><line x1="1122.50" y1="356.80" x2="1116.00" y2="356.80" stroke="#222" stroke-width="1" /><line x1="668.80" y1="352.88" x2="672.00" y2="352.88" stroke="#222" stroke-width="1" /><line x1="1122.50" y1="352.88" x2="1119.30" y2="352.88" stroke="#222" stroke-width="1" /><line x1="668.80" y1="348.96" x2="672.00" y2="348.96" stroke="#222" stroke-width="1" /><line x1="1122.50" y1="348.96" x2="1119.30" y2="348.96" stroke="#222" stroke-width="1" /><line x1="668.80" y1="345.04" x2="672.00" y2="345.04" stroke="#222" stroke-width="1" /><line x1="1122.50" y1="345.04" x2="1119.30" y2="345.04" stroke="#222" stroke-width="1" /><line x1="668.80" y1="341.12" x2="672.00" y2="341.12" stroke="#222" stroke-width="1" /><line x1="1122.50" y1="341.12" x2="1119.30" y2="341.12" stroke="#222" stroke-width="1" /><text x="666.00" y="340.90" font-size="10.7" text-anchor="end" fill="#000" >20</text><text x="666.00" y="360.50" font-size="10.7" text-anchor="end" fill="#000" >10</text><text x="666.00" y="380.10" font-size="10.7" text-anchor="end" fill="#000" >0</text><text x="666.00" y="399.70" font-size="10.7" text-anchor="end" fill="#000" >-10</text><rect x="668.80" y="337.16" width="453.70" height="73.84" fill="none" stroke="#000" stroke-width="1.35"/><line x1="674.50" y1="342.30" x2="692.00" y2="342.30" stroke="#3030ff" stroke-width="1.0"/><text x="695.5" y="345.8" font-size="10" fill="#3030ff">E<tspan font-size="7.5" dy="2.6">L</tspan></text><line x1="674.50" y1="352.60" x2="692.00" y2="352.60" stroke="#30ff30" stroke-width="1.0"/><text x="695.5" y="356.1" font-size="10" fill="#30ff30">E<tspan font-size="7.5" dy="2.6">M</tspan></text><line x1="674.50" y1="362.60" x2="692.00" y2="362.60" stroke="#ff3030" stroke-width="1.0"/><text x="695.5" y="366.1" font-size="10" fill="#ff3030">E<tspan font-size="7.5" dy="2.6">N</tspan></text><text transform="translate(640.50,374.30) rotate(-90)" font-size="11" text-anchor="middle" fill="#000">E<tspan font-size="8" dy="2.5">LMN</tspan><tspan dy="-2.5" font-size="1">&#8203;</tspan>&#160; [mV m<tspan font-size="8" dy="-4">-1</tspan><tspan dy="4" font-size="1">&#8203;</tspan>]</text><line x1="733.60" y1="417.00" x2="733.60" y2="484.84" stroke="#00aa00" stroke-width="1.3" stroke-dasharray="10 4.4"/><line x1="900.40" y1="417.00" x2="900.40" y2="484.84" stroke="#00aa00" stroke-width="1.3" stroke-dasharray="10 4.4"/><line x1="775.40" y1="417.00" x2="775.40" y2="484.84" stroke="#ff4848" stroke-width="1.7" stroke-dasharray="11 4"/><line x1="858.70" y1="417.00" x2="858.70" y2="484.84" stroke="#ff0000" stroke-width="1.3" stroke-dasharray="11 4"/><line x1="771.80" y1="417.00" x2="771.80" y2="484.84" stroke="#0000ff" stroke-width="1.3" stroke-dasharray="2 3.4"/><line x1="826.60" y1="417.00" x2="826.60" y2="484.84" stroke="#ff00ff" stroke-width="1.5" stroke-dasharray="2 3.4"/><line x1="944.30" y1="417.00" x2="944.30" y2="484.84" stroke="#ff00ff" stroke-width="1.5" stroke-dasharray="2 3.4"/><g clip-path="url(#cm5)"><path d="M668.8 464.8l.8 2 .7-1.9 .8-2 .7-.4 .8-2.5 .7 3.8 .8-3.9 .7-.9 .8 4 .7-2.5 .8-.3 .7-.1 .8-.9 .7 2.8 .8 3.4 .7-2 .8 .3 .7 .6 .8-1 .7 1 .8 2.5 .7 2 .8-1.6 .7-2 .8-1.2 .7-2 .8-2.1 .7-.9 .8 .5 .7-2.1 .8-1.1 .7 3.8 .8 0 .7 1 .8-.1 .7-3.6 .8-1.1 .7 2.6 .8 5.5 .7 1.7 .8-1.9 .7 .1 .8-2.1 .7 3.3 .8-1.4 .7-1.1 .8-.5 .7 .5 .8-.6 .7 6.2 .8-3.8 .7 .5 .8 1.3 .7-.8 .8-4.1 .7 2.1 .8-4.6 .7-.2 .8 .6 .7 .4 .8 2.2 .7-3.3 .8 1.2 .7 .6 .8 .8 .7-.7 .8 .6 .7 2 .8 3 .7-5 .8 1.2 .7-1.9 .8-5 .7 1.2 .8 .8 .7 1 .8-1.3 .7 1.3 .8 1.9 .7-5.9 .8 .7 .7 .8 .8-2.7 .7 3.7 .8 2.5 .7-2.6 .8 .5 .7 4.5 .8 .4 .7 2.8 .8-3.6 .7-.2 .8 2.1 .7 3.5 .8-1.7 .7-.8 .8-3.8 .7-.9 .8-3.1 .7 4.7 .8-.3 .7-.4 .8-3.8 .7 4.3 .8 .3 .7-1.2 .8-1.6 .7 .9 .8 2.5 .7 2.1 .8 3.2 .7-2.1 .8 1 .7 .4 .8-.8 .7-1.7 .8-.4 .7-.5 .8-.2 .7 1.8 .8-1.6 .7 .5 .8-2.5 .7-.3 .8-1.9 .7 2.5 .8-5.1 .7 2.9 .8 3.6 .7 1.5 .8 .2 .7-1.4 .8 7.9 .7 4.1 .8 .9 .7 4.7 .8 2.5 .7 2.5 .8-3.8 .7-5.7 .8-1.7 .7-5.6 .8-1.8 .7-5.9 .8-2 .7-5.8 .8-6.9 .7-7.4 .8 5.8 .7-7.5 .8 3.8 .7-3.1 .8-3.7 .7-2.1 .8 2 .7-2.4 .8 5.5 .7-2.1 .8 .9 .7 .9 .8 .9 .7 .1 .8 5.9 .7-.1 .8-1.8 .7 1.8 .8-4.4 .7-2.3 .8-3.4 .7-3.8 .8-4.1 .7-7.1 .8-6.4 .7 .6 .8 3 .7-.1 .8 14.4 .7 10.8 .8 3.2 .7 2.9 .8 1.9 .7 11 .8 14.3 .7 6 .8-8.6 .7-4.6 .8-11.2 .7-4.8 .8 1.6 .7-9.6 .8-1.6 .7 1.6 .8-2.8 .7-5.1 .8-3.1 .7 1.6 .8 1.7 .7-1.4 .8-4.6 .7 1.1 .8 3.2 .7 .4 .8 .6 .7 4 .8-.2 .7 2 .8-4.8 .7-4.7 .8-3.8 .7-5 .8-.4 .7 10.4 .8 6.7 .7 3 .8 .8 .7-3.1 .8-4.6 .7-4.1 .8 1.6 .7 5.5 .8 4.7 .7-4.6 .8 3.1 .7 .9 .8-2.2 .7-4.6 .8 1.8 .7 6.4 .8-5.6 .7 12.4 .8-.2 .7-3.4 .8 7.6 .7-.1 .8 1.3 .7 9.1 .8-6.4 .7-2.7 .8 3.6 .7 1.1 .8-12 .7 1.5 .8 3.4 .7-8.2 .8-1.2 .7-3 .8-6 .7-2.3 .8-8.5 .7-13.3 .8-2.5 .7-2.8 .8 4.1 .7 1.8 .8 3.5 .7 3.7 .8 1.8 .7 1.9 .8 .6 .7-3 .8 .5 .7 0 .8-1.2 .7 2.7 .8-4.1 .7-2.5 .8 .3 .7 9.1 .8 1.5 .7 .1 .8 3.2 .7-.3 .8-1.4 .7-2.8 .8-1.5 .7-12.4 .8 1.3 .7 6 .8-1.7 .7-7.8 .8-4.5 .7 1.5 .8-1.6 .7-.1 .8 15 .7 5.7 .8 3.3 .7 4.5 .8-3 .7 4.6 .8 .8 .7-4.6 .8-3.1 .7-1.7 .8 7 .7-3.2 .8 3 .7 6.8 .8-5.2 .7 1.4 .8-1.3 .7 2.5 .8-7.4 .7 2.4 .8-1.3 .7-3.3 .8 4.4 .7 1.8 .8 1.1 .7 1.1 .8-2.5 .7 9 .8-2.7 .7-1.2 .8-2.6 .7-9.3 .8 7.7 .7 .9 .8 4.3 .7-3.1 .8-7.5 .7 5.4 .8 7.2 .7 6.5 .8 5.6 .7 7.7 .8-4.4 .7-.5 .8-3.1 .7-3.7 .8-9.7 .7 2.8 .8-1.4 .7-1.5 .8-5.3 .7 .1 .8-3.2 .7 1.8 .8-3.1 .7-1.1 .8 8.8 .7-1.5 .8 .7 .7 .2 .8-5.5 .7 6 .8-.5 .7 7.4 .8 2.2 .7-2 .8 4.5 .7-6.8 .8 3.3 .7-3.1 .8-4.1 .7 2.7 .8-4.9 .7 3.4 .8 3.3 .7 1.7 .8 .4 .7-1.1 .8-.4 .7-4.2 .8-2.6 .7-9.6 .8-1.2 .7-4.8 .8 3.3 .7 6.8 .8 3.1 .7 7.7 .8-.9 .7 2.4 .8 .9 .7-1.4 .8 .8 .7 .7 .8 2.2 .7-1.6 .8-2.6 .7-3.3 .8 5.5 .7 1.6 .8-6.7 .7-1.1 .8 1.8 .7-6.7 .8-1.6 .7 7.5 .8 .2 .7 1.7 .8 1.8 .7-10.8 .8 2.6 .7 5.9 .8 1.3 .7 2.2 .8-3.2 .7 .4 .8-4.2 .7-1.6 .8-3.8 .7-2.8 .8 1.1 .7-6.7 .8 1.3 .7-4.3 .8 .7 .7-5.6 .8-5.1 .7 4.6 .8-1.2 .7-3.6 .8 13.9 .7 9.1 .8 3.2 .7 3.1 .8-1.2 .7-1.7 .8 4.4 .7 4.1 .8 5.4 .7 1.1 .8 1.5 .7 1.7 .8-7.7 .7-2 .8-7.4 .7 8.4 .8-5.4 .7-6.1 .8 8.4 .7-.3 .8 .6 .7-.6 .8 1.6 .7 2.5 .8 2.2 .7-3.1 .8 .8 .7-.1 .8-2.3 .7-4.4 .8 2.3 .7-1.5 .8 .6 .7 2.2 .8 2.6 .7-4.5 .8-.3 .7 4.7 .8 .8 .7 4.2 .8-2.6 .7 2.8 .8-1.9 .7-1.2 .8-.2 .7-1.1 .8-2 .7 .2 .8-.8 .7 1.4 .8-.9 .7 1.1 .8 .9 .7-.9 .8 .1 .7 3.2 .8 .1 .7-1.9 .8 1.3 .7 .7 .8-3.9 .7-.8 .8-.7 .7-.2 .8 1.9 .7-.2 .8 .3 .7 3.2 .8 .3 .7 .9 .8 5.7 .7 2.6 .8 2.1 .7-6.1 .8-1.5 .7-3.3 .8-3.6 .7-1.6 .8-1.7 .7 0 .8 3 .7-.5 .8 .1 .7-2.9 .8 .3 .7 2.2 .8 1.4 .7 3.9 .8 1.9 .7 .8 .8-1.5 .7 1 .8 2.6 .7-.3 .8 .6 .7-.2 .8-.7 .7-2.3 .8-.1 .7 .4 .8 2.2 .7-1.7 .8 .2 .7 .5 .8-1.2 .7 .1 .8-.8 .7 1.2 .8 1.7 .7-2.3 .8-.8 .7 2.3 .8-1.8 .7-1.5 .8-1.5 .7 1.4 .8-.8 .7-1.1 .8 .9 .7 1.7 .8 2 .7-.3 .8 1.4 .7-2.3 .8-2.3 .7-.3 .8 .9 .7 3 .8-2 .7 .6 .8-.5 .7 1.6 .8-.5 .7-.9 .8 .4 .7 2 .8 2.4 .7-.9 .8-1.6 .7-1.5 .8 .6 .7 .2 .8-2.7 .7 2.1 .8 .9 .7 2.2 .8-1.9 .7-1 .8 .8 .7 .4 .8-3.6 .7 3.8 .8-1.6 .7 1.2 .8 .9 .7 0 .8 2.5 .7-1 .8-.7 .7-1.8 .8 1.4 .7-.2 .8 1.7 .7-.8 .8 2.3 .7-4.4 .8 2.4 .7-1.3 .8-3 .7 .4 .8 1 .7-2.3 .8 2.5 .7 1.4 .8-1.9 .7 .2 .8 1.6 .7 .9 .8-1.8 .7 .5 .8 .2 .7-.5 .8 1.2 .7-.3 .8-.5 .7-.4 .8 .2 .7 1.8 .8-1.7" fill="none" stroke="#000" stroke-width="1.6" /><path d="M668.8 462.7l.8-.3 .7 2.3 .8-4.7 .7 4.2 .8 .1 .7-4.1 .8-4.8 .7 8.1 .8-5.7 .7 1.4 .8-3.2 .7 9.5 .8-5.3 .7 1.4 .8 .4 .7 2.2 .8-.5 .7 12.5 .8-12.2 .7-2.2 .8-2.8 .7 7.5 .8-6.8 .7 7.9 .8-9.3 .7 4.2 .8-5.9 .7 10.7 .8-8.7 .7 6.7 .8-6.6 .7 3 .8-13.3 .7 9.5 .8-7.9 .7 10.3 .8-2.9 .7 4.2 .8-1.9 .7 1.5 .8-2.6 .7 .3 .8-.5 .7 8.6 .8-6.4 .7 7.6 .8-1.7 .7 6.7 .8-7.3 .7 1.1 .8-4.6 .7 2.4 .8-.5 .7 4.6 .8-6.7 .7 1.5 .8-1 .7 .4 .8-.3 .7 3.9 .8-11.3 .7 7.2 .8-.9 .7 8.5 .8-18.5 .7 8.4 .8-2.2 .7 7.3 .8-2.7 .7 6.6 .8-6.3 .7 3.5 .8 3.7 .7-1.3 .8-14.5 .7 10.2 .8-13.5 .7 9.1 .8-5.7 .7 4.4 .8-6.1 .7 9.9 .8-8.4 .7 6.8 .8-7 .7 4.9 .8-5 .7 2.9 .8 7.8 .7 1 .8-5 .7 5.1 .8-5.9 .7 6.5 .8-9.9 .7 12.2 .8-6.4 .7 .7 .8-2.2 .7 3.6 .8-5.8 .7 9.7 .8-4.3 .7 2.2 .8-6.6 .7 5.4 .8-5.3 .7 8.7 .8-3.9 .7 1.2 .8-1.5 .7 12.8 .8-15.3 .7 9.8 .8-7.1 .7 3.9 .8-3.7 .7-.5 .8 5.6 .7 2.2 .8-2.8 .7 5.5 .8-14.8 .7 6.8 .8-3.9 .7 2.3 .8-4 .7 7.2 .8-.1 .7-1.3 .8-6.8 .7 14.2 .8-6.5 .7 8.5 .8-3.2 .7 14 .8-8.8 .7 8.6 .8-1.1 .7-3.9 .8-14 .7-.9 .8-2.3 .7 5.7 .8-20.3 .7 1.3 .8-11.2 .7 2.7 .8-6.5 .7 14.1 .8-18.6 .7 5.4 .8 6.1 .7-5.7 .8-18.1 .7 14.8 .8-13.1 .7 20.6 .8-7.8 .7 15.8 .8-16 .7 7.5 .8-1.9 .7 8.4 .8-6 .7 .6 .8-6.7 .7 7.1 .8-15.8 .7 6.8 .8-25 .7 16.6 .8-7.3 .7 9.4 .8-11.9 .7 5.3 .8 3.3 .7 9.6 .8-3.1 .7 13.4 .8 .5 .7 18.6 .8 2.5 .7 13.3 .8-5.4 .7-6.3 .8-9.1 .7 3.5 .8-17.9 .7 9.4 .8-8.4 .7 5.1 .8-11.2 .7 2.2 .8-2.7 .7 4.5 .8-12.3 .7 3.1 .8-.2 .7-2.2 .8 2.5 .7 1.5 .8-4.8 .7 1.3 .8-1.7 .7 13.1 .8-3 .7-2.9 .8-6.8 .7 .3 .8-11.4 .7 14.2 .8 0 .7 17.9 .8-9.4 .7-1.2 .8-2.5 .7 6.6 .8-4.6 .7-4.7 .8-8.1 .7 10.8 .8 5.2 .7 3.7 .8-11.3 .7 13 .8-14.5 .7 12.6 .8-7.8 .7 13.4 .8-4.7 .7 8.2 .8-2.6 .7-2 .8 3.4 .7 17.5 .8-10.1 .7 .3 .8-4 .7-4 .8 3.7 .7-7.6 .8-12.9 .7 6 .8-7.4 .7 5.1 .8-8.9 .7-1.9 .8-9.4 .7-4.2 .8-15 .7 5.2 .8-7.3 .7 15.5 .8-9.7 .7 15.5 .8-5.1 .7 4.2 .8-2.5 .7 4.9 .8 .7 .7 7.9 .8-9.9 .7 1.5 .8-12.6 .7 9.6 .8-3 .7 6.5 .8-3.8 .7 14 .8-4.2 .7 7 .8-2.5 .7 1.5 .8-5 .7-4.6 .8-12.3 .7 3.4 .8-8.4 .7 3.1 .8-8.4 .7 4.1 .8-6.2 .7 12.4 .8 4.3 .7 12.5 .8-1.7 .7 8.3 .8-1.5 .7 1.2 .8 .2 .7 2.1 .8-17.8 .7 17.2 .8-13 .7 6.9 .8-6.3 .7 .1 .8 3.6 .7 2.4 .8-3.6 .7 9.1 .8-3.3 .7-.7 .8-11.2 .7 18 .8-12 .7 9.5 .8-2.5 .7 3.2 .8-2.9 .7 12.2 .8-12.2 .7 13.4 .8-19 .7 6.2 .8-2.3 .7-3.6 .8-3.2 .7 19.5 .8-7.9 .7 16.2 .8-8.3 .7 15.4 .8-5.2 .7 5.4 .8-3.5 .7 .7 .8-12.9 .7 4.3 .8-14.6 .7 1.4 .8-8.1 .7 12.3 .8-7.9 .7 4.3 .8-5.2 .7 2.9 .8-2.6 .7 6.9 .8-4.2 .7 7.4 .8-5.7 .7 9.1 .8-14.4 .7-.7 .8 7.1 .7 12.4 .8-9.9 .7 1.1 .8-6.8 .7 8.6 .8-8.9 .7 2.1 .8-.2 .7 6.2 .8-7.3 .7 11.7 .8-12.1 .7 17.7 .8-15.2 .7 13.6 .8-10.9 .7 3.2 .8-.8 .7-5.2 .8-11.7 .7 5 .8-14.4 .7 11.1 .8 3.4 .7 10.7 .8-2.8 .7 4.9 .8-8.1 .7 7.4 .8-3.3 .7 3.5 .8-10.7 .7 8.8 .8-1.6 .7 4.1 .8-15.4 .7 10.6 .8-7.2 .7 9.5 .8-5.8 .7 7.8 .8-7.7 .7 10.4 .8-9.9 .7 1.6 .8-6.8 .7 10 .8-6.4 .7 3.9 .8-7.3 .7 6.8 .8 2.2 .7 7.4 .8-18 .7 10 .8-14.3 .7 11.6 .8-12.3 .7 4.3 .8-9.6 .7 11.6 .8-10 .7 10.1 .8-24.6 .7-.6 .8-.3 .7 6.2 .8 8.6 .7 13 .8-5.6 .7 16.2 .8-6.3 .7 8.2 .8-10.2 .7 5 .8-5.1 .7 4.3 .8-1.6 .7 2.1 .8-6.4 .7 8 .8-2.5 .7 14.4 .8-10.1 .7 6.4 .8-6.9 .7 4.9 .8-10.4 .7 13 .8-10.4 .7 14.2 .8-9.7 .7-.8 .8-3.8 .7 2.5 .8-2.2 .7 8.7 .8-8.2 .7 2 .8-6.6 .7 6.8 .8-2.2 .7 2.7 .8 0 .7 3.9 .8 2.5 .7 5 .8-5.5 .7 5.7 .8-5.6 .7 3.6 .8-5.7 .7 5 .8-6.4 .7 1.3 .8-3.8 .7 3.1 .8-3.1 .7 3.8 .8-6.9 .7 9.9 .8-3 .7 1.9 .8-1.9 .7 3.8 .8-1.9 .7 3.8 .8-6.8 .7-.9 .8-.6 .7 9.3 .8-13.1 .7 2.5 .8-2.8 .7 8 .8 1 .7 5.7 .8-1.3 .7 4.2 .8-.9 .7 2.4 .8-5.5 .7 .4 .8-4.2 .7 4.2 .8-7.5 .7-1.3 .8-3.2 .7 8.5 .8-6.8 .7 .3 .8-3.9 .7 2 .8-1.3 .7 7.5 .8-5.4 .7 4.8 .8 1.5 .7 5.6 .8-7.4 .7 2 .8 2.2 .7 3 .8-2.4 .7 3.9 .8-7.2 .7 7.1 .8-2.8 .7 2 .8-5.7 .7 1.5 .8-6.2 .7 2.1 .8 1.9 .7 3.6 .8-6.3 .7 6.3 .8-5.9 .7 4.9 .8-5 .7 6.5 .8-2 .7 2.4 .8-7.3 .7 4.3 .8-.7 .7 5.8 .8-6.6 .7 4.7 .8-4.7 .7 7.9 .8-5.5 .7 5.9 .8-5 .7 2.6 .8-3.6 .7-1.8 .8 .8 .7-4.8 .8-.6 .7 9.4 .8-2.9 .7 3.5 .8-2.6 .7 2.8 .8-1.1 .7-.8 .8-7.3 .7 7.7 .8-4.2 .7 3.1 .8-.2 .7 4.3 .8-6.1 .7 3.5 .8-3.9 .7 3 .8 0 .7 2.4 .8-4.7 .7 .9 .8-2.8 .7 2.9 .8-3.2 .7 5 .8-2.4 .7 8.6 .8-11.8 .7 8.6 .8-2 .7 6.8 .8-7.8 .7 .2 .8-2.2 .7 2.5 .8-4.8 .7 3.1 .8-4 .7 6.6 .8-3.3 .7 3.2 .8-5.2 .7 3.8 .8-1.7 .7 2.8 .8-2.9 .7-1.8 .8 2.4 .7 1.3 .8-4.1 .7 5.6 .8-6.3 .7 3.5 .8 .4 .7-2.8 .8 3" fill="none" stroke="#00ee00" stroke-width="1.3" /></g><line x1="668.80" y1="447.90" x2="1122.50" y2="447.90" stroke="#000" stroke-width="1.7" stroke-dasharray="5.2 3.1"/><line x1="684.22" y1="411.00" x2="684.22" y2="415.00" stroke="#222" stroke-width="1.0" /><line x1="684.22" y1="484.84" x2="684.22" y2="480.84" stroke="#222" stroke-width="1.0" /><line x1="710.96" y1="411.00" x2="710.96" y2="415.00" stroke="#222" stroke-width="1.0" /><line x1="710.96" y1="484.84" x2="710.96" y2="480.84" stroke="#222" stroke-width="1.0" /><line x1="737.70" y1="411.00" x2="737.70" y2="422.00" stroke="#222" stroke-width="1.3" /><line x1="737.70" y1="484.84" x2="737.70" y2="473.84" stroke="#222" stroke-width="1.3" /><line x1="764.44" y1="411.00" x2="764.44" y2="415.00" stroke="#222" stroke-width="1.0" /><line x1="764.44" y1="484.84" x2="764.44" y2="480.84" stroke="#222" stroke-width="1.0" /><line x1="791.18" y1="411.00" x2="791.18" y2="415.00" stroke="#222" stroke-width="1.0" /><line x1="791.18" y1="484.84" x2="791.18" y2="480.84" stroke="#222" stroke-width="1.0" /><line x1="817.92" y1="411.00" x2="817.92" y2="422.00" stroke="#222" stroke-width="1.3" /><line x1="817.92" y1="484.84" x2="817.92" y2="473.84" stroke="#222" stroke-width="1.3" /><line x1="844.66" y1="411.00" x2="844.66" y2="415.00" stroke="#222" stroke-width="1.0" /><line x1="844.66" y1="484.84" x2="844.66" y2="480.84" stroke="#222" stroke-width="1.0" /><line x1="871.40" y1="411.00" x2="871.40" y2="415.00" stroke="#222" stroke-width="1.0" /><line x1="871.40" y1="484.84" x2="871.40" y2="480.84" stroke="#222" stroke-width="1.0" /><line x1="898.14" y1="411.00" x2="898.14" y2="422.00" stroke="#222" stroke-width="1.3" /><line x1="898.14" y1="484.84" x2="898.14" y2="473.84" stroke="#222" stroke-width="1.3" /><line x1="924.88" y1="411.00" x2="924.88" y2="415.00" stroke="#222" stroke-width="1.0" /><line x1="924.88" y1="484.84" x2="924.88" y2="480.84" stroke="#222" stroke-width="1.0" /><line x1="951.62" y1="411.00" x2="951.62" y2="415.00" stroke="#222" stroke-width="1.0" /><line x1="951.62" y1="484.84" x2="951.62" y2="480.84" stroke="#222" stroke-width="1.0" /><line x1="978.36" y1="411.00" x2="978.36" y2="422.00" stroke="#222" stroke-width="1.3" /><line x1="978.36" y1="484.84" x2="978.36" y2="473.84" stroke="#222" stroke-width="1.3" /><line x1="1005.10" y1="411.00" x2="1005.10" y2="415.00" stroke="#222" stroke-width="1.0" /><line x1="1005.10" y1="484.84" x2="1005.10" y2="480.84" stroke="#222" stroke-width="1.0" /><line x1="1031.84" y1="411.00" x2="1031.84" y2="415.00" stroke="#222" stroke-width="1.0" /><line x1="1031.84" y1="484.84" x2="1031.84" y2="480.84" stroke="#222" stroke-width="1.0" /><line x1="1058.58" y1="411.00" x2="1058.58" y2="422.00" stroke="#222" stroke-width="1.3" /><line x1="1058.58" y1="484.84" x2="1058.58" y2="473.84" stroke="#222" stroke-width="1.3" /><line x1="1085.32" y1="411.00" x2="1085.32" y2="415.00" stroke="#222" stroke-width="1.0" /><line x1="1085.32" y1="484.84" x2="1085.32" y2="480.84" stroke="#222" stroke-width="1.0" /><line x1="1112.06" y1="411.00" x2="1112.06" y2="415.00" stroke="#222" stroke-width="1.0" /><line x1="1112.06" y1="484.84" x2="1112.06" y2="480.84" stroke="#222" stroke-width="1.0" /><line x1="668.80" y1="482.34" x2="672.00" y2="482.34" stroke="#222" stroke-width="1" /><line x1="1122.50" y1="482.34" x2="1119.30" y2="482.34" stroke="#222" stroke-width="1" /><line x1="668.80" y1="477.42" x2="672.00" y2="477.42" stroke="#222" stroke-width="1" /><line x1="1122.50" y1="477.42" x2="1119.30" y2="477.42" stroke="#222" stroke-width="1" /><line x1="668.80" y1="472.50" x2="675.30" y2="472.50" stroke="#222" stroke-width="1" /><line x1="1122.50" y1="472.50" x2="1116.00" y2="472.50" stroke="#222" stroke-width="1" /><line x1="668.80" y1="467.58" x2="672.00" y2="467.58" stroke="#222" stroke-width="1" /><line x1="1122.50" y1="467.58" x2="1119.30" y2="467.58" stroke="#222" stroke-width="1" /><line x1="668.80" y1="462.66" x2="672.00" y2="462.66" stroke="#222" stroke-width="1" /><line x1="1122.50" y1="462.66" x2="1119.30" y2="462.66" stroke="#222" stroke-width="1" /><line x1="668.80" y1="457.74" x2="672.00" y2="457.74" stroke="#222" stroke-width="1" /><line x1="1122.50" y1="457.74" x2="1119.30" y2="457.74" stroke="#222" stroke-width="1" /><line x1="668.80" y1="452.82" x2="672.00" y2="452.82" stroke="#222" stroke-width="1" /><line x1="1122.50" y1="452.82" x2="1119.30" y2="452.82" stroke="#222" stroke-width="1" /><line x1="668.80" y1="447.90" x2="675.30" y2="447.90" stroke="#222" stroke-width="1" /><line x1="1122.50" y1="447.90" x2="1116.00" y2="447.90" stroke="#222" stroke-width="1" /><line x1="668.80" y1="442.98" x2="672.00" y2="442.98" stroke="#222" stroke-width="1" /><line x1="1122.50" y1="442.98" x2="1119.30" y2="442.98" stroke="#222" stroke-width="1" /><line x1="668.80" y1="438.06" x2="672.00" y2="438.06" stroke="#222" stroke-width="1" /><line x1="1122.50" y1="438.06" x2="1119.30" y2="438.06" stroke="#222" stroke-width="1" /><line x1="668.80" y1="433.14" x2="672.00" y2="433.14" stroke="#222" stroke-width="1" /><line x1="1122.50" y1="433.14" x2="1119.30" y2="433.14" stroke="#222" stroke-width="1" /><line x1="668.80" y1="428.22" x2="672.00" y2="428.22" stroke="#222" stroke-width="1" /><line x1="1122.50" y1="428.22" x2="1119.30" y2="428.22" stroke="#222" stroke-width="1" /><line x1="668.80" y1="423.30" x2="675.30" y2="423.30" stroke="#222" stroke-width="1" /><line x1="1122.50" y1="423.30" x2="1116.00" y2="423.30" stroke="#222" stroke-width="1" /><line x1="668.80" y1="418.38" x2="672.00" y2="418.38" stroke="#222" stroke-width="1" /><line x1="1122.50" y1="418.38" x2="1119.30" y2="418.38" stroke="#222" stroke-width="1" /><line x1="668.80" y1="413.46" x2="672.00" y2="413.46" stroke="#222" stroke-width="1" /><line x1="1122.50" y1="413.46" x2="1119.30" y2="413.46" stroke="#222" stroke-width="1" /><text x="1125.00" y="427.00" font-size="10.7" text-anchor="start" fill="#000" >10</text><text x="1125.00" y="451.60" font-size="10.7" text-anchor="start" fill="#000" >0</text><text x="1125.00" y="476.20" font-size="10.7" text-anchor="start" fill="#000" >-10</text><rect x="668.80" y="411.00" width="453.70" height="73.84" fill="none" stroke="#000" stroke-width="1.35"/><line x1="674.50" y1="417.50" x2="692.00" y2="417.50" stroke="#333" stroke-width="1.2"/><text x="692.5" y="421.3" font-size="9.5" fill="#201010">-(VexB)<tspan font-size="6.5" dy="2.4">M</tspan></text><line x1="674.50" y1="428.60" x2="692.00" y2="428.60" stroke="#30ff30" stroke-width="1.0"/><text x="693.5" y="432.4" font-size="9.5" fill="#40ff20">E<tspan font-size="6.5" dy="2.4">M</tspan></text><text transform="translate(1156.50,448.00) rotate(-90)" font-size="11" text-anchor="middle" fill="#000">E<tspan font-size="8" dy="2.5">M</tspan><tspan dy="-2.5" font-size="1">&#8203;</tspan> [mW m<tspan font-size="8" dy="-4">-2</tspan><tspan dy="4" font-size="1">&#8203;</tspan>]</text><line x1="733.60" y1="490.84" x2="733.60" y2="558.68" stroke="#00aa00" stroke-width="1.3" stroke-dasharray="10 4.4"/><line x1="900.40" y1="490.84" x2="900.40" y2="558.68" stroke="#00aa00" stroke-width="1.3" stroke-dasharray="10 4.4"/><line x1="775.40" y1="490.84" x2="775.40" y2="558.68" stroke="#ff4848" stroke-width="1.7" stroke-dasharray="11 4"/><line x1="858.70" y1="490.84" x2="858.70" y2="558.68" stroke="#ff0000" stroke-width="1.3" stroke-dasharray="11 4"/><line x1="771.80" y1="490.84" x2="771.80" y2="558.68" stroke="#0000ff" stroke-width="1.3" stroke-dasharray="2 3.4"/><line x1="826.60" y1="490.84" x2="826.60" y2="558.68" stroke="#ff00ff" stroke-width="1.5" stroke-dasharray="2 3.4"/><line x1="944.30" y1="490.84" x2="944.30" y2="558.68" stroke="#ff00ff" stroke-width="1.5" stroke-dasharray="2 3.4"/><g clip-path="url(#cm6)"><path d="M668.8 548.6l.5 5.2 .5-3.2 .5 4.3 .5-4.3 .5 5.4 .5-8.1 .5 8.3 .5-6.3 .5 6.4 .5-15.6 .5 15.6 .5-10.9 .5 9.5 .5-7.8 .5 9 .5-14.2 .5 13.6 .5-40.5 .5 20.7 .5 14.6 .5 5.3 .5-13.9 .5 14.5 .5-20.1 .5 19.1 .5-6.1 .5 7 .5-8 .5 8.1 .5-16.1 .5 15.9 .5-13.7 .5 13.9 .5-13.2 .5 12.8 .5-9.4 .5 9.5 .5-9.3 .5 8.8 .5-4.8 .5 4.8 .5-8.6 .5 9.4 .5-13.6 .5 13.3 .5-15.6 .5 15.9 .5-15 .5 14.4 .5-6.9 .5 7.4 .5-11.6 .5 9.9 .5-8.2 .5 9 .5-13.5 .5 14.3 .5-15.8 .5 16.1 .5-11.7 .5 11.3 .5-12.5 .5 12.3 .5-8.6 .5 9.1 .5-8.8 .5 8.2 .5-10 .5 9.7 .5-6.1 .5 5.8 .5-5 .5 5.3 .5-25.4 .5 26.5 .5-15.1 .5 14.1 .5-5.4 .5 6.3 .5-11.6 .5 10.9 .5-27 .5 27.4 .5-13.6 .5 12.6 .5-18.6 .5 19.8 .5-7.3 .5 7.4 .5-14.5 .5 14.2 .5-37 .5 18.6 .5 11.4 .5 5.6 .5-9.9 .5 11.5 .5-7.8 .5 7.4 .5-10.4 .5 10.3 .5-6.9 .5 7.5 .5-21.9 .5 21.8 .5-8.6 .5 8.3 .5-7 .5 7.3 .5-8.2 .5 7.2 .5-8.3 .5 8.8 .5-6.1 .5 6.7 .5-12.2 .5 12.2 .5-4.8 .5 4.3 .5-11.3 .5 11.3 .5-14.2 .5 14.2 .5-9.1 .5 8.4 .5-5.8 .5 6.2 .5-16.5 .5 16.7 .5-5.4 .5 4.4 .5-8.2 .5 9.1 .5-11.9 .5 11.8 .5-7.3 .5 7.2 .5-6.5 .5 7.4 .5-19 .5 18.7 .5-11.8 .5 11.6 .5-10.9 .5 10.9 .5-4.4 .5 3.9 .5-4.6 .5 4.5 .5-6 .5 6.5 .5-10.4 .5 11 .5-20.6 .5 20.5 .5-11.5 .5 11.4 .5-22.4 .5 22.1 .5-9.8 .5 10.2 .5-9.3 .5 9 .5-15.4 .5 15.1 .5-5.9 .5 6.4 .5-16.4 .5 15.7 .5-9.1 .5 9.2 .5-8.2 .5 8.6 .5-4.1 .5 2.9 .5-16.6 .5 17.9 .5-13.2 .5 12 .5-5.5 .5 6.2 .5-3.7 .5 3.3 .5-15.1 .5 15.8 .5-13 .5 12.9 .5-14.6 .5 15.3 .5-5.5 .5 4.2 .5-13.6 .5 14.5 .5-10.6 .5 8.5 .5-10.5 .5 13 .5-6.5 .5 6 .5-9.8 .5 10.1 .5-14.5 .5 12.9 .5-10.2 .5 11.6 .5-11.2 .5 10.2 .5-15.9 .5 15.8 .5-16.7 .5 17.3 .5-20.2 .5 21.1 .5-19.8 .5 19.1 .5-13.6 .5 11.7 .5-19.4 .5-16.9 .5 9.1 .5 29.6 .5-23.4 .5 23 .5-14.1 .5 13.4 .5-11.3 .5 11.3 .5-21.6 .5 21.1 .5-11.3 .5 12.5 .5-7.6 .5 7.2 .5-14.7 .5 12.9 .5-16.9 .5 17.6 .5-14.1 .5 14.1 .5-9.1 .5 10.1 .5-17 .5 16.5 .5-10.5 .5 11.1 .5-19 .5 18.7 .5-15.5 .5 16.5 .5-28.1 .5 27.6 .5-18.8 .5 18.7 .5-11 .5 11.1 .5-38.4 .5 38.1 .5-21.1 .5 21.7 .5-13.2 .5 13.4 .5-29.3 .5 29.4 .5-7.9 .5 4.4 .5-8.4 .5-42.8 .5 20.4 .5 34.3 .5-25.5 .5 23.8 .5-25.6 .5 26.2 .5-16.2 .5 16.4 .5-8.9 .5 8.5 .5-19.1 .5 19.7 .5-20.6 .5 19.7 .5-17.8 .5 19.1 .5-8.5 .5 7.9 .5-12.8 .5 12.4 .5-16.6 .5 17.3 .5-21.6 .5 22.3 .5-13.3 .5 13 .5-15.2 .5 12.9 .5-9.2 .5 10.6 .5-13 .5 14.2 .5-34.9 .5 34.8 .5-27 .5 26 .5-13.2 .5 13.3 .5-8 .5 8.9 .5-5.7 .5 5.3 .5-19.3 .5 19.9 .5-18.8 .5 17.9 .5-22.3 .5-34.2 .5 21.7 .5 34.1 .5-16.9 .5 17.7 .5-18.8 .5 19.4 .5-16.1 .5 13.8 .5-15.8 .5 17.9 .5-39.5 .5 19.2 .5 5.9 .5 13.8 .5-29.7 .5 29.6 .5-15 .5 15.2 .5-21.7 .5 22 .5-5.4 .5 5.1 .5-20.9 .5 20.2 .5-30.4 .5-9.9 .5 16.3 .5 25.2 .5-20.5 .5 20.3 .5-22.4 .5 22.4 .5-12.4 .5 10.6 .5-21.4 .5 22.7 .5-33 .5 32.4 .5-12.9 .5 14 .5-20 .5 20 .5-13.8 .5 13.2 .5-15.9 .5 15.6 .5-8.5 .5 6.6 .5-18.8 .5 22 .5-17.1 .5 16.1 .5-14.4 .5 14.2 .5-35 .5 17.9 .5 2.2 .5 16.2 .5-11.9 .5 11.4 .5-30.2 .5 30.4 .5-24.5 .5 23.2 .5-17.2 .5 17 .5-27.5 .5 13.6 .5-1.6 .5 16.7 .5-16.4 .5 15 .5-3.5 .5 4.8 .5-9 .5 8.6 .5-27.5 .5 27.8 .5-17.4 .5 16.9 .5-25 .5 25.6 .5-13 .5 12.7 .5-11.3 .5 11.4 .5-26.2 .5 25.1 .5-17.7 .5 18.8 .5-18.4 .5 17 .5-25.5 .5 25.5 .5-7.7 .5 9.7 .5-21.3 .5 20.8 .5-22.5 .5 19.8 .5-9.7 .5 12.2 .5-14.4 .5-26.4 .5 10.6 .5 30.3 .5-11 .5 12 .5-19.2 .5 18.7 .5-21.2 .5 21.5 .5-16.8 .5 17 .5-10.2 .5 10.2 .5-10.5 .5 10.2 .5-28.1 .5 26.7 .5-6.1 .5 5.8 .5-7.7 .5 7.8 .5-15.4 .5 15.5 .5-6.9 .5 4.9 .5-10.8 .5 14.5 .5-21.8 .5 20.4 .5-27.7 .5 28 .5-27.3 .5 23.6 .5-25.8 .5 30 .5-8 .5 8 .5-18.9 .5 18.5 .5-13.7 .5 14.6 .5-14.1 .5 13.8 .5-11.6 .5 10.2 .5-14.9 .5 16.4 .5-14.6 .5 12.1 .5-50 .5 52.2 .5-18.3 .5 17.3 .5-4.1 .5 5.3 .5-34.7 .5 32.7 .5-28.5 .5 30.2 .5-17.7 .5 17.9 .5-17.9 .5-24.4 .5 13.8 .5 27.7 .5-20 .5 21.4 .5-30.4 .5 29.1 .5-25 .5 25.8 .5-28.3 .5 25.3 .5-15 .5 16.9 .5-11.5 .5 13 .5-20.5 .5 20.4 .5-3.6 .5 1.1 .5-11.4 .5 11.9 .5-11.8 .5 12.6 .5-17.8 .5 15.8 .5-2.9 .5 5.7 .5-24.5 .5 21 .5-24.9 .5 28.2 .5-6.6 .5 7.1 .5-8.4 .5 7.7 .5-27.6 .5 28.5 .5-16.8 .5 14.4 .5-7.2 .5 6.7 .5-14.6 .5 17.2 .5-24.7 .5 22.6 .5-29.1 .5 30.6 .5-20.1 .5 20.9 .5-13.8 .5 13.7 .5-43.3 .5 43.5 .5-12.5 .5 12.3 .5-12.5 .5 12.5 .5-16.3 .5 16.1 .5-29 .5 28.6 .5-19.3 .5 20.2 .5-15.3 .5 14.8 .5-25.1 .5 21.7 .5-25.2 .5 25.8 .5-30.6 .5-35.5 .5 12.2 .5 54.2 .5-23 .5 25 .5-58.9 .5 28.8 .5 18.9 .5 10 .5-14.3 .5 14.2 .5-18 .5 18.4 .5-27.8 .5 27.9 .5-16.9 .5 16.9 .5-19 .5 20 .5-21.8 .5 22.2 .5-29.3 .5 28.2 .5-23.4 .5 23.8 .5-14.3 .5 13.4 .5-46.9 .5 23.5 .5 6.9 .5 16.8 .5-22.4 .5 23.1 .5-20.6 .5 19.2 .5-37 .5 19.2 .5 2.3 .5 14 .5-11.6 .5 13.9 .5-21.5 .5 18.8 .5-20.7 .5 24.1 .5-38.7 .5 36.5 .5-20.5 .5 18.3 .5-44.6 .5 46.2 .5-24.9 .5 28.3 .5-11 .5 10.6 .5-18.6 .5 19 .5-31.9 .5 29.2 .5-39.2 .5 41.1 .5-18.2 .5 17.6 .5-17.8 .5 17.6 .5-35 .5 36.7 .5-27.5 .5-25.2 .5 19.6 .5 31.3 .5-21 .5 21 .5-19.1 .5 16.7 .5-5.9 .5 9.3 .5-16.8 .5 15.3 .5-22.9 .5-24 .5 12.7 .5 36.2 .5-27.6 .5 26.3 .5-14.1 .5 14.1 .5-14 .5 15 .5-7.1 .5 6.9 .5-18.6 .5 19 .5-18.2 .5 17.8 .5-32.1 .5 30.6 .5-21.3 .5 20.5 .5-11 .5 11.5 .5-19.4 .5 21.7 .5-8.3 .5 8.6 .5-26 .5 25.3 .5-5.3 .5 5.9 .5-19.8 .5 19.3 .5-9.6 .5 10.4 .5-27.8 .5 25.9 .5-14.8 .5 16.2 .5-11.7 .5 11.5 .5-9.3 .5 9.1 .5-22.6 .5-9.4 .5 9.7 .5 22.9 .5-14.8 .5 14.1 .5-11.8 .5 10.6 .5-11.4 .5 12.8 .5-13.9 .5 14.2 .5-12.8 .5 12.9 .5-27.1 .5 27.5 .5-10.3 .5 8.5 .5-12 .5 13.6 .5-12.8 .5 11.6 .5-12.8 .5 14 .5-16.2 .5 14.5 .5-14.5 .5 15.5 .5-13 .5 12.6 .5-14.2 .5 14.1 .5-14.6 .5 14.8 .5-20.6 .5 20.6 .5-20.3 .5 20.4 .5-12.9 .5 11.3 .5-15.4 .5 18 .5-22.8 .5 20.5 .5-17 .5 18.6 .5-11.9 .5-21.2 .5 12.4 .5 20.7 .5-7.4 .5 7.5 .5-16.2 .5 16.6 .5-13.8 .5 13.4 .5-15 .5 15.5 .5-16.1 .5 13.1 .5-10 .5 11.3 .5-10.4 .5 10.8 .5-7.2 .5 5.7 .5-13.6 .5 16.5 .5-16 .5 14.8 .5-9.6 .5 8.8 .5-8.3 .5 9.8 .5-6.8 .5 5.4 .5-15.3 .5 16.7 .5-14.3 .5 14.8 .5-20.7 .5 19.8 .5-11.4 .5 11.2 .5-10.3 .5 11.3 .5-8.4 .5 8 .5-13.3 .5 13.5 .5-6.4 .5 5.3 .5-24 .5 24.1 .5-5.5 .5 6.6 .5-29.6 .5 14.7 .5-5.7 .5 20.4 .5-8.6 .5 8.9 .5-23.6 .5 23.7 .5-26.2 .5 26.1 .5-18.7 .5 18.9 .5-17.5 .5 16.7 .5-29.1 .5 29 .5-13.2 .5 14.1 .5-14.8 .5 14 .5-15.4 .5 14.9 .5-14.8 .5 14.5 .5-10.1 .5 11.5 .5-19.4 .5 18.7 .5-14.2 .5 14.8 .5-28.8 .5 27.2 .5-13.3 .5 15.1 .5-12.2 .5 11.2 .5-16.2 .5 17.1 .5-5.7 .5 5.2 .5-14.3 .5 13.1 .5-13.2 .5 13.6 .5-11.7 .5 11.5 .5-27.2 .5 14.4 .5-3.1 .5 17.1 .5-23.2 .5 22.3 .5-14 .5 13.9 .5-12 .5 13.1 .5-12 .5 11.7 .5-5.4 .5 4.1 .5-16.9 .5 18.4 .5-9.1 .5 9.3 .5-6.3 .5 5.8 .5-4.3 .5 4.7 .5-6.7 .5 6.9 .5-10.1 .5 9.9 .5-3.5 .5 3.4 .5-9.8 .5 9.1 .5-8.2 .5 8.9 .5-7.1 .5 7.4 .5-12 .5 11 .5-4.8 .5 6 .5-18 .5 17.7 .5-4.8 .5 4.4 .5-12.3 .5 12.5 .5-14.4 .5 14.6 .5-16.9 .5 16.2 .5-14.3 .5 14.6 .5-10.8 .5 11 .5-5.2 .5 5.3 .5-5.4 .5 5.5 .5-7.1 .5 6.6 .5-10.1 .5 10.3 .5-3.9 .5 3.8 .5-15.5 .5 15.9 .5-6 .5 5.8 .5-2.4 .5 2 .5-3.3 .5 3.6 .5-17.8 .5 18.2 .5-17.1 .5 17 .5-4.6 .5 4.7 .5-8.5 .5 8.2 .5-5.2 .5 4.7 .5-6.4 .5 7.4 .5-8.2 .5 7.9 .5-8.6 .5 8.7 .5-6.2 .5 6.3 .5-13.8 .5 13.3 .5-8.1 .5 8.5 .5-6.1 .5 5" fill="none" stroke="#000" stroke-width="1.1" /></g><line x1="684.22" y1="484.84" x2="684.22" y2="488.84" stroke="#222" stroke-width="1.0" /><line x1="684.22" y1="558.68" x2="684.22" y2="554.68" stroke="#222" stroke-width="1.0" /><line x1="710.96" y1="484.84" x2="710.96" y2="488.84" stroke="#222" stroke-width="1.0" /><line x1="710.96" y1="558.68" x2="710.96" y2="554.68" stroke="#222" stroke-width="1.0" /><line x1="737.70" y1="484.84" x2="737.70" y2="495.84" stroke="#222" stroke-width="1.3" /><line x1="737.70" y1="558.68" x2="737.70" y2="547.68" stroke="#222" stroke-width="1.3" /><line x1="764.44" y1="484.84" x2="764.44" y2="488.84" stroke="#222" stroke-width="1.0" /><line x1="764.44" y1="558.68" x2="764.44" y2="554.68" stroke="#222" stroke-width="1.0" /><line x1="791.18" y1="484.84" x2="791.18" y2="488.84" stroke="#222" stroke-width="1.0" /><line x1="791.18" y1="558.68" x2="791.18" y2="554.68" stroke="#222" stroke-width="1.0" /><line x1="817.92" y1="484.84" x2="817.92" y2="495.84" stroke="#222" stroke-width="1.3" /><line x1="817.92" y1="558.68" x2="817.92" y2="547.68" stroke="#222" stroke-width="1.3" /><line x1="844.66" y1="484.84" x2="844.66" y2="488.84" stroke="#222" stroke-width="1.0" /><line x1="844.66" y1="558.68" x2="844.66" y2="554.68" stroke="#222" stroke-width="1.0" /><line x1="871.40" y1="484.84" x2="871.40" y2="488.84" stroke="#222" stroke-width="1.0" /><line x1="871.40" y1="558.68" x2="871.40" y2="554.68" stroke="#222" stroke-width="1.0" /><line x1="898.14" y1="484.84" x2="898.14" y2="495.84" stroke="#222" stroke-width="1.3" /><line x1="898.14" y1="558.68" x2="898.14" y2="547.68" stroke="#222" stroke-width="1.3" /><line x1="924.88" y1="484.84" x2="924.88" y2="488.84" stroke="#222" stroke-width="1.0" /><line x1="924.88" y1="558.68" x2="924.88" y2="554.68" stroke="#222" stroke-width="1.0" /><line x1="951.62" y1="484.84" x2="951.62" y2="488.84" stroke="#222" stroke-width="1.0" /><line x1="951.62" y1="558.68" x2="951.62" y2="554.68" stroke="#222" stroke-width="1.0" /><line x1="978.36" y1="484.84" x2="978.36" y2="495.84" stroke="#222" stroke-width="1.3" /><line x1="978.36" y1="558.68" x2="978.36" y2="547.68" stroke="#222" stroke-width="1.3" /><line x1="1005.10" y1="484.84" x2="1005.10" y2="488.84" stroke="#222" stroke-width="1.0" /><line x1="1005.10" y1="558.68" x2="1005.10" y2="554.68" stroke="#222" stroke-width="1.0" /><line x1="1031.84" y1="484.84" x2="1031.84" y2="488.84" stroke="#222" stroke-width="1.0" /><line x1="1031.84" y1="558.68" x2="1031.84" y2="554.68" stroke="#222" stroke-width="1.0" /><line x1="1058.58" y1="484.84" x2="1058.58" y2="495.84" stroke="#222" stroke-width="1.3" /><line x1="1058.58" y1="558.68" x2="1058.58" y2="547.68" stroke="#222" stroke-width="1.3" /><line x1="1085.32" y1="484.84" x2="1085.32" y2="488.84" stroke="#222" stroke-width="1.0" /><line x1="1085.32" y1="558.68" x2="1085.32" y2="554.68" stroke="#222" stroke-width="1.0" /><line x1="1112.06" y1="484.84" x2="1112.06" y2="488.84" stroke="#222" stroke-width="1.0" /><line x1="1112.06" y1="558.68" x2="1112.06" y2="554.68" stroke="#222" stroke-width="1.0" /><line x1="668.80" y1="553.85" x2="672.00" y2="553.85" stroke="#222" stroke-width="1" /><line x1="1122.50" y1="553.85" x2="1119.30" y2="553.85" stroke="#222" stroke-width="1" /><line x1="668.80" y1="548.90" x2="672.00" y2="548.90" stroke="#222" stroke-width="1" /><line x1="1122.50" y1="548.90" x2="1119.30" y2="548.90" stroke="#222" stroke-width="1" /><line x1="668.80" y1="543.95" x2="672.00" y2="543.95" stroke="#222" stroke-width="1" /><line x1="1122.50" y1="543.95" x2="1119.30" y2="543.95" stroke="#222" stroke-width="1" /><line x1="668.80" y1="539.00" x2="675.30" y2="539.00" stroke="#222" stroke-width="1" /><line x1="1122.50" y1="539.00" x2="1116.00" y2="539.00" stroke="#222" stroke-width="1" /><line x1="668.80" y1="534.05" x2="672.00" y2="534.05" stroke="#222" stroke-width="1" /><line x1="1122.50" y1="534.05" x2="1119.30" y2="534.05" stroke="#222" stroke-width="1" /><line x1="668.80" y1="529.10" x2="672.00" y2="529.10" stroke="#222" stroke-width="1" /><line x1="1122.50" y1="529.10" x2="1119.30" y2="529.10" stroke="#222" stroke-width="1" /><line x1="668.80" y1="524.15" x2="672.00" y2="524.15" stroke="#222" stroke-width="1" /><line x1="1122.50" y1="524.15" x2="1119.30" y2="524.15" stroke="#222" stroke-width="1" /><line x1="668.80" y1="519.20" x2="675.30" y2="519.20" stroke="#222" stroke-width="1" /><line x1="1122.50" y1="519.20" x2="1116.00" y2="519.20" stroke="#222" stroke-width="1" /><line x1="668.80" y1="514.25" x2="672.00" y2="514.25" stroke="#222" stroke-width="1" /><line x1="1122.50" y1="514.25" x2="1119.30" y2="514.25" stroke="#222" stroke-width="1" /><line x1="668.80" y1="509.30" x2="672.00" y2="509.30" stroke="#222" stroke-width="1" /><line x1="1122.50" y1="509.30" x2="1119.30" y2="509.30" stroke="#222" stroke-width="1" /><line x1="668.80" y1="504.35" x2="672.00" y2="504.35" stroke="#222" stroke-width="1" /><line x1="1122.50" y1="504.35" x2="1119.30" y2="504.35" stroke="#222" stroke-width="1" /><line x1="668.80" y1="499.40" x2="675.30" y2="499.40" stroke="#222" stroke-width="1" /><line x1="1122.50" y1="499.40" x2="1116.00" y2="499.40" stroke="#222" stroke-width="1" /><line x1="668.80" y1="494.45" x2="672.00" y2="494.45" stroke="#222" stroke-width="1" /><line x1="1122.50" y1="494.45" x2="1119.30" y2="494.45" stroke="#222" stroke-width="1" /><line x1="668.80" y1="489.50" x2="672.00" y2="489.50" stroke="#222" stroke-width="1" /><line x1="1122.50" y1="489.50" x2="1119.30" y2="489.50" stroke="#222" stroke-width="1" /><text x="666.00" y="503.10" font-size="10.7" text-anchor="end" fill="#000" >0.6</text><text x="666.00" y="522.90" font-size="10.7" text-anchor="end" fill="#000" >0.4</text><text x="666.00" y="542.70" font-size="10.7" text-anchor="end" fill="#000" >0.2</text><rect x="668.80" y="484.84" width="453.70" height="73.84" fill="none" stroke="#000" stroke-width="1.35"/><line x1="669.50" y1="499.80" x2="692.00" y2="499.80" stroke="#444" stroke-width="1.0"/><text x="693.00" y="503.50" font-size="9.5" text-anchor="start" fill="#303050" >|J|</text><text transform="translate(640.50,521.50) rotate(-90)" font-size="11" text-anchor="middle" fill="#000">|J| [&#181;A m<tspan font-size="8" dy="-4">-2</tspan><tspan dy="4" font-size="1">&#8203;</tspan>]</text><line x1="733.60" y1="564.68" x2="733.60" y2="632.52" stroke="#00aa00" stroke-width="1.3" stroke-dasharray="10 4.4"/><line x1="900.40" y1="564.68" x2="900.40" y2="632.52" stroke="#00aa00" stroke-width="1.3" stroke-dasharray="10 4.4"/><line x1="775.40" y1="564.68" x2="775.40" y2="632.52" stroke="#ff4848" stroke-width="1.7" stroke-dasharray="11 4"/><line x1="858.70" y1="564.68" x2="858.70" y2="632.52" stroke="#ff0000" stroke-width="1.3" stroke-dasharray="11 4"/><line x1="771.80" y1="564.68" x2="771.80" y2="632.52" stroke="#0000ff" stroke-width="1.3" stroke-dasharray="2 3.4"/><line x1="826.60" y1="564.68" x2="826.60" y2="632.52" stroke="#ff00ff" stroke-width="1.5" stroke-dasharray="2 3.4"/><line x1="944.30" y1="564.68" x2="944.30" y2="632.52" stroke="#ff00ff" stroke-width="1.5" stroke-dasharray="2 3.4"/><g clip-path="url(#cm7)"><path d="M668.8 600.4l.5-4.3 .5 4.9 .5-6.9 .5 5.3 .5-7.4 .5 6.4 .5-7 .5 7.9 .5-4.2 .5 7.5 .5-5.9 .5 3.3 .5-3.8 .5 4.5 .5-5.7 .5 4 .5-2.3 .5 4.6 .5-5.3 .5 5.6 .5-5.3 .5 4.7 .5-3.1 .5 1.4 .5-2.7 .5 3 .5-1.9 .5 2.4 .5-5.4 .5 4 .5-4.8 .5 4.6 .5-1.9 .5 3.4 .5-6 .5 4.6 .5-3.6 .5 5.6 .5-2.6 .5 3.8 .5-7.5 .5 5.9 .5-5.5 .5 6.4 .5-6.8 .5 7.3 .5-4.5 .5 5.9 .5-5 .5 4.1 .5-4.9 .5 4.7 .5-2.4 .5 3.6 .5-6.8 .5 3.3 .5-4.1 .5 5.5 .5-7.4 .5 7.5 .5-6.3 .5 4.3 .5-4 .5 7.9 .5-7.7 .5 3.3 .5-5.3 .5 5.5 .5-3.3 .5 2.9 .5-.5 .5 2.4 .5-4.5 .5 4.8 .5-5.4 .5 5.5 .5-4.8 .5 4.2 .5-5.4 .5 3.3 .5-3.4 .5 4 .5-5.7 .5 7.6 .5-6.3 .5 5.7 .5-2.5 .5 3 .5-3 .5 3.9 .5-3.4 .5 4.7 .5-4.8 .5 1 .5-6.9 .5 7.4 .5-6.2 .5 6.4 .5-6.8 .5 6.2 .5-5.2 .5 1.9 .5-1.6 .5 2.5 .5-2 .5 4.1 .5-3 .5 3.8 .5-2.5 .5 3.5 .5-4.3 .5 3.7 .5-2.7 .5 3.6 .5-5.6 .5 5.3 .5-4.4 .5 3.8 .5-5.4 .5 8.6 .5-5.4 .5 2.2 .5-3.3 .5 8.3 .5-6.6 .5 2.8 .5-3.6 .5 2.2 .5-4.2 .5 3.2 .5-4.4 .5 5.4 .5-3.4 .5 3.5 .5-1.4 .5 2.7 .5-2.9 .5 5.8 .5-7.3 .5 7.9 .5-6.3 .5 6 .5-7.4 .5 5.9 .5-4.4 .5 2.1 .5-2.4 .5 4.5 .5-6.5 .5 4.4 .5-4.2 .5 6.1 .5-5.8 .5 5.7 .5-7.6 .5 5.3 .5-5.2 .5 9.4 .5-7.3 .5 6 .5-10 .5 7.1 .5-4.9 .5 5.7 .5-7.1 .5 3.9 .5-3.6 .5 4.6 .5-5.8 .5 9.2 .5-9.2 .5 4.6 .5-4.4 .5 7.5 .5-5.8 .5 3.5 .5-4.4 .5 7.5 .5-3.7 .5 1.8 .5-2.5 .5 4.5 .5-5.2 .5 5.3 .5-5.1 .5 3.6 .5-3.4 .5 5.9 .5-7.8 .5 6.9 .5-7.2 .5 6 .5-3.4 .5 3.7 .5-4.3 .5 3.7 .5-6.8 .5 7 .5-4.5 .5 8 .5-9.2 .5 8.2 .5-8.5 .5 8.4 .5-7.8 .5 5.2 .5-8.4 .5 8.3 .5-10 .5 7.9 .5-8.9 .5 7.3 .5-6.3 .5 8.1 .5-4.5 .5 9.4 .5-7.4 .5 6 .5-10.6 .5 12.6 .5-10.8 .5 9.6 .5-8.7 .5 10.5 .5-14.6 .5 13.9 .5-11.7 .5 8.2 .5-6.1 .5 9.2 .5-9 .5 6.3 .5-7.9 .5 8.3 .5-11.6 .5 9.6 .5-12.8 .5 12.1 .5-5.6 .5 8.3 .5-11 .5 14.8 .5-6.8 .5 7.3 .5-6.2 .5 6.7 .5-12.6 .5 11.6 .5-5.4 .5 9.9 .5-10.1 .5 4.7 .5-7.4 .5 6.6 .5-7.5 .5 8.3 .5-9.3 .5 4.4 .5-12.2 .5 18.9 .5-10.5 .5 6.6 .5-6.1 .5 4.4 .5-6.4 .5 12.3 .5-10.8 .5 9.3 .5-6.5 .5 6.2 .5-14.6 .5 11.2 .5-9.2 .5 9.2 .5-6.4 .5 9.1 .5-5.7 .5 7.6 .5-9.9 .5 10 .5-8.9 .5 4 .5-7.3 .5 10.2 .5-7.5 .5 4.2 .5-5.1 .5 5.7 .5-2 .5 8.1 .5-8.4 .5 5.9 .5-6.9 .5 7 .5-10.9 .5 15.7 .5-14.5 .5 5.8 .5-6.4 .5 6.3 .5-9.8 .5 9.2 .5-6.5 .5 11.9 .5-9.4 .5 10.3 .5-12.2 .5 8.9 .5-8.7 .5 8.9 .5-7.8 .5 7.1 .5-13.4 .5 11.3 .5-8.5 .5 7.4 .5-8.9 .5 11.3 .5-9.6 .5 10 .5-14.9 .5 11 .5-7.1 .5 6 .5-1.3 .5 6.5 .5-10.9 .5 8.4 .5-5.9 .5 9.7 .5-13.1 .5 11.5 .5-11.3 .5 10.2 .5-8.4 .5 11.4 .5-9.1 .5 7.2 .5-8.1 .5 10.6 .5-5 .5 2.8 .5-10.8 .5 8.3 .5-6.5 .5 7.1 .5-9.9 .5 8.7 .5-5.8 .5 1.6 .5-5.1 .5 7.2 .5-2.2 .5 8.1 .5-10.1 .5 11.8 .5-11.9 .5 9.4 .5-10.1 .5 17.2 .5-16 .5 9.9 .5-8.6 .5 8.3 .5-11.7 .5 9.9 .5-10.6 .5 12.6 .5-10.8 .5 5.3 .5-3.6 .5 6.5 .5-8.8 .5 13.8 .5-9.2 .5 9.5 .5-12.7 .5 13.2 .5-14 .5 10 .5-11.6 .5 12.1 .5-13.9 .5 17 .5-12.5 .5 14.3 .5-9.6 .5 13.8 .5-13.8 .5 11.9 .5-10.4 .5 4 .5-8.5 .5 8 .5-3.6 .5 6.6 .5-8.9 .5 10.4 .5-11.4 .5 7.2 .5-7.2 .5 3.4 .5-9.2 .5 10.7 .5-8.6 .5 11.3 .5-12.4 .5 12.5 .5-14.4 .5 11.3 .5-9.1 .5 9.7 .5-7 .5 7 .5-7.1 .5 13 .5-11.3 .5 5.3 .5-10.1 .5 9.1 .5-6.9 .5 8 .5-8.6 .5 11.5 .5-9 .5 5.9 .5-11.2 .5 8.4 .5-6.5 .5 13 .5-11.8 .5 3.8 .5-4.8 .5 5.2 .5-5.1 .5 6.8 .5-9.4 .5 9.6 .5-10 .5 8.1 .5-6.7 .5 4.3 .5-10 .5 11.8 .5-7.7 .5 5.9 .5-3.2 .5 8.9 .5-8.3 .5 11.4 .5-11.7 .5 6.8 .5-5.4 .5 5.4 .5-11.7 .5 16.6 .5-12 .5 10.4 .5-7.4 .5 6.7 .5-6.5 .5 8.7 .5-5.5 .5 8.9 .5-10.2 .5 7.3 .5-12.5 .5 4.9 .5-.6 .5 7.1 .5-11.2 .5 11.6 .5-8.5 .5 11.6 .5-10.3 .5 7.1 .5-8.8 .5 12.7 .5-11.9 .5 5.4 .5-8.6 .5 7.4 .5-7.8 .5 14.3 .5-12.8 .5 13.7 .5-12.9 .5 8.9 .5-8.4 .5 8.6 .5-7.6 .5 14.1 .5-17.1 .5 15.7 .5-9.8 .5 8 .5-17.5 .5 10 .5-5.5 .5 5.1 .5-7.7 .5 9.7 .5-9.5 .5 5 .5-4.5 .5 12.4 .5-8.7 .5 5.8 .5-9.1 .5 11.6 .5-11.6 .5 13.5 .5-6.5 .5 2.1 .5-9.3 .5 11.9 .5-10 .5 6.2 .5-2.3 .5 8.6 .5-10.1 .5 3.8 .5-6.4 .5 7 .5-10.6 .5 10.4 .5-11.3 .5 13.8 .5-5.7 .5 5.9 .5-9.8 .5 5.9 .5-8.2 .5 16.3 .5-13 .5 6.9 .5-5.5 .5 3.5 .5-6.7 .5 14.7 .5-11.5 .5 12.2 .5-11.3 .5 6.1 .5-3.6 .5 5.9 .5-9.1 .5 2.3 .5-6.1 .5 10.5 .5-10 .5 9.2 .5-6.5 .5 7.6 .5-6.5 .5 9.7 .5-10.5 .5 6.1 .5-5.8 .5 9.1 .5-9.4 .5 7.9 .5-8.5 .5 7.3 .5-8.2 .5 7.4 .5-5.1 .5 7.7 .5-10.4 .5 10.5 .5-7.3 .5 10.6 .5-5.9 .5 9.4 .5-8.9 .5 6.1 .5-10.9 .5 8.9 .5-13 .5 12.1 .5-12.7 .5 8.1 .5-4.7 .5 8.3 .5-8.8 .5 5.6 .5-8.9 .5 10.4 .5-9.8 .5 5.8 .5-5.3 .5 10.4 .5-11.5 .5 12.7 .5-13 .5 8.3 .5-3.9 .5 2.9 .5-5.7 .5 6.4 .5-6.4 .5 10.7 .5-9.8 .5 6.9 .5-7.3 .5 6.5 .5-10.8 .5 12.4 .5-6.7 .5 8.1 .5-10 .5 11 .5-9.8 .5 10.7 .5-6.7 .5 3.9 .5-7 .5 10 .5-7.1 .5 6.6 .5-11.5 .5 11.1 .5-9.1 .5 6.4 .5-5.1 .5 6.2 .5-11.1 .5 10.3 .5-8.2 .5 5.5 .5-8.1 .5 10.7 .5-10.8 .5 11 .5-7 .5 9.1 .5-13.6 .5 14.7 .5-9.4 .5 6.8 .5-10.7 .5 12.3 .5-11.5 .5 6.9 .5-2.7 .5 4.6 .5-5.2 .5 9.4 .5-7.9 .5 3.3 .5-6.3 .5 9.1 .5-9.1 .5 4.4 .5-3.4 .5 8.7 .5-9.6 .5 5.1 .5-3.6 .5 7.1 .5-5.7 .5 7 .5-8.8 .5 5.1 .5-6.1 .5 6.2 .5-4.9 .5 9.4 .5-10.4 .5 9.7 .5-12.9 .5 11.4 .5-6.4 .5 6.2 .5-6.7 .5 4.7 .5-8.7 .5 9 .5-5 .5 6.9 .5-9 .5 7.8 .5-6.4 .5 4.4 .5-5.8 .5 5 .5-5.1 .5 5.9 .5-4.1 .5 8.2 .5-8.9 .5 2.1 .5-8.7 .5 6.6 .5-3.2 .5 4.7 .5-6.9 .5 8.7 .5-5.8 .5 6.2 .5-6.5 .5 6.2 .5-4 .5 6.5 .5-7.5 .5 8.4 .5-5.6 .5 4.6 .5-5.6 .5 7.2 .5-9 .5 7.9 .5-4.9 .5 4.4 .5-2.1 .5 3.9 .5-8.6 .5 7.2 .5-2.9 .5 2.4 .5-4 .5 4.1 .5-3.9 .5 5.1 .5-3.1 .5 3.1 .5-4.4 .5 6 .5-9.2 .5 8.9 .5-6.1 .5 5.2 .5-8.2 .5 5.6 .5-3.3 .5 7.9 .5-8.6 .5 5.2 .5-6.2 .5 5.7 .5-4.2 .5 5.1 .5-6.6 .5 5.5 .5-3.2 .5 3.2 .5-5.2 .5 5.5 .5-5.4 .5 3.5 .5-4 .5 4.8 .5-2.7 .5 3.7 .5-6 .5 5.6 .5-3.9 .5 7.2 .5-9.7 .5 7.3 .5-5.7 .5 6.4 .5-4.4 .5 3.8 .5-5 .5 3.1 .5-3.2 .5 3.7 .5-4.4 .5 6.4 .5-5.8 .5 6.3 .5-7 .5 5.2 .5-7.7 .5 6.7 .5-5.1 .5 6.8 .5-6.7 .5 6.2 .5-5.5 .5 4.3 .5-2.6 .5 2.3 .5-4.7 .5 4.8 .5-4.8 .5 4.4 .5-3.2 .5 4.5 .5-3.5 .5 1.8 .5-2.3 .5 5 .5-6.2 .5 4.7 .5-5 .5 5.7 .5-3.5 .5 6 .5-5.5 .5 2 .5-3.8 .5 5.8 .5-2.7 .5 3.3 .5-6.4 .5 4.7 .5-4.9 .5 5.5 .5-3.4 .5 2.8 .5-4.5 .5 4.6 .5-2.7 .5 3.8 .5-4.1 .5 5.3 .5-5.9 .5 7.8 .5-7.5 .5 1.6 .5-3.8 .5 3.3 .5-1.4 .5 2.1 .5-2.4 .5 2.3 .5-4.1 .5 5.6 .5-4 .5 4 .5-3.5 .5 2.7 .5-3.1 .5 4.8 .5-4.6 .5 2.6 .5-3.6 .5 6 .5-3.2 .5 1.1 .5-2.8 .5 2.5 .5-3.6 .5 4.1 .5-2.7 .5 4.6 .5-4.4 .5 2.2 .5-4 .5 3.8 .5-4.5 .5 6.6 .5-7.5 .5 4.7 .5-2.7 .5 3 .5-4.5 .5 4.1 .5-1.6 .5 3.4 .5-4.4 .5 3.5 .5-2.9 .5 4 .5-5.5 .5 4.9 .5-4 .5 3.7 .5-3.5 .5 3.8 .5-2.1 .5 2.7 .5-3.8 .5 2.3 .5-3 .5 3.5 .5-3.9 .5 3.5 .5-2.3 .5 3.4 .5-5.6 .5 4.7 .5-3.3 .5 6.2 .5-7.5 .5 3.5 .5-2.8 .5 5.3 .5-3.8 .5 2.9 .5-2.7 .5 2.4 .5-1.9 .5 2 .5-3.6 .5 3.6 .5-2.5 .5 4.3 .5-4.9 .5 4.7 .5-3.7 .5 2 .5-4.6 .5 4.7 .5-2.3" fill="none" stroke="#0000ff" stroke-width="1.0" /><path d="M668.8 599.9l.5-5.6 .5 7.1 .5-6 .5 6.6 .5-3.8 .5 4.1 .5-3.9 .5 4.3 .5-5.1 .5 6 .5-6.8 .5 7.6 .5-7.1 .5 7.6 .5-9.4 .5 8.7 .5-7.7 .5 5.1 .5-5.2 .5 4.2 .5-5.7 .5 6.6 .5-4.8 .5 5.1 .5-3.3 .5 4.7 .5-4.4 .5 4.6 .5-9.1 .5 7.3 .5-5.4 .5 7 .5-6.3 .5 2 .5-3.6 .5 7.8 .5-5.6 .5 2.1 .5-5.9 .5 6.3 .5-3.6 .5 7 .5-5.1 .5 3.3 .5-5.7 .5 7.2 .5-5.6 .5 3.9 .5-6 .5 5.4 .5-4.7 .5 5.5 .5-4.3 .5 5.2 .5-7.7 .5 7.7 .5-8.2 .5 5.4 .5-4.5 .5 8 .5-4.8 .5 6.6 .5-4.2 .5 4.7 .5-7.8 .5 4.6 .5-4.7 .5 9.1 .5-10.1 .5 5.1 .5-4.8 .5 5.2 .5-3.9 .5 4.1 .5-4.6 .5 5.6 .5-9.1 .5 6.8 .5-3.8 .5 6.6 .5-5.5 .5 5.3 .5-6.2 .5 6.1 .5-3.5 .5 2.8 .5-5.6 .5 6.9 .5-6 .5 3.5 .5-5.4 .5 5.7 .5-8.9 .5 8.3 .5-5.6 .5 4 .5-4.4 .5 5.1 .5-1.5 .5 4.6 .5-6.1 .5 3.8 .5-4.3 .5 5.5 .5-6.1 .5 6.6 .5-6.5 .5 7.6 .5-7.8 .5 6.3 .5-7.2 .5 5.2 .5-3.6 .5 5 .5-5.9 .5 4.8 .5-3.7 .5 6 .5-10.6 .5 11.2 .5-9.8 .5 8.6 .5-6.4 .5 4.6 .5-6.6 .5 6.2 .5-6.5 .5 7.4 .5-6.6 .5 6.1 .5-5.8 .5 8.7 .5-9.9 .5 8.6 .5-5.7 .5 6 .5-6.5 .5 7.3 .5-8.7 .5 6.5 .5-6.9 .5 5.9 .5-6.1 .5 6 .5-4.6 .5 8 .5-8.5 .5 6 .5-3.7 .5 5.7 .5-9.9 .5 8.1 .5-5.3 .5 5.3 .5-5.1 .5 7.8 .5-9.2 .5 9.6 .5-6.3 .5 9.8 .5-10.3 .5 5.4 .5-7.6 .5 8.7 .5-8.9 .5 6.7 .5-4.9 .5 5.6 .5-9.4 .5 7.6 .5-5.5 .5 7.6 .5-5.3 .5 6.5 .5-6.6 .5 6.2 .5-5.9 .5 3.8 .5-4.4 .5 3.7 .5-4.5 .5 5.7 .5-6.2 .5 3.5 .5-7.6 .5 8.4 .5-5.7 .5 5.3 .5-4 .5 6.7 .5-7.8 .5 5.7 .5-6.5 .5 9.1 .5-7.3 .5 5.9 .5-6 .5 6.7 .5-8.5 .5 8.4 .5-5.2 .5 4 .5-4.3 .5 5.1 .5-3.9 .5 7.5 .5-12.1 .5 11.4 .5-10 .5 7.5 .5-5.1 .5 3.8 .5-7.3 .5 8.5 .5-7.3 .5 8.6 .5-5.9 .5 6.4 .5-6 .5 4.1 .5-7.5 .5 8 .5-5.3 .5 8.4 .5-9.5 .5 7.1 .5-4.6 .5 5.3 .5-4.7 .5 4.2 .5-4.7 .5 4.9 .5-3.8 .5 3.4 .5-5.6 .5 4.3 .5-3.1 .5 6.5 .5-7.6 .5 8.2 .5-8.6 .5 8.9 .5-8.2 .5 3.1 .5-7.8 .5 7.9 .5-7.1 .5 8.9 .5-5.8 .5 4.8 .5-5 .5 4.1 .5-6.1 .5 11.2 .5-12.3 .5 6.7 .5-8.6 .5 9.5 .5-8.9 .5 9.4 .5-6.9 .5 7.5 .5-7.9 .5 8.3 .5-9.1 .5 9.4 .5-7.2 .5 8.5 .5-9.3 .5 6 .5-4.9 .5 4.8 .5-5.7 .5 6.2 .5-6.4 .5 5.5 .5-3.2 .5 8.2 .5-8.5 .5 3.1 .5-5.1 .5 6.7 .5-6.3 .5 5.5 .5-7.6 .5 10.1 .5-9.6 .5 9.2 .5-8 .5 11.5 .5-8.3 .5 6.2 .5-7.5 .5 8 .5-8.7 .5 7 .5-8.4 .5 9.6 .5-7.7 .5 5.5 .5-8.9 .5 6.4 .5-3.4 .5 10.8 .5-13.6 .5 9.1 .5-6.7 .5 3.2 .5-4.8 .5 11.2 .5-6.8 .5 4.3 .5-7.6 .5 8.8 .5-5.8 .5 2 .5-7 .5 8.5 .5-5.9 .5 6.2 .5-5.1 .5 8.4 .5-9.2 .5 3.4 .5-6.1 .5 8.8 .5-10.2 .5 11.1 .5-4.4 .5 3.9 .5-3.5 .5 4.7 .5-9 .5 8.2 .5-9.7 .5 12.1 .5-10.7 .5 5.6 .5-5.6 .5 5.4 .5-5.4 .5 6.1 .5-8.5 .5 10.8 .5-10.5 .5 9.7 .5-10.2 .5 9.4 .5-8.3 .5 8.1 .5-4.7 .5 6.6 .5-10 .5 7.2 .5-6.7 .5 4.8 .5-3.9 .5 6.3 .5-9.5 .5 7.5 .5-3.9 .5 6.2 .5-5.3 .5 4.6 .5-4.3 .5 7.7 .5-7.8 .5 6.1 .5-6.5 .5 6 .5-5.1 .5 6.1 .5-6.1 .5 6.3 .5-6.1 .5 4.2 .5-6.8 .5 9.9 .5-9.1 .5 8.3 .5-7.6 .5 6.6 .5-7.7 .5 8.6 .5-6.8 .5 7.7 .5-10.2 .5 8.4 .5-7 .5 11 .5-14.5 .5 9.9 .5-5.3 .5 2.4 .5-4.3 .5 6.8 .5-6 .5 7.8 .5-8.1 .5 7.5 .5-8.4 .5 6.5 .5-4.2 .5 8.3 .5-6.7 .5 2.6 .5-6.6 .5 10.2 .5-6.3 .5 6.7 .5-9.1 .5 5.8 .5-5.6 .5 11 .5-11.7 .5 5.2 .5-9.8 .5 8.9 .5-3.6 .5 6.4 .5-6.2 .5 5.5 .5-5.6 .5 7.4 .5-8.5 .5 7.6 .5-5.4 .5 3.3 .5-7.1 .5 6.9 .5-6.7 .5 8.2 .5-8.9 .5 9.7 .5-10 .5 8.6 .5-6.9 .5 4.8 .5-1.5 .5 7.2 .5-10 .5 8.1 .5-7.1 .5 3.3 .5-3.7 .5 6.9 .5-6 .5 5.9 .5-4.7 .5 4.4 .5-11.4 .5 12.3 .5-7 .5 6.2 .5-7.3 .5 7.3 .5-5.4 .5 4.3 .5-8.2 .5 9.9 .5-6.5 .5 4.6 .5-4.3 .5 10.2 .5-9.2 .5 3 .5-5.1 .5 7.3 .5-5.5 .5 5.8 .5-6.1 .5 6.2 .5-7 .5 7.4 .5-9.9 .5 10.2 .5-6.8 .5 7.8 .5-9.2 .5 7.8 .5-7.2 .5 9.3 .5-8.9 .5 4.7 .5-5 .5 8.7 .5-10 .5 5.1 .5-4.5 .5 7.7 .5-9.2 .5 7.1 .5-7.4 .5 6.9 .5-4 .5 5.4 .5-7.7 .5 4 .5-5.5 .5 8.5 .5-6.8 .5 6.5 .5-5.5 .5 3.7 .5-5 .5 4.1 .5-8.7 .5 6.7 .5-3 .5 6.2 .5-10.1 .5 8.6 .5-6.6 .5 12.5 .5-9.4 .5 6.4 .5-3.8 .5 7.4 .5-10.3 .5 10 .5-5.6 .5 8.4 .5-11.5 .5 10.5 .5-9.6 .5 6.1 .5-10 .5 12.3 .5-6.7 .5 5.4 .5-5.9 .5 4.1 .5-7.7 .5 9 .5-6.9 .5 7.8 .5-9.1 .5 6.6 .5-5.8 .5 8.3 .5-6.4 .5 5.6 .5-9.7 .5 5.9 .5-3.3 .5 3.7 .5-4.3 .5 6.9 .5-6.1 .5 6.9 .5-4.9 .5 5.5 .5-8.5 .5 11.5 .5-11.1 .5 7.4 .5-7.9 .5 7.7 .5-9.8 .5 8 .5-6.7 .5 11 .5-12.3 .5 6.2 .5-4.7 .5 7 .5-10.3 .5 8.3 .5-9.9 .5 9.5 .5-7 .5 5.7 .5-7 .5 12.6 .5-8.2 .5 7.3 .5-6.3 .5 9.2 .5-9.9 .5 4.7 .5-6.8 .5 8 .5-5.7 .5 5.8 .5-4.2 .5 6.4 .5-9.4 .5 8.6 .5-10.5 .5 10.7 .5-10.5 .5 9.1 .5-4.7 .5 5.2 .5-8.5 .5 8.2 .5-4.1 .5 6 .5-5.6 .5 4.7 .5-5.7 .5 4.8 .5-5.1 .5 4.3 .5-3.9 .5 6.3 .5-10.5 .5 10.5 .5-8.3 .5 10.8 .5-13.5 .5 7.2 .5-5.2 .5 6 .5-10.5 .5 12.4 .5-4.3 .5 3.8 .5-6 .5 7.2 .5-11.8 .5 11.2 .5-10.1 .5 14.3 .5-12.4 .5 6.6 .5-7.6 .5 5.3 .5-5.6 .5 7.3 .5-5 .5 7.5 .5-7.6 .5 7.9 .5-8.5 .5 4.7 .5-4.9 .5 5.2 .5-1.5 .5 7 .5-8.1 .5 6.6 .5-6.2 .5 6.8 .5-6.6 .5 4.7 .5-9.8 .5 9.3 .5-8.6 .5 7.9 .5-9.1 .5 9.9 .5-6.3 .5 6.8 .5-10.4 .5 8.6 .5-3.8 .5 4.5 .5-6.7 .5 9.9 .5-8.3 .5 7.2 .5-4 .5 1.7 .5-6.3 .5 7.4 .5-5.4 .5 4.6 .5-6.5 .5 6.3 .5-5.3 .5 6.4 .5-4.6 .5 4.8 .5-7.7 .5 5.5 .5-9.2 .5 8.8 .5-4.8 .5 6.5 .5-6.7 .5 6.7 .5-3.9 .5 4.7 .5-5.3 .5 5.7 .5-7.2 .5 8.9 .5-7.5 .5 2.8 .5-8.6 .5 9.2 .5-6.1 .5 5.7 .5-4 .5 5.1 .5-5 .5 4.3 .5-4.8 .5 5.9 .5-4.9 .5 4.7 .5-8.3 .5 7.5 .5-4 .5 5.4 .5-5.2 .5 5.3 .5-6.2 .5 5.2 .5-3.3 .5 3.1 .5-3.4 .5 5.4 .5-6.5 .5 5.8 .5-5.7 .5 6 .5-9.5 .5 9.9 .5-6.6 .5 5.6 .5-5.6 .5 5.5 .5-5.5 .5 6.3 .5-7.6 .5 6.5 .5-5.5 .5 6.5 .5-7.8 .5 3.7 .5-3.1 .5 5 .5-5.5 .5 6 .5-4.9 .5 6.9 .5-7 .5 3.8 .5-4.4 .5 6 .5-6.3 .5 3.1 .5-5.2 .5 10.7 .5-8.2 .5 7.2 .5-9.3 .5 9.6 .5-6.4 .5 4.5 .5-2.6 .5 3.9 .5-4.8 .5 3.3 .5-5.8 .5 6.2 .5-5.7 .5 4.8 .5-6.3 .5 9 .5-6.4 .5 4.1 .5-3.8 .5 4 .5-6.8 .5 5.3 .5-3.7 .5 6 .5-5.7 .5 4.7 .5-3.2 .5 3.5 .5-6.5 .5 7.7 .5-5.1 .5 5.8 .5-5.8 .5 3.7 .5-3.1 .5 5.1 .5-7.1 .5 6.4 .5-6 .5 5.3 .5-4.1 .5 3.7 .5-4.3 .5 7 .5-7.4 .5 2.7 .5-1.8 .5 1.5 .5-2.3 .5 2.8 .5-2.8 .5 4.1 .5-5.6 .5 6.8 .5-4.8 .5 5 .5-3.7 .5 3.1 .5-4.6 .5 5.9 .5-6.3 .5 5.2 .5-4.7 .5 4.2 .5-4.1 .5 6 .5-6.6 .5 5.5 .5-5.6 .5 5.5 .5-5 .5 6.8 .5-6.9 .5 6.1 .5-5.3 .5 4.2 .5-3.8 .5 2.7 .5-3.7 .5 3.3 .5-3.7 .5 5.3 .5-5.6 .5 4.4 .5-4 .5 5.7 .5-4.5 .5 2.9 .5-5.6 .5 6.9 .5-5.9 .5 4.2 .5-4 .5 3.2 .5-3.9 .5 5.3 .5-4.3 .5 4.6 .5-5.7 .5 5.5 .5-6.4 .5 7 .5-5.9 .5 6.4 .5-3.7 .5 2.5 .5-3.7 .5 2.7 .5-2.3 .5 3.8 .5-2.5 .5 2.2 .5-4.6 .5 5.2 .5-7 .5 6.7 .5-6.6 .5 4.3 .5-3.5 .5 3.9 .5-2.6 .5 4.4 .5-3.5 .5 5 .5-7.8 .5 4.3 .5-3 .5 3.8 .5-3.9 .5 4.4 .5-3.4 .5 3.5 .5-4.1 .5 6.6 .5-6.9 .5 5.1 .5-4.7 .5 3.5 .5-3.8 .5 5.1 .5-2.3 .5 2.8 .5-3.2 .5 3.9 .5-3.9 .5 3.9 .5-4.9 .5 6.4 .5-10.2 .5 8.5 .5-7.4 .5 7 .5-5.4 .5 3.4 .5-1.6 .5 2.2 .5-3 .5 4.1 .5-2.9 .5 3.7 .5-4.7" fill="none" stroke="#00ff00" stroke-width="1.0" /><path d="M669 601l.5-4.7 .5 2.4 .5-2.8 .5 5.8 .5-8.5 .5 10.7 .5-9.8 .5 11.7 .5-11 .5 2.7 .5-6.1 .5 8 .5-9.3 .5 13.6 .5-6.3 .5 4.7 .5-7.5 .5 5.2 .5-9.8 .5 16.3 .5-26.3 .5 17.5 .5-4.2 .5 8.6 .5-5.3 .5 7.9 .5-5.9 .5 1 .5-8.8 .5 12.8 .5-9.6 .5 10.1 .5-1.8 .5-2.4 .5-8.9 .5 11.4 .5-8.8 .5 2.2 .5-3.5 .5 6.7 .5-10.6 .5 10.2 .5-6.9 .5 16.1 .5-14.8 .5 7.9 .5-4.2 .5 6.6 .5-7.4 .5 3.9 .5-8.5 .5 5.3 .5-6.2 .5 12.2 .5-7.6 .5 5.7 .5-6.2 .5 10.3 .5-1.8 .5 6.2 .5-21.2 .5 11.5 .5-9.2 .5 17.4 .5-16.7 .5 14.1 .5-6.4 .5-.2 .5-19.6 .5 26.9 .5-8.6 .5 18 .5-21.1 .5 10.3 .5-10.1 .5 7.8 .5-8.6 .5-.1 .5-1.1 .5 10.2 .5-9.8 .5 9.2 .5-5.4 .5 8.7 .5-8.1 .5 9.3 .5-11 .5 .2 .5-1.9 .5 7.1 .5-8.4 .5 16 .5-12.5 .5 8.1 .5-8.4 .5 9.1 .5-6.9 .5 8.4 .5-10 .5 5.4 .5-6.5 .5 15.2 .5-11.2 .5 7.8 .5-7.2 .5 5.3 .5-5.2 .5 5.9 .5-3.5 .5 4.7 .5-7.4 .5 .6 .5-4.5 .5 9.1 .5-7 .5 4.2 .5-6.3 .5 8.4 .5-13 .5 16.2 .5-5.4 .5 3.8 .5-7.8 .5 6 .5-6.6 .5 9.2 .5-24.1 .5 20.2 .5-8.7 .5 5.7 .5-3.4 .5 5.2 .5-3.3 .5 4 .5-4.5 .5 4.8 .5-2.1 .5 7.3 .5-13.2 .5 6 .5-3.2 .5 6.2 .5-10.2 .5 7.6 .5-6.5 .5-1 .5-.8 .5 12.6 .5-9.6 .5 5.5 .5-7.4 .5 4.6 .5 1.2 .5 1.9 .5-3.7 .5 11.9 .5-12.8 .5 6.1 .5-6.9 .5 7.1 .5-3.8 .5 10.6 .5 3.4 .5-.9 .5-15.2 .5 15 .5-18 .5 11.7 .5-8 .5 5.4 .5-5.9 .5 14.5 .5-18.1 .5 12.4 .5-8.3 .5 5.6 .5-9.2 .5 12.6 .5-9.4 .5 13 .5-11 .5 11 .5-27.1 .5 23.9 .5-10.2 .5 8.1 .5-7.5 .5 4 .5-2.3 .5 4.1 .5-10.1 .5 8.1 .5-6.4 .5 9.6 .5-7.3 .5 7.1 .5 4 .5-4.2 .5-23.5 .5 20.8 .5-10 .5 7.5 .5-4 .5 14.3 .5-9.1 .5 12.5 .5-18.4 .5 16.7 .5-20.4 .5 7 .5-8.7 .5 21.5 .5-12.8 .5 15.4 .5-16.8 .5 13.5 .5-13.2 .5 23 .5-18.2 .5 8.7 .5-13.7 .5 7.6 .5-6.3 .5 7.5 .5-10.8 .5 3.8 .5-11.5 .5 5.3 .5 1.7 .5 17.9 .5-18.6 .5 18.2 .5-15.3 .5 17.3 .5-20.6 .5 17.1 .5-17 .5 24.8 .5-18.6 .5 8 .5-7.1 .5 14.8 .5-29.6 .5 27.4 .5-5.4 .5 10.8 .5-16.4 .5 2.4 .5-8.2 .5 11.9 .5-26.7 .5 21.4 .5-15.9 .5 2.5 .5-4.5 .5 18.6 .5-19.1 .5 24.7 .5-25 .5 20.5 .5-26.3 .5 10.6 .5-5.5 .5 20.5 .5-13 .5 20.4 .5-23.8 .5 34 .5-15.7 .5 10.4 .5-19.3 .5 25.4 .5-48.9 .5 25.4 .5-7.5 .5 23.5 .5 2.8 .5-13.8 .5-7.1 .5 15.2 .5-16 .5 22 .5-16.2 .5 22.9 .5-19.4 .5 7.6 .5-14.4 .5 11.5 .5-17.1 .5 14.2 .5-11.2 .5 7.5 .5-19.2 .5 26.2 .5-15.4 .5 10.8 .5-14.2 .5 23.1 .5-11.7 .5 9 .5-25.1 .5 29.1 .5-28.1 .5 22.8 .5-17.2 .5 10.6 .5-6.7 .5 10.4 .5-12.4 .5 15.2 .5-15.9 .5 6.7 .5-4.4 .5 7.8 .5-20 .5 17 .5-25.2 .5 24.7 .5-10 .5 11.8 .5-13.7 .5 25.7 .5-9.5 .5 7.2 .5-31.6 .5 26.2 .5-17.7 .5 18.4 .5-21.7 .5 17.6 .5 6.2 .5 9.2 .5-38.6 .5 25.7 .5-10.5 .5 25 .5-44.5 .5 34.2 .5-13.7 .5 27.9 .5-21.8 .5 7.6 .5-16.3 .5 11 .5-8.3 .5 21.3 .5-15.8 .5 14.7 .5-23.2 .5 13.7 .5-25.7 .5 19.2 .5-15 .5 8.5 .5-5.9 .5 6 .5-17 .5 15.9 .5-3.8 .5 2.3 .5-1.5 .5 15.5 .5-22.8 .5 21.6 .5-17.8 .5 16 .5-7.2 .5 23.4 .5-18.7 .5 3.3 .5-8.9 .5 28.9 .5-7.6 .5-8.4 .5-10 .5 22.5 .5-20.7 .5 3.4 .5-1.9 .5 4.4 .5-1.8 .5 11.2 .5-23.7 .5 20 .5-21 .5 14.4 .5-13.5 .5 14.3 .5-16.6 .5 22.1 .5-21.5 .5 25.9 .5-17.1 .5 7.5 .5-38.6 .5 46.8 .5-15.7 .5 13.5 .5-5.4 .5 1.7 .5-10.4 .5 17.7 .5-10.2 .5 22.7 .5-30.5 .5 .5 .5 2.3 .5 13.4 .5-14.2 .5 17.9 .5-24.2 .5 10.9 .5-5 .5-7.7 .5 16.3 .5 9.1 .5-15.4 .5 15.2 .5-40.3 .5 28.9 .5-6.2 .5 5.3 .5-17.4 .5 25.2 .5-19.8 .5 30.1 .5-20.9 .5 15 .5-23.6 .5 16.9 .5-21.2 .5 9.9 .5 6 .5 12.5 .5-16.4 .5 13.3 .5-10.5 .5 1.5 .5-16.8 .5 16.5 .5-10.5 .5 13.9 .5-16.8 .5 22.2 .5-27.7 .5 20.8 .5-14.7 .5 8.8 .5-10.6 .5 14.4 .5-11.8 .5 16.3 .5-23.9 .5 25.7 .5-23.8 .5 23.9 .5-15.5 .5 10.1 .5-25.4 .5 35 .5-35.6 .5 32.7 .5-24.6 .5 21 .5-17.9 .5 15.7 .5-17.7 .5 29.3 .5-22.6 .5 20.6 .5-29.1 .5 20.7 .5-3.4 .5 11.4 .5-19.8 .5 20.9 .5-20.7 .5-2.9 .5-8.8 .5 33.4 .5-24.7 .5 0 .5 5.4 .5 11.6 .5-16.6 .5 17.6 .5-21.9 .5 14.8 .5-6.6 .5 18.2 .5-13.2 .5 11.1 .5-15.1 .5 16.6 .5-29 .5 24.3 .5-18 .5 17.4 .5-26 .5 13.4 .5-10 .5 18.8 .5-17.6 .5 19.9 .5-13.4 .5 10.5 .5-10.9 .5 10.9 .5-20.1 .5 19.3 .5-18.7 .5 9.6 .5-13.5 .5 21.8 .5-21.7 .5 12.7 .5-12.9 .5 8.8 .5-5.8 .5 22.7 .5-30.8 .5 32.3 .5-22.9 .5 12.7 .5-12.5 .5 32.7 .5-24.8 .5-8.5 .5 7.8 .5 8.5 .5-16.9 .5 21.5 .5-22.9 .5 19.7 .5-28.2 .5 34 .5-25.7 .5 21.2 .5-18 .5 27.9 .5-34.1 .5 24.6 .5-11.1 .5 15.4 .5-14.4 .5 8.6 .5-37 .5 34.1 .5-4.9 .5 17.6 .5-19.9 .5 21.5 .5-32.6 .5 33.9 .5-24.6 .5 11.7 .5-15.6 .5 14.7 .5-16 .5 20 .5-36.7 .5 31.7 .5-12.8 .5 19.4 .5-32.6 .5 26.3 .5-19.9 .5 27.5 .5-26.3 .5 29.7 .5-16.6 .5 20.6 .5-28.7 .5 19.1 .5-14.3 .5 13.4 .5-10.8 .5 8.2 .5-8.8 .5 9.1 .5-13.3 .5 16.5 .5-18.7 .5 26.2 .5-29 .5 19.2 .5-20.8 .5 29.3 .5-17.2 .5 9 .5-9.7 .5 17.5 .5-24.2 .5 16.1 .5-14 .5 19.7 .5-15.6 .5 14.6 .5-8.8 .5 15.4 .5-22 .5 23.7 .5-34.9 .5 29.3 .5-28 .5 21.6 .5-12.2 .5 22 .5-27.6 .5 27.8 .5 14.2 .5-10.8 .5-26.5 .5 36 .5-16.6 .5 13.9 .5-30.6 .5 14.8 .5-25.7 .5 22.5 .5-15.5 .5 29.6 .5-24.1 .5 16.2 .5-15.9 .5 15.7 .5-21.5 .5 10.7 .5-18.2 .5 23.5 .5-10.7 .5 12.7 .5-26.6 .5 19.2 .5-13.5 .5 20.2 .5-16.4 .5 13.1 .5-8.9 .5 15.7 .5-12 .5 7.9 .5-7.1 .5 5.8 .5-21.5 .5 27.3 .5-17.1 .5 7.3 .5-11 .5 12.8 .5-7.8 .5 11 .5-8.4 .5 17.3 .5-27.1 .5 9 .5-3.8 .5 13.2 .5-23.9 .5 13.8 .5-16.6 .5 20.1 .5-12.1 .5 8.1 .5-16.6 .5 19.6 .5-7.8 .5 15.3 .5-10.8 .5 10 .5-17.2 .5 18.2 .5-14 .5 15 .5-12.7 .5 16.4 .5-10.4 .5-8.8 .5 8.8 .5 4.9 .5-8.4 .5 14.8 .5-10.9 .5 6 .5-6.2 .5 8.5 .5-11 .5 11.5 .5-18.6 .5 15.4 .5-6.4 .5 .6 .5-9.3 .5 17.8 .5-10.6 .5 5.6 .5-8.2 .5 10.7 .5-18.3 .5-7.6 .5 11.2 .5 10.6 .5-10.4 .5 12.8 .5-14.9 .5 12.7 .5-15.7 .5 12.5 .5-8.1 .5 5.1 .5-3.5 .5 6.3 .5-12.8 .5 12.4 .5-11.4 .5 17.2 .5-16.1 .5 13.7 .5-3.3 .5 9.6 .5-7.8 .5 15.6 .5-10.5 .5 1.3 .5 1.7 .5-9 .5-1.1 .5 8.6 .5-15.7 .5 9.4 .5-21.2 .5 14.6 .5-11 .5 15.6 .5-5.4 .5 6.2 .5-8.6 .5 17.5 .5-21.3 .5 11.2 .5-7.1 .5 13 .5-7.9 .5 20.9 .5-12.9 .5-3.5 .5-3 .5 7.6 .5-14.7 .5 6.2 .5-3.4 .5 10.5 .5-12.9 .5 14.1 .5-10.8 .5 4.8 .5-8.8 .5 14.9 .5-12.1 .5 11.4 .5-13.5 .5 16.1 .5-5.2 .5-1.6 .5-21.2 .5 16.7 .5-11.6 .5 18 .5-14.2 .5 12.2 .5-8.2 .5 10.8 .5-10.7 .5 4.7 .5-9.5 .5 17.5 .5-7.1 .5 1.5 .5-3 .5 13.7 .5-11.1 .5 7.7 .5-13 .5 8 .5-7.8 .5 8.1 .5-6.7 .5 8.8 .5-10.3 .5 11.2 .5-9.1 .5 15.5 .5-10.4 .5 3.8 .5-7.7 .5 8.2 .5 2.8 .5 20.4 .5-27.4 .5 .7 .5-3 .5 9.5 .5-13.8 .5 4.6 .5-6.7 .5 6.5 .5-8.6 .5 13.7 .5-7.5 .5 21.8 .5-25.2 .5 13.8 .5-15 .5 9.1 .5-7.9 .5 11.8 .5-7.6 .5 10.9 .5-17.6 .5 11.1 .5-7.8 .5 7.9 .5-9.4 .5 8.6 .5-3.8 .5 4.5 .5-3.4 .5 7 .5-8.1 .5 2.3 .5-4.3 .5 3.6 .5-9.5 .5 8.9 .5-5.8 .5 9.5 .5-5.1 .5 8.3 .5-8.6 .5 7.7 .5-8 .5 4.5 .5-7.5 .5 7.6 .5-13.7 .5 10.8 .5-2.3 .5 3.4 .5-8.6 .5 9.7 .5-9.2 .5 5.9 .5-7.3 .5 6.7 .5-4.9 .5 6 .5-7.5 .5 5 .5-3.7 .5 4.3 .5-4.4 .5 9 .5-6.4 .5 8.1 .5-5.4 .5 11.6 .5-10.4 .5 3.7 .5-7.2 .5 8.8 .5-6.5 .5 2.8 .5-4.7 .5 6.2 .5-5.9 .5 2.7 .5 6.3 .5 .4 .5-4.8 .5-1.4 .5-11 .5 14.2 .5-7.2 .5 .5 .5-4.2 .5 5.4 .5-2.4 .5 4.9 .5-3.4 .5 3.9 .5-3.5 .5 4.5 .5-3.3 .5 3.4 .5-3.7 .5 4.6 .5-9.6 .5 9.2 .5-5.7 .5 2.6 .5-2.4 .5 1.9 .5-3.4 .5 5.1 .5-4.7 .5 6.2 .5-6.9" fill="none" stroke="#ff0000" stroke-width="1.0" /></g><line x1="668.80" y1="598.00" x2="1122.50" y2="598.00" stroke="#000" stroke-width="1.5" stroke-dasharray="5.2 3.1"/><line x1="684.22" y1="558.68" x2="684.22" y2="562.68" stroke="#222" stroke-width="1.0" /><line x1="684.22" y1="632.52" x2="684.22" y2="628.52" stroke="#222" stroke-width="1.0" /><line x1="710.96" y1="558.68" x2="710.96" y2="562.68" stroke="#222" stroke-width="1.0" /><line x1="710.96" y1="632.52" x2="710.96" y2="628.52" stroke="#222" stroke-width="1.0" /><line x1="737.70" y1="558.68" x2="737.70" y2="569.68" stroke="#222" stroke-width="1.3" /><line x1="737.70" y1="632.52" x2="737.70" y2="621.52" stroke="#222" stroke-width="1.3" /><line x1="764.44" y1="558.68" x2="764.44" y2="562.68" stroke="#222" stroke-width="1.0" /><line x1="764.44" y1="632.52" x2="764.44" y2="628.52" stroke="#222" stroke-width="1.0" /><line x1="791.18" y1="558.68" x2="791.18" y2="562.68" stroke="#222" stroke-width="1.0" /><line x1="791.18" y1="632.52" x2="791.18" y2="628.52" stroke="#222" stroke-width="1.0" /><line x1="817.92" y1="558.68" x2="817.92" y2="569.68" stroke="#222" stroke-width="1.3" /><line x1="817.92" y1="632.52" x2="817.92" y2="621.52" stroke="#222" stroke-width="1.3" /><line x1="844.66" y1="558.68" x2="844.66" y2="562.68" stroke="#222" stroke-width="1.0" /><line x1="844.66" y1="632.52" x2="844.66" y2="628.52" stroke="#222" stroke-width="1.0" /><line x1="871.40" y1="558.68" x2="871.40" y2="562.68" stroke="#222" stroke-width="1.0" /><line x1="871.40" y1="632.52" x2="871.40" y2="628.52" stroke="#222" stroke-width="1.0" /><line x1="898.14" y1="558.68" x2="898.14" y2="569.68" stroke="#222" stroke-width="1.3" /><line x1="898.14" y1="632.52" x2="898.14" y2="621.52" stroke="#222" stroke-width="1.3" /><line x1="924.88" y1="558.68" x2="924.88" y2="562.68" stroke="#222" stroke-width="1.0" /><line x1="924.88" y1="632.52" x2="924.88" y2="628.52" stroke="#222" stroke-width="1.0" /><line x1="951.62" y1="558.68" x2="951.62" y2="562.68" stroke="#222" stroke-width="1.0" /><line x1="951.62" y1="632.52" x2="951.62" y2="628.52" stroke="#222" stroke-width="1.0" /><line x1="978.36" y1="558.68" x2="978.36" y2="569.68" stroke="#222" stroke-width="1.3" /><line x1="978.36" y1="632.52" x2="978.36" y2="621.52" stroke="#222" stroke-width="1.3" /><line x1="1005.10" y1="558.68" x2="1005.10" y2="562.68" stroke="#222" stroke-width="1.0" /><line x1="1005.10" y1="632.52" x2="1005.10" y2="628.52" stroke="#222" stroke-width="1.0" /><line x1="1031.84" y1="558.68" x2="1031.84" y2="562.68" stroke="#222" stroke-width="1.0" /><line x1="1031.84" y1="632.52" x2="1031.84" y2="628.52" stroke="#222" stroke-width="1.0" /><line x1="1058.58" y1="558.68" x2="1058.58" y2="569.68" stroke="#222" stroke-width="1.3" /><line x1="1058.58" y1="632.52" x2="1058.58" y2="621.52" stroke="#222" stroke-width="1.3" /><line x1="1085.32" y1="558.68" x2="1085.32" y2="562.68" stroke="#222" stroke-width="1.0" /><line x1="1085.32" y1="632.52" x2="1085.32" y2="628.52" stroke="#222" stroke-width="1.0" /><line x1="1112.06" y1="558.68" x2="1112.06" y2="562.68" stroke="#222" stroke-width="1.0" /><line x1="1112.06" y1="632.52" x2="1112.06" y2="628.52" stroke="#222" stroke-width="1.0" /><line x1="668.80" y1="630.10" x2="675.30" y2="630.10" stroke="#222" stroke-width="1" /><line x1="1122.50" y1="630.10" x2="1116.00" y2="630.10" stroke="#222" stroke-width="1" /><line x1="668.80" y1="627.42" x2="671.30" y2="627.42" stroke="#222" stroke-width="1" /><line x1="1122.50" y1="627.42" x2="1120.00" y2="627.42" stroke="#222" stroke-width="1" /><line x1="668.80" y1="624.75" x2="671.30" y2="624.75" stroke="#222" stroke-width="1" /><line x1="1122.50" y1="624.75" x2="1120.00" y2="624.75" stroke="#222" stroke-width="1" /><line x1="668.80" y1="622.08" x2="671.30" y2="622.08" stroke="#222" stroke-width="1" /><line x1="1122.50" y1="622.08" x2="1120.00" y2="622.08" stroke="#222" stroke-width="1" /><line x1="668.80" y1="619.40" x2="675.30" y2="619.40" stroke="#222" stroke-width="1" /><line x1="1122.50" y1="619.40" x2="1116.00" y2="619.40" stroke="#222" stroke-width="1" /><line x1="668.80" y1="616.73" x2="671.30" y2="616.73" stroke="#222" stroke-width="1" /><line x1="1122.50" y1="616.73" x2="1120.00" y2="616.73" stroke="#222" stroke-width="1" /><line x1="668.80" y1="614.05" x2="671.30" y2="614.05" stroke="#222" stroke-width="1" /><line x1="1122.50" y1="614.05" x2="1120.00" y2="614.05" stroke="#222" stroke-width="1" /><line x1="668.80" y1="611.38" x2="671.30" y2="611.38" stroke="#222" stroke-width="1" /><line x1="1122.50" y1="611.38" x2="1120.00" y2="611.38" stroke="#222" stroke-width="1" /><line x1="668.80" y1="608.70" x2="675.30" y2="608.70" stroke="#222" stroke-width="1" /><line x1="1122.50" y1="608.70" x2="1116.00" y2="608.70" stroke="#222" stroke-width="1" /><line x1="668.80" y1="606.02" x2="671.30" y2="606.02" stroke="#222" stroke-width="1" /><line x1="1122.50" y1="606.02" x2="1120.00" y2="606.02" stroke="#222" stroke-width="1" /><line x1="668.80" y1="603.35" x2="671.30" y2="603.35" stroke="#222" stroke-width="1" /><line x1="1122.50" y1="603.35" x2="1120.00" y2="603.35" stroke="#222" stroke-width="1" /><line x1="668.80" y1="600.67" x2="671.30" y2="600.67" stroke="#222" stroke-width="1" /><line x1="1122.50" y1="600.67" x2="1120.00" y2="600.67" stroke="#222" stroke-width="1" /><line x1="668.80" y1="598.00" x2="675.30" y2="598.00" stroke="#222" stroke-width="1" /><line x1="1122.50" y1="598.00" x2="1116.00" y2="598.00" stroke="#222" stroke-width="1" /><line x1="668.80" y1="595.33" x2="671.30" y2="595.33" stroke="#222" stroke-width="1" /><line x1="1122.50" y1="595.33" x2="1120.00" y2="595.33" stroke="#222" stroke-width="1" /><line x1="668.80" y1="592.65" x2="671.30" y2="592.65" stroke="#222" stroke-width="1" /><line x1="1122.50" y1="592.65" x2="1120.00" y2="592.65" stroke="#222" stroke-width="1" /><line x1="668.80" y1="589.98" x2="671.30" y2="589.98" stroke="#222" stroke-width="1" /><line x1="1122.50" y1="589.98" x2="1120.00" y2="589.98" stroke="#222" stroke-width="1" /><line x1="668.80" y1="587.30" x2="675.30" y2="587.30" stroke="#222" stroke-width="1" /><line x1="1122.50" y1="587.30" x2="1116.00" y2="587.30" stroke="#222" stroke-width="1" /><line x1="668.80" y1="584.62" x2="671.30" y2="584.62" stroke="#222" stroke-width="1" /><line x1="1122.50" y1="584.62" x2="1120.00" y2="584.62" stroke="#222" stroke-width="1" /><line x1="668.80" y1="581.95" x2="671.30" y2="581.95" stroke="#222" stroke-width="1" /><line x1="1122.50" y1="581.95" x2="1120.00" y2="581.95" stroke="#222" stroke-width="1" /><line x1="668.80" y1="579.27" x2="671.30" y2="579.27" stroke="#222" stroke-width="1" /><line x1="1122.50" y1="579.27" x2="1120.00" y2="579.27" stroke="#222" stroke-width="1" /><line x1="668.80" y1="576.60" x2="675.30" y2="576.60" stroke="#222" stroke-width="1" /><line x1="1122.50" y1="576.60" x2="1116.00" y2="576.60" stroke="#222" stroke-width="1" /><line x1="668.80" y1="573.92" x2="671.30" y2="573.92" stroke="#222" stroke-width="1" /><line x1="1122.50" y1="573.92" x2="1120.00" y2="573.92" stroke="#222" stroke-width="1" /><line x1="668.80" y1="571.25" x2="671.30" y2="571.25" stroke="#222" stroke-width="1" /><line x1="1122.50" y1="571.25" x2="1120.00" y2="571.25" stroke="#222" stroke-width="1" /><line x1="668.80" y1="568.58" x2="671.30" y2="568.58" stroke="#222" stroke-width="1" /><line x1="1122.50" y1="568.58" x2="1120.00" y2="568.58" stroke="#222" stroke-width="1" /><line x1="668.80" y1="565.90" x2="675.30" y2="565.90" stroke="#222" stroke-width="1" /><line x1="1122.50" y1="565.90" x2="1116.00" y2="565.90" stroke="#222" stroke-width="1" /><line x1="668.80" y1="563.23" x2="671.30" y2="563.23" stroke="#222" stroke-width="1" /><line x1="1122.50" y1="563.23" x2="1120.00" y2="563.23" stroke="#222" stroke-width="1" /><line x1="668.80" y1="560.55" x2="671.30" y2="560.55" stroke="#222" stroke-width="1" /><line x1="1122.50" y1="560.55" x2="1120.00" y2="560.55" stroke="#222" stroke-width="1" /><text x="1125.00" y="569.60" font-size="10.7" text-anchor="start" fill="#000" >0.6</text><text x="1125.00" y="580.30" font-size="10.7" text-anchor="start" fill="#000" >0.4</text><text x="1125.00" y="591.00" font-size="10.7" text-anchor="start" fill="#000" >0.2</text><text x="1125.00" y="601.70" font-size="10.7" text-anchor="start" fill="#000" >0.0</text><text x="1125.00" y="612.40" font-size="10.7" text-anchor="start" fill="#000" >-0.2</text><text x="1125.00" y="623.10" font-size="10.7" text-anchor="start" fill="#000" >-0.4</text><text x="1125.00" y="633.80" font-size="10.7" text-anchor="start" fill="#000" >-0.6</text><rect x="668.80" y="558.68" width="453.70" height="73.84" fill="none" stroke="#000" stroke-width="1.35"/><line x1="674.50" y1="562.50" x2="692.00" y2="562.50" stroke="#ff00ff" stroke-width="1.6" stroke-dasharray="1.6 1.0"/><text x="693.00" y="565.50" font-size="8.6" text-anchor="start" fill="#ff20ff" >t&#160;&#160;maxJ</text><line x1="674.50" y1="570.30" x2="692.00" y2="570.30" stroke="#3030ff" stroke-width="1.0"/><text x="693.5" y="573.3" font-size="8.6" fill="#3030ff">J<tspan font-size="6" dy="2">L</tspan></text><line x1="674.50" y1="577.30" x2="692.00" y2="577.30" stroke="#30ff30" stroke-width="1.0"/><text x="693.5" y="580.3" font-size="8.6" fill="#30ff30">J<tspan font-size="6" dy="2">M</tspan></text><line x1="674.50" y1="584.30" x2="692.00" y2="584.30" stroke="#ff3030" stroke-width="1.0"/><text x="693.5" y="587.3" font-size="8.6" fill="#ff3030">J<tspan font-size="6" dy="2">N</tspan></text><text transform="translate(1156.00,595.00) rotate(-90)" font-size="11" text-anchor="middle" fill="#000">J [&#181;A m<tspan font-size="8" dy="-4">-2</tspan><tspan dy="4" font-size="1">&#8203;</tspan>]</text><line x1="733.60" y1="638.52" x2="733.60" y2="706.36" stroke="#00aa00" stroke-width="1.3" stroke-dasharray="10 4.4"/><line x1="900.40" y1="638.52" x2="900.40" y2="706.36" stroke="#00aa00" stroke-width="1.3" stroke-dasharray="10 4.4"/><line x1="775.40" y1="638.52" x2="775.40" y2="706.36" stroke="#ff4848" stroke-width="1.7" stroke-dasharray="11 4"/><line x1="858.70" y1="638.52" x2="858.70" y2="706.36" stroke="#ff0000" stroke-width="1.3" stroke-dasharray="11 4"/><line x1="771.80" y1="638.52" x2="771.80" y2="706.36" stroke="#0000ff" stroke-width="1.3" stroke-dasharray="2 3.4"/><line x1="826.60" y1="638.52" x2="826.60" y2="706.36" stroke="#ff00ff" stroke-width="1.5" stroke-dasharray="2 3.4"/><line x1="944.30" y1="638.52" x2="944.30" y2="706.36" stroke="#ff00ff" stroke-width="1.5" stroke-dasharray="2 3.4"/><g clip-path="url(#cm8)"><path d="M668.8 663.5l.5-3.4 .5 6.4 .5-5.2 .5 2.9 .5-4.2 .5 3.5 .5-3.1 .5 1.9 .5-2.8 .5 4.4 .5-3.3 .5 6.6 .5-8.6 .5 3.2 .5-4.9 .5 4.3 .5-4.1 .5 4.9 .5-1.1 .5 .9 .5-5.8 .5 9.6 .5-5.5 .5 3.7 .5-4.3 .5 4 .5-5 .5 5.6 .5-2.9 .5 3.2 .5-3.2 .5 2.5 .5-4.6 .5 4 .5-3.9 .5 4.3 .5-6.5 .5 9.5 .5-13 .5 10.9 .5-3.3 .5 2.1 .5-2.9 .5 6.4 .5-10 .5 7.8 .5-3.8 .5 4.8 .5 .1 .5-2.6 .5-1.9 .5 1.6 .5-4.2 .5 4.9 .5-5 .5 5.8 .5-8.4 .5 5.7 .5 0 .5 3.9 .5-4.5 .5 4.6 .5-5.6 .5 4.7 .5-3 .5 1.4 .5-4.5 .5 2.4 .5-1.9 .5 3.3 .5-1.6 .5 5.2 .5-6.1 .5 6.4 .5-4.8 .5 2.3 .5-4.2 .5 4.7 .5-2 .5 4.8 .5-6.1 .5 3.5 .5-6.7 .5 7.5 .5-4.4 .5 5.1 .5-6.7 .5 4.5 .5 2.1 .5-1.7 .5-2.5 .5 5.1 .5-3.8 .5 19.7 .5-18.4 .5 1.2 .5-3.8 .5 2.7 .5-1.4 .5 3 .5-7 .5 4.9 .5-11.3 .5 11.6 .5-3.6 .5 5.6 .5-5.4 .5 2.6 .5-2.7 .5 2.9 .5-9.8 .5 10.8 .5-4.7 .5 3.5 .5-.8 .5 2.6 .5-3.7 .5 2.2 .5-1.3 .5 4.4 .5-3.9 .5 1.5 .5-2 .5 2.5 .5-5.1 .5 3.8 .5-4.2 .5 5.9 .5-3.5 .5 1.8 .5-3.7 .5 3.4 .5-2.3 .5 4.2 .5-5 .5 2.5 .5-2.6 .5 7.8 .5-8.4 .5 4.9 .5-4.1 .5 3.4 .5-4.1 .5 5.5 .5-4.3 .5 2.5 .5-2 .5 2.8 .5-4 .5 4 .5-5 .5 8.2 .5-5.8 .5 1.8 .5-8.6 .5 8.6 .5-3.5 .5 5.2 .5-4.1 .5 1.8 .5-4.8 .5 4.5 .5-2.8 .5 3.7 .5-3.2 .5 3.5 .5-5.7 .5 5.3 .5-2.4 .5 3.4 .5-5.8 .5 6.6 .5-4.4 .5 2.9 .5-1.8 .5 5.5 .5-6 .5 7.1 .5-8.3 .5 6 .5-5 .5 4.3 .5-4.9 .5 3.4 .5-4.4 .5 8.3 .5-11 .5 7.4 .5-3.1 .5 7.8 .5-14 .5 11.3 .5-7 .5 10.4 .5-12.2 .5 8.1 .5-7.4 .5 7.5 .5-8.2 .5 7.7 .5-9.4 .5 8.8 .5-5.4 .5 5.9 .5-22.8 .5 24.7 .5-7.7 .5 9.7 .5-10.2 .5 12.2 .5-20.4 .5 14.7 .5-8.2 .5 11.7 .5-12.2 .5 16.7 .5-13.4 .5 10.3 .5-8.2 .5 7.1 .5-5.9 .5 7.5 .5-10.1 .5 10.1 .5-5.9 .5 5.1 .5-13.9 .5 20.6 .5-19 .5 10.3 .5-6.7 .5 15.4 .5-16.8 .5 21.8 .5-24.1 .5 15.4 .5-11.3 .5 11.1 .5-12.2 .5 9.4 .5-11.4 .5 9.6 .5-9.2 .5 10.9 .5-11.9 .5 7.6 .5-8.2 .5 5.8 .5-12.8 .5 18.6 .5-4.9 .5 3.5 .5-9.5 .5 9.9 .5-10.1 .5 30.5 .5-28.8 .5 7.2 .5-14.2 .5-19.2 .5 25.7 .5 8.4 .5-2.9 .5 5.5 .5-10.2 .5 .7 .5-4 .5 16.1 .5-16.4 .5 14.5 .5-9.4 .5 8.8 .5-3.3 .5 9.5 .5-18.7 .5 15 .5-17 .5 9.9 .5-13.9 .5 11.6 .5-12.7 .5 21.5 .5-18.7 .5 12.9 .5-23.7 .5 31.1 .5-18.8 .5-7.2 .5 7.7 .5 13.5 .5-8.5 .5 12 .5-11 .5-6.9 .5 2.4 .5 14.1 .5-17.8 .5 16.6 .5-8.6 .5 8 .5-13.4 .5 21.7 .5-18 .5 11.9 .5-14.3 .5 17.1 .5-17.2 .5 9.7 .5-16.9 .5 14 .5-11.7 .5 9.5 .5-3.9 .5 8.2 .5-11.1 .5 8 .5 38.1 .5 0 .5-42.7 .5 3.3 .5-.5 .5 3.9 .5-6.5 .5 6.3 .5-7.6 .5 11.4 .5-8.8 .5 7.3 .5-9.5 .5 12.8 .5-12.2 .5 7.8 .5-9.9 .5 11.7 .5-8.3 .5 9.9 .5-7.4 .5 7.8 .5-5.1 .5 1.1 .5-4.3 .5 5.3 .5-14.3 .5 15.7 .5-10.4 .5 13.9 .5-21.4 .5 18.7 .5-6.7 .5 10 .5-11.3 .5 8 .5-10.2 .5 13.7 .5 .6 .5-4.6 .5-9.9 .5 10.1 .5-28.6 .5 29.8 .5-14 .5 12.2 .5-7.1 .5 16.6 .5-13.6 .5 2.1 .5-7.5 .5 5.5 .5-11 .5 12.4 .5-12.7 .5 18.5 .5-13.2 .5 9 .5-9.5 .5 7.6 .5-2.6 .5-23.6 .5 16 .5 18 .5-6.2 .5 6.5 .5-11.7 .5 1.5 .5-11 .5 18.6 .5-15.9 .5 15 .5-8.4 .5 11.5 .5-11.7 .5 7.2 .5-10.3 .5 18.8 .5-13 .5 11.2 .5-17 .5 8.9 .5-4.4 .5 8.3 .5-12.7 .5 9.3 .5-8.2 .5 16.9 .5-20 .5 17.1 .5-16.9 .5 12.3 .5-11.8 .5 16.5 .5-10 .5 18.8 .5-28.5 .5 16 .5-8.4 .5 9 .5-19.8 .5 16.4 .5-9.4 .5 7.6 .5-8.7 .5 21.1 .5-27.7 .5 15.8 .5-9.8 .5 7.2 .5-3.3 .5 5.8 .5-25 .5 23.3 .5-7.2 .5 14 .5-9.6 .5 7.9 .5-11.5 .5 8.6 .5-6.9 .5 7.9 .5-6.1 .5 9.5 .5-16.2 .5 17.8 .5-11.6 .5 5.3 .5-12.9 .5 18.6 .5-2.1 .5-.1 .5-7.1 .5 5.4 .5-12.6 .5-3.2 .5 4.6 .5 13.4 .5-9.9 .5 12.3 .5-15.1 .5 8.2 .5-7.7 .5 11.4 .5-6.6 .5 16.9 .5-20.5 .5 2.8 .5-5.6 .5 13.2 .5-12.2 .5 10.6 .5-12.6 .5 10.5 .5-12 .5 14.2 .5-15.2 .5 15.5 .5-9 .5 12.8 .5-18.6 .5 13.8 .5-9.7 .5 11.1 .5 28 .5-30 .5-10.7 .5 9.8 .5-15.6 .5 13.5 .5-3.8 .5 10.1 .5-18.3 .5 14.7 .5-9.3 .5 17.4 .5-21.6 .5 19.9 .5-11.9 .5 3.8 .5-4.4 .5 2.1 .5-11.8 .5 12 .5-4.1 .5 10.2 .5-8.6 .5 6.9 .5-14 .5 16.6 .5-9.1 .5 6.1 .5-4.6 .5 11.6 .5-17.1 .5 15.8 .5-7.7 .5 3.5 .5-8.1 .5 9.6 .5-12.4 .5 13.7 .5-9.8 .5 20.8 .5-27.6 .5 15.6 .5-9.4 .5 9.1 .5-11.3 .5 10.9 .5-6.1 .5 6.8 .5-12.5 .5 14.1 .5-11.5 .5 8.8 .5-15.6 .5 18 .5-14.2 .5 8.2 .5-5.7 .5 11 .5-8.4 .5 8.3 .5-9.3 .5 6.6 .5-10.2 .5 10.1 .5-16.3 .5 20.7 .5-15.8 .5 16.4 .5-15.7 .5 25.4 .5-22 .5 2.4 .5-5.5 .5-11.3 .5 10.2 .5 8.2 .5 22.6 .5-20.1 .5-11.7 .5 13.9 .5-6.1 .5 5.1 .5-6.1 .5 23.6 .5-26.4 .5 12.2 .5-8.5 .5 1.3 .5-7.7 .5 8.9 .5-3.8 .5 24.7 .5-7.3 .5-7.5 .5-14.1 .5 20.5 .5-19.5 .5 10.2 .5-11.5 .5 10.6 .5-7.9 .5 4.8 .5 8.1 .5-9.7 .5-4.3 .5 4.3 .5-3.4 .5 4.2 .5-17.1 .5 19.9 .5-11.5 .5 14.9 .5-16 .5 10.4 .5-4.7 .5 5.6 .5-2 .5 9.6 .5-7.8 .5 6.1 .5-13.3 .5-11 .5 8.8 .5 17.8 .5-13.1 .5 13.2 .5-17 .5 14.3 .5-5.5 .5 3.5 .5-13.6 .5 12.4 .5-13.3 .5 18.6 .5-18.5 .5 16.3 .5-9.5 .5 5.6 .5 40.1 .5 0 .5-48.4 .5 12.6 .5-11.1 .5 5 .5-3.8 .5 10.6 .5-13.4 .5 8.1 .5-9.7 .5-12.4 .5 15.1 .5 4 .5-6 .5 9.4 .5-8.9 .5 6.4 .5-6 .5 10 .5-11.9 .5-.6 .5-3.9 .5 12.3 .5-8.7 .5 14.6 .5-10.2 .5 11.8 .5-14.5 .5 11.4 .5-10.1 .5 4 .5-3.8 .5 7.1 .5-4.1 .5 10.7 .5-14.9 .5 11 .5-8.6 .5 7.6 .5-9 .5 4.1 .5-5.9 .5 10 .5-7.1 .5 11.2 .5-7.8 .5 2.7 .5-7.5 .5 9.7 .5-15.8 .5 14.7 .5-4.7 .5 4 .5-5.6 .5 4 .5-8.2 .5 7.8 .5-.1 .5 3.1 .5 4.7 .5 1.4 .5-12.6 .5 4.9 .5-3.1 .5 6.4 .5-6.6 .5 4.7 .5-11.7 .5 11.9 .5-4.5 .5 5.1 .5-10.1 .5 13 .5-22.2 .5 15 .5-5.9 .5 8 .5-6.8 .5 9.1 .5-8.5 .5 8.2 .5-5.5 .5 4 .5-7.9 .5 17.3 .5-15.5 .5 8.6 .5-11.5 .5 6.9 .5-2.7 .5 4.5 .5-7 .5 5 .5-6.2 .5 5 .5-.9 .5 4.3 .5-6.6 .5 3.2 .5-8.2 .5 10.2 .5-7.1 .5 6.4 .5 .6 .5 1.4 .5-6.5 .5 6 .5-4.6 .5 3 .5-6 .5 10.2 .5-12.1 .5 9.2 .5-6.5 .5 5.7 .5-7.4 .5 7.4 .5 0 .5-1.1 .5-5.2 .5 7.1 .5 1.3 .5-4.6 .5 2.1 .5 1.8 .5-6.7 .5 10.3 .5-4.4 .5 .4 .5-4.2 .5 4 .5-2.3 .5 4.3 .5-10.5 .5 7.6 .5-6.2 .5 7.8 .5-6.4 .5 3.5 .5-1.6 .5 2.2 .5-3.9 .5 3.5 .5-1 .5 3.5 .5-9.6 .5 13.1 .5-7.1 .5 12.9 .5-18.2 .5 9.2 .5-1.6 .5 12.7 .5-16.8 .5 5.8 .5-4.9 .5 3.1 .5-6.6 .5 7.7 .5-6.2 .5 6.3 .5-2.6 .5 1.8 .5-2.7 .5 1.3 .5-3.2 .5 6.7 .5-10.2 .5 6.8 .5-2.4 .5 2.5 .5-3.2 .5 4.3 .5-1.7 .5 3.8 .5-4.4 .5 6 .5-5.9 .5 3.6 .5-7.8 .5 4.8 .5-1.9 .5 5.6 .5-10.7 .5 11.1 .5-5.2 .5 4.4 .5-3.2 .5 4.5 .5-4.3 .5 2.3 .5-2.5 .5 .9 .5-.9 .5 2.1 .5-3.7 .5 1.6 .5-1.3 .5 3.2 .5-4.3 .5 4.2 .5-2.6 .5 2.5 .5-7.7 .5 7.7 .5-3.1 .5 5.2 .5-7.7 .5 5.5 .5-2.8 .5 2.1 .5-3.8 .5 .7 .5-3.8 .5 7.7 .5-6.3 .5 6.4 .5-1.8 .5 2.2 .5-2.2 .5 3.1 .5-3.8 .5 3.2 .5-3.2 .5 1.9 .5-3.4 .5 2.9 .5-2.1 .5 2.5 .5-2.1 .5 1.6 .5-2 .5 .7 .5-.6 .5 3.2 .5-4.1 .5 3.5 .5-2.9 .5 2.5 .5-1.9 .5 1.5 .5-1.4 .5 2 .5-2 .5 2.1 .5-1.8 .5 1.8 .5-2.7 .5 3 .5-2.5 .5 3.6 .5-3 .5 2.1 .5 1.5 .5-1.7 .5-1.5 .5 3.1 .5-2.3 .5 2.9 .5-3.5 .5 .6 .5-1.2 .5 1.4 .5-4.4 .5 4.3 .5-1.9 .5 3.3 .5-2.7 .5 3 .5-3.5 .5 .7 .5-1 .5 3.4 .5-3.5 .5 1.3 .5-1.6 .5 3.4 .5-2.8 .5 4.8 .5-3.9 .5 1.5 .5-2.4 .5 2.5 .5 .4 .5-.7 .5-1.2 .5 1.7 .5-3.6" fill="none" stroke="#000" stroke-width="1.05" /></g><line x1="684.22" y1="632.52" x2="684.22" y2="636.52" stroke="#222" stroke-width="1.0" /><line x1="684.22" y1="706.36" x2="684.22" y2="702.36" stroke="#222" stroke-width="1.0" /><line x1="710.96" y1="632.52" x2="710.96" y2="636.52" stroke="#222" stroke-width="1.0" /><line x1="710.96" y1="706.36" x2="710.96" y2="702.36" stroke="#222" stroke-width="1.0" /><line x1="737.70" y1="632.52" x2="737.70" y2="643.52" stroke="#222" stroke-width="1.3" /><line x1="737.70" y1="706.36" x2="737.70" y2="695.36" stroke="#222" stroke-width="1.3" /><line x1="764.44" y1="632.52" x2="764.44" y2="636.52" stroke="#222" stroke-width="1.0" /><line x1="764.44" y1="706.36" x2="764.44" y2="702.36" stroke="#222" stroke-width="1.0" /><line x1="791.18" y1="632.52" x2="791.18" y2="636.52" stroke="#222" stroke-width="1.0" /><line x1="791.18" y1="706.36" x2="791.18" y2="702.36" stroke="#222" stroke-width="1.0" /><line x1="817.92" y1="632.52" x2="817.92" y2="643.52" stroke="#222" stroke-width="1.3" /><line x1="817.92" y1="706.36" x2="817.92" y2="695.36" stroke="#222" stroke-width="1.3" /><line x1="844.66" y1="632.52" x2="844.66" y2="636.52" stroke="#222" stroke-width="1.0" /><line x1="844.66" y1="706.36" x2="844.66" y2="702.36" stroke="#222" stroke-width="1.0" /><line x1="871.40" y1="632.52" x2="871.40" y2="636.52" stroke="#222" stroke-width="1.0" /><line x1="871.40" y1="706.36" x2="871.40" y2="702.36" stroke="#222" stroke-width="1.0" /><line x1="898.14" y1="632.52" x2="898.14" y2="643.52" stroke="#222" stroke-width="1.3" /><line x1="898.14" y1="706.36" x2="898.14" y2="695.36" stroke="#222" stroke-width="1.3" /><line x1="924.88" y1="632.52" x2="924.88" y2="636.52" stroke="#222" stroke-width="1.0" /><line x1="924.88" y1="706.36" x2="924.88" y2="702.36" stroke="#222" stroke-width="1.0" /><line x1="951.62" y1="632.52" x2="951.62" y2="636.52" stroke="#222" stroke-width="1.0" /><line x1="951.62" y1="706.36" x2="951.62" y2="702.36" stroke="#222" stroke-width="1.0" /><line x1="978.36" y1="632.52" x2="978.36" y2="643.52" stroke="#222" stroke-width="1.3" /><line x1="978.36" y1="706.36" x2="978.36" y2="695.36" stroke="#222" stroke-width="1.3" /><line x1="1005.10" y1="632.52" x2="1005.10" y2="636.52" stroke="#222" stroke-width="1.0" /><line x1="1005.10" y1="706.36" x2="1005.10" y2="702.36" stroke="#222" stroke-width="1.0" /><line x1="1031.84" y1="632.52" x2="1031.84" y2="636.52" stroke="#222" stroke-width="1.0" /><line x1="1031.84" y1="706.36" x2="1031.84" y2="702.36" stroke="#222" stroke-width="1.0" /><line x1="1058.58" y1="632.52" x2="1058.58" y2="643.52" stroke="#222" stroke-width="1.3" /><line x1="1058.58" y1="706.36" x2="1058.58" y2="695.36" stroke="#222" stroke-width="1.3" /><line x1="1085.32" y1="632.52" x2="1085.32" y2="636.52" stroke="#222" stroke-width="1.0" /><line x1="1085.32" y1="706.36" x2="1085.32" y2="702.36" stroke="#222" stroke-width="1.0" /><line x1="1112.06" y1="632.52" x2="1112.06" y2="636.52" stroke="#222" stroke-width="1.0" /><line x1="1112.06" y1="706.36" x2="1112.06" y2="702.36" stroke="#222" stroke-width="1.0" /><line x1="668.80" y1="701.82" x2="672.00" y2="701.82" stroke="#222" stroke-width="1" /><line x1="1122.50" y1="701.82" x2="1119.30" y2="701.82" stroke="#222" stroke-width="1" /><line x1="668.80" y1="697.44" x2="672.00" y2="697.44" stroke="#222" stroke-width="1" /><line x1="1122.50" y1="697.44" x2="1119.30" y2="697.44" stroke="#222" stroke-width="1" /><line x1="668.80" y1="693.06" x2="672.00" y2="693.06" stroke="#222" stroke-width="1" /><line x1="1122.50" y1="693.06" x2="1119.30" y2="693.06" stroke="#222" stroke-width="1" /><line x1="668.80" y1="688.68" x2="672.00" y2="688.68" stroke="#222" stroke-width="1" /><line x1="1122.50" y1="688.68" x2="1119.30" y2="688.68" stroke="#222" stroke-width="1" /><line x1="668.80" y1="684.30" x2="675.30" y2="684.30" stroke="#222" stroke-width="1" /><line x1="1122.50" y1="684.30" x2="1116.00" y2="684.30" stroke="#222" stroke-width="1" /><line x1="668.80" y1="679.92" x2="672.00" y2="679.92" stroke="#222" stroke-width="1" /><line x1="1122.50" y1="679.92" x2="1119.30" y2="679.92" stroke="#222" stroke-width="1" /><line x1="668.80" y1="675.54" x2="672.00" y2="675.54" stroke="#222" stroke-width="1" /><line x1="1122.50" y1="675.54" x2="1119.30" y2="675.54" stroke="#222" stroke-width="1" /><line x1="668.80" y1="671.16" x2="672.00" y2="671.16" stroke="#222" stroke-width="1" /><line x1="1122.50" y1="671.16" x2="1119.30" y2="671.16" stroke="#222" stroke-width="1" /><line x1="668.80" y1="666.78" x2="672.00" y2="666.78" stroke="#222" stroke-width="1" /><line x1="1122.50" y1="666.78" x2="1119.30" y2="666.78" stroke="#222" stroke-width="1" /><line x1="668.80" y1="662.40" x2="675.30" y2="662.40" stroke="#222" stroke-width="1" /><line x1="1122.50" y1="662.40" x2="1116.00" y2="662.40" stroke="#222" stroke-width="1" /><line x1="668.80" y1="658.02" x2="672.00" y2="658.02" stroke="#222" stroke-width="1" /><line x1="1122.50" y1="658.02" x2="1119.30" y2="658.02" stroke="#222" stroke-width="1" /><line x1="668.80" y1="653.64" x2="672.00" y2="653.64" stroke="#222" stroke-width="1" /><line x1="1122.50" y1="653.64" x2="1119.30" y2="653.64" stroke="#222" stroke-width="1" /><line x1="668.80" y1="649.26" x2="672.00" y2="649.26" stroke="#222" stroke-width="1" /><line x1="1122.50" y1="649.26" x2="1119.30" y2="649.26" stroke="#222" stroke-width="1" /><line x1="668.80" y1="644.88" x2="672.00" y2="644.88" stroke="#222" stroke-width="1" /><line x1="1122.50" y1="644.88" x2="1119.30" y2="644.88" stroke="#222" stroke-width="1" /><line x1="668.80" y1="640.50" x2="675.30" y2="640.50" stroke="#222" stroke-width="1" /><line x1="1122.50" y1="640.50" x2="1116.00" y2="640.50" stroke="#222" stroke-width="1" /><line x1="668.80" y1="636.12" x2="672.00" y2="636.12" stroke="#222" stroke-width="1" /><line x1="1122.50" y1="636.12" x2="1119.30" y2="636.12" stroke="#222" stroke-width="1" /><text x="666.00" y="644.20" font-size="10.7" text-anchor="end" fill="#000" >0.5</text><text x="666.00" y="666.10" font-size="10.7" text-anchor="end" fill="#000" >0.0</text><text x="666.00" y="688.00" font-size="10.7" text-anchor="end" fill="#000" >-0.5</text><rect x="668.80" y="632.52" width="453.70" height="73.84" fill="none" stroke="#000" stroke-width="1.35"/><line x1="674.50" y1="647.00" x2="692.00" y2="647.00" stroke="#444" stroke-width="1.0"/><text x="695.50" y="650.30" font-size="8.6" text-anchor="start" fill="#201010" >J*E'</text><text transform="translate(641.50,669.00) rotate(-90)" font-size="11" text-anchor="middle" fill="#000">J*E' [nW m<tspan font-size="8" dy="-4">-3</tspan><tspan dy="4" font-size="1">&#8203;</tspan>]</text><text x="737.70" y="724.50" font-size="11" text-anchor="middle" fill="#000" >19:04:30</text><text x="817.92" y="724.50" font-size="11" text-anchor="middle" fill="#000" >19:05:00</text><text x="898.14" y="724.50" font-size="11" text-anchor="middle" fill="#000" >19:05:30</text><text x="978.36" y="724.50" font-size="11" text-anchor="middle" fill="#000" >19:06:00</text><text x="1058.58" y="724.50" font-size="11" text-anchor="middle" fill="#000" >19:06:30</text><text x="646.50" y="745.80" font-size="11" text-anchor="start" fill="#000" >X</text><text x="737.70" y="745.80" font-size="11" text-anchor="middle" fill="#000" >1.98</text><text x="817.92" y="745.80" font-size="11" text-anchor="middle" fill="#000" >1.99</text><text x="898.14" y="745.80" font-size="11" text-anchor="middle" fill="#000" >1.99</text><text x="978.36" y="745.80" font-size="11" text-anchor="middle" fill="#000" >2</text><text x="1058.58" y="745.80" font-size="11" text-anchor="middle" fill="#000" >2</text><text x="1135.80" y="745.80" font-size="11" text-anchor="start" fill="#000" >Re</text><text x="646.50" y="764.00" font-size="11" text-anchor="start" fill="#000" >Y</text><text x="737.70" y="764.00" font-size="11" text-anchor="middle" fill="#000" >-11.3</text><text x="817.92" y="764.00" font-size="11" text-anchor="middle" fill="#000" >-11.3</text><text x="898.14" y="764.00" font-size="11" text-anchor="middle" fill="#000" >-11.3</text><text x="978.36" y="764.00" font-size="11" text-anchor="middle" fill="#000" >-11.3</text><text x="1058.58" y="764.00" font-size="11" text-anchor="middle" fill="#000" >-11.3</text><text x="1135.80" y="764.00" font-size="11" text-anchor="start" fill="#000" >Re</text><text x="646.50" y="780.80" font-size="11" text-anchor="start" fill="#000" >Z</text><text x="737.70" y="780.80" font-size="11" text-anchor="middle" fill="#000" >-1.19</text><text x="817.92" y="780.80" font-size="11" text-anchor="middle" fill="#000" >-1.19</text><text x="898.14" y="780.80" font-size="11" text-anchor="middle" fill="#000" >-1.19</text><text x="978.36" y="780.80" font-size="11" text-anchor="middle" fill="#000" >-1.19</text><text x="1058.58" y="780.80" font-size="11" text-anchor="middle" fill="#000" >-1.19</text><text x="1135.80" y="780.80" font-size="11" text-anchor="start" fill="#000" >Re</text><text x="627.50" y="11.40" font-size="11" text-anchor="start" fill="#000" >Plot layout GP 19/10/2018</text><text x="868.80" y="34.60" font-size="18" text-anchor="start" fill="#000" >MMS2</text><text x="996.60" y="23.60" font-size="18" text-anchor="start" fill="#9a0000" font-weight="bold" >20160217_190404</text><text x="1187.20" y="837.20" font-size="12" text-anchor="end" fill="#000" >paschmann 25-Oct-2018 13:59</text><g font-family='"Liberation Mono", monospace' font-size="13.333" fill="#000" style="white-space:pre" xml:space="preserve"><text x="1219" y="20">:</text><text x="1227" y="35">Event&#160;ID&#160;&#160;&#160;&#160;&#160;&#160;&#160;&#160;&#160;:&#160;20160217_190404</text><text x="1227" y="50">FlagStr&#160;&#160;&#160;&#160;&#160;&#160;&#160;&#160;&#160;&#160;:&#160;ot,udef,nmon,bf,mult,part,keep</text><text x="1227" y="65">GSEpos&#160;[Re]&#160;&#160;&#160;&#160;&#160;&#160;:&#160;[&#160;1.97,&#160;-11.33,&#160;-1.19&#160;]</text><text x="1363" y="80">:</text><text x="1227" y="95">LMN&#160;coords&#160;&#160;&#160;&#160;&#160;&#160;&#160;:</text><text x="1251" y="110">L&#160;&#160;&#160;&#160;&#160;&#160;&#160;&#160;&#160;&#160;&#160;&#160;&#160;:&#160;[&#160;&#160;0.418,&#160;&#160;0.508,&#160;&#160;0.753&#160;]</text><text x="1251" y="125">M&#160;&#160;&#160;&#160;&#160;&#160;&#160;&#160;&#160;&#160;&#160;&#160;&#160;:&#160;[&#160;-0.826,&#160;&#160;0.557,&#160;&#160;0.083&#160;]</text><text x="1251" y="140">N&#160;&#160;&#160;&#160;&#160;&#160;&#160;&#160;&#160;&#160;&#160;&#160;&#160;:&#160;[&#160;&#160;0.378,&#160;&#160;0.656,&#160;-0.653&#160;]</text><text x="1363" y="155">:</text><text x="1235" y="170">Times&#160;&#160;&#160;&#160;&#160;&#160;&#160;&#160;&#160;&#160;&#160;:&#160;(as&#160;indicated&#160;by&#160;red,&#160;green&#160;lines&#160;in&#160;plots)</text><text x="1251" y="185">t_0&#160;&#160;&#160;&#160;&#160;&#160;&#160;&#160;&#160;&#160;&#160;:&#160;19:04:50&#160;&#160;(red&#160;dotted&#160;line)</text><text x="1251" y="200">t_MVAB1&#160;&#160;&#160;&#160;&#160;&#160;&#160;:&#160;19:04:28&#160;&#160;(leftmost&#160;green&#160;line)</text><text x="1251" y="215">t_MVAB2&#160;&#160;&#160;&#160;&#160;&#160;&#160;:&#160;19:05:30&#160;&#160;(rightmost&#160;green&#160;line)</text><text x="1363" y="230">:</text><text x="1219" y="245">|Bmin|,&#160;|Vmax|&#160;&#160;&#160;&#160;:</text><text x="1251" y="260">Bmin&#160;&#160;&#160;&#160;&#160;&#160;&#160;&#160;&#160;&#160;:&#160;40.44&#160;[nT]&#160;&#160;at&#160;19:05:52</text><text x="1251" y="275">Vmax_tht&#160;&#160;&#160;&#160;&#160;&#160;:&#160;357.61&#160;[km/s]&#160;&#160;at&#160;19:04:42</text><text x="1251" y="290">Vmax_tburst&#160;&#160;&#160;:&#160;357.61&#160;[km/s]&#160;&#160;at&#160;19:05:23</text><text x="1363" y="305">:</text><text x="1227" y="320">Normals&#160;&#160;&#160;&#160;&#160;&#160;&#160;&#160;&#160;&#160;:</text><text x="1251" y="335">N&#160;MVAB&#160;&#160;&#160;&#160;&#160;&#160;&#160;&#160;:&#160;[&#160;&#160;0.320,&#160;&#160;0.687,&#160;-0.653&#160;]&#160;&#160;&#160;(L2/L1&#160;=&#160;4.03)</text><text x="1251" y="350">N&#160;MVAB0&#160;&#160;&#160;&#160;&#160;&#160;&#160;:&#160;[&#160;&#160;0.774,&#160;-0.632,&#160;&#160;0.038&#160;]&#160;&#160;&#160;(L3/L2&#160;=&#160;6.92)</text><text x="1251" y="365">N&#160;MFR&#160;&#160;&#160;&#160;&#160;&#160;&#160;&#160;&#160;:&#160;[&#160;-0.093,&#160;-0.833,&#160;&#160;0.546&#160;]&#160;&#160;&#160;(L2/L1&#160;=&#160;1.74)</text><text x="1363" y="380">:</text><text x="1227" y="395">Durations&#160;[s]&#160;&#160;&#160;&#160;:&#160;(between&#160;red,&#160;resp&#160;green&#160;lines)</text><text x="1251" y="410">T_CS&#160;&#160;&#160;&#160;&#160;&#160;&#160;&#160;&#160;&#160;:&#160;31.23</text><text x="1251" y="425">T_MFR/HT&#160;&#160;&#160;&#160;&#160;&#160;:&#160;102.46</text><text x="1363" y="440">:</text><text x="1227" y="455">Velocity&#160;[km/s]&#160;&#160;:&#160;(based&#160;on&#160;FPI&#160;ion&#160;data)</text><text x="1251" y="470">VnMFR&#160;&#160;&#160;&#160;&#160;&#160;&#160;&#160;&#160;:&#160;422.9</text><text x="1251" y="485">VHT.Nmvab&#160;&#160;&#160;&#160;&#160;:&#160;487.7&#160;&#160;(HTcc&#160;=&#160;0.967)</text><text x="1251" y="500">VHT.Nmvab0&#160;&#160;&#160;&#160;:&#160;18.1</text><text x="1363" y="515">:</text><text x="1227" y="530">CS&#160;thickness&#160;[km]:&#160;(D=T_CS&#160;*&#160;Vs&#160;from&#160;above)</text><text x="1251" y="545">D1=TCS*Vnmfr&#160;&#160;:&#160;13,208</text><text x="1251" y="560">D2=TCS*VHTn&#160;&#160;&#160;:&#160;15,231</text><text x="1251" y="575">D3=TCS*VHTn0&#160;&#160;:&#160;564</text><text x="1363" y="590">:</text><text x="1227" y="605">Currents&#160;[uA/m2]&#160;:</text><text x="1251" y="620">Jave_CS&#160;&#160;&#160;&#160;&#160;&#160;&#160;:&#160;0.019</text><text x="1251" y="635">Jmax_THT&#160;&#160;&#160;&#160;&#160;&#160;:&#160;0.610&#160;&#160;at&#160;19:05:03</text><text x="1251" y="650">Jmax_brst&#160;&#160;&#160;&#160;&#160;:&#160;0.750&#160;&#160;at&#160;19:05:47</text><text x="1363" y="665">:</text><text x="1227" y="680">HPCA&#160;mom&#160;[1/cm3]&#160;:&#160;&#160;&#160;Min&#160;&#160;&#160;-&#160;&#160;Max&#160;&#160;&#160;&#160;(&#160;&#160;Ave&#160;&#160;&#160;)&#160;&#160;within&#160;full&#160;brst&#160;int</text><text x="1251" y="695">H+&#160;&#160;&#160;&#160;&#160;&#160;&#160;&#160;&#160;&#160;&#160;&#160;:&#160;&#160;&#160;7.494&#160;-&#160;16.807&#160;&#160;(&#160;15.851&#160;)</text><text x="1251" y="710">He+&#160;&#160;&#160;&#160;&#160;&#160;&#160;&#160;&#160;&#160;&#160;:&#160;&#160;&#160;0.000&#160;-&#160;&#160;0.001&#160;&#160;(&#160;&#160;0.000&#160;)</text><text x="1251" y="725">He++&#160;&#160;&#160;&#160;&#160;&#160;&#160;&#160;&#160;&#160;:&#160;&#160;&#160;0.144&#160;-&#160;&#160;0.664&#160;&#160;(&#160;&#160;0.664&#160;)</text><text x="1251" y="740">O+&#160;&#160;&#160;&#160;&#160;&#160;&#160;&#160;&#160;&#160;&#160;&#160;:&#160;&#160;&#160;0.000&#160;-&#160;&#160;0.005&#160;&#160;(&#160;&#160;0.000&#160;)</text><text x="1363" y="755">:</text><text x="1227" y="770">SEH&#160;date&#160;&#160;&#160;&#160;&#160;&#160;&#160;&#160;&#160;:&#160;2019-11-29&#160;09:47:43</text><text x="1363" y="785">:</text></g></svg></body></html>
